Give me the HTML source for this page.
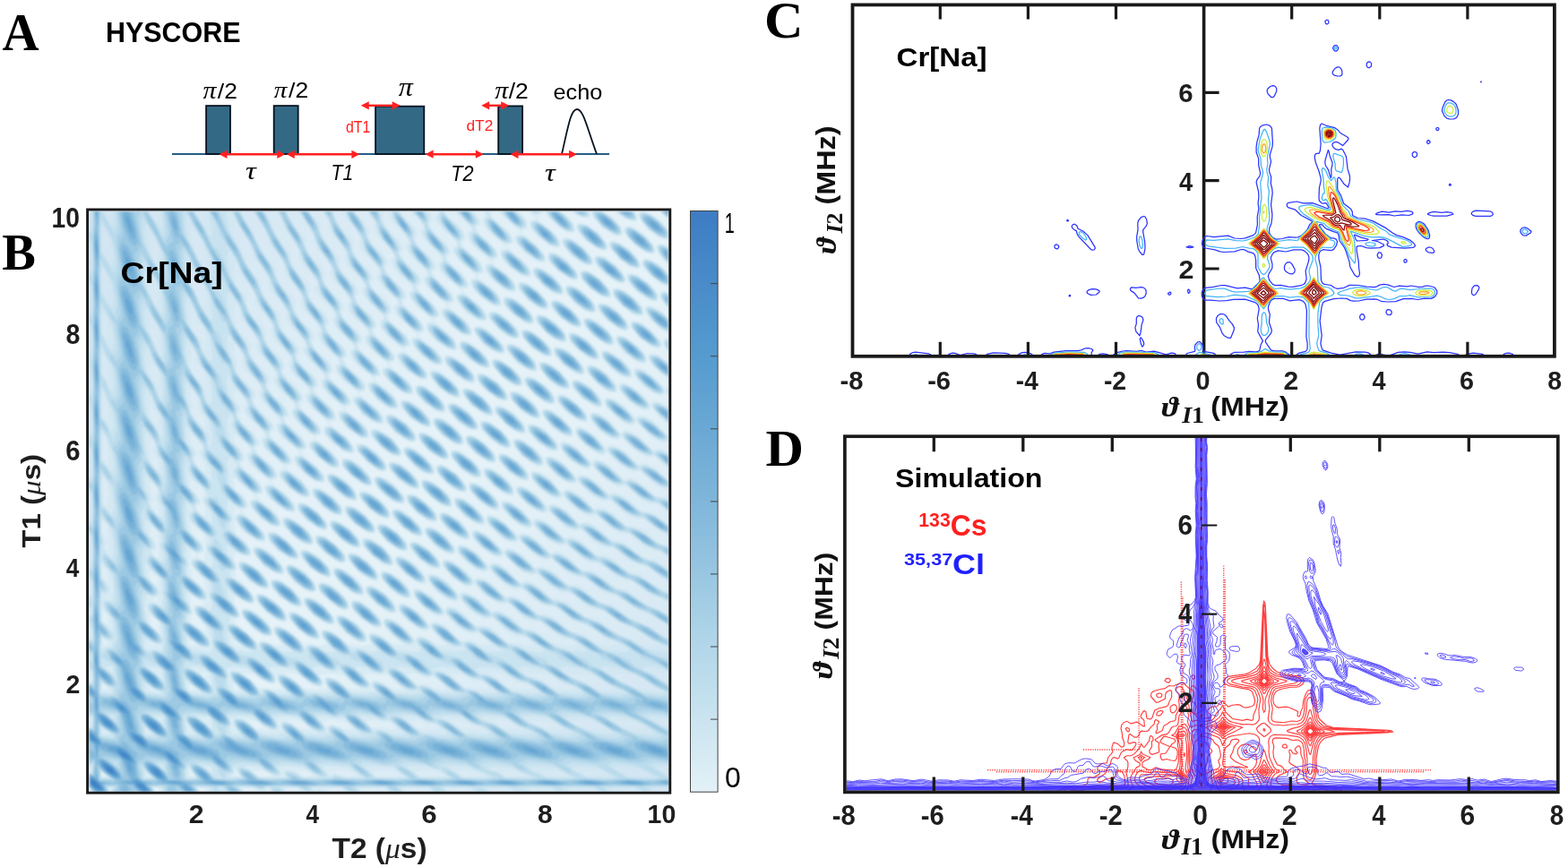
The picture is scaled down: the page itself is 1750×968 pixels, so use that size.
<!DOCTYPE html><html><head><meta charset="utf-8"><title>HYSCORE figure</title><style>html,body{margin:0;padding:0;background:#fff;width:1750px;height:968px;overflow:hidden}svg{display:block}</style></head><body><svg width="1750" height="968" viewBox="0 0 1750 968"><rect width="1750" height="968" fill="#fff"/>
<line x1="192" y1="172" x2="680" y2="172" stroke="#245f84" stroke-width="1.8"/>
<rect x="230.1" y="118.1" width="26.9" height="53.9" fill="#346985" stroke="#061220" stroke-width="1.8"/>
<rect x="305.7" y="118.1" width="27.0" height="53.9" fill="#346985" stroke="#061220" stroke-width="1.8"/>
<rect x="419.1" y="118.7" width="54.2" height="53.3" fill="#346985" stroke="#061220" stroke-width="1.8"/>
<rect x="556.2" y="118.4" width="26.9" height="53.6" fill="#346985" stroke="#061220" stroke-width="1.8"/>
<path d="M627 172C634 142 637 122 644 122C651 122 655 142 666 172" fill="none" stroke="#061220" stroke-width="1.8"/>
<line x1="252.5" y1="172.3" x2="310.3" y2="172.3" stroke="#ff2121" stroke-width="2.4"/>
<path d="M244.5 172.3l9.0 -4.6v9.2z M318.3 172.3l-9.0 -4.6v9.2z" fill="#ff2121"/>
<line x1="327.8" y1="172.3" x2="393.4" y2="172.3" stroke="#ff2121" stroke-width="2.4"/>
<path d="M319.8 172.3l9.0 -4.6v9.2z M401.4 172.3l-9.0 -4.6v9.2z" fill="#ff2121"/>
<line x1="410.8" y1="117.8" x2="438.7" y2="117.8" stroke="#ff2121" stroke-width="2.4"/>
<path d="M402.8 117.8l9.0 -4.6v9.2z M446.7 117.8l-9.0 -4.6v9.2z" fill="#ff2121"/>
<line x1="482.6" y1="172.2" x2="531.8" y2="172.2" stroke="#ff2121" stroke-width="2.4"/>
<path d="M474.6 172.2l9.0 -4.6v9.2z M539.8 172.2l-9.0 -4.6v9.2z" fill="#ff2121"/>
<line x1="545.2" y1="117.8" x2="560.2" y2="117.8" stroke="#ff2121" stroke-width="2.4"/>
<path d="M537.2 117.8l9.0 -4.6v9.2z M568.2 117.8l-9.0 -4.6v9.2z" fill="#ff2121"/>
<line x1="577.5" y1="172.3" x2="636.0" y2="172.3" stroke="#ff2121" stroke-width="2.4"/>
<path d="M569.5 172.3l9.0 -4.6v9.2z M644.0 172.3l-9.0 -4.6v9.2z" fill="#ff2121"/>
<defs><clipPath id="cb"><rect x="99" y="235.5" width="647.5" height="648.5"/></clipPath><filter id="fb" x="0" y="0" width="1" height="1"><feGaussianBlur stdDeviation="0.9"/></filter><linearGradient id="gcb" x1="0" y1="1" x2="0" y2="0"><stop offset="0" stop-color="#e3f1f7"/><stop offset="0.25" stop-color="#b2d7e9"/><stop offset="0.5" stop-color="#7fb6da"/><stop offset="0.75" stop-color="#559bcf"/><stop offset="1" stop-color="#3d7cc3"/></linearGradient></defs>
<g clip-path="url(#cb)"><rect x="99" y="235.5" width="647.5" height="648.5" fill="#e6f2f9"/><g filter="url(#fb)"><defs><linearGradient id="gh" gradientUnits="userSpaceOnUse" x1="99" y1="235" x2="747" y2="884"><stop offset="0.000" stop-color="#d2e5f2"/><stop offset="0.025" stop-color="#d3e5f2"/><stop offset="0.050" stop-color="#d4e6f2"/><stop offset="0.075" stop-color="#d4e6f3"/><stop offset="0.100" stop-color="#d5e7f3"/><stop offset="0.125" stop-color="#d6e8f3"/><stop offset="0.150" stop-color="#d7e8f4"/><stop offset="0.175" stop-color="#d8e9f4"/><stop offset="0.200" stop-color="#d9eaf4"/><stop offset="0.225" stop-color="#daebf5"/><stop offset="0.250" stop-color="#dcebf5"/><stop offset="0.275" stop-color="#ddecf5"/><stop offset="0.300" stop-color="#deedf6"/><stop offset="0.325" stop-color="#dfeef6"/><stop offset="0.350" stop-color="#e1eff7"/><stop offset="0.375" stop-color="#e2f0f7"/><stop offset="0.400" stop-color="#e3f0f7"/><stop offset="0.425" stop-color="#e4f1f8"/><stop offset="0.450" stop-color="#e4f1f8"/><stop offset="0.475" stop-color="#e5f2f8"/><stop offset="0.500" stop-color="#e5f2f8"/><stop offset="0.525" stop-color="#e5f2f8"/><stop offset="0.550" stop-color="#e5f2f8"/><stop offset="0.575" stop-color="#e4f2f8"/><stop offset="0.600" stop-color="#e4f1f8"/><stop offset="0.625" stop-color="#e3f1f7"/><stop offset="0.650" stop-color="#e2f0f7"/><stop offset="0.675" stop-color="#e1eff7"/><stop offset="0.700" stop-color="#e0eef6"/><stop offset="0.725" stop-color="#deedf6"/><stop offset="0.750" stop-color="#ddecf6"/><stop offset="0.775" stop-color="#dcecf5"/><stop offset="0.800" stop-color="#dbebf5"/><stop offset="0.825" stop-color="#d9eaf4"/><stop offset="0.850" stop-color="#d8e9f4"/><stop offset="0.875" stop-color="#d7e8f4"/><stop offset="0.900" stop-color="#d6e8f3"/><stop offset="0.925" stop-color="#d5e7f3"/><stop offset="0.950" stop-color="#d4e6f3"/><stop offset="0.975" stop-color="#d4e6f3"/><stop offset="1.000" stop-color="#d3e5f2"/></linearGradient></defs>
<rect x="99" y="235" width="648" height="649" fill="url(#gh)"/>
<path fill="#cde5f1" fill-opacity="0.5" fill-rule="evenodd" d="M732 884l-18 0-6-4-14 0-14 0 5 4-7 0-11 0-5-4-14 0-14 0 6 4-6 0-14 0-6-4-14 0-12 0 6 4-6 0-13 0-7-4-14 0-10 0 4 4-6 0-12 0-6-4-16 0-12 0 4 4-6 0-11 0-5-3-16-1-14 0 4 4-6 0-12 0-4-4-14 0-15 0 1 2 3 2-7 0-14 0-4-4-10 0-7 0 6 4-7 0-26 0-6-4-8 0-5 0 4 4-7 0-12 0-2-3-2 3-9 0-7-4-6 0-6 0 3 4-7 0-37 0-1-4-2 0-6 0 3 4-5 0-41 0 0-4-1 0-4 0 1 4-3 0-69 0 0-2-1-2-1-4 1-14 1 0-1-2-1-40 1-9 1 1 0-6-1-1-1-39 1-5 1 1 0-6 0-2-1-1-1-33 1-9 1 1 0-6 0-4-1-3-1-27 1-10 1 0 0-2 0-8-1-3 0-35 0 1 1-3 0-10-1-3-1-9 1-11 0 2 1-15 0-14-1-4-1-8 1-8 1 0 0-12 0-16-1-3-1-9 1-8 1 2 0-12-2-30 1-7 1 1 0-10-2-28 1-9 1 1 0-10 0-14-1-4-1-8 1-11 0 2 1-11 0-16-1-3-1-7 1-11 0 2 1-11 0-16-1-4-1-8 1-9 0 1 1 0 0-18 14 0 5 6 1-6 47 0 1 4 7 11 0-1 1-6 0-8 40 0 11 17 1-7 0-10 39 0 7 12 7 10 6 14 6 12 14 14 1 4-2 4 4 10 5 5 10 9 4 6 1 6-4 2 3 6 4 6 9 8 7 8 2 6-2 2-3 0 3 8 2 3 14 11 5 8 1 4-2 2-3 2 1 4 3 4 14 12 6 8 1 2 0 4-2 1-4 1 0 4 3 4 9 5 6 6 5 5 3 6 0 4-2 2-8-2-12-8-11-12-2-4 0-4 1-1 5-1 0-2-4-6-13-10-7-8-2-6 1-3 4-1-1-4-3-4-10-9-8-10-3-5 1-3 4 0-1-5-3-5-12-11-6-8-2-6 4-2-2-4-4-7-10-9-5-6-1-6 2-4-2-4-6-10-10-12-1-2 1-4-5-10-10-16-7-11-1 9 2 16 5 10 7 16 5 8 8 6 3 6 2 4-3 2 5 10 5 6 8 8 5 6 1 6-2 1-1 3 4 8 13 11 6 7 1 6-4 4 3 6 2 4 12 9 6 7 1 6 0 2-1 1-4 1 3 6 14 12 7 10 2 6-2 2-5 0 1 4 3 4 7 5 8 7 6 8 2 4-1 4-1 0-4 0-6-2-12-8-9-10-2-4 0-4 3-3 3 1-1-4-3-4-13-12-8-8-1-6 1-3 4-1-1-2-3-6-15-12-5-8-1-6 4-2-1-4-6-7-8-7-6-8-2-6 0-2 3-2-1-4-4-6-10-10-5-6-2-6 3-2-2-6-6-10-10-10-1-4 0-4-3-7-1 1-2 8 2 18 1 2 8 8 3 4 1 4-2 2 0 2 5 10 5 5 8 7 4 6 2 6-3 2 0 2 4 8 13 12 5 8 1 5-4 3 2 4 4 5 10 9 7 8 2 4 0 4-1 1-4 1 1 4 3 4 8 7 7 7 5 6 1 6-1 2-5 0 0 4 4 4 7 5 9 9 5 6 1 4 0 4-3 1-8-2-12-9-9-10-3-6 0-2 2-2 5 0-1-4-4-4-8-6-5-6-7-8-2-6 2-2 3 0 0-2-1-4-6-6-10-8-6-8-1-6 1-2 2-1 0-3-6-8-8-8-7-8-2-6 1-2 2 0 0-4-6-9-9-9-4-6-2-4 1-3 1-3-5-8 0-1-1 1-2 10 2 18 3 4 10 9 4 7 1 4-3 2 0 2 5 10 12 10 6 8 1 6-2 1-2 0 0 1 3 8 14 12 6 8 2 6-2 2-4 0 2 6 2 2 9 7 7 7 5 8 1 4-3 2-4 0 1 4 3 4 10 8 7 6 5 8 1 4-1 2-2 1-6-1-10-6-13-12-3-6 0-4 2-2 4 0 0-2-4-6-10-7-10-11-2-4 0-4 2-2 3 0-1-4-4-5-10-9-7-8-3-6 1-4 3 0-1-6-5-6-8-6-7-8-2-8 1-1 2-1 0-2-5-10-5-4-1 6 0 6 4 8 0 4-2 2 2 8 3 3 12 11 5 6 1 4 0 2-4 2 3 8 13 12 7 8 1 6-2 2-2 0-1 2 2 4 3 4 12 10 7 8 1 4 0 4-2 1-4 1 1 4 2 2 11 8 7 8 4 6 1 4 0 2-2 1-8-1-10-6-11-12-3-4-1-4 1-3 6-1-1-2-4-6-9-7-10-11-3-6 1-3 4-1-1-4-3-6-10-8-7-6-3-8 0-3 4-1-2-4-4-7-8-6-1 11 6 6 2 6-1 4-3 0 2 6 5 6 11 10 6 8 1 2 0 3-5 3 2 6 2 2 13 10 6 8 2 4 0 4-2 1-4 1 0 4 4 4 8 6 9 8 4 6 1 4 0 2-2 2-8-2-10-6-11-10-4-8 0-2 1-3 5-1 0-2-5-6-10-8-8-8-3-6 0-2 1-3 4-1-1-4-5-6-13-10 1 10 7 8 4 8 0 2-1 2-4 2 1 4 4 6 5 2 9 8 6 10 0 4-1 2-5 0 1 4 3 4 9 6 9 10 4 6 1 4-2 2-8-1-12-7-5-6-6-6-3-8 2-2 5 0-1-4-3-4-11-9-8-9-1 0 1 14 10 8 5 10 0 2-1 2-5 0 0 4 4 4 7 5 7 7 5 6 3 6 0 4-3 1-6-1-10-6-9-8-7-10 0-4 2-2 4 0 0-4-5-4-2 12 2 18 11 10 5 6 2 6-3 3-4 0-11-5-2 10 3 6 0 4-2 2 1 8 7 5 10 11 3 4 1 4 0 2-2 2-4 0-6-3-9-5-1 0-1 10 4 4 3 6 0 2-2 2-3 0 0 8 11 7 9 9 3 4 2 0 2-2 4 0 12 4 10 0-6-8-4-6-1-4 1-2 4-1 4 1 8 4 10 8 6 7 8 0 10 2 8-2 0-3-4-4-2-6 2-2 2-1 10 3 16 13 16 2 10-2-2-5-1-4 1-3 2 0 4 0 6 2 14 10 14 1 1 0-7-4-8-7-7-7-3-6 0-4 2-2 2 0 6 2 8 5 9 7 7 9 2 1 2-4 4 0 8 4 8 6 14 0-6-4-6-6-6-8-2-1-2 3-2 0-4 0-8-4-10-7-7-9-3-6 0-2 2-2 4 0 8 3 6 4 8 7 6 9 2 0 2-3 4 0 10 4 6 5 10 11 4 2 4-2 2 0 6 2 8 4 12 0-10-10-4-4-4 2-4 0-10-5-9-7-9-10-2-1-2 3-4 0-12-6-11-10-6-8 0-6 3-1 6 2 10 6 8 7 6 8 2 1 2-3 2-1 10 3 10 7 10 12 4 1 0-2 4 0 8 2 8 6 12 12 3 0 7 0 10 2 10 0-5-6-5-4-8 1-8-4-8-5-12-12-2-1-2 2-2 0-6-1-6-3-10-8-8-10-2-1-1 2-3 2-6-2-8-4-11-10-5-8-1-2 0-4 1-1 4 0 6 2 10 6 14 15 4-3 2 0 8 3 12 8 8 10 4 1 2-2 4 0 6 3 10 6 12 12 2 1 6-1 5 2 9 5 10 9 18 3 12-2-9-5-7 0-7-4-5-3-10-9-4-4-4-1-2 2-2 0-10-4-6-5-10-11-4-1 0-1-2 2-4 0-8-3-12-8-10-12-4 3-4 0-10-5-13-12-5-6-1-4 1-2 4-1 8 2 8 6 9 9 5 5 2 1 1-2 3-1 4 0 6 3 10 8 10 10 2 1 4-2 8 2 10 7 11 10 5 3 1-1 3-1 6 2 10 6 10 11 7 2 3 0 6 2 6 4 8 6 18 3 10-2-6-4-4 0-6-2-20-15-4-1-4 0-8-3-8-6-10-9-4-2-6 1-8-3-8-5-12-13-2 0-2 1-4 1-8-3-10-8-12-12-3 2-3 1-10-4-8-6-10-11-2-4 0-4 2-2 2 0 8 3 10 6 12 14 2 0 2-2 2-1 8 2 8 6 14 14 2 1 2-2 4-1 8 3 10 7 8 10 4 2 6-1 8 2 8 7 12 10 4 2 6 0 7 2 19 16 16 5 8 6 16 2 8-2-8-5-16-11-20-7-18-14-5-2-7 0-6-2-8-6-8-9-4-1-2-2-2 2-4 0-8-3-6-5-14-13-2-1-2 2-4 0-10-4-8-7-10-11-2-1-2 3-2 0-4 0-6-3-12-9-6-6-3-6-1-4 2-2 6 0 8 4 6 5 13 13 1 1 2-3 2 0 4 0 4 2 10 6 12 13 2 1 4-2 4 0 6 3 12 8 8 9 4 2 4-2 7 2 9 6 12 12 6 2 6-1 4 3 8 4 8 9 8 3 13 6 15 10 10 5 0 40-10-1-7 2 17 10 0 40-8 0-8 2 12 6 4 1 0 47-5 2 1 2 4 2 0 14-19 0 5 4zM428 473l-6 0-4-1-6-4-8-7-8-9-3-6 1-3 6-1-1-4-4-4-13-10-7-10-1-6 2-2 2 0 0-4-4-6-8-6-10-10-2-6 0-3 4-1-1-4-3-6-11-10-7-7-1-5 0-2 3-2 0-2-2-2-4-8-9-8-5-8-2-4 2-2-1-6-7-12-9-10-1-6-4-10-13-20 9-1 3 1 6 10 4 12 5 8 14 16 1 4-2 4 6 12 3 2 10 9 4 7 1 4-1 2-2 1 0 1 2 6 4 5 10 8 6 9 2 6-4 2 2 6 4 5 12 11 5 6 1 6-2 2-3 0 2 6 3 5 12 9 7 8 1 6-2 3-4 1 1 4 3 4 8 5 10 9 4 6 1 4-1 3zM442 457l-6-1-8-4-8-7-8-9-2-4 0-4 2-2 4 0 0-2-5-8-9-5-5-5-6-8-1-4 0-2 2-2 3 0-1-4-4-6-10-8-8-10-2-6 2-2 2 0 0-4-4-6-12-10-6-8-1-4 0-2 4-2-2-6-5-8-8-6-6-8-1-4 0-2 1-1 0-4-6-11-11-12-1-8-6-12 9 0 9 16 12 14 2 4-2 2 0 2 5 10 3 4 10 8 5 8 1 4-4 2 0 2 4 8 2 3 13 11 4 6 1 6 0 1-4 0 0 1 2 6 4 5 12 9 6 8 1 4-1 2-1 2-3 0 1 6 3 4 13 10 7 10 1 4-1 2-5 0 0 4 3 4 10 7 9 9 4 8 0 4-3 1zM460 440l-6 0-10-5-8-8-8-9-2-6 2-2 5 0-1-4-4-6-10-6-9-10-3-8 2-2 3-2-1-4-3-4-12-10-7-8-1-6 1-2 3-2-1-3-4-7-10-8-6-8-3-6 1-2 2 0 0-4-6-10-8-6-5-8-2-4 1-2 2-2-2-4-8-14-8-8-1-4 12 0 11 12 2 6-2 2 4 10 4 6 10 9 5 7 1 4 0 1-2 1-1 2 3 6 2 4 13 10 5 8 1 2-1 3-3 3 3 8 13 10 7 10 1 2 0 4-5 1 0 1 2 6 2 2 12 11 8 9 1 2 0 4-1 2-5 0 1 4 2 4 10 7 8 7 5 8-1 6zM476 424l-4 0-4-1-6-4-11-9-7-8-1-4 0-4 3-1 2 0 1-1 0-2-5-5-8-7-11-12-2-4 0-2 1-3 4-1-1-4-4-4-13-12-5-8-2-2 0-4 5-2-2-4-4-6-10-8-6-8-2-6 0-2 2-1 1-3-5-8-10-10-4-6-2-4 0-2 2-2-1-4-7-10 14 0 0 2-2 2 4 8 4 7 10 8 6 8 0 5-2 1-1 1 3 8 4 5 11 9 5 8 1 4-1 2-2 0-1 2 3 6 14 12 7 10 0 6-1 0-4 2 2 4 3 4 7 6 8 8 5 6 1 6-2 1-5 1 1 4 3 4 11 8 9 10 3 6 0 2-2 2zM492 408l-8-2-8-5-8-7-6-6-3-6 0-2 1-3 6-1-1-2-4-6-11-9-9-9-2-6 1-3 4-1-1-4-3-4-10-9-8-9-2-6 0-3 4-1-1-4-5-7-9-7-7-8-2-6 1-2 3-1-2-4-4-9-13-12-3-6 0-2 13 0 15 16 3 6-1 2-2 2 1 4 5 8 10 8 6 8 2 4 0 2-5 2 2 6 3 4 11 10 7 8 2 4 0 2-2 2-3 2 1 4 2 3 10 8 10 11 2 4 0 4-2 1-4 1 0 2 4 6 12 8 7 8 3 8 0 2-2 2zM510 391l-6 0-8-4-10-7-8-10-2-4 0-4 0-1 2-1 4 0 0-2-4-6-13-10-8-10-1-6 2-2 3 0-1-4-3-4-11-9-8-9-2-4 0-4 1-2 3 0 0-2-6-10-9-8-6-8-2-6 3-2 0-2-6-10-5-4 18 0 1 0 1 6-3 3 0 1 4 8 14 13 6 9 0 4-4 2 1 4 5 7 6 4 8 9 4 6 0 4 0 2-5 0 3 8 16 14 6 8 1 4-3 3-4 1 1 2 3 4 8 6 11 12 4 8-1 3zM524 375l-6-1-8-5-10-9-6-6-2-4 0-4 2-2 4 0 0-4-4-4-12-10-7-8-2-4-1-4 2-2 3 0-1-4-3-6-11-8-7-10-3-6 2-2 2 0 0-4-4-6-10-10-6-6-3-6 1-4 4-1 7 1 5 5 8 8 7 7 2 6-1 2-4 2 2 4 3 6 9 7 9 9 2 4 0 4-1 1-4 1 1 4 3 6 14 10 6 8 1 4 0 2-1 2-5 0 0 4 3 4 8 6 11 10 4 8 0 4-3 1zM542 358l-6 0-4-2-10-6-9-10-4-6-1-4 2-2 5 0-1-4-4-6-12-8-7-8-2-8 1-2 4-1-1-3-4-6-7-6-10-10-3-8 1-2 3-2-1-4-4-6-11-8 21 0 2 2 3 8-1 2-3 2 2 6 5 5 11 9 6 10 0 2 0 2-5 2 2 6 4 4 12 10 7 10 0 4-1 2-5 0 1 4 3 4 9 7 9 9 4 6 1 4-2 2zM558 342l-4 0-4-1-6-4-10-9-7-8-2-4 0-4 3-1 2 0 1-1 0-2-4-6-9-6-6-6-6-8-1-2 0-4 1-1 4-1 0-2-5-8-10-8-8-8-2-6 1-2 4-1-1-3 7 0 4 6 10 9 7 7 3 8-2 2-3 2 1 4 3 4 13 11 6 7 2 4 0 4-2 1-4 1 0 4 3 4 9 6 9 8 5 10 0 2-2 2zM574 326l-6-1-8-4-10-8-5-7-3-4-1-4 1-3 6-1-1-2-4-6-9-6-8-8-4-6-1-4 1-3 4-1-1-4-4-6-9-7-5-5 21 0 5 6 3 4 0 4 0 2-4 1 0 3 3 6 9 6 10 12 2 4 0 4-2 1-4 1 0 2 4 6 12 8 8 10 2 4 0 2 0 2-2 2zM592 309l-6 0-6-3-12-8-7-8-3-6 0-4 2-2 4 0 0-2-4-6-10-7-10-11-2-4 0-4 5-2-3-6 12 0-5 0 3 8 16 14 6 8 1 4-3 3-4-1 1 4 3 4 12 10 8 8 3 6 0 2-1 3zM606 293l-6-1-4-2-10-7-6-7-5-6-1-4 2-4 5 0-1-4-4-4-12-10-7-8 20 0 7 6 4 6 1 6-1 2-5 0 0 4 4 4 11 9 8 9 3 6 0 4-3 1zM624 276l-6 0-4-2-10-7-8-7-4-6-1-6 1-2 5 0 0-2-3-6-3-2 15 0 0 2-2 1-5 1 1 4 3 4 7 5 12 11 4 8-2 4zM640 260l-6-1-10-5-12-12-4-6 16-1 4 2 12 13 2 6 0 2-2 2zM658 243l-8 0-12-7 19 0 2 4-1 3zM694 263l-6 0-4-1-12-8-9-10-3-6 0-2 12 0 8 4 7 6 5 6 3 6 0 4-1 1zM710 247l-4 0-8-3-11-8 21 0 3 6 0 4-1 1zM746 244l-10-8 10-1 0 9zM746 267l-4 0-6-2-8-5-6-5-8-11-1-2 0-4 3-2 6 1 6 3 8 6 6 6 4 6 0 9zM228 300l2-10-2-18-13-22-2-2-1 10 1 14 9 20 6 8zM676 280l-2 0-6-2-14-9-9-11-2-6 1-2 2-1 6 1 8 4 8 6 5 6 5 8 1 4-3 2zM120 288l1-10-1-18-4-7-1 1-1 8 1 18 2 6 3 2zM730 283l-2 0-6-1-12-7-12-13-2-6 1-2 5-1 4 1 12 8 11 12 2 4 0 2-1 3zM176 298l1-10-1-16-4-10-4-3-1 9 2 18 7 12zM660 296l-4 0-6-2-8-5-6-5-7-10-2-4 1-4 2-1 8 2 12 9 7 6 4 6 1 6-2 2zM712 300l-2 0-6-2-10-7-12-13-2-4 0-4 2-1 6 1 14 8 9 10 3 4 1 6-3 2zM746 295l-7-7-4-6-2-4 1-5 6 0 6 3 0 19zM644 313l-4 0-4-2-12-7-9-10-3-4-1-4 1-3 2-1 6 1 6 3 8 6 7 8 4 6 1 4-2 3zM698 316l-6 0-4-1-12-8-10-11-3-6 1-4 2-1 6 1 6 3 6 5 10 10 3 4 2 4-1 4zM746 320l-6-2-4-3-13-11-6-8-1-4 2-2 4-1 8 3 6 4 8 8 2 3 0 13zM228 346l2-10-2-18-9-14-5-8 0-3-1 1-1 10 1 14 4 8 5 12 6 8zM628 329l-6 0-4-2-10-7-12-12-2-6 1-2 3-2 4 1 14 8 11 13 2 4 0 4-1 1zM120 336l1-10-1-11 0-7-4-8-1 0-1 8 1 18 5 10zM680 333l-8-2-12-8-11-11-2-6 0-2 3-2 6 1 10 6 6 5 7 8 3 6 0 4-2 1zM176 344l1-10-1-16-2-6-6-7-1 11 2 16 4 10 3 2zM734 336l-6 0-4-2-14-9-9-11-1-4 0-4 4-1 6 2 14 9 5 6 5 6 1 6-1 2zM610 346l-10-3-10-8-10-11-2-4 0-4 4-1 6 1 6 4 6 5 9 9 3 4 1 6-3 2zM664 349l-4 0-4-1-6-3-8-6-9-11-2-4 0-4 3-2 8 2 12 9 10 11 2 6-2 3zM716 353l-6-1-6-3-12-9-5-6-3-6-1-4 1-2 4 0 4 1 6 3 8 6 7 6 4 6 2 6-3 3zM746 344l-5-6-4-6-1-4 2-2 2-1 6 2 0 17zM594 362l-4 0-4-2-12-8-10-10-3-6 1-4 2-1 6 1 8 4 8 7 7 7 3 6 0 4-2 2zM646 366l-4-1-6-3-12-8-8-10-2-6 1-2 5-1 4 1 6 3 8 7 6 6 5 8 0 4-3 2zM228 394l2-12-2-16-2-3-7-9-1-2 0-4-5-10-1 12 1 16 1 3 8 7 4 5 1 3-1 3-1 3 3 4zM700 369l-4 0-4-1-10-7-13-13-2-4 0-4 3-2 6 1 6 3 6 5 12 13 2 4 0 4-2 1zM746 372l-6-3-6-5-9-8-5-8 0-4 2-2 4 0 6 2 8 5 6 7 0 16zM120 382l1-10-1-10 0-8-4-7-1 1-1 6 1 18 5 10zM578 378l-4 0-4-1-6-3-8-6-5-6-5-6-1-4 1-4 2 0 6 1 6 3 10 7 9 11 1 6-2 2zM176 392l1-12-1-16 0-2-8-10-1 10 1 14 8 16zM632 382l-4 0-4-1-12-7-11-12-3-4 0-6 2-1 6 1 6 3 8 6 8 7 4 6 1 6-1 2zM682 386l-4-1-4-2-12-8-9-11-2-4 0-4 5-1 4 1 8 4 6 5 7 7 4 6 1 6-4 2zM736 389l-4 0-4-2-12-8-10-11-3-6 1-2 2-2 6 1 8 4 8 7 7 8 3 4 1 4-3 3zM562 395l-4 0-6-2-8-5-6-5-8-11-2-4 2-3 2-1 6 1 8 5 6 5 6 5 5 8 1 4-2 3zM616 398l-6 0-4-1-10-7-13-14-2-4 1-4 2 0 4 0 6 2 8 6 12 12 2 4 0 4 0 2zM668 402l-8-1-12-8-12-13-2-4 0-4 2-1 6 1 12 7 11 11 3 4 1 2 0 4-1 2zM718 406l-4-1-8-4-11-9-7-10-1-4 1-3 6 0 6 3 14 10 5 6 3 6 0 4-4 2zM746 393l-3-3-3-6 0-4 2-2 4 1 0 14zM546 411l-6 0-2-1-12-7-11-11-3-6 1-4 3-2 4 1 14 9 8 8 4 6 1 4-1 3zM598 415l-8-2-12-7-11-12-2-4 0-4 1-2 6 0 8 4 6 5 10 9 3 6 1 4-2 3zM230 430l-2-14-9-12-1-4 2-4-5-10-2 0-1 12 1 16 3 5 7 5 5 7 2-1zM652 418l-6 0-2-1-6-3-8-6-10-10-2-4 0-6 4-1 6 2 6 3 8 7 7 7 3 6 1 4-1 2zM704 422l-4 0-6-2-8-5-6-5-8-10-1-4 0-4 3-1 6 1 6 3 8 6 6 7 5 8 1 4-2 2zM120 426l1-8-1-14-4-11-1 1-1 6 1 18 5 8zM746 423l-8-6-10-9-4-6-1-4 1-3 6 0 4 1 12 9 0 18zM528 428l-2 0-6-2-10-7-10-9-3-4-1-6 0-2 4-1 6 1 12 8 8 8 4 6 1 6-3 2zM177 430l0-6-1-12-6-8-2-6-1 10 1 12 9 10zM582 431l-4 0-4-1-12-8-11-12-3-6 1-2 3-2 4 1 12 7 11 10 3 4 2 6-2 3zM634 435l-2 0-6-2-8-5-6-5-9-11-2-4 1-4 4 0 4 1 6 3 10 7 7 9 3 4 0 6-2 1zM688 438l-6 0-2-1-12-7-12-14-2-4 1-4 3-1 6 2 12 8 8 7 4 6 1 6-1 2zM746 442l-4-4-2 3-4 1-4-2-8-4-13-12-4-8 0-4 3-1 2 0 10 4 8 6 12 13 4-3 0 11zM512 444l-6-1-14-8-11-13-2-4 1-4 2-1 6 1 12 8 12 12 2 6 0 2-2 2zM564 448l-8-2-12-8-9-10-3-6 0-4 2-1 8 1 10 6 6 5 6 7 3 6 0 4-3 2zM618 451l-4 0-6-2-12-9-10-12-1-2 0-4 3-2 8 2 12 8 6 6 5 8 1 4-2 3zM670 455l-8-2-10-7-12-12-2-4 0-4 2-2 6 1 14 8 8 9 4 6 1 4-3 3zM746 473l-10-7-6-9-4-2-2 3-6 0-8-4-6-5-11-11-2-4 0-6 3 0 4 0 10 5 9 9 7 8 2 1 2-3 2 0 4 0 12 6 0 1 1 5-1 13zM494 461l-4-1-4-2-12-8-9-10-2-4 1-5 4-1 4 1 10 6 6 5 6 6 4 8 0 2-2 2-2 1zM550 464l-4 0-4-1-6-3-10-7-9-11-2-6 1-2 4-1 6 2 14 9 9 12 2 4-1 4zM229 478l0-12-6-6-3-6 0-4 2-1 1-1-6-12-3-2-2 0 0 12 4 8 0 3-3 1 0 4 7 9 9 7zM600 468l-4-1-6-3-6-4-6-5-6-7-3-4-1-4 1-2 5-1 4 1 6 3 8 7 7 6 4 8 1 2-1 2-3 2zM120 472l1-8-1-14-4-12-1 0-1 10 1 18 5 6zM654 471l-6-1-14-8-8-8-3-4-2-6 1-2 2-2 6 1 6 3 6 5 10 9 3 4 1 4 0 2-2 3zM177 476l0-12-8-10 0-4 2-4-1-2-2 0-1 10 2 16 8 6zM744 494l-2 0-4 0-10-5-8-8-8-9-2-1-2 3-4 1-6-2-8-5-6-6-7-8-3-6 0-2 2-2 4 0 10 5 11 9 7 9 2 0 2-3 4 0 12 6 8 6 8 9 2 1 0 7-1-1-1 2zM480 477l-4 0-6-2-12-8-9-11-3-6 1-2 3-2 6 1 10 6 6 5 6 8 3 4 0 6-1 1zM534 480l-4 0-4 0-12-7-7-7-5-6-3-6 0-2 1-2 6 0 8 4 8 5 10 11 2 4 0 6zM586 484l-4 0-4-1-12-7-12-14-2-4 0-4 4-1 4 1 14 8 11 12 2 6 0 2-1 2zM636 488l-8-3-12-8-9-11-2-4 0-4 3-1 6 1 10 6 6 5 6 7 4 6 0 4-4 2zM746 524l-14-14-2-1-2 2-4 0-12-6-8-6-10-11-4 3-4 0-6-3-6-4-8-6-5-6-3-6 0-4 4-2 6 2 6 3 8 7 8 10 4 2 2-3 2-1 4 1 6 3 8 6 12 12 2 1 4-2 4 0 8 4 0 19zM464 493l-6 0-2-1-6-3-10-7-9-12-1-2 0-4 4-2 4 1 8 4 8 6 5 5 5 8 1 4-1 3zM516 497l-4 0-6-2-8-6-12-11-3-6 0-4 3-2 6 1 6 3 8 6 7 8 4 6 1 4-2 3zM570 500l-6 0-4-1-12-8-10-11-2-4 0-6 6 0 4 1 10 7 10 10 3 4 2 4-1 4zM622 504l-4 0-6-2-12-8-9-10-3-8 1-2 1-1 2 0 8 2 8 5 6 5 6 7 3 6 1 4-2 2zM746 547l-6-1-8-4-7-6-9-10-2-1-4 2-4 0-8-4-10-7-10-11-2-1 0 3-4 1-4-1-8-4-10-8-5-7-3-4 0-6 2-1 4 0 8 4 10 7 10 12 2 0 0-2 2-1 4 0 6 2 8 6 11 11 3 3 2 0 2-2 4 0 10 5 8 6 8 9 0 10zM446 510l-2 0-6-2-8-5-6-5-9-10-2-6 1-2 4-1 4 1 10 5 6 5 5 6 5 8 1 2-3 4zM500 513l-4 0-4-1-12-7-9-9-3-4-2-6 1-2 3-2 4 1 6 3 8 5 11 13 2 4 0 2-1 3zM229 528l0-10-4-6-3-6 1-4 3-1 0-3-6-9-8-5 0 10 7 10 1 4 0 2-4 1 0 3 5 8 8 6zM120 520l1-10-2-18-3-8-1 0-1 10 1 18 0 2 5 6zM552 517l-4 0-4-2-12-8-11-11-2-6 0-2 3-2 4 0 4 2 10 6 6 6 7 8 1 6-2 3zM177 524l0-10-5-7-2-5 1-2 3-1 0-1-2-6-2-3-1 1-2 10 2 18 5 6 3 0zM606 520l-6 0-2-1-6-3-8-6-9-10-3-6 0-2 2-2 6 0 8 4 8 6 5 6 5 6 1 6-1 2zM746 573l-8-9-4-2-6 1-4 0-8-5-18-16-2 0-2 2-2 0-10-4-10-7-10-12-2 0-2 3-4 0-10-5-6-4-9-9-4-8 0-4 3-1 2 0 10 4 8 7 12 12 0 1 4-4 2 0 10 4 6 5 14 13 2 1 2-2 2-1 8 3 10 7 11 11 3 1 6-1 6 2 0 17zM430 526l-4 0-4-1-10-7-13-14-2-4 1-4 2-1 6 1 14 9 7 7 4 6 1 6-2 2zM482 530l-8-2-10-7-12-13-2-4 0-4 2-1 4 0 6 2 8 6 13 13 2 4 0 4-3 2zM536 533l-4 0-4-1-6-3-8-6-9-11-2-4 0-4 3-2 4 1 8 4 10 7 7 8 2 4 1 4-2 3zM588 537l-2 0-6-2-8-5-6-5-9-11-1-2 0-4 2-2 6 1 6 3 8 6 7 6 5 8 1 4-3 3zM746 599l-6-3-6-4-16-13-2-1-2 2-4 0-8-4-8-5-12-12-2-1-2 2-4 0-10-4-8-7-12-12-2 3-4 0-12-5-4-4-10-9-3-6-1-4 1-2 7 0 10 5 8 7 10 11 2-3 2 0 4 0 6 3 12 8 8 10 2 1 4-2 4 0 8 4 8 5 8 9 4 3 2 1 2-2 4 1 10 5 12 10 0 13zM412 543l-8-3-12-8-7-8-3-4-1-4 0-4 5 0 4 1 8 4 6 6 7 7 4 6 1 4-4 3zM466 546l-6-1-6-3-8-6-10-10-3-6 1-4 4-1 6 2 6 3 10 8 5 6 3 6 1 4-3 2zM518 550l-4-1-6-2-12-9-8-10-2-6 1-2 5-1 4 1 8 5 8 6 7 9 2 4 0 4-3 2zM572 553l-4 0-4-1-10-7-11-11-3-4-1-6 3-2 4 1 6 2 8 6 12 13 2 4 0 4-2 1zM746 622l-10-7-6 0-8-3-6-4-12-11-3-1-9 0-6-4-8-5-12-12-2 0-2 1-4 1-8-4-12-8-10-11 0-1-2 3-4 1-10-4-6-5-9-8-5-8 0-4 2-2 2 0 8 2 10 7 12 14 2 0 4-3 8 2 12 9 10 11 2 0 3-2 3 0 6 2 10 7 12 12 4 1 4-1 6 1 10 6 9 10 3 2 4 2 8 0 0 14zM398 559l-8-1-12-8-12-12-2-6 1-2 3-2 4 1 14 8 11 13 2 4 0 4-1 1zM120 566l1-10-2-18-4-6-1 10 1 18 1 4 4 3 0-1zM450 563l-8-2-14-9-8-10-3-6 0-2 3-2 6 1 6 3 10 7 9 11 1 6-2 3zM228 576l2-10-4-6 0-2 0-2 2-2-1-8-15-13 0 1 0 2 0 8 9 10 3 6 0 3-5 1 0 2 3 7 4 3 2 0zM504 566l-6 0-4-2-8-5-6-5-9-10-1-4 0-4 4-1 4 1 6 3 8 6 8 7 4 6 1 6-1 2zM177 574l0-10-4-10 1-2 2-2 0-4-4-5-4-4-1 11 4 10-3 3 1 5 1 4 4 3 3 1zM556 570l-2 0-6-2-12-7-11-13-2-4 0-4 1-1 6 0 8 4 6 5 9 8 4 6 1 6-2 2zM746 649l-8-4-9-7-7-6-10-1-6-3-8-4-10-11-4-2-4 2-2-1-10-3-8-6-7-9-5-3-4 2-2 0-8-3-8-6-14-14-2 3-4 0-10-4-8-6-7-7-5-8 0-4 4-2 4 1 6 3 12 9 8 10 2 1 1-2 3-2 6 2 12 8 12 12 2 1 2-2 2 0 6 1 12 7 12 12 2 1 6-1 4 1 10 6 12 12 8 3 2-1 4 0 6 4 10 8 0 13zM382 575l-6 0-4-1-12-8-10-12-2-4 0-4 4-1 6 1 10 6 6 5 5 7 3 4 1 4-1 3zM434 579l-4 0-6-2-12-9-10-12-2-4 1-2 3-2 6 1 6 4 8 6 6 5 5 8 1 4-2 3zM486 583l-6-1-4-2-10-7-11-13-2-4 1-4 6 0 4 1 12 9 8 8 4 6 1 4-1 2-2 1zM540 586l-8-1-12-8-9-9-3-4-2-4 1-4 3-1 4 1 6 3 8 5 9 10 3 4 1 2 0 4-1 2zM746 672l-8-5-8-1-5-2-15-13-6-3-2-1-6 1-8-3-6-5-8-8-6-4-8 1-6-3-10-7-10-11-4-1-2 2-2 0-10-3-8-6-12-13-2-1 0 3-4 1-4-1-8-4-8-7-8-8-3-6 0-4 3-1 4 0 6 3 12 9 10 11 2 0 0-2 2-1 4 0 4 2 12 7 10 12 4 1 2-2 4 0 6 2 8 6 12 12 4 2 6-2 6 2 8 5 12 12 6 3 6-1 7 4 17 14 10 4 0 10zM364 592l-2 0-6-2-14-9-5-5-4-6-2-6 1-2 4-1 4 1 10 6 6 5 7 7 3 6 0 4-2 2zM418 595l-6 0-2-1-10-6-8-6-5-6-3-6 0-4 2-1 6 0 8 4 6 5 8 8 4 6 1 6-1 1zM214 570l0-3-1 3 1 0zM470 599l-4 0-2-1-14-8-11-12-2-4 0-4 3-2 6 1 12 8 12 13 2 4 0 4-2 1zM522 603l-4-1-6-2-12-9-5-5-4-6-1-4 0-3 2-1 2 0 6 1 10 6 6 5 6 8 3 6 0 2-3 3zM746 699l-20-13-6-2-8-2-4-3-12-9-7-4-3-2-6 0-7-2-8-6-11-11-4-1-4 1-8-3-11-8-9-9-4-1-2 2-4 0-8-4-8-6-12-13-2 0-2 2-2 1-10-3-10-8-8-9-3-4 0-6 3-1 2 0 8 3 10 8 12 12 0 1 2-3 2-1 10 3 8 6 13 12 3 2 2-2 2-1 8 3 8 5 12 13 4 1 6-1 6 2 9 6 11 10 4 3 6 0 6 1 7 6 13 10 18 8 8 6 0 11zM348 608l-4 0-6-2-12-9-10-11-1-4 0-4 3-1 8 2 12 9 6 6 5 6 1 6-2 2zM227 626l3-12-2-18-11-10-5-5 0 1 1 12 11 12 4 8 0 2-2 1-4 1-1 0 1 4 1 2 4 2zM400 612l-6-1-12-7-11-12-3-6 0-4 2-1 6 1 14 8 8 8 4 6 1 6-3 2zM121 604l-1-18-6-4 0 13 6 9 1 0zM454 615l-6 0-2-1-12-8-11-12-2-4 0-4 3-1 4 0 6 3 8 5 12 13 2 6-2 3zM176 624l1-12-1-6 1-2-1-12-8-5-1 11 5 6 3 6-1 3-4 1 0 3 4 7 2 0zM506 619l-4 0-4-2-14-9-8-10-3-6 1-2 2-2 6 1 8 4 8 6 7 9 3 4 0 4-2 3zM330 625l-4-1-6-3-12-9-6-6-3-6-1-4 1-2 5 0 4 1 8 5 6 5 7 7 4 6 1 4-1 2-3 1zM384 628l-4 0-4-1-12-8-11-13-2-4 1-4 2-1 6 1 6 3 6 5 10 10 3 4 1 2 0 4-2 2zM438 632l-4 0-6-2-12-8-9-10-3-6 0-4 2-1 2 0 6 1 6 4 10 7 6 7 3 6 0 4-1 2zM490 635l-4 0-6-2-12-9-10-12-1-4 1-2 2-2 4 1 8 4 8 6 6 5 5 8 1 4-2 3zM120 614l0-6-2 1-1 1 1 4 2 0zM316 641l-4 0-4-1-12-7-12-13-2-4 0-4 4-2 4 1 14 8 11 13 2 4 0 4-1 1zM230 662l-2-14-12-14-3-4 0-6 1-1 5-1-1-4-4-3-1-1-1 14 1 16 13 12 4 6zM368 645l-8-2-12-8-11-11-2-4 0-4 1-2 6 0 6 3 8 5 12 14 2 6-1 2-1 1zM422 648l-6 0-2-1-6-3-8-6-6-6-5-6-1-4 0-4 2-1 6 1 8 4 8 6 9 12 2 4-1 4zM474 652l-6-1-6-3-12-9-6-7-3-4 0-4 1-2 2-1 6 1 6 3 8 6 7 7 4 6 1 6-2 2zM298 658l-4-1-6-2-10-7-10-12-2-4 0-4 4-1 6 1 12 8 8 8 4 6 1 6-1 1-2 1zM352 661l-4 0-6-2-12-8-9-11-3-6 1-2 1-2 2 0 8 2 8 5 6 5 6 8 3 4 1 4-2 3zM121 650l-1-12-6-7 0 13 6 6 1 0zM404 665l-6-1-8-4-10-8-6-8-2-4-1-4 1-2 4 0 4 1 6 3 10 7 5 5 5 8 0 6-2 1zM177 658l-1-14-9-8 0 10 9 12 1 0zM458 668l-4 0-4-1-12-7-12-14-2-4 1-4 3-1 4 1 6 3 8 5 11 12 2 4 0 4-1 2zM334 678l-4-1-6-3-10-7-9-9-3-6 0-4 2-1 6 0 8 4 8 7 8 8 3 6 0 4-1 1-2 1zM388 681l-4 0-4-1-10-7-12-11-3-6 0-4 3-2 6 1 6 3 8 6 7 8 4 6 1 4-2 3zM440 685l-10-3-10-8-10-10-2-4 0-5 2-1 4 0 4 1 6 4 6 5 9 8 3 6 1 4-3 3zM318 694l-2 0-6-2-8-5-6-5-9-10-2-6 1-2 2-1 6 1 6 3 8 6 7 7 5 8 1 4-3 2zM230 708l-1-10-10-12-3-6 1-4 1 0 4 0 5 2 1-8-6-1-9-5-1 12 3 6 0 2-2 4 0 8 9 6 8 6zM116 668l0-1-1 1 1 0zM175 672l1-4-4-1 0 3 1 2 1 1 1-1zM372 697l-6 0-2-1-12-7-9-9-3-4-2-6 1-2 7-1 4 2 10 6 11 13 3 6-2 3zM424 701l-4 0-4-2-12-8-8-7-4-6-1-4 1-2 2-2 6 1 12 7 10 10 3 4 1 6 0 2-2 1zM302 710l-4 0-4-1-10-6-12-13-3-6 0-2 3-3 4 1 6 2 10 7 7 7 4 6 1 6-2 2zM121 698l0-10-7-8 1 14 6 4zM356 714l-4 0-4-1-12-8-12-13-2-4 0-4 2-1 6 1 12 7 13 13 2 6 0 2-1 2zM177 706l0-12-10-10 1 14 8 8 1 0zM408 717l-6 0-2-1-14-9-6-7-4-6-1-2 1-4 2-1 6 1 6 3 10 7 7 8 2 4 1 6-2 1zM119 720l0-4-4-4 0 8 4 0zM220 720l1 0-9-6 0 6 8 0zM266 720l3 0-1-1-7-5 1 6 4 0zM173 720l2 0-6-2 0 2 4 0zM229 756l1-4-6 0 2 4 3 0zM312 770l5-2-6-6-2-4-1-4-2 0 2 4 0 4-2 1-4 0-8-3-10-7-14-1 8 6 10 10 12 1 4 1 8 0zM405 770l-9-6-12-10-16-2-12 2 4 6 1 4-1 2-4 1-4-1-8-4-10-9-10-1-8 0 2 1 8 5 12 11 16 1 12-2-4-6 0-4 2-2 2 0 10 3 12 10 17 1zM451 770l-9-7-8-9-6-1-2 1-6-2-4 0-10 1 6 9 2 1 2-3 6 0 8 4 8 5 13 1zM498 770l0-2-10-10-4-3-4 2-4 0-10-5-12 1 0 1 12 11 2 0 2-1 2-1 6 2 8 4 12 1zM544 770l3-2-5-6-6-3-4 1-4 0-14-7-12-1 6 6 6 6 4 4 4 0 4-1 6 2 12 1zM591 770l6-2-7-5-4-1-4 1-5-1-13-9-10-1-6 0 8 5 12 11 23 2zM637 770l7-2-4-2-12-3-12-9-16-2-12 2 3 2 5-1 6 3 7 4 7 6 21 2zM683 770l7-2-2 0-8-4-16-10-18-2-10 2-1 0 5 4 14 5 9 5 13 2 7 0zM730 770l5-2-17-10-10-4-16-2-9 2 5 4 22 11 20 1zM177 754l-1-1 1 1zM266 770l1-2-6-6 0 8 5 0zM119 770l0-4-4-2-1 5 5 1zM220 770l-8-6 0 6 8 0zM173 770l-4-2-1 2 5 0zM415 768l-1-1 0 1 1 0zM229 806l0-2-3 0 3 2zM300 814l-4-2-10-7-14-1 4 2 10 8 10 0 4 0zM343 814l3 0 1 0-11-9-10-1-8 0 8 4 8 6 9 0zM395 814l-9-8-16-2-11 2 5 6 2 0 2-3 4 0 12 5 6 0 5 0zM443 814l-3-6-4-2-10 0-4-2-4 0-10 1 6 7 8 0 12 2 9 0zM482 814l11-2-7-4-6 1-4-1-6-4-13 0 7 9 18 1zM535 814l5-2-10 0-12-7-15-1 11 9 14 1 7 0zM582 814l-14-9-12-1-6 0 0 2 12 7 12 1 8 0zM621 814l7 0 2-2-4-1-8-5-16-2-11 2 2 2 13 5 15 1zM675 814l2-2-13-6-16-2-11 2 13 7 16 1 9 0zM714 814l10-2-14-6-16-2-10 1 12 8 18 1zM313 812l0-6 1-1-4 1 2 6 1 0zM116 814l-2-2 0 2 2 0zM213 812l-1 0 0 1 1-1zM304 866l-10-5-12 0 0 1 6 5 12 0 4-1zM351 866l-7-5-15-1 9 7 13-1zM400 866l-7-4-15-2-12 2 2 2 2 0 2-2 2 0 12 5 14-1zM449 866l-5-4-18-2-10 2-1 0 5 5 18 0 11-1zM499 866l-9-4-18-2-9 2 3 4 2 1 18 0 13-1zM545 866l-11-4-16-2-9 2 7 5 16 0 13-1zM590 866l-10-4-14-2-10 2 8 5 14 0 12-1zM636 866l-10-4-14-2-10 2-1 0 9 5 14 0 12-1zM683 866l-7-4-5 0-15-2-8 2-1 0 9 5 14 0 13-1zM730 866l-8-4-4 0-16-2-8 2 8 5 14 0 14-1zM120 866l-6-4 0 5 6-1zM218 866l-4-4-2 0 0 5 6-1zM268 866l-4-4-2 0 0 4 6 0zM316 866l1 0-1-1 0 1z"/>
<path fill="#bedded" fill-opacity="0.5" fill-rule="evenodd" d="M730 884l-14 0-8-5-18 0-14 1 7 4-14 0-7-5-18 0-15 1 8 4-1 0-14 0-8-5-16 0-14 1 9 4-3 0-12 0-10-5-16 0-12 1 6 4-4 0-10 0-4-3-6-2-16 0-12 0 5 5-5 0-10 0-6-5-18 0-14 0 0 1 5 4-5 0-10 0-6-5-18 0-14 1 4 4-4 0-10 0-6-5-16 0-18 0 2 5-10-1-8-4-12 0-6 0 5 5-5 0-11 0-3-5-2 0-2 3-4 1-10-4-8 0-6 0-1 1 5 4-6 0-32 0-1-4-5-1-8 0-1 1 4 4-5 0-37 0-1-4-2-1-8 0 3 5-1 0-47 0 1-4-2-1-4 1 2 4-19 0-1-2-2-2-1-2 1-16 2 1 0-1 0-6-2-1-1-35 1-8 2 0 1-10-1-1-2 0-1-31 1-9 3 3 0-10 0-4-3-2-1-28 1-8 2 3 1-7-1-7-2-4 0-9 2-2 0-4 0-2-2-1-1-7 1-8 2 4 1-6-1-12-2-5-1-5 1-10 2 3 0-1 1-16-1-16-2-4-1-6 1-9 2 3 1-14-1-18-2-4-1-8 1-7 2 3 0-2 1-10-1-20-2-4-1-8 1-7 2 3 1-10-1-20-2-5-1-7 1-8 2 4 0-2 1-8-1-18-2-6-1-8 1-7 2 4 0-1 1-10-1-18-2-6-1-6 1-8 2 4 1-12-1-20-2-4-1-6 1-8 2 3 0-1 1-8-1-22-2-5-1-7 1-7 2 3 0-2 1-20 12 0 9 16 3-8-1-8 40 0 14 24 2-10-1-14 36 0 12 20 5 9 3-5 0-4-3-16-1-4 21 0-1 2 0 4 4 20 9 14 10 22 10 14 9 20 13 20 3 10 2 4 7 10 6 6 5 6 1 4-2 2 0 4 3 6 5 6 10 8 4 6 2 6-2 1-2 1-1 2 1 4 3 4 15 13 4 5 2 4 0 3-1 1-5 1-2-1-14-9-7-9-2-4-1-4 5-4-1-2-3-6-13-10-4-7-2-5 2-2 0-4-2-4-16-20-4-16-14-20-7-18-12-18-8-18-7-10-2 6-1 4 4 20 1 4 12 18 9 20 11 16 7 18 7 9 6 6 5 5 1 4-2 6 3 6 14 14 5 8 1 4-4 4 1 4 2 4 16 14 4 5 2 5-2 3-6 0-13-9-8-10-3-6 1-2 4-2-1-4-4-6-11-10-6-6-2-6 3-2 0-4-2-4-16-20-2-2-1-10-2-4-12-18-4-8-3-8-4-8-6-9-2-1-3 4 0 6 3 16 4 10 14 20 2 4 2 8 3 6 17 20 1 4-1 3-1 3 3 6 4 6 10 9 6 7 1 4 0 2-3 1-2 1 2 6 18 16 4 6 2 4-1 2-1 2-4 0-4-1-12-9-8-8-2-6-1-2 1-2 4-2-1-4-3-4-11-10-6-8-2-4 2-6-2-6-15-18-2-4-1-8-2-6-15-21-3 5 1 10 2 8 3 6 4 12 6 10 9 8 4 5 1 3-2 6 4 8 13 14 6 6 0 6-4 2 1 6 2 2 11 9 6 7 4 6 1 4-1 1-2 1-4 0-2-1-12-9-8-7-2-5-1-4 1-2 4-2-1-2-4-6-11-10-6-8-2-4 1-2 1-1 0-5-4-8-13-14-3-10-2 4-1 4 3 16 7 8 3 4 0 4-2 1 0 3 2 4 3 6 13 12 5 8 1 2 0 2-4 2-1 2 2 4 3 4 8 6 8 7 4 6 1 5-1 2-1 0-5 1-2-1-12-8-8-8-3-6-1-4 2-1 3-3 0-2-4-6-12-10-5-8-2-4 2-3 0-3-2-6-1 0-3 6-1 4 3 20 10 9 5 7 1 5-5 3 1 4 3 4 11 8 6 6 4 6 1 4-3 3-6 0-10-7-8-7-4-5-2-6 1-2 3-2 1-2-1-2-4-5-4-3-2 5-1 3 2 8 0 4 2 12 13 12 5 6 1 4-2 3-6 0-12-8-1 1-2 4 1 6 4 6 2 4-1 2-3 2 1 8 9 7 8 7 4 6 2 6 0 2-2 0-6 0-8-4-10-8-1 4 1 8 7 6 3 8-2 2-5 2 0 6 9 5 10 8 6 7 2 6-1 2-3 2-6-2-12-8-9-8 2 12 9 10 3 8 0 2-1 2-4 0-5-2-1 8 10 3 10 8 9 9 2 4 1 5 2-1-1-4 1-2 2-2 2 0 10 4 8 7 10 1 7 0-7-5-11-9-5-8 0-4 1-2 5 0 10 5 10 9 8 10 2 0 2-4 4 0 8 3 6 4 6 1 7 0-9-9-6-7-1-6 0-2 2 0 5 0 8 4 9 8 9 8 10 0 8 3 4 1 6 0 3-2-6-6-4-6-1-4 2-3 6 1 6 4 8 6 8 7 16 3 8 0 5-2-7-10 2-4 2-1 6 1 6 3 12 10 18 3 10-3-4-4-6 2-4-1-6-3-7-5-5-6-7-8 1-4 4-1 6 2 7 5 15 14 2 1 6-1 4 0 6 4 8 6 10 2 8 0 6-2-7-2-6-4-17-15-10 1-6-2-6-4-8-7-6-9-1-2 2-2 3-2 7 2 7 6 16 14 8-1 8 3 20 17 12 3 8 4 8 2 8 0 6-2-10-6-14-10-10-2-8-3-18-16-10 1-10-6-8-6-8-10 0-4 2-2 2 0 6 2 8 4 16 15 2 1 6-1 7 3 7 4 14 12 10 3 6 3 20 14 11 4 17 2 4 0 4-2-16-12-16-6-20-14-12-3-6-2-8-6-10-10-2-1-6 1-2 0-10-5-9-6-8-10-1-4 2-2 2 0 7 2 7 4 16 15 8-1 6 3 8 5 14 12 10 2 6 2 20 15 16 6 20 14 22 3 4 0 5-2 0-2-9-5-20-9-18-12-16-6-20-15-12-2-6-3-6-4-14-12-8 1-9-5-9-7-9-11 0-2 2-2 3-1 4 1 11 8 13 13 2 1 6-2 7 2 8 6 13 11 16 5 20 14 16 7 20 13 16 7 16 9 20 4 4 0 2-1 0 22-4-2-16-3-5 0-5 4 12 5 19 13-1 35-16-2-8 2 0 1 24 13 1 1-1 39-8 0-7 1 0 2 15 9 0 12-10 0-13 1 7 4zM386 453l-6-2-10-7-9-12-2-6 1-1 4-3-1-2-4-6-12-10-5-8-2-4 2-6-1-4-3-4-13-16-3-12-2-4-14-22-7-16-12-18-8-18-11-18-9-18 9 0 4 8 9 14 10 20 13 20 6 16 14 20 3 10 3 6 6 10 8 6 3 6 1 4-1 2 0 2 2 6 5 7 10 9 5 6 1 6-4 4 1 4 4 4 12 10 7 9 1 3-1 3-4 2zM406 436l-6 0-2-1-13-9-8-10-2-6 1-2 2 0 2-2-1-4-4-4-11-10-5-8-2-4 0-2 1-1 1-3-2-4-3-6-13-14-4-16-13-20-9-20-10-14-11-24-11-16 11 0 2 2 5 10 6 14 13 20 6 14 14 22 6 16 6 8 8 8 4 5 1 3-1 3-1 3 2 6 5 7 11 9 5 6 0 5-4 3 1 4 3 4 11 10 7 7 4 7-1 2-1 2zM422 420l-4 0-6-3-11-9-7-8-2-6 0-2 4-2 0-4-4-4-12-12-5-6-2-4 2-6-1-4-3-6-14-16-2-12-2-4-13-18-7-18-13-20-10-20 9 0 6 12 11 16 7 18 12 16 8 20 17 20 1 4-1 2 0 4 2 6 4 6 11 10 5 6 1 4-5 4 2 6 2 2 14 12 6 8 2 6-2 2zM438 403l-6 0-4-2-10-9-8-8-2-6 1-2 4-2-1-4-5-6-11-10-5-6-1-6 2-4-2-6-16-20-3-12-2-4-13-20-7-16-15-24 10 0 6 8 4 6 6 16 13 18 4 12 3 6 17 20 1 4-2 2 0 4 2 4 4 7 12 10 4 7 1 4-4 4 1 4 3 4 11 8 6 8 4 8 0 2-2 1zM454 387l-4 0-4-2-12-9-8-9-1-7 4-4 0-2-4-6-12-10-6-8-1-4 2-6-1-2-4-8-13-14-1-4 0-2-3-10-14-20-5-14-6-10 10 0 5 12 14 22 3 10 3 6 8 9 6 7 3 4 1 4-2 2 0 4 3 6 3 4 12 10 5 6 1 6-5 4 1 4 3 4 12 10 7 6 3 8-1 2-2 1zM468 371l-6-2-8-7-10-11-3-7 1-2 4-2-1-2-3-6-12-10-6-8-2-4 1-2 2-2 0-2-2-4-16-20-4-16-13-18-5-10 10 0 10 14 3 6 2 8 4 8 15 16 2 4-2 6 2 6 7 8 8 8 6 8 0 4-4 2 1 6 2 2 15 13 6 9 1 4-1 1-4 2zM488 354l-6 0-4-2-11-8-7-10-2-4-1-2 5-4-1-4-3-4-12-10-5-8-2-4 2-6-1-4-4-6-12-14-5-16-8-12 11-1 1 1 3 10 4 8 6 8 7 6 3 6 1 2-1 3-1 3 3 6 6 7 9 9 5 6 1 4-1 2-2 1-2 1 1 4 3 4 12 10 6 8 4 6-1 2-1 2zM502 338l-4-1-4-2-11-9-7-8-2-6 0-2 5-2-1-4-4-4-12-12-5-6-2-4 2-6-1-4-3-6-13-16-3-10 8 0 7 9 10 11 1 4-1 2 0 4 2 6 6 7 10 8 4 8 1 3-4 4 1 4 3 4 13 12 6 8 2 6-2 1-2 1zM520 321l-4 0-4-1-11-8-7-9-3-5-1-2 1-2 4-2-1-4-4-6-11-10-5-6-2-6 2-4-1-4-4-6-9-10 15 0 3 2 2 4-2 8 2 4 6 8 10 10 5 6 0 4-4 4 1 4 3 4 11 8 6 8 4 8 0 2-2 1zM536 305l-4 0-4-2-11-9-7-8-3-4 0-4 5-4-1-2-4-6-12-10-5-8-2-4 2-6-1-2 6 0 4 6 12 10 5 6 2 4 0 4-5 4 1 2 3 6 12 8 7 8 3 8-1 2-2 1zM554 288l-4 0-4-1-11-7-6-6-4-6-2-4 1-4 4-2-1-4-3-4-16-14 18 0 3 2 3 5 2 5 0 2-4 2 1 6 3 4 10 8 6 6 5 8-1 4zM570 272l-6 0-4-2-10-8-6-7-4-8 0-3 4-2-3-6 6 0-1 0 1 4 2 4 13 10 6 6 4 8-1 2-1 2zM582 256l-4-2-10-8-10-10 18 0 8 7 4 7 0 2 0 2-6 2zM602 239l-6 0-5-3 14 0-1 2-2 1zM640 259l-2 0-4 0-10-6-10-9-5-8 15 0 8 6 7 8 2 6-1 3zM656 243l-8-1-9-6 18 0 1 4-2 3zM692 263l-4 0-4-2-12-9-9-8-2-4 0-4 11 0 8 5 8 7 5 6 1 6-2 3zM708 247l-4-1-6-2-11-8 20 0 4 6-1 3-2 2zM746 244l-9-8 9-1 0 9zM744 267l-4-1-6-3-11-9-9-10-1-4 1-2 4-1 5 1 9 5 6 5 6 8 2 4 0 6-2 1zM235 310l2-2 0-4-3-18-8-18-11-18-5-11-1 1-2 10 2 16 14 28 11 17 1-1zM622 276l-8-2-12-10-8-9-2-5 0-2 6-2 2 1 15 11 6 6 3 6 1 4-3 2zM181 306l1-10-2-16-8-18-9-14-2 10 3 18 6 14 11 16zM125 298l2-10-2-18-11-21-1 13 0 18 10 16 1 2 1 0zM676 279l-2 0-6-1-13-10-9-10-2-4 1-4 3 0 6 1 13 9 10 12 1 4-2 3zM730 283l-4 0-4-1-12-8-11-12-2-4 1-4 4-1 4 1 6 3 8 6 6 7 4 6 1 4-1 3zM608 292l-4 0-5-2-13-8-9-12-2-4 1-2 4-1 4 0 14 11 9 10 2 4-1 4zM660 296l-4 0-6-2-12-10-9-10-1-4 0-3 4-1 4 1 10 5 6 5 8 12 2 5-2 2zM714 299l-4 0-6-1-12-8-10-12-2-4 1-4 3-1 6 2 12 8 10 12 2 5 0 3zM746 294l-7-6-5-8-1-4 1-3 6 0 6 3 0 18zM590 309l-8-2-14-11-8-9-1-5 1-2 6-1 2 1 14 10 7 8 2 4 1 4-2 3zM644 312l-4 0-4-1-12-8-11-11-1-5 0-3 2-2 6 1 8 5 6 5 10 11 1 6-1 2zM235 358l2-4 0-4-3-20-6-12-10-16-9-18-2 12 2 16 9 16 8 18 9 12zM696 316l-4 0-4-2-12-8-10-10-2-4 0-5 4-1 6 1 12 8 7 7 3 6 2 4-2 4zM746 319l-4-1-6-3-10-8-8-9-1-4 1-4 4 0 5 2 9 5 6 5 4 5 0 12zM125 344l2-10-3-20-10-19-1 13 0 16 6 12 6 8zM181 352l1-10-2-16-3-8-13-23-3 9 2 18 10 20 8 10zM574 325l-4 0-6-2-12-9-6-6-2-5-2-3 1-4 5-1 2 1 16 12 7 6 2 6 1 3-2 2zM626 329l-8-2-12-8-9-11-2-4 1-4 2-1 6 1 14 9 6 7 4 6 1 4-3 3zM680 332l-2 0-6-2-14-8-9-12-1-4 0-2 2-2 6 1 6 3 6 5 6 6 6 7 2 4-2 4zM732 336l-3 0-5-2-8-5-6-5-6-6-3-6-1-4 1-2 5 0 6 2 12 9 7 7 3 6 0 4-2 2zM558 341l-2 0-4 0-14-8-10-11-2-6 0-3 2-1 6 0 14 10 10 11 1 5-1 3zM610 345l-4 0-4-2-12-8-10-11-2-4 1-4 3-1 4 1 14 8 7 8 3 5 2 5-2 3zM662 349l-4-1-6-2-12-9-8-11-1-4 1-2 4-1 4 1 8 4 7 6 7 8 3 4 0 4-3 3zM716 352l-2 0-6-1-10-7-12-12-2-4 0-5 4-1 6 2 14 9 9 11 1 6-2 2zM746 344l-8-10-1-4 1-4 4 0 4 2 0 16zM540 358l-4-1-4-1-12-8-8-11-2-5 0-2 6-2 2 1 14 10 6 5 4 6 1 6-3 2zM235 404l2-4 0-4-3-22-13-20-9-20-2-3-1 1-2 10 2 20 11 16 8 18 4 7 2 1 1 0zM592 362l-8-3-12-9-9-10-1-4 1-4 3 0 6 1 6 4 9 7 5 6 4 6 0 4-4 2zM648 365l-6 0-4-2-13-9-9-10-1-6 1-2 4-1 6 2 12 9 10 12 1 4-1 3zM698 369l-8-3-12-8-9-10-2-6 1-2 4-1 6 1 8 5 6 5 5 6 3 6 2 4-4 3zM181 398l1-10-2-18-12-20-4-10-3 10 2 18 6 10 8 18 3 3 1-1zM125 392l2-12-2-18-11-20-1 12 0 16 9 18 3 4zM746 371l-10-5-10-10-5-8-1-4 2-1 4-1 6 3 8 5 6 6 0 15zM526 374l-4 0-6-1-11-9-9-10-3-4 1-4 2-1 4 0 14 9 10 12 2 4 0 4zM578 378l-4 0-6-2-12-10-9-10-2-4 1-3 4-1 4 1 8 4 7 7 7 6 3 6 0 4-1 2zM630 382l-6-1-6-3-10-8-8-10-2-4 1-4 3 0 6 1 8 5 6 5 8 9 2 4 0 4-2 2zM684 385l-4 0-4-1-12-8-11-12-2-4 1-4 2-1 6 1 6 3 6 5 8 8 4 5 1 5 0 2-1 1zM736 388l-2 0-6-2-13-8-10-12-1-4 0-2 4-1 4 1 6 2 6 5 6 6 6 7 2 4 0 2-2 2zM508 391l-8-2-13-9-9-10-1-4 0-4 1-1 4 0 4 1 14 10 6 6 3 6 1 4-2 3zM562 394l-4 0-4-1-8-4-6-5-9-12-2-4 1-2 4-1 6 1 12 10 10 10 1 6-1 2zM614 398l-4 0-3-2-13-7-10-11-2-6 0-3 4-1 4 1 6 3 8 6 7 6 4 6 1 6-2 2zM668 401l-4 0-6-1-12-9-6-5-4-6-1-4 0-4 3 0 4 0 6 3 8 5 11 12 2 6-1 3zM720 405l-4 0-6-2-12-9-9-10-1-6 0-2 4-1 6 2 13 9 7 8 3 4 0 4-1 3zM234 452l3-6 0-4-3-22-9-12-8-18-7-12-1 0-2 12 2 18 5 8 10 14 3 6 2 8 3 7 2 1zM492 407l-6 0-4-2-12-9-8-11-2-3 1-4 5 0 2 0 16 12 6 6 3 4 1 5-2 2zM746 393l-5-9 0-4 1-1 4 0 0 14zM544 411l-2 0-6-3-13-8-9-11-1-5 1-2 2-1 6 1 8 5 6 5 10 12 1 4-3 3zM598 414l-2 0-6-1-12-8-10-12-3-5 1-2 2-2 6 1 6 3 6 5 8 7 4 6 1 4-1 4zM180 446l2-10-2-18-9-16-7-16-3 12 2 18 8 12 6 14 3 5 0-1zM125 438l2-12-2-18-7-10-4-11-1 13 0 16 11 21 0 1 1 0zM650 418l-4 0-4-2-14-9-8-11-2-4 0-3 2-1 4 0 8 3 6 5 8 7 5 7 1 4 0 2-2 2zM704 421l-4 0-5-1-7-4-6-6-9-10-2-4 1-4 4 0 5 2 13 8 8 8 3 6 0 2-1 3zM476 423l-2 0-4 0-14-8-6-6-4-7-2-4 0-3 6-1 4 1 12 9 10 12 1 4-1 3zM746 422l-9-6-8-8-5-8 0-2 2-2 3 0 5 1 12 9 0 16zM528 427l-2 0-6-1-12-8-10-12-2-4 1-4 3-1 4 1 14 9 7 7 4 6 1 4-2 3zM580 431l-2 0-8-3-10-8-10-12-1-4 1-2 2-1 6 1 12 8 8 8 4 5 1 5-3 3zM634 434l-2 0-6-1-6-3-7-6-10-12-1-4 0-3 4-1 6 2 13 10 9 11 2 5-2 2zM686 438l-3 0-5-2-12-8-9-12-2-4 1-3 2-1 6 1 6 3 8 7 10 12 0 5-2 2zM458 440l-4 0-4-2-13-10-5-6-4-4-1-4 1-2 2-1 6 0 14 11 10 11 1 5-3 2zM738 441l-3-1-5-2-12-8-9-12-1-4 0-1 4-1 6 1 12 9 6 6 6 8-2 4-2 1zM510 444l-8-3-12-8-8-11-2-4 0-3 4-1 6 1 6 4 8 6 6 7 3 6 1 4-4 2zM566 447l-4 0-4-1-6-3-8-6-10-11-1-4 0-4 3-1 4 1 12 7 8 7 5 6 2 6-1 3zM618 451l-4 0-6-2-8-6-5-5-6-6-3-4-1-4 1-2 4-1 4 1 6 3 10 7 6 8 3 4 0 4-1 3zM670 454l-2 0-6-2-12-7-10-11-2-6 1-2 3-2 4 1 6 3 8 6 7 6 4 8 1 4-2 2zM234 500l3-8 0-2-3-20-8-10-4-16-14-19-1 7 1 8 0 8 2 4 2 8 5 8 16 18 1 4-2 2 0 4 2 4zM444 456l-4 0-6-1-12-8-9-11-2-6 1-2 2-1 4 0 14 9 7 6 3 6 2 4 0 4zM724 457l-4 0-5-1-12-8-5-6-5-6-2-4 1-2 2-2 6 2 12 7 8 7 5 8 0 2-1 3zM496 460l-4 0-6-2-12-8-8-11-3-5 1-2 4-2 4 1 12 8 8 7 4 6 1 4 0 2-1 2zM180 492l2-10-1-16-6-10-6-14-6-10-2 12 3 20 10 14 4 8 2 7 0-1zM746 441l-2-3 0-2 2-4 0 9zM125 482l2-8-2-16-11-25-1 13 0 18 8 12 3 7 1-1zM548 464l-6-1-4-3-12-8-8-11-2-5 1-2 3 0 6 1 6 3 8 8 7 6 3 6 0 4-2 2zM602 467l-4 0-4-1-12-8-11-12-2-4 1-4 2-1 6 1 6 3 8 6 5 5 5 8 1 4-1 3zM652 471l-8-3-12-9-9-11-1-4 0-2 4-1 6 1 12 9 7 7 4 8 1 3-4 2zM426 473l-8-2-14-9-4-6-4-6-2-2 1-4 5-1 4 1 12 9 7 7 4 6 1 4-2 3zM706 474l-4-1-6-2-11-9-7-6-3-6 1-4 2-1 7 1 7 4 7 6 10 12-1 3-2 3zM480 476l-4 0-5-2-13-8-10-12-1-4 1-2 2-1 6 1 8 4 6 6 7 6 3 5 1 5-1 2zM746 473l-8-7-9-10-2-4 3-3 2 0 4 1 10 6 0 17zM532 480l-4 0-6-2-12-10-9-10-1-4 0-3 6-1 4 2 14 9 8 12 2 3-2 4zM584 484l-10-3-10-8-10-11-2-4 1-4 3 0 6 1 8 4 6 6 6 5 4 6 0 6-2 2zM638 487l-4 0-6-2-12-8-8-11-3-4 1-4 2-1 6 1 6 3 6 5 8 8 4 5 1 5 0 2-1 1zM410 489l-6 0-2-1-13-10-9-10-2-4 0-3 2-1 6 0 14 9 7 7 4 6 0 4-1 3zM690 490l-2 0-6-2-6-3-7-5-7-8-2-4-2-4 2-2 2-1 6 1 6 4 7 6 11 12 1 2-3 4zM462 493l-4 0-4-2-13-9-9-10-2-6 2-2 2-1 6 1 6 4 8 6 7 8 3 4 0 4-2 3zM742 493l-4-1-5-2-11-8-11-12 0-2 1-2 4-1 5 1 7 4 6 6 10 10 2 1 0 5-4 1zM516 496l-2 0-4 0-6-3-8-5-11-12-2-4 1-4 4-1 6 1 12 8 9 10 2 6-1 4zM568 500l-4 0-4-2-12-8-10-10-2-4 0-5 4-1 4 1 6 3 8 5 7 7 3 6 2 4 0 2-2 2zM237 538l-2-16-6-8-4-6 0-2 2-2 0-4-1-2-4-6-10-12-4-6 0 2-1 4 1 14 6 6 3 4 0 4-1 1-1 1 2 6 5 7 9 9 5 6 1 0zM622 503l-4 0-5-1-13-10-10-10-1-4 1-4 2 0 6 1 8 4 6 5 7 8 3 4 1 4-1 3zM392 506l-8-2-13-10-9-11 0-3 0-3 6-1 2 1 16 11 6 7 2 5 1 4-3 2zM672 507l-5-1-6-4-10-8-5-4-3-6 0-6 3-1 6 2 8 5 6 6 10 12 0 2-1 2-3 1zM446 509l-2 0-6-1-10-7-6-6-6-7-2-4 1-4 3-1 4 1 8 4 8 6 9 12 1 4-2 3zM125 528l2-8-2-16-5-14-6-10-1 14 0 18 11 15 0 1 1 0zM182 532l0-6-1-12-5-6-2-10-2-6-9-12-2 12 3 20 10 13 8 7zM746 522l-16-14-8 1-6-3-7-4-7-6-7-8-1-4 2-2 2-1 2 1 9 4 8 6 11 11 2 1 8-2 8 5 0 15zM498 513l-2 0-6-3-12-7-9-11-2-6 1-2 2-1 6 1 14 9 6 7 4 6 1 4-3 3zM552 516l-2 0-6-1-14-9-9-12-1-4 0-2 2-2 6 1 6 3 6 5 12 13 2 4-2 4zM604 520l-3 0-5-2-13-10-9-10-1-4 1-3 4-1 6 2 12 10 7 6 3 6 0 4-2 2zM376 522l-4 0-4-2-13-10-9-10-1-4 1-2 4-2 4 1 14 11 7 6 3 5 1 5-3 2zM656 523l-4-1-4-2-12-7-6-7-4-6 0-4 0-1 4-1 5 2 9 4 5 6 11 12-1 2-3 3zM430 526l-4 0-5-2-11-8-10-12-2-4 0-3 4-1 6 1 8 5 6 5 4 6 4 6 2 5-2 2zM746 545l-8-2-6-3-18-15-8 0-10-4-12-10-5-7-1-2 0-2 4-2 6 2 11 6 13 13 2 1 4-1 4 0 9 5 15 13 0 8zM484 529l-4 0-6-1-12-8-10-12-2-4 1-4 3-1 4 1 6 3 8 5 7 8 4 4 1 6 0 3zM536 533l-4 0-6-2-8-5-6-5-8-11-1-4 1-2 6-1 4 2 13 9 7 8 3 4 0 4-1 3zM588 536l-2 0-6-1-10-7-6-6-6-6-2-4 1-4 3-1 6 1 13 10 8 8 3 4 0 4-2 2zM362 538l-4 0-4 0-12-8-6-6-5-6-2-6 1-2 6-1 15 11 10 10 1 4 0 4zM642 539l-4 0-6-1-12-8-8-11-3-3 1-4 2-2 6 1 6 3 6 6 6 6 7 8 0 2-1 3zM414 542l-4 0-4-1-12-8-11-11-1-5 0-3 2-2 6 1 6 3 8 6 6 6 4 6 1 6-1 2zM237 584l-1-12-6-8-3-4 1-4 2-1 2-1-1-4-4-6-11-8-5-8-2-4 2-6-1-4-3 12 2 16 9 10 5 8-1 2-4 2 0 4 4 6 14 11 1-1zM746 571l-12-9-10-2-8-3-18-16-8 1-10-5-9-7-8-8-1-4 0-2 2-2 2 0 7 2 10 8 13 12 2 1 6-2 4 2 8 5 14 12 4 1 8 2 4 2 0 12zM466 546l-4-1-6-2-12-8-9-11-1-4 0-3 4-1 6 1 6 4 8 7 6 6 4 6 0 4-2 2zM520 549l-4 0-4-1-8-4-6-6-10-10-1-6 1-2 4-1 6 2 12 9 10 12 1 4-1 3zM570 553l-8-3-12-8-8-11-2-5 0-2 4-1 5 1 9 5 6 5 7 8 2 6 0 4-3 1zM344 555l-8-1-12-9-10-11-2-4 1-4 5-1 4 1 14 10 9 12 1 4-2 3zM624 556l-4 0-5-2-13-9-8-11-1-4 0-2 3-1 6 1 8 4 6 5 5 7 6 8-1 3-2 1zM125 574l2-8-3-22-2-4-8-12-1 12 1 20 4 8 6 7 1-1zM182 580l0-14-5-6-1-4 2-6-4-8-12-13-1 5 1 8 0 4 5 8-1 8 1 2 7 10 8 6zM396 559l-10-3-12-9-8-11-1-4 1-2 2-1 6 1 8 4 6 6 7 6 3 8 0 3-2 2zM746 596l-8-3-20-14-12-3-6-2-20-17-6 1-10-4-12-9-6-7-1-4 3-3 8 1 10 8 14 12 6 0 6 1 9 5 13 13 4 1 8 2 6 3 14 10 0 9zM450 562l-2 0-6-1-6-3-7-6-10-12-1-4 0-2 4-2 4 1 12 7 6 7 6 7 2 4-2 4zM502 566l-6-1-6-3-10-8-6-6-3-6-1-4 1-2 3 0 6 2 8 4 6 5 8 9 2 4 0 4-2 2zM556 569l-4 0-4-1-12-8-11-12-2-4 1-4 2-1 6 1 6 3 8 6 6 7 4 6 1 4-1 3zM328 571l-2 0-6-1-12-8-7-6-3-6-2-4 0-3 2-1 6 0 14 9 6 7 4 5 1 5-1 3zM608 572l-2 0-6-2-12-8-10-10-2-4 1-4 1-1 5 1 6 2 7 5 8 7 6 8 0 4-2 2zM380 575l-4 0-4-2-12-8-10-11-2-4 1-4 3-1 6 1 12 8 8 8 3 4 1 6 0 2-2 1zM746 621l-10-6-6-2-8-4-20-14-12-2-6-3-6-5-12-11-2 0-8 1-8-4-6-5-7-6-6-8 1-3 1-1 3-1 7 3 10 6 11 13 2 0 6-1 6 2 8 4 14 13 16 5 20 14 12 5 0 10zM432 579l-4-1-6-3-11-9-9-10-1-2 1-4 4-1 5 1 9 5 6 5 6 8 3 4 0 4-3 3zM486 582l-4 0-4-1-12-8-10-11-2-4 0-5 4-1 4 1 6 3 8 6 7 6 4 6 1 6-2 2zM540 585l-4 0-6-1-12-8-9-10-2-6 1-3 2-1 6 1 12 8 11 11 1 5 1 3-1 1zM310 588l-8-2-12-9-9-11-2-4 1-2 2-2 4 0 2 1 14 9 6 6 4 6 1 6-3 2zM590 589l-4-1-5-2-11-8-7-8-3-4 0-6 4 0 6 2 13 8 11 14 0 2-2 2-2 1zM235 728l2-4 0-4-3-18-14-14-3-6 0-2 1-3 4-1 6 2 6 4 2-3 1-7-4-8 2-4-1-10-16-14-4-6 0-4 2-2 6 0 14 10 1-4 0-6-5-8-2-4 1-4 3-2-1-6-12-10-8-8-2-8 1-2 4-2-1-2-2-4-4-4-2 14 2 18 13 12 4 5 1 5-1 2-6 1-2-1-8-6-2 0-1 10 3 10 0 2-2 2 1 8 16 14 5 6 1 4-2 4-5 0-4-2-12-8-1 10 5 8 2 6 0 2-5 0 0 8 9 5 9 7 6 8 2 6-3 3-6-1-8-4-10-10 0 12 6 5 16 3 5 0zM364 591l-2 0-6-1-13-10-10-10-1-4 1-4 3 0 6 1 13 9 9 12 2 4-2 3zM746 648l-6-4-16-11-14-5-8-4-16-12-2-1-10-2-6-3-7-4-11-11-2-1-8 1-9-3-11-10-7-8-1-4 2-2 2 0 8 2 10 6 12 13 8-1 7 2 7 6 14 11 14 5 22 15 12 4 8 4 8 6 0 11zM418 595l-4 0-4-1-12-8-6-6-6-6-1-6 1-2 2-1 6 1 6 3 8 7 10 12 1 4-1 3zM470 598l-2 0-6-1-12-8-10-12-3-5 1-2 4-1 6 1 12 8 10 12 2 4-2 4zM522 602l-4 0-4-2-14-9-8-10-2-5 1-2 3-2 5 2 13 7 6 6 4 7 2 4 0 2-2 2zM294 604l-4 0-4-1-14-10-8-11-1-4 1-2 4-2 4 1 14 11 6 6 4 6 0 4-2 2zM125 624l2-12-3-22-10-14-1 8 0 12 3 10 0 6 3 6 6 6zM576 605l-4 0-5-1-7-4-6-6-7-6-3-5-1-5 1-2 4 0 5 2 5 3 8 5 11 14 1 2-2 3zM348 608l-4 0-6-2-8-5-5-5-9-11-1-3 1-3 4-1 4 1 8 4 7 7 7 6 3 6 0 4-1 2zM181 628l1-6 0-6-3-6-1-2 1-2 2-2-1-8-18-17-1 3 2 12 7 8 3 6 0 4-3 1-2 1 1 4 4 4 8 6zM746 672l-6-4-14-6-20-13-16-6-22-15-10-2-6-2-7-6-13-11-8 1-8-4-7-4-7-7-6-7 0-4 2-2 2 0 8 2 10 8 12 11 2 1 6-1 6 2 7 5 15 12 10 3 5 1 21 15 14 6 20 13 10 4 0 10zM402 611l-4 0-6-1-10-7-12-13-2-4 1-4 3-1 4 1 6 3 8 6 10 11 2 6 0 3zM454 615l-4 0-6-2-12-8-9-11-2-4 1-4 2-1 6 1 12 8 8 8 4 5 1 5-1 3zM506 618l-2 0-6-2-6-2-7-6-10-12-1-4 1-2 3-1 6 1 6 3 7 7 9 11 2 5-2 2zM560 621l-4 0-4-1-12-7-11-11-2-4 1-5 2-1 5 2 13 8 12 12 1 4-1 3zM332 624l-4 0-4-1-12-7-11-12-2-4 1-5 2-1 6 1 6 4 8 6 10 11 1 6-1 2zM746 698l-20-13-18-7-18-13-12-4-6-3-18-13-12-3-6-2-8-5-12-12-8 1-9-4-11-9-8-9-1-2 3-4 4 1 5 1 10 8 13 12 2 0 6-1 6 3 7 4 13 12 4 2 8 1 6 3 20 14 14 5 20 14 20 8 6 5 0 10zM384 628l-4 0-4-2-12-8-10-10-2-6 0-3 4-1 6 1 12 9 7 6 4 6 1 6-2 2zM438 631l-4 0-5-1-13-9-10-11-1-4 0-4 3-1 4 1 6 3 8 5 6 6 5 6 2 6-1 3zM490 635l-4-1-6-1-12-9-9-10-2-6 1-2 6-1 4 2 13 9 7 8 3 4 0 4-1 3zM542 638l-4-1-5-1-11-8-7-6-4-6 0-4 0-2 3-1 6 1 14 9 10 13 1 2-3 4zM314 641l-2 0-6-2-12-8-10-12-1-5 0-2 3-1 6 1 14 9 6 7 4 6 1 4-3 3zM746 722l-20-9-16-11-18-8-18-12-12-4-8-4-18-13-12-2-4-3-8-4-12-12-8 1-9-3-7-6-6-6-6-6-1-2 1-3 2-2 2 0 8 3 9 6 11 12 2 1 6-1 7 2 7 4 14 13 4 1 6 1 6 3 20 14 16 6 22 14 12 5 8 4 14 10 6 3 0 8zM165 620l1 0-2-6-1 6 2 0zM368 644l-2 0-6-2-12-7-10-11-3-6 1-2 2-2 6 1 6 3 6 5 8 7 4 6 2 4-2 4zM420 648l-3 0-5-2-8-5-6-5-8-11-2-3 1-4 3 0 6 1 6 4 8 7 7 6 3 6 0 4-2 2zM474 651l-4 0-4-1-12-8-11-12-2-4 1-4 4-1 6 2 12 9 6 7 5 7 0 2-1 3zM127 706l-2-16-8-8-3-8 0-2 4-3 6 3 3-14-2-18-9-10-2-4 0-4-1 10 0 12 7 9 3 5-5 5-2 0-2-2-1 13 0 4 0 14 1 2 13 12zM526 654l-2 0-6-1-12-8-10-11-2-4 0-4 4-1 4 1 6 3 7 5 7 6 6 8 0 4-2 2zM182 714l-2-18-10-10-4-6-2-4 2-2 6-1 8 5 2-12-1-6 0-2-1-12-12-10-6-10 0 7 1 11 11 10 4 8-2 3-2 1-4 0-4-3-2 1-3 12 3 18 10 10 7 8 1 3 0-1zM298 657l-4 0-3-1-13-8-10-12-2-4 0-4 4-1 4 1 14 8 7 8 3 5 2 5-2 3zM350 661l-4-1-6-2-12-9-8-11-1-4 1-2 2-1 6 1 8 4 7 6 6 6 3 6 1 4-3 3zM404 664l-4 0-6-2-12-10-9-10-1-4 0-3 4-1 6 2 14 9 9 11 1 6-2 2zM456 668l-10-3-10-8-10-11-1-4 1-3 2-1 6 2 8 4 6 5 6 7 4 6 0 4-2 2zM508 671l-4-1-6-2-10-8-9-12-1-4 0-2 4 0 4 0 6 3 8 6 11 13 1 4-4 3zM336 677l-6 0-4-2-14-9-8-10-2-6 2-2 4-1 6 2 12 9 9 10 2 6-1 3zM386 681l-4-1-6-3-11-9-8-8-2-6 1-2 4-1 6 1 8 5 6 5 7 8 2 4 0 4-3 3zM440 684l-4 0-5-2-11-8-10-10-2-6 1-2 3-2 4 1 6 3 8 5 7 7 3 6 2 4 0 2-2 2zM494 687l-4 0-5-1-12-8-9-11-2-4 0-3 2-2 4 0 6 4 8 4 6 7 7 9 0 2-1 3zM318 694l-6-1-6-3-10-8-8-11-2-3 1-4 3-1 6 2 8 5 6 5 7 7 3 6 0 4-2 2zM372 697l-4 0-4-1-12-8-11-12-2-4 1-4 4-1 4 1 6 3 8 6 6 7 4 6 1 4-1 3zM424 700l-2 0-6-1-14-9-9-12-1-4 0-2 4-1 4 0 6 3 6 5 12 13 2 4 0 2-2 2zM476 704l-4-1-6-3-11-8-7-6-3-6 0-2 1-3 4-1 5 2 13 10 11 12 0 2-1 3-2 1zM302 710l-4 0-4-1-12-8-8-9-3-4-1-4 0-3 4-1 4 1 6 3 8 6 6 6 5 6 1 4-2 4zM356 713l-4 0-6-1-12-8-10-12-2-4 1-4 3-1 4 1 6 3 8 5 7 8 4 4 2 6-1 3zM408 717l-4 0-6-2-12-9-9-10-2-4 1-4 2-1 4 0 6 3 8 5 6 7 6 6 1 6 0 2-1 1zM460 720l-2 0-6-1-6-4-7-5-7-8-3-4-1-4 1-2 3-1 6 1 6 3 7 7 11 12 1 2-3 4zM282 728l2-2-6-1-12-7-8-8-5-8 3 18 8 6 12 2 6 0zM115 724l3-1 6-1 1-6-7-2-4-4-1 14 2 0zM180 728l2-11-1 1-1 1-6 0-11-7-2 8 0 4 1 1 12 1 6 2zM127 754l-1-7 0-3-6 0-2 1-1 1 10 8zM182 760l-1-12-3-2-6-1-8 0 0 1 8 5 10 9zM237 766l-2-14-7-6-12-2-6 1 6 3 8 5 10 11 2 3 1-1zM462 774l7-2-3-1-4 1-4 0-8-4-10-9-7-7-1-4-2 0-2 4-4 1-8-3-6-4-8-2-4 0-3 2 9 7 9 11 0 2-3 3-6-1-8-4-9-8-7-8-4 0-2 2-2 0-10-5-6-1-4 0-4 2 9 10 3 4 0 5-4 1-6-1-6-4-14-13-12-2-6-1-8-1-4 2 6 8 1 4 0 4-3 1-4-1-8-4-14-11-18-3-6 2-1 2 2 8-1 2 3 12 5 4 8 0 4 0-9-8-7-8-1-6 1-2 2-1 6 1 10 6 8 8 6 8 2 0 2-3 4 0 4 1 8 4 12 0-8-8-4-6 0-6 0-1 4 0 6 1 8 5 14 13 18 2 10-1 0-1-5-6-2-4 0-4 3-2 10 4 16 13 16 1 12-2-5-8 1-3 4-1 8 4 12 9 14 1 8 0zM508 774l-10-7-14-13-6 2-4-1-6-2-10-7-12-2-4 2 10 6 14 14 6-1 4 1 14 7 10 1 8 0zM554 774l2-2-18-12-14-4-7-4-7-5-18-3-10 4 2 2 6-2 6 3 8 5 12 11 4 2 6 1 11 4 11 0 6 0zM601 774l3-2-10-7-4-2-14-5-16-10-22-4-2 1-6 3 6 4 8 2 6 2 22 16 20 2 9 0zM647 774l5-2-10-5-18-8-16-11-22-4-4 0-4 3 8 7 18 7 18 12 16 1 9 0zM694 774l5-2-21-9-20-13-10-3-14-3-4 0-5 2 0 2 2 2 11 7 16 6 14 10 18 1 8 0zM740 774l4-2-14-6-16-11-18-8-18-3-3 0-4 2 0 2 19 12 26 12 16 2 8 0zM227 774l-7-5-13-11 1 12 2 3 10 1 7 0zM124 774l0-6-11-6 0 10 11 2zM180 774l0-2-8-3-10-7 0 10 12 2 6 0zM126 802l0-3-2 1 0 2 2 0zM182 808l0-8-10 0 10 8zM237 814l-1-10-2-4-16 0 6 4 12 11 1-1zM404 820l-10-8-10-11-8 1-8-2-6-1-8 1 10 14 0 2-2 2-6 0-6-3-6-4-10-10-18-2-10 2 5 9-1 4-2 1-4 0-8-4-14-10-14-2-13 3 3 6 0 2-2 2 2 8 6 0 4-2-5-6-3-6 0-2 2-2 2 0 2 0 8 3 6 5 10 8 9 2 9 0 10-2-5-8 1-3 2-1 4 0 6 3 14 10 14 1 13-2-1-4 0-2 2-2 2 0 8 2 10 7 10 1 6 0zM451 820l1-2-18-14-8 1-10-5-4 0-8-1-2 1 14 15 2 1 6-2 12 5 8 1 7 0zM497 820l4-2-15-10-10-2-10-6-12-1-6 1 22 18 20 2 7 0zM544 820l5-2-9-6-12-4-10-7-18-2-13 3 7 1 8 4 16 11 18 2 8 0zM590 820l6-2-18-8-12-9-20-2-12 2 6 4 12 4 14 9 16 2 8 0zM636 820l4-2-10-5-18-12-18-2-12 2 8 6 14 5 10 6 16 2 6 0zM683 820l3-2-20-13-8-4-18-2-10 2 0 1 12 8 20 8 14 2 7 0zM729 820l3-2 1 0-15-10-16-7-16-2-10 2 0 1 16 9 12 7 16 2 9 0zM219 820l-9-12-3-4 2 16 5 0 5 0zM124 820l0-2-11-6 0 6 0 2 9 0 2 0zM172 820l-10-9 0 9 6 0 4 0zM182 858l0-3-4 0 2 3 2 0zM237 864l0-8-11-1 1 1 10 8zM359 868l-9-4-10-7-18-2-12 2 3 5 1 2-2 2-2 1-8-3-12-8-12-1-7 1 7 3 12 9 28 0 1 0-2-6 3-2 2 0 7 2 9 6 21 0zM405 868l-15-11-20-2-6 0-4 2 8 11 2 0 0-2 4-1 10 3 21 0zM451 868l2 0-13-11-24-2-10 1 14 12 31 0zM498 868l3 0-9-7-14-5-16-1-9 1 17 12 28 0zM544 868l5 0-25-11-16-2-9 1 19 12 26 0zM590 868l4 0-9-4-13-7-18-2-11 3 12 4 9 6 26 0zM637 868l2 0-19-11-20-2-10 2 0 1 22 10 25 0zM683 868l3 0-18-11-20-2-10 2 6 5 12 6 27 0zM729 868l4 0-21-11-18-2-10 1 0 2 18 10 27 0zM220 868l-8-11-2 0-2 3 1 8 11 0zM266 868l2 0 1 0-3-6-2-4-4-1 1 5-1 2-3 0 0 4 9 0zM171 868l-10-8 1 8 9 0zM123 868l-9-7-1 1 0 6 10 0zM364 884l-11 0 1-2 2 0 4 0 4 2z"/>
<path fill="#add4e8" fill-opacity="0.5" fill-rule="evenodd" d="M726 884l-6 0-10-6-22 0-16 0 6 6-5 0-11-6-20 0-18 0 4 4 0 1-12-5-20 0-20 0 0 2-8-2-16 0-20 0-32 0-10 0 7 6-5 0-6 0-6-6-26 0-11 0 6 6-5 0-6 0-8-6-16 0-18 0 3 6-5 0-4 0-8-6-12 0-24 0 1 4-3 2-4-2-8-4-14 0-22 0-1 2-3 1-10-3-12 0-6 0 6 6-8 0-9 0-3-6-6 0-2 2 3 4-7 0 1-4-5-2-10 0-7 0 5 6-10 0-29 0-1-6-4 0-10 0 4 6-10 0-37 0 1-3 2-1 0-2-2 0-7 0 3 6-19 0-3-5-1-1 1-15 2 1 1 0 1-10 0-1-2 0-2 1-1-34 1-8 2 2 1 0 1-10 0-5-4 0-1-29 1-8 4 2 0-8 0-6-4-7 0-6 3 3 0-10-3-2-1-8 1-6 4 3 0-7-1-10-2-6-1-4 1-2 2-2 1-33-1-5-3-5-1-3 1-5 2 1 1 0 1-18-1-18-3-6-1-4 1-6 2 3 1-1 1-14-1-20-3-6-1-6 1-5 2 4 1-1 1-12-1-24-3-5-1-5 1-5 2 5 1-2 1-10-1-30 1-20-2-22 1-8 1-18-1-16-4-10 1-2 2 3 2-15-1-22-4-10 1-4 2 4 2-12-1-26-1-3-3-5 1-5 2 4 1-3 0-24 10 0 15 24 3-10-2-14 36 0 11 16 6 15 3-7 0-4-3-20 23 0-1 8 2 18 8 13 7 15 12 20 5 13 4 1 4 4 14 34 15 22 4 14 16 22 2 6-1 4 1 4 3 4 14 14 4 6 0 2-2 5-2 0-8-5-9-12-3-6 0-4 1-2-2-4-15-20-3-6-3-10-14-20-6-17-4 1-2-4-6-14-9-20-13-20-7-16-5-8-2 12 3 22 9 12 8 18 13 20 3 7 2 1 4 5 4 13 9 14 2 8 2 6 15 20 2 4 0 6 1 4 3 4 14 16 4 6-2 6-4-1-6-5-10-12-2-6-1-4 1-2-1-4-15-18-4-8-1-8-3-6-2-3-2 1-2 0-2-4-12-28-12-20-10-20-4-7-2-1-2 10 3 22 14 22 4 12 4 6 17 23 6 17 8 12 3 6 1 4-1 2 2 6 17 18 3 6-1 6-4 0-6-5-10-11-3-8 1-6-2-4-10-11-2-1-2-4-4-8-4-14-14-20-4-12-4-6-10-15 0 1-2 6 0 6 2 12 3 10 4 8 12 16 3 12 3 6 15 17 3 9 3 12 14 14 3 6-1 6-2 0-2 0-6-5-11-11-5-10-3-12-11-16-6-16-11-16-5-8-2 8 2 16 4 8 3 12 16 22 2 4 0 8 2 4 7 7 2 0 2 1 8 12 1 4-2 4 2 10 15 13 4 5 2 4 0 4-4 1-4-1-12-10-6-6-2-4 0-4-6-18-11-12-1-6 0-8-16-20-3-6-3-10-2 12 2 18 8 14 0 6 2 6 17 18 3 4 0 2-2 5-4 0-4-4-8-9-5-8-1-10-3-6-3-2-2 12 2 20 11 12 3 6-2 4-2 2-2-1-8-5-2 10 3 22 13 14 4 4 1 4-1 3-4 1-2 0-13-10-1 6 0 8 5 8-1 3-2 1 1 10 11 8 6 5 4 7 2 4-2 3-8-1-7-6-9-6 0 4 1 8 7 9 1 5 0 2-1 1-5 1 0 8 9 4 9 8 7 7 2 7-1 2-3 0-8-2-8-6-10-10 0 4 1 10 11 12 6 1 4-1 4 1 8 5 8 7 5 5 3 6 0 3-3 3 1 8 12 8 10 2 6-1-10-7-10-10-3-8 1-2 2 0 8 2 10 6 9 10 3 7 4 0 0-4 4-1 5 2 9 5 6 0 6 0 3-1-9-7-6-7-2-6 1-2 1 0 6 1 9 5 8 6 7 9 6 0 4-1 6 3 6 0 8 0 2-1-6-7-4-7 0-4 2-1 6 1 7 4 7 6 6 7 18 2 6 0 8-1-8-10 1-2 3-2 4 1 6 3 12 9 14 2 6 0 10-2-4-7 0-1 2-1 8 2 12 7 18 3 13-4-7 0-6-2-10-7-13-11 0-4 5 0 6 2 4 3 20 15 8 1 10 5 8 1 8 1 8-2-10-6-14-12-10-1-4-2-10-6-8-6-12-4-10-5-9-6-8-10-1-4 4-1 6 1 5 4 13 12 12 3 9 3 19 17 10 1 4 2 22 15 4 2 8 3 16 2 4-1 7-1-19-13-10-3-8-4-16-13-12-3-12-4-13-14-1-4 4-1 6 2 6 4 10 7 18 6 24 19 18 6 20 14 22 3 10-2-12-9-18-7-20-14-10-3-16-7-4-4-1-2-5-5-12-2-6-4-17-13-1-2 0-2 4-1 6 1 4 3 20 15 10 2 16 9 14 5 4 4 0 2 8 3 18 12 17 7 17 11 20 3 10-3 1-1-5-2-18-8-20-14-34-14-4-4 0-2-14-5-22-16-10-2-8-4-14-11-4-6 0-1 2-1 6 1 4 2 6 4 16 12 12 3 8 5 16 11 12 4 10 6 12 4 4 4 0 2 14 6 20 13 14 7 12 7 20 3 8-2 0 23-20-3-11 2 15 8 16 10 0 37-14-2-10 3 12 6 12 9 0 9-12 0-16 0 8 6zM332 449l-4-1-2-2-13-14-2-6-1-4 1-4-1-2-16-20-3-6-2-10-15-22-7-18-13-18-4-8-2-1-2-3-6-16-6-10-8-16-10-18-8-14 8 0 12 20 10 20 2 1 2 1 3 2 11 28 14 22 7 18 14 20 5 14 15 22 2 4 0 6 1 4 20 22 1 4-3 5zM350 432l-4 0-4-2-12-14-3-8 0-4 0-2-1-4-15-18-4-8-2-10-15-21-6-15-14-22-9-20-11-16-4-5-6-17-7-10 12 0 8 20 13 20 8 18 12 18 7 18 14 20 5 16 15 20 2 4 1 4-1 4 1 4 20 22 1 4-1 4zM366 416l-4-1-4-3-12-14-3-6 1-6-1-2-16-22-3-6-3-10-14-20-7-18-12-19-8-17-12-20-8-16 7 0 13 22 10 20 13 20 7 16 13 20 6 16 15 20 2 6-1 4 2 6 19 22 1 2-1 6zM382 399l-4 0-4-3-12-14-2-6-1-4 1-2-1-4-16-20-6-18-14-20-6-16-13-18-8-18-12-20 9 0 4 4 9 20 14 22 6 16 14 20 5 16 15 20 2 4 0 4 0 2 1 4 19 22 2 4-2 5zM398 383l-2 0-6-4-12-13-2-8 0-4 1 0-1-4-17-22-5-16-15-20-5-14-14-22-9-20 8 0 5 10 12 18 6 16 14 20 6 18 14 18 3 8-1 4 2 4 19 22 1 4-2 5zM414 367l-2-1-4-2-8-8-5-8-2-4-1-4 1-4-1-2-15-20-4-8-1-6-2-4-13-18-8-20-14-22 9 0 7 10 8 18 14 22 5 14 13 18 3 4 1 4 0 6 1 4 3 4 13 14 4 4 1 4-3 5zM432 350l-4 0-4-2-12-14-3-8 0-4 1-2-1-2-16-20-3-6-3-12-14-20-6-16-6-8 9 0 5 12 15 22 4 14 16 22 2 6-1 2 1 4 3 4 17 20 1 2-1 6zM448 334l-4-1-4-2-11-13-3-6-1-4 1-4-1-4-16-20-3-6-1-6-2-4-12-18-5-10 8 0 9 12 4 6 4 14 15 20 2 6-1 4 2 6 16 16 4 6 0 2-1 6zM464 317l-2 0-4-2-13-15-3-6 0-8-16-22-3-4-3-12-9-12 11 0 5 14 12 16 4 8 2 4-1 4 1 4 20 22 1 4-2 5zM480 301l-2 0-4-2-7-7-6-8-3-8 0-4 1 0-1-4-16-20-3-6-1-6 6 0 13 16 4 8-1 6 2 4 19 22 1 4-2 5zM496 285l-2-1-6-4-10-12-3-6-1-6 1-2-1-2-13-16 12 0 4 8 0 4 0 2 1 4 16 18 4 4 1 4-1 2-2 3zM514 268l-4 0-4-3-11-13-3-6-1-6 1-2-1-2 3 0 3 4 16 18 2 4-1 6zM530 252l-4-1-4-2-11-13 13 0 5 4 2 4 1 3-2 5zM582 255l-2-1-6-3-9-9-5-6 12-1 4 1 6 6 4 6 0 4-4 3zM600 238l-4 0-4-2 11 0-3 2zM638 258l-6 0-10-8-8-8-4-6 13 0 5 3 6 5 5 6 1 6-2 2zM654 242l-6-1-8-5 16 0 1 4-3 2zM692 262l-2 0-6-2-11-6-9-12-2-4 0-2 9 0 11 8 10 10 1 4-1 4zM708 246l-9-2-11-8 19 0 3 6 0 3-2 1zM746 244l-9-8 9-1 0 9zM744 266l-3 0-5-2-12-8-8-11-2-3 1-4 3-1 4 2 8 3 6 6 6 6 4 5 0 5-2 2zM183 312l2-10-2-18-9-18-14-24-2 4-1 6 3 20 9 16 13 24 1 0zM566 271l-3-1-4-2-13-12-4-6 0-2 2-4 2-1 4 2 16 15 3 4 1 4-1 2-3 1zM128 306l2-8 1-4-4-22-5-12-10-16-1 16 1 22 16 24zM622 275l-8-2-12-9-8-10-1-4 1-2 4-1 2 1 15 10 5 6 3 6 1 3-2 2zM674 279l-8-3-12-8-8-10-1-4 1-2 2-1 6 1 6 4 8 6 5 6 3 5 1 3-3 3zM728 282l-2 0-6-2-12-8-8-10-2-4 0-3 4-1 5 2 5 3 8 5 8 11 2 5-2 2zM550 288l-4-1-4-3-13-12-3-6 2-6 2 0 4 1 16 15 3 4 1 4-2 2-2 2zM606 291l-4 0-4-2-12-9-8-8-1-4 1-3 3-1 3 0 14 10 8 11 1 3-1 3zM658 295l-4-1-4-2-12-8-8-9-1-5 1-2 4-1 4 1 13 10 5 5 4 5 1 4-3 3zM712 299l-4-1-5-2-11-8-8-9-3-5 1-2 2-2 6 2 6 3 7 5 5 6 4 6 2 4-2 3zM746 294l-6-6-4-6-2-6 2-2 4 0 6 3 0 17zM534 304l-4 0-4-3-13-11-4-8 3-6 2 0 4 2 15 14 3 6 1 2-1 2-2 2zM590 307l-4 0-4-1-12-8-8-10-2-4 1-2 3-2 4 1 13 9 9 10 1 4-1 3zM644 311l-4 0-4-1-12-8-10-10-1-4 0-4 3-1 5 1 12 8 9 11 2 5 0 3zM184 356l1-8-2-18-5-12-12-19-6-12-3 11 3 20 13 24 9 15 2 0 0-1zM696 315l-5-1-5-2-11-8-9-9-1-5 1-2 2-1 7 1 12 10 5 5 4 5 1 4-1 3zM128 352l2-8 1-4-4-22-15-28-1 16 1 22 6 10 10 14zM746 318l-8-3-12-9-7-10-1-2 0-3 4-1 6 2 7 4 7 6 4 6 0 10zM518 320l-4 0-4-2-13-12-4-8 0-2 2-4 3 1 4 3 14 13 5 7-1 2-2 2zM572 324l-4 0-3-2-12-8-8-10-1-4 0-2 4-2 2 1 15 9 5 6 4 6 1 4-3 2zM626 328l-4-1-5-1-11-8-8-10-2-4 0-3 2-1 6 1 7 3 7 6 6 7 3 5 1 4-2 2zM680 331l-4 0-5-1-11-8-10-10-1-4 0-4 3-1 5 1 12 8 6 6 5 6 1 4-1 3zM732 335l-4 0-6-3-11-8-9-10-1-4 1-2 4-1 5 1 13 10 5 6 4 4 0 4-1 3zM500 337l-2-1-5-2-13-12-4-8 2-5 4 0 3 3 15 14 4 4 0 4 0 1-4 2zM556 340l-4 0-2-1-13-9-8-8-1-4 0-4 4-1 3 1 13 8 6 6 3 6 1 4-2 2zM610 344l-2 0-6-2-11-6-9-11-2-5 0-2 2-2 6 2 12 8 10 10 1 4-1 4zM662 348l-4 0-5-2-11-8-8-10-2-4 1-4 3 0 4 1 7 3 7 6 6 5 3 7 1 4-2 2zM716 351l-4 0-5-1-11-8-10-11-1-5 1-2 2-1 6 1 7 4 6 6 9 10 1 4-1 3zM484 353l-4 0-3-3-13-12-4-6 0-2 2-4 2-1 4 3 16 14 2 4 2 4-1 2-3 1zM746 343l-4-5-4-5 0-3 2-3 2 0 4 1 0 15zM540 357l-8-2-12-9-8-10-1-4 1-2 4-1 4 1 13 10 5 6 3 6 1 3-2 2zM184 404l1-10-2-20-14-22-9-19-3 11 3 20 8 12 8 18 6 10 2 0zM592 361l-8-3-12-8-8-10-1-4 1-2 2-1 6 1 7 4 7 6 6 6 2 5 0 4-2 2zM128 398l3-10-4-24-9-17-6-12-1 17 1 20 7 14 9 12zM646 364l-2 0-6-2-12-8-8-10-2-4 0-3 4-1 5 2 7 4 6 4 8 11 2 5-2 2zM698 368l-3 0-5-2-12-9-8-11-2-4 1-2 3 0 7 2 12 8 5 6 4 6 1 4-3 2zM468 370l-4-1-4-3-13-12-4-6 3-6 2 0 4 2 16 14 2 5 1 3-1 2-2 2zM746 370l-9-4-9-9-6-9-1-2 1-2 4-1 6 3 8 4 6 7 0 13zM524 373l-4 0-5-1-11-8-8-10-1-4 1-3 4-1 2 0 14 10 6 6 2 5 1 3-1 3zM576 377l-4-1-5-2-11-8-8-10-1-4 1-2 4-1 4 1 13 10 5 5 4 5 1 4-3 3zM630 381l-4-1-5-2-12-8-9-10-1-4 1-2 2-2 6 2 7 4 6 4 7 7 2 5 1 4-1 3zM682 384l-2 0-6-2-12-8-8-10-2-4 0-3 4-1 5 2 7 4 6 4 6 6 3 6 1 4-2 2zM452 386l-4 0-4-2-14-14-3-6 3-6 2 0 4 2 16 15 3 7-1 2-2 2zM736 387l-4 0-5-1-11-8-9-10-2-4 1-4 4 0 5 2 11 8 9 10 2 4-1 3zM506 390l-6-2-13-8-8-10-1-4 1-2 3-2 4 1 14 11 6 5 2 5 0 4-2 2zM558 394l-8-4-12-8-7-10-1-4 1-2 3 0 4 1 9 5 7 6 4 5 4 5 0 4-4 2zM614 397l-4 0-4-2-13-9-9-9-1-5 1-2 2-1 6 1 13 10 9 9 1 5-1 3zM664 401l-8-4-11-7-7-9-2-5 0-2 2-2 6 2 7 4 8 6 5 6 3 6 0 4-3 1zM434 403l-4-1-3-2-13-12-3-8 1-5 2-1 4 2 16 15 4 5 1 4-1 1-4 2zM718 404l-4-1-6-3-11-8-7-10-1-4 1-1 4-1 5 2 13 10 4 5 4 5 0 4-2 2zM490 406l-4 0-4-2-11-8-8-10-1-4 0-2 4-2 4 2 13 10 9 10 0 4-2 2zM183 452l2-12-2-20-10-14-7-18-6-8-2 6-1 4 3 22 12 18 6 16 5 6zM746 392l-4-8 0-2 2-2 2 0 0 12zM128 446l3-12-3-22-8-12-8-19-1 17 1 20 6 8 5 14 5 6zM544 410l-4-1-5-1-11-8-9-10-1-4 0-3 4-1 5 2 13 8 6 6 3 6 1 4-2 2zM596 414l-10-4-10-8-8-10-2-2 1-4 3-1 5 1 7 4 7 6 7 7 2 5 0 4-2 2zM650 417l-4 0-6-3-11-8-9-10-1-4 1-2 4-1 5 1 7 4 6 6 4 5 4 5 1 4-1 3zM418 419l-2 0-4-3-14-12-4-8 2-5 4 0 3 3 15 14 3 4 1 4 0 1-4 2zM702 420l-2 0-6-2-11-8-9-10-2-4 1-2 3-2 4 2 13 8 5 5 5 7 1 2-2 4zM474 422l-4 0-2-1-13-9-8-10-2-4 1-2 4-1 2 0 14 10 9 11 1 4-2 2zM746 421l-8-5-8-8-4-6-1-2 1-3 4 0 5 1 11 8 0 15zM528 426l-2 0-4-1-13-7-9-11-3-5 1-2 2-2 6 2 12 8 10 10 1 4-1 4zM580 430l-4 0-5-2-11-8-8-10-2-4 1-4 3 0 6 2 12 8 5 6 4 6 1 4-2 2zM634 433l-4 0-5-1-12-8-9-11-1-5 1-2 2-1 6 2 6 3 7 6 9 10 1 4-1 3zM402 435l-2 0-5-3-13-12-4-4 0-4 2-4 2-1 4 3 15 14 5 8-1 2-3 1zM684 437l-4-1-5-2-10-8-8-10-1-4 0-2 4-1 5 1 7 4 7 6 4 6 4 6 0 4-3 1zM458 439l-4 0-4-1-12-10-8-8-1-4 1-3 2-2 4 1 14 10 5 4 4 6 1 4-2 3zM738 439l-4 0-4-1-11-8-9-10-1-4 1-2 2-1 4 1 13 8 11 12 0 4-2 1zM510 443l-3-1-5-2-11-8-8-10-2-4 1-2 2-1 5 1 7 4 7 6 7 6 2 6 0 3-2 2zM564 446l-2 0-6-2-12-8-6-5-3-5-2-4 1-3 4-1 4 2 7 4 7 4 8 11 2 5-2 2zM616 450l-4-1-4-1-12-8-8-11-2-3 1-4 3 0 6 2 13 8 5 6 4 6 0 4-2 2zM386 452l-4-1-4-3-13-12-4-6 3-6 2 0 4 3 16 13 2 5 1 3-1 2-2 2zM670 453l-4 0-4-2-12-7-8-10-3-4 1-4 2-1 6 1 12 8 6 7 4 7 1 2-1 3zM183 500l2-12-2-20-9-14-6-16-8-10-2 6-1 4 4 22 14 20 3 8 1 6 3 5 1 1zM442 455l-4 0-5-1-11-8-8-10-1-4 0-2 3-2 4 0 13 10 5 5 4 5 1 4-1 3zM127 492l4-12-3-20-6-10-4-12-6-9-1 17 1 19 8 12 5 13 1 3 1-1zM720 456l-8-3-11-7-8-10-1-4 2-2 3 0 5 1 12 9 10 12 0 2-4 2zM494 459l-2 0-6-2-11-7-9-10-1-4 0-4 3-1 6 1 12 10 6 5 3 5 1 4-2 3zM548 463l-4-1-6-2-11-8-8-10-2-4 1-2 2-2 6 2 6 4 7 4 5 6 4 6 1 4-1 3zM746 440l-1-4 1-1 0 5zM600 466l-2 0-6-2-12-8-8-10-2-4 0-3 4-1 5 2 5 3 8 5 8 11 2 5-2 2zM370 468l-4 0-4-2-13-12-4-8 2-6 3 0 4 2 15 14 3 4 1 4-1 2-2 2zM102 450l-2-2 0-7 2 7 0 2zM654 469l-4 0-4-1-12-8-10-10-1-4 1-3 2-1 6 2 12 8 6 6 4 6 1 2-1 3zM424 472l-6-2-13-8-7-10-2-4 1-2 3-2 4 1 14 11 5 6 3 4 0 4-2 2zM704 472l-2 0-6-2-10-8-9-10-1-4 1-2 3 0 5 2 12 8 10 12 0 2-3 2zM478 476l-8-3-13-9-7-9-2-3 1-4 3 0 4 1 9 5 6 4 5 7 4 5 0 4-2 2zM746 471l-6-5-9-8-2-4 0-2 3-2 4 1 10 6 0 14zM532 479l-4 0-5-1-12-8-9-11-1-5 1-2 2-1 6 1 7 4 6 6 9 10 1 4-1 3zM584 483l-4-1-5-2-11-8-8-9-3-5 1-2 2-2 6 2 6 3 7 5 5 6 4 6 2 4-2 3zM352 485l-4-1-3-2-13-12-4-8 0-2 2-3 2 0 4 1 17 16 2 4 2 4-1 1-4 2zM636 486l-4-1-7-3-10-8-7-9-2-5 2-1 4-1 5 2 12 10 9 10 0 4-2 2zM408 488l-4 0-4-2-12-8-7-10-1-4 0-2 4-2 4 1 13 11 5 5 4 5 0 4-2 2zM690 488l-4 0-4 0-12-8-9-12-1-2 0-3 4-1 4 2 11 6 12 14 0 2-1 2zM462 492l-5 0-5-2-11-8-8-10-1-4 0-3 4-1 5 2 13 8 5 6 3 5 2 5-2 2zM514 496l-3 0-5-2-12-8-8-10-2-4 1-4 3-1 5 1 7 4 6 6 6 5 4 6 0 5-2 2zM744 491l-4 0-4-1-8-4-14-12-2-4 0-2 2-1 4 0 9 5 16 14 2 2-1 3zM568 499l-4 0-6-3-11-8-9-9-1-5 1-2 2-1 6 1 13 10 5 5 4 5 1 4-1 3zM336 501l-2 0-4-2-15-13-3-8 2-5 4 0 2 2 16 15 4 8-1 2-3 1zM183 548l2-14-2-18-6-10-2-8-2-6-13-17-2 5 0 4 4 26 4 6 9 12 5 8 2 6-1 4 2 2zM620 502l-2 0-6-2-11-6-9-12-2-4 1-2 3-1 4 1 6 2 7 6 10 12 1 2-2 4zM128 536l2-6 1-4-3-18-4-8-2-10-10-13-1 15 1 22 10 12 6 10zM392 505l-4-1-5-2-10-8-9-9-1-3 1-4 4-1 2 1 15 10 5 6 3 6 1 3-2 2zM672 505l-4-1-5-2-11-7-8-11-1-2 1-2 4-1 4 1 12 8 10 12 0 3-2 2zM446 508l-4 0-5-2-12-8-8-10-2-4 1-2 2-2 6 2 13 8 5 6 4 6 1 4-1 2zM726 508l-8-2-9-6-12-10-1-4 0-2 4-1 2 1 10 4 16 16 1 2-3 2zM498 512l-2 0-6-2-12-8-8-10-2-4 0-4 4 0 5 2 13 8 6 6 3 6 1 4-2 2zM550 516l-10-4-11-8-7-10-2-4 2-2 4-1 5 3 7 4 7 6 5 5 2 5 0 4-2 2zM322 517l-4 0-4-1-13-12-4-4-2-4 0-2 3-4 2-1 4 2 14 13 5 8 0 4-1 1zM602 519l-4-1-5-2-11-8-7-10-1-4 0-2 4-1 7 3 12 8 5 6 3 6 0 4-3 1zM376 521l-4 0-4-1-12-10-8-10-1-4 1-1 4-2 3 1 14 10 7 11 1 3-1 3zM656 521l-2 0-4-1-12-6-6-6-4-6-1-4 1-2 2-1 6 1 10 8 12 12 0 4-2 1zM428 525l-4-1-4-2-11-8-9-10-1-4 1-2 4-1 4 1 13 10 5 5 4 5 1 4-3 3zM480 529l-9-3-10-8-8-10-2-4 1-2 2-2 6 2 7 4 7 5 6 7 3 6 1 3-4 2zM712 524l-8-1-10-5-13-12-2-2 1-3 2-1 4 0 9 4 15 14 2 4 0 2zM534 532l-4 0-5-2-11-8-8-10-2-4 1-4 3 0 6 2 12 8 5 6 4 6 1 4-2 2zM746 520l-13-10-2-4 1-2 6 0 4 2 4 3 0 11zM304 534l-4 0-4-3-13-13-4-6 0-2 3-4 2 0 2 1 17 15 3 5 1 3 0 2-3 2zM588 535l-4 0-4-2-12-7-8-10-3-4 1-4 2-1 5 1 13 8 6 6 4 6 1 4-1 3zM360 537l-4 0-4-1-12-8-8-10-2-4 1-2 3-2 4 0 13 10 5 6 4 4 1 4-1 3zM638 538l-2 0-6-2-10-8-9-10-1-4 1-2 3-1 4 2 13 7 11 14 0 2-4 2zM414 541l-4 0-4-1-12-8-10-10-2-4 1-4 3-1 5 1 12 8 9 11 2 5 0 3zM696 540l-8 0-10-5-12-11-3-4 0-2 3-2 4 0 8 4 15 14 2 4 1 2zM466 545l-5-1-5-2-11-8-8-10-2-4 0-2 3-1 5 1 6 2 7 6 6 6 4 6 1 4-1 3zM518 548l-2 0-6-2-12-8-8-10-2-4 0-3 4-1 5 2 7 4 6 4 8 11 2 5-2 2zM746 544l-8-2-6-4-15-12-2-2 0-2 3-2 4 1 10 5 14 12 0 6zM185 586l0-6-1-9 0-5-3-4-2-6 0-8-3-4-10-12-6-11-2 7 0 6 2 12 5 10 0 4-1 2 1 2 3 4 17 18zM288 550l-2 0-4-1-15-13-4-8-1-2 3-4 1 0 4 1 16 15 5 8 0 2-3 2zM572 551l-4 0-4-1-6-3-6-5-10-10-1-4 0-4 3 0 6 2 12 8 6 5 4 6 0 3 0 3zM129 580l1-4 1-4-4-28-15-19-1 13 1 27 6 3 10 12 1 0zM342 554l-7-2-12-8-8-10-1-4 0-2 4-2 4 1 14 11 4 5 4 5 0 4-2 2zM622 554l-2 0-6-2-11-8-9-10 0-2 1-4 3 0 5 2 12 8 10 12 0 2-3 2zM396 558l-4-1-5-1-12-10-8-8-1-4 1-4 3 0 4 1 8 5 6 4 6 7 3 5 1 4-2 2zM678 557l-8-1-8-5-13-11-2-4-1-2 2-1 4 0 10 5 15 14 2 2-1 3zM450 561l-4 0-5-1-13-10-6-5-2-5-2-4 1-2 3-1 6 1 6 4 7 6 9 10 1 4-1 3zM502 565l-4-1-5-2-12-8-9-10-1-4 1-2 2-2 6 2 7 4 6 4 7 7 2 5 1 4-1 3zM746 570l-12-9-10-2-10-5-13-12-2-2-1-2 6-1 6 2 8 5 14 12 8 1 6 2 1 1-1 10zM554 568l-2 0-6-2-11-8-9-9-2-5 1-2 3-2 5 2 12 8 7 6 4 6 0 2-2 4zM328 570l-2 0-6 0-11-8-9-10-3-4 1-4 4-1 2 0 4 2 9 7 9 10 2 4 0 4zM606 571l-8-3-12-8-8-10-1-2 1-3 4-1 4 2 13 8 10 12-1 3-2 2zM380 574l-2 0-6-2-11-6-9-11-2-5 0-2 2-2 4 1 6 3 8 6 10 10 1 4-1 4zM432 578l-4-1-4-1-12-8-8-10-2-4 0-4 4-1 4 2 8 3 6 6 6 6 4 5 0 5-2 2zM662 573l-6 0-10-5-13-12-2-2-1-4 2-1 4 0 9 5 16 14 2 2-1 3zM486 581l-4 0-5-1-13-9-8-10-1-5 1-2 2-1 6 1 6 4 7 6 9 10 1 4-1 3zM746 596l-10-5-18-14-10-1-10-6-14-12-2-2 0-2 4-1 6 2 8 5 16 12 10 2 8 4 12 10 0 8zM276 620l-4-1-7-3-8-6-7-8-2-6 2-4-4-5-5-11-7-8-4-6 0-3 2-3 2-1 4 2 2-2 2 1 6 10 7 8 3 4 0 2-2 2-4 2 0 4-1 4 3 0 4 1 14 12 7 9 0 4-3 2zM538 584l-2 0-4-1-13-7-9-11-2-5 0-2 4-1 6 1 11 8 6 6 4 6 1 4-2 2zM310 587l-8-2-12-9-7-8-2-4 0-4 5-1 2 1 14 10 6 6 3 6 1 3-2 2zM590 587l-4 0-6-2-10-8-8-11-1-2 1-2 4-1 4 1 12 8 10 12 0 4-2 1zM183 730l2-12-2-20-13-11-3-5-1-4 0-3 6-1 4 2 6 5 2-1 1-8 0-4-3-6 2-4-1-10-14-14-4-4-1-4 2-5 4 0 14 11 1-6 0-8-5-8 3-6-1-8-6-3-9-11-4-8-1-4 1-4-1-4-5 12 3 20 8 8 2 6-1 4-1 1-8-3-2 10 0 8 2 14 12 12 4 5 0 3-2 2-4 1-4-1-6-5-2 7 0 6 1 6 0 2 2 12 14 14 5 6 1 4-1 2-2 0-5 0-13-9-2 0 0 3 0 6 1 4 5 7 4 0 2-2 2-1 4 1 7 3zM362 591l-8-3-12-8-8-10-1-4 1-2 2-2 6 2 6 4 8 6 5 6 3 5 1 3-3 3zM644 590l-8-2-8-5-13-11-1-4 0-2 4-1 2 1 10 4 15 16 2 2-3 2zM416 594l-2 0-6-2-12-7-8-11-2-4 0-4 4 0 5 2 13 8 8 11 2 5-2 2zM468 598l-2-1-6-1-11-8-9-10-2-4 1-4 3-1 5 1 5 4 8 6 6 5 4 6 1 5-3 2zM746 621l-8-6-10-3-6-3-20-15-12-2-6-4-15-12-3-2 0-4 2 0 4 0 6 2 22 17 8 1 4 2 8 4 14 11 12 4 0 10zM238 600l-4-1-4-3-8-6-6-6-3-8 3-4 2-1 4 2 16 15 3 4 1 4-2 3-2 1zM114 730l2-1 2-3 2-2 7 0 4-12-3-20-9-10-2-6 0-4 1-1 4 1 6 4 2-6 0-6-3-22-7-8-4-6-2-5 0-3 2-2 2 1 10 9 2-4 1-6-4-26-9-10-6-10-1 12 1 14 3 8-3 2-1 22 1 16 6 8 1 4 0 2-1 1-6-1-1 16 1 18 10 10 4 6-1 2-3 2-5-2-5-3 0 17 0 4 2 0zM520 601l-4-1-5-2-11-8-8-10-1-4 1-2 4-1 6 3 12 8 9 12 0 4-3 1zM294 603l-2 0-4-1-14-8-5-6-3-5-2-5 1-2 3-1 4 1 13 10 5 5 4 5 1 4-1 3zM574 603l-2 0-6-1-11-8-9-10-2-4 2-2 2-1 5 1 11 8 12 12 0 4-2 1zM348 607l-4 0-5-1-12-8-9-11-1-5 0-2 3-1 4 1 14 8 6 6 3 6 2 4-1 3zM400 611l-4-1-5-2-11-8-10-10-1-4 1-3 2-1 6 2 6 3 7 5 5 6 4 6 1 4-1 3zM630 606l-6 0-4-1-8-4-13-13-2-2 0-2 3-2 2 0 10 4 16 14 2 4 0 2zM452 614l-4 0-5-2-11-8-8-10-2-4 0-3 4-1 6 2 12 8 5 6 4 6 1 4-2 2zM746 647l-8-4-16-12-12-3-6-3-20-15-8-1-8-4-16-13-3-4 0-2 5 0 8 3 8 6 12 10 14 3 6 4 16 12 12 3 8 5 8 6 0 9zM506 617l-4 0-5-1-11-8-9-10-2-4 1-4 2-1 5 1 12 8 6 6 5 6 1 4-1 3zM556 620l-3 0-5-2-10-8-9-10-1-2 1-4 3-1 4 2 7 3 6 6 10 12 1 2-4 2zM332 623l-4 0-4-1-12-8-10-10-2-4 0-4 2-1 6 1 12 8 6 6 4 6 2 4 0 3zM610 623l-6-2-10-6-12-11-1-2 0-2 3-2 4 0 10 6 15 14 1 4-4 1zM384 627l-6 0-4-3-11-8-9-9-1-5 0-2 3-1 7 1 12 10 5 5 4 5 1 4-1 3zM250 638l-2-1-2-2-3-7-7-8-4-6 0-4 6-2 0-5 2-2 4 3 5 12 9 8 4 8 0 2 0 2-6 0-4-2-2 4zM434 631l-8-4-12-9-8-9-1-3 1-3 4-1 6 2 7 4 7 6 4 6 3 6 1 3-4 2zM746 671l-22-10-18-13-10-3-8-4-20-14-10-2-8-4-14-11-2-4-1-2 3-2 8 3 10 6 12 11 10 1 4 2 22 15 14 5 22 14 8 4 0 8zM488 634l-4-1-6-3-11-8-7-10-2-4 1-2 3 0 6 2 7 4 7 6 4 5 4 5 0 4-2 2zM540 636l-2 0-6-2-11-8-8-10-1-2 0-3 4-1 5 2 12 8 10 12 0 2-3 2zM314 640l-4-1-5-1-12-10-8-10-1-4 0-2 2 0 6 0 7 4 7 6 6 7 3 5 1 4-2 2zM596 639l-8-1-9-4-13-12-2-4 0-2 2-1 4 0 10 5 15 14 2 2-1 3zM366 644l-10-4-11-8-7-10-2-4 1-2 5-1 5 3 14 10 5 5 2 5 0 4-2 2zM420 647l-5-1-5-2-11-8-8-10-2-4 1-2 2-2 6 2 6 4 7 4 5 6 4 6 1 4-1 3zM746 698l-20-13-18-8-20-13-10-4-8-3-18-14-8-1-10-5-15-11-3-4 0-2 6-1 6 2 8 6 14 11 8 1 6 2 22 16 13 5 23 14 18 8 6 4 0 10zM472 650l-2 0-6-2-11-8-9-10-2-4 0-3 4-1 4 2 13 8 6 6 4 6 1 2-2 4zM266 689l-6 0-12-5-10-12-3-4-1-4 2-3 3-1-1-8-11-8-7-7-5-7 0-2 1-2 4-1 5 1 9 7 8 7 4 8 0 4 5 14 8 8 5 6 3 6-1 3zM524 653l-4 0-4-2-11-7-9-12-1-2 1-2 2-2 6 2 12 8 11 12-1 3-2 2zM298 656l-2 0-4-1-13-7-9-11-3-5 1-3 2-1 4 1 8 3 6 6 10 10 1 4-1 4zM350 660l-4 0-5-2-11-8-8-10-2-4 0-4 4-1 4 1 12 8 7 8 4 6 1 4-2 2zM580 655l-6 0-10-5-13-12-3-4 0-2 6-1 9 5 15 14 3 2-1 3zM404 663l-4 0-5-1-13-10-5-6-3-4-1-4 1-2 2-1 6 1 7 4 6 6 9 10 1 4-1 3zM746 722l-18-8-20-13-14-6-20-14-18-6-20-15-2-1-8-1-6-3-16-13-4-4 0-2 1 0 3-1 6 2 10 6 14 11 6 1 8 3 22 15 14 5 20 14 20 8 16 11 6 3 0 8zM454 667l-9-3-10-8-8-10-1-4 0-2 4-1 5 1 13 10 6 5 3 7 0 4-3 1zM508 669l-4 0-4-2-12-7-9-12 0-2 1-2 2-1 6 1 12 8 10 12 0 4-2 1zM280 673l-8-3-12-8-8-10-1-4 0-2 3-2 5 2 13 8 6 7 4 5 1 4-3 3zM564 672l-8-1-10-5-13-12-2-4 1-2 6 0 9 4 15 14 2 4 0 2zM334 676l-2 0-6-2-13-8-9-11-1-3 1-4 4 0 5 2 13 8 8 11 2 5-2 2zM386 680l-3 0-5-2-10-8-10-9-2-5 1-4 3-1 4 2 8 3 6 6 6 5 4 6 1 5-3 2zM746 749l-10-7-18-6-3-2-1-2-18-13-20-8-20-14-16-6-20-15-12-2-6-3-15-13-3-2-1-4 3 0 4 0 4 2 8 5 16 12 8 1 4 2 22 15 16 6 20 13 16 7 22 14 20 7 0 13zM440 683l-4 0-4-2-12-7-8-10-3-4 1-4 2-1 6 1 12 8 6 7 4 6 1 3-1 3zM490 686l-4-1-5-3-11-7-7-11-1-2 2-2 2-1 6 2 12 9 10 12 0 2-4 2zM318 693l-4-1-5-2-12-8-9-10-1-4 1-3 2-1 6 2 7 4 6 4 7 7 2 5 1 4-1 3zM548 688l-6 0-4-1-8-4-12-11-2-4-1-2 3-2 2 0 10 4 16 14 2 4 0 2zM102 677l-2 0 0-10 2 7 0 3zM370 696l-2 0-6-2-12-8-6-6-3-6-1-4 0-2 4 0 5 2 13 8 6 7 4 5 0 4-2 2zM746 773l-12-5-20-13-14-7-12-6-15-6-3-2-3-4-9-4-18-12-18-7-20-15-8-1-8-4-16-13-3-2 0-4 5 0 8 3 20 16 14 3 22 15 16 6 22 15 27 10 4 4 2 4 18 8 21 13 0 8zM424 699l-4 0-4-1-12-8-10-10-1-4 0-4 3-1 5 1 5 4 7 4 6 6 4 6 2 4-1 3zM474 702l-4 0-4-2-10-8-9-10-1-4 1-2 3-1 4 2 7 3 6 6 10 12 0 2-3 2zM304 762l-4-1-8-3-8-6-8-9-14-2-10-6-6-5-6-6-3-6 1-4 2-2-2-8-10-8-6-8-4-6 0-2 0-2 4-1 5 1 7 5 8 6 6 7 2 4 0 4-2 2 4 12 8 5 6 8 16 3 6 3 6 5 8 8 4 5 1 5-3 2zM530 705l-6-1-12-6-12-12-2-2 1-2 3-2 4 0 9 6 16 14 1 4-2 1zM302 709l-4 0-5-1-11-8-10-11-2-5 1-2 3-1 6 1 13 10 7 6 2 6 1 4-1 1zM354 713l-4-1-5-2-11-8-8-9-2-4 0-4 2-1 6 2 7 4 6 4 9 12 2 4-2 3zM406 716l-4 0-5-2-11-8-8-11-2-5 1-2 3 0 6 2 6 4 7 4 5 6 4 6 0 2-2 4zM456 719l-8-3-10-9-8-9-1-2 1-4 4 0 5 2 6 4 7 6 7 8 2 4-1 1-4 2zM514 721l-4 0-4-1-8-4-14-12-2-6 2-1 4 0 8 4 17 15 2 2-1 3zM284 726l-2 0-6-2-12-8-9-12-1-4 0-2 4-1 5 1 13 10 6 5 4 6 1 5-3 2zM338 729l-4 0-6-2-11-9-9-9-1-5 0-2 3-2 5 2 5 2 8 6 6 6 4 6 1 4-1 3zM426 751l-2 0-6-1-14-10-11-4-3-4-8-1-6-4-12-12-4-5 0-4 2-2 4 1 11 5 9 9 6 10 4-1 1-2 1-1 4 0 6 3 16 10 3 2-1 2 3 6-3 3zM482 754l-6 0-6-2-6-4-8-6-10-4-14-6-8-6-6-6-5-6 0-4 3-2 2 1 9 3 8 6 9 11 12 1 14 7 12 13 0 2 0 2zM358 765l-6-1-10-5-9-7-5-9-4 0-2 2-4 0-8-3-6-4-10-10-4-6 0-4 4-1 6 1 6 4 12 10 18 6 6 4 9 8 5 6 3 6-1 3zM408 768l-8-2-9-6-7-9-4-5 0-3-4 0-2 5-4 0-7-2-17-11-2-3 2-2-3-6 1-2 4-1 5 1 15 11 10 5 2 3 8 1 8 4 8 8 7 8 1 4-4 2zM131 760l-3-18-4-2-7-4-5-3 1 11 9 6 8 10 1 0zM185 766l-2-18-9-7-14-6 1 9 13 9 8 9 2 5 1-1zM231 778l11-3-1-5 1-4-3-12-15-12-17-4-2 8 5 0 4 1 10 7 10 10 3 4 1 4-2 3-4 0-10-5-8-6-6-6-3-6-1-2 0 4 2 14 8 8 17 2zM466 770l-8 0-10-5-12-11-3-4 0-2 3-2 2 0 10 4 15 14 3 4 0 2zM183 778l1-8-2 2-8-2-8-5-8-7 0 12 6 5 19 3zM127 776l1-8-7-2-9-6-1 10 1 4 0 1 15 1zM130 806l0-9-10 0-1 1 1 0 10 9 0-1zM185 812l-1-12-1-2-1-1-7-1-9 0 0 2 11 8 7 7 1-1zM225 824l0-2-9-6-5-8-3-4 0-4 2-1 4 0 6 2 10 8 10 11 4 1 2-2-6-13-8-8-16-2-12 3 0 1 2 20 6 3 8 1 5 0zM503 824l4-2-19-15-12-2-12-7-12-2-6 0-14 3 1 3-5 1-4-1-10-4-12-2-6 1 8 7 11 10 1 4-2 1-8-1-8-4-8-8-6-7-4 0-6 2-12-4-8-1-4 1 12 15 0 4-4 1-5-1-7-4-6-6-8-7-22-3-8 2 7 12 0 2-3 2-4-1-8-3-12-12-20-2-10 2 4 6 1 4-1 3-4 1 0 8 6 3 6 1 6 0 3-2-8-8-3-6 0-4 2-1 7 1 7 4 6 6 6 7 20 3 6 0 6-2-7-10 0-4 3-1 4 1 6 2 12 11 16 3 6 0 8-3-3-7 1-2 4-1 8 3 8 8 14 2 6 0 12-3-1-3 1-2 2 0 6 1 10 5 8 1 8 1 6-2-10-6-12-10-3-4 1-2 2-1 6 1 6 3 20 17 4 0 20 4 9 0zM549 824l5-2-12-10-16-5-12-9-20-2-12 3 0 1 4 3 8 0 6 3 20 15 22 3 7 0zM595 824l6-2 0-2-9-5-13-5-17-11-22-3-10 2 8 6 16 6 16 11 18 3 7 0zM642 824l6-4-17-8-21-13-22-3-10 2 12 9 15 7 11 7 18 3 8 0zM688 824l5-2 1-2-12-5-18-11-8-4-4-2-16-2-6 0-6 2 18 12 24 11 16 3 6 0zM734 824l6-2-22-14-20-9-18-3-11 2 27 16 16 7 16 3 6 0zM178 824l-10-8-10-10 2 15 2 2 6 0 10 1zM127 824l0-4-1 0-6-4-8-6 0 12 10 2 5 0zM130 856l0-5-4 1 4 4zM185 862l-1-10-6-1-5 1 12 10zM249 870l-3-5-4-9-4-3-14-2-6 1 12 7 10 10 9 1zM406 870l2-2-9-6-9-8-28-3-4 1-4 2 10 10 1 2-3 1-4 0-4-2-16-11-20-3-6 1-6 2 6 8-1 2-3 1-10-4-10-8-18-2-12 3 2 4 0 4-2 1-6-1 0 6-1 2 19-1 1-1-5-8 0-2 2-1 9 3 13 9 16 1 14-1 2-1-3-4 1-2 2 0 6 1 10 6 14 1 18-1 2-1 0-1 2-1 10 3 22 1zM453 870l3-2-12-8-4-6-8 1-22-4-6 0-3 3 11 8 6 7 22 1 13 0zM499 870l5-2-10-8-2-2-8 0-10-5-16-2-6 0-7 3 9 4 14 11 20 1 11 0zM545 870l7-2-8-5-12-4-10-5-22-3-12 3 2 3 6 0 6 3 14 9 18 1 11 0zM592 870l8-2-4-2-13-4-13-8-22-3-5 1-7 2 8 6 9 2 11 7 28 1zM638 870l8-2-12-4-16-10-24-3-4 0-6 3 10 8 16 7 16 1 12 0zM684 870l6-2-26-14-24-3-9 3 15 11 7 3 19 2 12 0zM731 870l6-2-17-9-12-5-20-3-4 0-7 3 22 14 19 2 13 0zM172 870l-9-10-3-5-2-1 2 16 12 0zM221 870l-7-10-2-6-4 0 0 4-2 2 1 10 14 0zM125 870l-13-10 0 10 13 0zM316 884l-12 0-1-4 1-1 4 0 4 1 4 4zM544 884l-9 0-4-4 5 0 8 4zM360 884l-2 0 2 0z"/>
<path fill="#9ccae2" fill-opacity="0.5" fill-rule="evenodd" d="M444 884l-4-2-8-4-22-1-16 1-2 0 2 4-2 1-10-5-16-1-20 1-3 0 1 3-2 0-9-3-11-1-26 1-6 2-6-3-16 0-7 1 8 6-7 0-7 0-5-6-12 0-12-1-10 0 5 7-5 0-13 0-1-2-1 2-16 0 0-6-5-1-12 0 4 7-6 0-40 0 2-2 2-2 0-2-2-1-10 1 3 6-15 0-2 0-4-5 0-16 2 2 2-1 1-12-1-1-2 0-2 2-1-33 1-7 4 2 0-1 1-10 0-4-1-3-4 0 0-17 1 0-1-2-1-8 1-7 4 3 1-8-1-8-1-4 1-4 0-12-4-3-1-5 1-7 4 5 0-2 1-6-1-14-2-6 2-4 1-28-1-12-3-8 1-1 2-1 1-22-1-18-5-8 1-2 4 2 1-16-1-27-4-3-1-4 1-1 4 4 1-15-1-26 1-22-1-24 1-22-1-26 1-20-1-26 1-20-1-26 1-22-1-22 1-24-1-12 8 0-1 22 1 28-1 18 1 28-1 20 1 24-1 22 1 26-1 22 1 22 6 7 2 5 0 2-2-2-6-6 0 2-1 14 1 24 0 4 4 2 4 6 5 8-1 2-4-2-4-7-4-6 0 1-1 14 1 26-1 22 1 20-1 28 1 14 4 6 1 4-1 2-4-1 0 1-1 22 1 14 8 10 3 6-1 2-2 0-8-4-1 18 1 18 13 10 3 6 2 4-2 2-4 0-6-3-6-5-1 14 1 5 8 1 4-1 6 1 4-12-4-22-7-8-3-6 0-4 2-1 8 3 4-6 0-6-4-22-9-12-3-6 1-2 3-1 9 7 3-6 0-6-4-26-10-10-2-4-2-4 2-3 2 1 10 10 2 0 2-4 0-6-4-28 0-4 4-8 0-4-5-26 1-10 4-6 0-4-4-22-2-6-2-4 2-2 2 1 0-1 4-8 0-4-4-24-4-9-2-5 0-2 2 1 4 4 0-1 4-6 0-4-4-28-6-10-2-6 2 0 6 8 4-6 0-4-4-32-6-8-3-6 1-1 2 3 6 9 4-8 0-3-4-30 0-7 4-6 0-3-4-30 0-8 4-6 0-2-3-20 27 0-4 6 0 2 4 24 8 18 12 19 6 13 4-6 1-4-4-22-10-20-11-18-5-12 5 0 10 16 10 20 4-8 1-4-4-20-2-4 9-1 9 1 3 24 8 14 8 16 12 20 7 16 13 20 7 16 14 22 3 5 0 7 15 18 3 7 2 5 0 2-2 0-4-1-11-13-3-8-1-8-1-2-14-19-4-6-3-11-14-20-7-18-12-19-10-21-6-8-3 6 0 4 4 24 11 18 7 16 13 20 6 16 14 21 3 7 0 4 1 4 15 18 4 6 0 4 0 2-1 1-4-2-11-13-4-8 0-6-1-4-15-18-3-8-4-12-14-19-9-21-9-12-3 4 0 4 4 26 15 23 6 17 15 20 2 6 0 4 1 4 15 18 3 6 1 4-1 3-2 0-6-5-7-8-5-10 0-6-1-4-15-19-2-6-5-13-15-22-3 6 0 4 3 18 4 12 16 24 2 6 0 4 2 6 15 18 3 6 1 4-1 2-4-1-4-5-8-9-4-7-1-10-15-21-4-7-2-7-3 11 3 20 5 12 2 8 16 20 3 10 0 2-2 0-2-1-11-11-5-10-1-10-5-6-3 12 3 22 8 12 2 6-2 3-2-1-6-4-3 6 0 6 3 22 11 12 3 8-2 2-2 0-4-2-6-7-3 7 0 4 4 26 14 14 3 4 1 4-2 2-4 0-5-3-10-9-1 4 0 4 1 10 4 4 1 4-3 4 0 10 6 3 11 9 6 6 1 6 0 1-4 1-4-2-11-8-7-8-1 6 2 12 6 8 3 6-2 2-5 0-1 8-3 6 1 10 1 10 9 9 4 7 0 2-2 2-10-3-3 9 0 6 3 18 10 9 18 4 6-1 7-2-3-8 0-2 2-1 4 0 4 2 12 9 13 2 7 1 6-3 6-1-1-5 1-1 2 0 6 2 10 6 12 2 6-1-10-8-8-8-2-6 0-2 2-2 8 3 8 5 7 8 5 7 6 0 2-1 2-1 10 4 10 2 4-1 4-2-8-5-6-7-1-4 1-2 2-1 4 1 7 4 6 4 7 9 26 4 6-1 4-2-10-10 0-4 2-1 8 3 14 11 22 4 6-1 6-2-6-8 0-2 2-1 8 2 12 9 18 3 6-1 8-3 1-1-4-4 1 0 2-1 6 1 10 6 16 3 6 0 7-3-1-2-10-4-12-8-7-6-1-2 2-1 6 1 6 2 20 16 8 1 8 3 16 3 4-1 6-2-10-6-14-11-11-3-11-5-13-11-1-3 4-1 4 1 6 3 20 15 10 3 6 2 22 15 26 4 3-1 5-2-16-12-18-8-20-13-10-3-8-4-16-12-1-4 3 0 8 3 22 16 8 1 8 4 20 13 16 7 18 11 24 4 4-1 6-2-12-8-18-8-18-13-17-7-21-14-8-2-8-4-17-12-2-4 3-1 5 1 4 2 21 16 10 2 5 2 21 15 17 7 19 12 15 6 15 9 18 3 6 1 0 17-4-2-20-3-4 0-9 3 22 12 15 9 0 6-13-7-17-10-20-10-22-3-12 3 14 6 22 14 16 8 22 4 4-1 6-3 0 27-20-4-2 1-6 3-6 1-32-5-2 1-8 3-6 1-30-5-12 5 11 6 3 2 1 2-1 0-8-4-10-6-30-5-4 1-6 4 8 6 1 2-1 0-8-2-8-6-28-5-4 1-7 4 5 4 0 2-2 0-5-2-9-5-24-4-4 1-5 2-4 2 1 2-2 1-4-1-8-3-20-4-4 1-6 3-10 2-8-2-18-4-4 1-6 2 1 2 7 4 8 6 3 4-1 1 0 1-6-2-8-6-6-6-1-2 1-1-12 0-22-4-4 1-5 2 11 12 1 2-1 1-5-1-5-2-12-10-26-4-4 0-6 2 7 10 1 2-2 1-8-2-12-10-22-3-6 0-6 3 4 7 0 3-4 1-8-4-10-8-20-3-10 4 1 7-3 2 1 10 7 1 10-1 1 0-5-6-4-6-1-4 1-1 2 0 6 2 6 3 12 12 18 1 15-1-6-8 1-2 2-2 8 3 10 9 12 1 24-1-2-4 0-2 2 0 5 2 7 4 14 1 28-2 20 2 22-1 26 1 15-1-6-4-7-4-3-4 0-2 1 0 9 4 7 6 2 2 0 2 2 0 26 1 17-1-9-6-1-2 1-1 6 3 8 6 20 1 24-1-1-2 1 0 3 2 23 1 20-1 26 1 20-1 28 1 18-1 28 1 22-1 1 2-1 5-14 0-18 1-26-1-20 1-26-1-22 1-24-1-24 1-22-1-22 1-26-1-18 1-30-1-14 1 4 4 0 2zM312 412l-2 0-6-4-10-13-2-7 0-6-1-2-15-21-4-6-3-11-13-20-7-16-13-20-8-16-12-19-7-15 6 0 11 17 10 21 13 20 6 14 14 22 6 16 15 20 2 6 1 8 11 15 6 9 2 4 0 4zM328 395l-4 0-2-3-10-13-4-6 0-5 0-2-1-4-15-20-7-16-13-19-7-17-13-20-7-16-11-18 8 0 1 0 10 22 13 20 6 14 14 21 5 15 15 21 2 7 0 4 2 6 10 12 7 8 2 6-1 3zM344 379l-2 0-4-3-10-14-4-7 0-7-16-21-2-6-4-11-14-20-7-18-13-19-8-17 6 0 14 23 9 19 13 20 6 16 14 20 2 5 1 7 1 2 10 13 7 9 2 4-1 5zM360 363l-2-1-4-3-10-13-3-8 0-4-1-4-16-20-6-18-12-18-9-18-13-20 9 0 3 5 9 19 13 21 6 15 15 22 2 6 0 4 1 4 12 13 6 9 1 6-1 3zM378 346l-4 0-2-3-12-13-3-8 0-8-11-13-5-9-6-14-13-21-7-15-4-6 7 0 4 8 12 20 7 16 15 21 2 6 0 7 13 16 5 7 2 5 0 4zM394 330l-2 0-4-3-10-13-4-8 0-6-1-2-15-19-4-8-3-11-11-17-5-7 8 0 7 9 3 5 4 14 11 14 4 8 2 6 0 2 1 4 12 14 6 10 1 4 0 4zM410 313l-2 0-4-3-10-12-4-8 0-8-16-20-2-6-4-12-6-8 8 0 3 10 15 23 3 5 0 8 12 14 6 8 2 6-1 3zM426 297l-2 0-4-3-10-12-3-10 0-4-1-4-14-16-5-12 6 0 9 10 4 10 1 8 1 2 16 20 3 6-1 5zM442 280l-2 0-4-3-8-10-4-9-1-8-11-14 9 0 2 6 0 4 1 4 10 11 6 9 3 6 1 3-2 1zM460 264l-2 0-4-3-9-11-5-8 0-6 2 0 12 14 5 8 1 6zM476 248l-6-3-8-9 10 0 4 8 0 4zM528 250l-2 0-4-3-10-11 11 0 6 8 1 4-2 2zM582 253l-4 0-4-3-9-10-3-4 11 0 10 10 1 4-2 3zM598 237l-5-1 7 0-2 1zM636 257l-4-1-9-6-8-8-2-4-1-2 10 0 7 4 8 10 1 4-2 3zM652 241l-5-1-6-4 13 0 0 3-2 2zM690 261l-2 0-4-2-12-7-7-10-2-4 1-2 2 0 4 0 13 8 8 10 1 4-2 3zM708 244l-4 0-4-1-11-7 17 0 2 4 0 4zM746 243l-8-7 8-1 0 8zM742 265l-4-1-4-2-10-8-7-8-1-4 0-2 4-1 5 1 12 10 5 4 3 6 0 4-3 1zM512 267l-6-3-9-10-5-8 0-6 2 0 4 3 11 11 4 8 0 4-1 1zM566 270l-4-1-4-2-9-9-4-8-1-4 2-1 2 0 4 3 12 12 3 6 0 2-1 2zM620 273l-2 0-5-1-11-10-4-4-2-4 0-2 2-3 2 0 4 1 12 10 6 8 0 4-2 1zM674 277l-2 0-6-1-10-8-7-8-2-4 1-3 2-1 4 0 12 8 8 10 2 4-2 3zM728 281l-4 0-4-1-11-8-8-8-2-4 1-4 2-1 4 1 12 8 6 5 4 5 1 4-1 3zM496 283l-4 0-2-3-9-8-5-8 0-4 0-3 4 0 2 3 11 12 4 8-1 2 0 1zM550 286l-2 0-5-2-10-10-4-6-1-2 0-5 2 0 4 2 13 13 4 6-1 4zM602 290l-6-3-12-9-5-8 0-2 1-3 4 0 4 2 12 11 4 4 2 4-1 2-3 2zM658 294l-4 0-4-2-11-8-7-8-1-4 0-2 3-2 4 1 12 9 8 10 1 4-1 2zM712 297l-4 0-4-1-11-8-8-8-2-4 0-4 3 0 4 1 12 7 9 10 1 4 0 3zM478 300l-6-4-7-8-5-8-1-4 1-3 2 0 4 3 11 12 3 8 0 2-2 2zM746 293l-9-11-1-4 0-3 4 0 6 3 0 15zM532 303l-6-2-9-9-5-8-1-4 1-2 4 0 4 2 11 12 3 6 0 4-2 1zM186 362l3-8-4-20-6-16-11-18-10-19-3 7-1 2 4 24 13 26 13 22 2 1 0-1zM588 306l-4 0-4-1-11-9-4-6-2-4 0-2 1-2 4-1 4 3 11 10 6 8 0 2-1 2zM642 310l-4 0-4-2-10-6-8-10-2-4 0-2 4-1 3 1 12 8 9 10 1 4-1 2zM694 314l-2 0-5-2-11-8-9-10-1-4 1-2 3 0 5 2 12 8 8 10 1 4-2 2zM462 316l-2-1-4-2-9-11-4-6 0-4 1-3 2 1 4 2 11 14 3 6 0 2-2 2zM746 317l-2 0-6-2-10-7-8-10-1-4 1-2 2-1 5 1 12 8 7 9 0 8zM516 319l-2 0-4-2-9-9-5-8 0-6 2 0 4 2 12 12 4 6-2 5zM570 323l-4-1-4-2-11-10-4-6-1-4 2-2 2 0 4 2 13 10 4 6 2 4-1 2-2 1zM624 327l-8-3-10-8-7-8-1-4 0-2 4-1 4 1 12 10 6 5 2 5 0 4-2 1zM678 330l-2 0-6-1-10-7-9-10-1-4 0-3 4-1 4 1 11 7 9 10 1 6-1 2zM446 332l-2 0-4-2-10-12-4-8 0-2 2-2 6 3 10 13 3 6-1 4zM730 334l-8-3-11-7-7-10-1-4 0-2 3 0 6 2 6 4 6 4 5 6 2 4 1 4-2 2zM500 336l-4-1-4-2-10-11-3-6 0-4 1-2 2 0 4 2 13 14 3 6-1 2-1 2zM554 339l-2 0-4-2-13-9-5-8 0-2 2-4 2 0 4 2 13 10 5 8 0 4-2 1zM608 343l-2 0-5-1-11-8-7-10-2-4 1-2 2 0 5 0 12 10 8 10 1 2-2 3zM660 347l-8-3-10-8-7-8-2-4 1-2 4-1 4 1 13 10 4 4 3 6 1 4-3 1zM430 349l-3-1-3-2-10-10-4-8 0-4 0-2 2 0 4 3 12 13 3 6 0 4-1 1zM714 350l-2 0-5-2-11-6-8-10-2-4 0-3 4-1 4 1 11 7 5 6 4 6 2 4-2 2zM484 352l-4 0-4-3-10-11-4-8 0-2 2-1 2 0 4 2 12 13 3 6 0 2-1 2zM186 410l2-6 1-4-4-24-15-24-7-16-5-8-3 6-1 4 4 24 8 14 7 16 13 18zM746 342l-6-8-1-4 2-2 5 1 0 13zM536 356l-7-4-11-8-4-8-1-2 1-3 4 0 4 1 13 12 3 4 2 4-1 2-3 2zM592 359l-2 0-4-1-12-8-8-8-1-4 1-3 2-1 4 1 12 8 8 9 2 4-2 3zM646 363l-4 0-4-1-11-8-8-10-2-4 1-2 2-1 4 1 12 8 6 5 3 5 2 4-1 3zM414 365l-4 0-2-2-10-11-4-8 0-4 0-1 4 1 2 2 10 10 4 8 1 4-1 1zM698 366l-2 0-4-1-12-7-8-10-2-4 0-2 4-1 4 1 11 8 9 9 1 3-1 4zM468 368l-4 0-4-2-10-10-4-8 0-5 2 0 4 2 13 13 4 6-1 4zM746 369l-8-4-8-7-6-8-1-2 1-3 2 0 6 2 12 9 2 2 0 11zM522 372l-4 0-4-2-11-10-6-8 0-2 1-3 2 0 5 1 13 11 5 9 0 2-1 2zM576 376l-4 0-4-2-11-8-7-8-2-4 1-2 3-2 4 1 12 9 8 10 1 4-1 2zM628 380l-4-1-6-2-9-7-7-10-1-4 0-2 3 0 6 1 12 9 5 6 3 4 0 4-2 2zM396 382l-6-3-8-9-5-10 1-5 2 0 4 3 10 12 4 6 0 4-2 2zM682 383l-4 0-4-1-10-8-8-8-2-4 0-4 2-1 4 1 12 8 6 5 4 5 1 4-1 3zM450 385l-2-1-4-2-10-10-4-6-1-4 1-2 2 0 4 2 13 12 3 6 0 4-2 1zM732 386l-4-1-4-2-10-7-7-10-1-2 1-2 3-1 6 2 11 9 8 10 0 2-3 2zM506 388l-4 0-4-2-11-8-4-6-2-4-1-2 2-2 4 0 3 2 12 10 6 8 0 2-1 2zM560 392l-4 0-4-1-11-7-7-10-2-4 0-2 4-1 3 1 12 8 8 10 2 4-1 2zM612 396l-2 0-5-2-10-6-9-10-2-4 0-3 4-1 4 1 11 7 5 6 4 5 2 5-2 2zM380 398l-2-1-4-2-8-9-5-8-1-4 1-2 3 0 4 3 10 11 4 8 0 3-2 1zM666 399l-4 0-4-1-11-8-9-9-1-3 0-4 3 0 4 1 12 7 8 10 2 4 0 3zM186 456l2-6 1-4-4-24-11-17-8-19-8-11-4 5 0 4 4 26 12 19 4 11 3 6 9 10zM434 401l-2 0-4-1-10-10-4-6-1-4 1-4 2 0 4 2 12 12 4 6-2 5zM718 402l-4 0-4-1-10-7-8-10-2-4 0-2 4-1 4 1 10 8 10 10 1 4-1 2zM488 405l-8-3-11-10-5-6 0-4 2-2 2 0 4 2 14 11 3 5 2 4-1 2-2 1zM746 390l-3-6 1-2 2 0 0 8zM542 409l-3-1-5-1-9-7-8-10-2-4 1-2 2-1 4 1 13 8 8 10 1 4-2 3zM596 412l-2 0-4-1-12-7-8-10-2-4 0-2 2-2 5 2 11 7 9 9 2 4-1 4zM364 415l-4-1-4-4-8-10-3-6-1-6 4 0 2 3 12 13 3 8 0 2-1 1zM648 416l-8-3-11-7-7-10-2-4 1-2 3 0 6 2 12 8 4 6 3 4 1 4-2 2zM418 418l-6-2-10-10-5-8-1-4 1-2 3 0 4 3 13 13 3 6-1 2-1 2zM700 419l-4-1-6-3-9-7-7-8 0-4 0-2 4 0 4 2 12 8 4 5 4 5 0 4-2 1zM472 421l-2 0-4-1-12-10-6-8 0-2 1-4 3 0 4 2 12 10 6 8 0 4-2 1zM746 420l-8-5-6-7-5-6 0-2 1-1 2-1 6 2 10 8 0 12zM526 425l-2 0-5-1-10-8-8-8-2-4 1-3 2-1 4 1 12 7 9 10 1 4-2 3zM580 429l-4 0-4-2-11-7-9-10-1-4 1-2 4-1 4 1 12 8 8 10 1 4-1 3zM348 431l-4-1-2-2-10-10-4-8 0-4 0-2 2 0 4 3 12 13 3 6 0 4-1 1zM632 432l-2 0-5-2-11-6-8-10-2-4 0-3 4-1 4 1 11 7 9 10 1 4-1 4zM402 434l-4 0-2-2-10-8-5-8-1-4 0-3 2 0 4 2 14 12 3 7-1 4zM684 435l-2 0-6-2-9-7-8-8-2-4 1-3 2-1 4 1 6 3 6 4 9 12 1 2-2 3zM454 438l-4-1-4-2-10-9-4-8-1-2 1-3 4 0 4 2 12 11 4 4 2 4-1 2-3 2zM738 438l-4 0-4-2-10-7-8-9-2-2 1-2 3-1 2 0 11 7 11 10 1 4-1 2zM508 442l-8-3-10-9-6-8-1-2 1-3 2-1 5 2 13 9 4 5 3 4 0 4-3 2zM564 445l-4 0-4-1-11-8-9-10-1-4 1-2 2-1 5 1 12 8 8 10 1 4 0 3zM186 780l2-6 1-4-4-20-11-10-3-6-1-4 0-2 4-1 12 6 1-3 1-7-2-9 1-2-2-14-13-10-3-6-1-4 2-3 4 0 12 10 2-5 0-4-1-6-3-8 2-2-1-12-5-4-7-6-5-8-2-4 2-4 3 0 5 4 10 11 2-1 1-4-1-8-1-6-4-6 0-4 2-4 0-8 3-8 0-4-2-16-5-8-1-6 0-2 5 0 1-4 2-6 0-4-3-20-7-10-2-8 2-4 7 8 3-8 1-4-4-22-9-15-6-15-12-19-4 6 0 3 4 28 15 22 3 6 1 4-1 5-12-16-6-12-4 7 0 4 3 18 3 10-2 2 0 6-4 6 0 4 3 20 5 8 2 6-2 1-4-1-4 8 0 4 4 22 8 10 2 8 0 1-2 0-8-5-4 6 0 6 4 24 12 12 3 4 1 2-2 4-4 0-12-9-2 3 0 6 3 12 2 16 15 13 4 7 1 4-3 1-6-1-8-6-6-7-2 3 0 4 2 10 5 6 2 4-1 2-4 2 0 10 9 4 9 8 6 8 2 5-2 1-2 1-8-3-10-8-8-9 0 5 2 12 8 9 20 3 2 0zM332 447l-2 0-4-1-8-8-6-10-1-4 1-3 2 0 2 1 11 12 5 8 1 4-1 1zM614 449l-8-3-10-8-7-8-1-4 0-2 4-1 5 1 6 4 6 6 5 4 2 6 1 4-3 1zM384 451l-2-1-4-2-11-12-3-6-1-2 1-3 4 0 2 2 14 13 3 6-1 4-2 1zM668 451l-2 0-4-1-11-6-8-10-2-4 0-2 3-1 4 1 11 6 9 12 2 2-2 3zM440 454l-4 0-4-2-12-10-5-8 0-2 1-3 2 0 4 2 14 11 5 8 0 2-1 2zM722 454l-4 0-4-1-9-5-9-10-2-4 0-2 4-1 4 1 8 6 11 10 1 4 0 2zM494 458l-4 0-4-2-11-8-8-8-1-4 1-2 3-2 4 1 12 9 8 10 1 4-1 2zM546 462l-8-3-11-7-7-10-2-4 1-2 3 0 6 1 12 9 5 6 2 4 1 4-2 2zM314 464l-6-3-9-11-4-6 0-4 1-3 2 0 4 3 11 14 3 6 0 2-2 2zM600 465l-4 0-4-1-11-8-8-8-2-4 1-4 2-1 4 1 12 8 6 5 3 5 2 4-1 3zM368 467l-2 0-4-3-11-10-4-8 0-4 1 0 2 0 4 2 13 12 3 6 0 4-2 1zM650 468l-4-1-4-2-10-7-7-10-1-2 1-2 3-1 6 2 11 9 8 10 0 2-3 2zM422 471l-8-3-11-10-5-8 0-2 2-2 2-1 4 2 14 11 4 6 1 4-1 2-2 1zM704 471l-8-2-9-7-8-8-2-4 1-2 2-1 4 1 10 7 11 11 1 4-2 1zM478 474l-4 0-4-1-11-7-8-10-1-4 0-2 4-1 3 1 12 8 8 10 2 4-1 2zM530 478l-2 0-5-2-11-6-8-10-2-4 0-3 4-1 4 2 12 7 5 5 3 6 2 4-2 2zM746 470l-12-10-3-4 0-4 1 0 4 0 10 6 0 12zM298 480l-2 0-4-2-9-10-4-10-1-2 1-2 1-1 4 3 11 12 5 8 0 3-2 1zM584 481l-4 0-4-1-11-8-9-9-1-3 0-4 3 0 4 0 12 8 8 10 2 4 0 3zM352 483l-2 0-4-2-11-11-4-6 0-4 1-2 2 0 4 2 12 12 4 6-2 5zM636 484l-4 0-4-1-10-7-9-10-1-4 0-2 4-1 4 2 10 7 10 10 1 4-1 2zM406 487l-2 0-4-2-12-9-6-8 0-4 2-2 2 0 4 2 13 10 5 8 0 4-2 1zM688 487l-4 0-2-1-10-6-9-10-2-2 1-3 2-1 4 1 10 6 10 11 2 2-2 3zM460 491l-6-2-12-7-7-10-2-2 1-4 2-1 4 1 13 8 5 6 4 5 0 3-2 3zM742 490l-6 0-8-5-11-9-2-4-1-2 2-2 2 0 8 4 15 12 2 4-1 2zM512 495l-8-3-10-8-7-8-1-4 0-2 2-1 6 1 6 4 6 4 6 6 3 6 0 4-3 1zM282 497l-6-3-9-10-5-8 0-6 4 0 2 3 11 11 4 8 0 4-1 1zM566 498l-9-2-10-8-8-10-1-4 1-2 3 0 6 2 12 8 7 10 1 4-2 2zM336 500l-4-1-4-2-9-9-4-8-1-2 1-4 3 0 4 3 12 13 4 6-1 2-1 2zM618 501l-4-1-4-2-11-8-7-8-1-4 1-2 4 0 4 2 12 8 8 10 0 4-2 1zM390 503l-2 0-5-1-11-10-6-8 0-3 1-3 3 0 4 2 12 10 6 8 0 4-2 1zM672 503l-2 0-4 0-10-7-10-10-1-2 0-2 3-2 2 1 10 5 11 12 2 2-1 3zM444 507l-2 0-5-1-11-8-7-8-2-4 1-3 2-1 4 1 12 7 8 10 2 4-2 3zM498 511l-4 0-4-1-10-8-9-10-2-4 1-2 2-1 4 1 12 8 6 5 4 5 1 4-1 3zM724 507l-6-2-8-4-11-11-2-2 1-2 2-1 4 0 10 6 12 11 1 4-3 1zM266 513l-4 0-2-3-9-8-5-8-1-4 1-4 2 0 4 3 11 13 4 6 0 4-1 1zM550 514l-2 0-4-1-12-7-9-10-1-4 0-3 4-1 4 1 11 7 8 10 2 4-1 4zM320 516l-2 0-5-2-10-10-5-8 0-5 2 0 4 2 14 13 3 6-1 4zM602 517l-2 0-6-2-10-6-7-9-2-4 1-3 2-1 4 1 12 7 9 12 1 2-2 3zM372 520l-6-3-12-9-5-8 0-2 1-3 4 0 4 2 12 11 4 4 2 4-1 2-3 2zM656 520l-4 0-4-1-10-7-9-10-1-2 1-2 3-1 2 0 11 7 10 10 2 4-1 2zM428 524l-4 0-4-2-10-8-8-8-2-4 1-2 3-2 4 1 12 9 8 10 1 4-1 2zM482 527l-4 0-4-1-11-8-8-8-2-4 0-4 3-1 4 1 11 8 9 10 2 4 0 3zM710 523l-4 0-4-1-8-5-12-11-1-2 1-2 4-1 10 5 12 12 2 2 0 3zM248 530l-2-1-4-4-9-9-4-8 1-5 2 0 4 2 11 13 3 8 0 2-2 2zM532 531l-8-3-10-8-7-8-2-4 1-2 4-1 4 2 13 9 4 4 3 6 1 4-3 1zM746 520l-11-10-2-2 1-2 5 0 7 3 0 11zM302 533l-6-2-9-9-5-8-1-4 1-2 2-1 4 2 14 13 3 6-1 4-2 1zM586 533l-2 0-4-1-11-6-9-10-1-4 0-2 3-1 4 1 11 6 9 12 1 2-1 3zM358 536l-4 0-4-1-11-9-6-10-1-2 2-2 2-1 4 2 14 10 5 9 0 2-1 2zM640 536l-6 0-10-6-11-10-1-4 0-2 2-1 2 0 11 5 12 12 1 4 0 2zM412 540l-4 0-4-2-11-8-8-8-1-4 1-2 3-2 4 1 12 9 8 10 1 4-1 2zM180 543l-2 0-4-3-10-12-3-8-1-4 2-1 6 4 10 13 2 7 0 3 0 1zM694 539l-4 0-4 0-6-4-13-11-2-4 0-2 1-1 4 1 8 4 13 12 2 2 1 3zM464 544l-2 0-4-2-12-8-9-10-1-4 1-2 3 0 5 2 12 8 8 10 1 4-2 2zM234 546l-2 0-4-2-9-8-6-10-1-4 2-3 2 0 3 3 10 10 5 10 0 4zM518 547l-4 0-4-1-11-8-9-10-1-4 1-2 2-1 4 1 12 8 9 10 1 4 0 3zM746 543l-7-1-9-5-11-9-2-4 0-2 1-1 4 1 10 4 14 12 0 5zM286 549l-2 0-4-2-9-9-5-8-1-2 1-4 2-1 4 2 13 13 3 6 0 4-2 1zM570 550l-4 0-4-2-10-6-8-10-2-4 0-2 4-1 4 1 11 8 9 10 1 4-1 2zM340 553l-4-1-4-2-11-10-5-8 0-2 2-2 2-1 4 2 14 11 3 6 2 4-1 2-2 1zM622 553l-8-2-9-7-8-8-2-4 1-2 2 0 4 0 6 4 6 4 9 10 1 4-2 1zM394 557l-8-3-11-8-7-10-1-2 1-2 4-1 4 2 14 9 4 6 2 4 0 4-2 1zM448 560l-2 0-6-1-10-7-9-10-1-4 0-3 4-1 4 2 12 8 8 10 1 4-1 2zM676 556l-7-2-9-5-10-9-2-4 0-1 2-1 4 0 8 5 14 13 1 2-1 2zM500 564l-4-1-6-2-9-7-7-10-2-4 1-2 3 0 6 1 11 9 6 6 3 4 0 4-2 2zM732 559l-4 0-4-1-8-3-12-11-4-4 1-2 5 0 6 3 15 11 4 4 1 3zM270 566l-4-1-4-2-10-11-3-6-1-4 2-2 2 0 4 3 13 13 3 6-1 2-1 2zM554 566l-4 0-4-1-10-7-8-8-2-4 0-4 2-1 6 2 10 7 9 10 2 4-1 2zM324 569l-2 0-4-2-13-9-4-6-1-4 0-2 2-2 2 0 4 2 13 10 5 8 0 4-2 1zM606 569l-4 0-2-1-10-6-9-10-2-4 1-1 2-1 4 1 9 5 11 12 1 2-1 3zM378 573l-2 0-5-1-11-8-8-10-1-4 1-2 2-1 4 1 13 8 8 10 1 4-2 3zM660 572l-6 0-8-4-11-10-3-4 0-2 1-2 3 0 8 4 15 12 2 4-1 2zM430 577l-8-3-10-8-7-8-2-4 1-2 2-1 6 1 6 4 6 4 6 6 3 6 0 4-3 1zM484 580l-2 0-6-2-10-6-8-10-2-4 0-3 4-1 4 1 11 7 5 6 4 5 2 5-2 2zM714 576l-8-2-8-4-11-10-3-4 2-2 4 1 8 4 15 13 2 2-1 2zM254 582l-4 0-4-3-10-11-4-6 1-6 3 0 4 3 12 13 4 6-1 2-1 2zM536 583l-4-1-4-2-11-8-7-8-1-4 1-2 4 0 4 2 11 8 9 10 0 4-2 1zM746 570l-8-8-2-4 4 0 6 2 0 10zM306 586l-4-1-4-3-10-9-5-7 0-2 1-3 2-1 5 2 14 12 4 4 1 4 0 3-4 1zM588 586l-6-2-10-6-8-10-2-2 1-2 3-2 4 1 10 7 11 12 0 2-3 2zM362 589l-2 0-6-1-10-8-8-10-1-4 0-2 3 0 4 1 12 8 8 10 2 3-2 3zM416 593l-4 0-4-1-11-8-8-10-2-4 1-2 2-1 6 1 11 8 9 10 1 4-1 3zM642 589l-8-2-8-6-9-9-2-2 0-2 3-1 4 0 10 6 11 11 1 4-2 1zM128 590l-4-3-6-7-3-6-1-4 2-1 2 2 8 9 4 8-2 2zM184 595l-2 0-4-2-10-11-4-8 0-4 0-1 4 1 2 2 11 12 4 8 0 2-1 1zM468 596l-2 0-4-1-12-7-8-10-2-4 0-2 2-2 5 2 11 6 9 10 2 4-1 4zM698 592l-6 0-8-4-13-10-3-4 0-2 2-1 4 0 8 4 13 11 3 4 0 2zM236 599l-2-1-4-3-10-9-4-8-1-4 1-1 4 0 4 3 12 12 3 6-1 4-2 1zM520 599l-2 0-4-1-12-8-8-10-1-2 1-3 2-1 4 1 11 7 10 12 1 2-2 3zM746 595l-6-3-11-6-8-8-2-2 0-2 5 0 6 2 12 8 4 4 0 7zM292 602l-4 0-4-2-12-10-4-4-1-4-1-3 2-2 4 0 4 2 12 11 5 8 1 2-2 2zM574 602l-4 0-4-1-8-6-10-9-2-4 0-2 2-1 4 0 10 6 11 11 2 4-1 2zM346 606l-8-2-11-8-7-8-2-4 0-3 4-1 4 1 12 9 6 5 2 5 1 4-1 2zM398 610l-9-4-10-6-7-10-2-3 1-3 3-1 4 2 7 3 7 6 5 6 3 4 0 4-2 2zM628 605l-6 0-10-5-10-10-2-2-1-4 1-1 4 0 8 4 14 13 2 2 0 3zM452 613l-4 0-4-2-11-7-9-10-1-4 1-2 4-1 4 1 12 8 8 10 1 4-1 3zM680 609l-8-3-8-4-11-10-2-2 1-2 6 0 10 5 13 11 1 4-2 1zM502 616l-4-1-4-2-10-7-6-8-2-4 1-2 3-1 6 2 11 7 8 12 0 2-3 2zM746 620l-8-7-11-3-9-4-12-10-4-5 4 0 6 2 8 4 16 12 10 3 0 8zM274 619l-8-3-11-10-5-8 0-2 2-2 2-1 4 2 14 11 4 6 1 4-1 2-2 1zM558 618l-2 0-4 0-12-7-9-9-1-4 0-2 2-1 4 1 8 5 13 11 1 4 0 2zM330 622l-4 0-4-1-11-7-8-10-1-4 0-2 4-2 4 1 11 9 9 10 1 4-1 2zM608 622l-6-2-8-5-10-9-2-4 0-2 4-1 4 1 8 5 13 13 1 2-4 2zM382 626l-2 0-6-2-11-8-7-9-2-3 1-4 3 0 4 1 12 7 5 6 4 6 1 4-2 2zM436 629l-4 0-4-1-11-8-9-10-1-4 1-2 2-1 5 1 12 8 8 10 1 4 0 3zM666 625l-6-1-10-4-13-10-2-4 0-2 1 0 4 0 8 3 15 13 2 2 1 3zM488 632l-4 0-4-2-11-6-7-10-2-4 0-2 4-1 4 2 11 7 9 10 1 4-1 2zM746 647l-9-5-17-13-8-1-8-4-15-12-3-2 0-2 6-1 5 3 9 6 14 10 10 2 10 6 6 4 0 9zM260 635l-4 0-4-1-12-10-6-10 0-2 2-2 2-1 4 2 13 11 5 8 1 2-1 3zM540 635l-2 0-4-1-10-7-10-9-1-4 1-2 2 0 4 0 10 6 11 12 1 2-2 3zM312 639l-3-1-5-1-10-7-7-10-2-4 1-2 2-1 4 1 13 8 9 11 0 3-2 3zM366 642l-2 0-4-1-12-7-8-10-2-4 0-2 2-2 4 1 13 7 9 10 1 6-1 2zM594 638l-2 0-6-1-8-5-11-10-1-4 0-2 6 0 8 5 13 11 2 4-1 2zM418 646l-8-3-11-7-7-10-2-4 1-2 3 0 6 1 11 9 6 6 2 4 1 4-2 2zM648 641l-6-1-10-4-12-10-2-4 0-2 6 0 10 5 14 13 1 2-1 1zM746 670l-4-3-11-3-8-4-19-14-8-2-8-4-14-10-4-6 3 0 7 2 9 6 13 10 11 2 6 4 19 13 8 3 0 6zM470 649l-4-1-6-3-8-6-7-9-2-4 1-2 2 0 6 1 6 3 6 6 5 6 3 4 0 4-2 1zM244 651l-4 0-4-1-10-8-8-8-1-4 1-2 2-2 4 0 12 10 8 9 1 3-1 3zM524 651l-6 0-10-6-10-11-1-4 1-2 4 0 10 6 12 12 1 2-1 3zM296 655l-2 0-5-1-11-8-7-8-2-4 0-4 3-1 4 1 13 8 5 6 3 6 1 4-2 1zM350 659l-4 0-5-3-10-6-9-10-1-4 1-3 2-1 5 2 12 8 5 5 4 5 1 4-1 3zM578 654l-2 0-4 0-8-4-12-10-2-4 0-3 2-1 2 0 10 5 12 11 3 4-1 2zM402 662l-2 0-6-2-10-7-9-9-1-4 0-3 4-1 4 2 12 8 8 10 2 4-2 2zM632 658l-6-1-8-3-12-10-4-4 0-2 1-2 3 0 8 3 16 13 3 4-1 2zM454 665l-2 0-6-2-9-7-8-8-2-4 1-3 2-1 4 1 12 7 9 12 1 2-2 3zM746 697l-22-14-10-3-8-4-18-14-9-2-8-4-15-10-2-4-1-2 5 0 6 2 8 6 14 11 14 3 22 15 12 5 7 4 5 3 0 8zM508 668l-6-1-11-7-9-10-2-2 0-3 2-1 4 1 10 6 12 11 1 4-1 2zM280 672l-4-1-5-1-10-8-8-10-1-4 1-2 3 0 4 0 13 10 5 5 3 5 1 4-2 2zM334 675l-4 0-5-1-11-8-8-10-2-4 1-2 3-1 6 1 11 8 8 10 2 4-1 3zM560 671l-6-1-10-6-9-10-2-2 0-2 3-1 4 0 10 7 11 10 1 4-2 1zM384 679l-4-1-4-2-10-8-7-8-2-4 1-2 2-2 6 2 6 4 6 4 6 6 3 6 0 4-3 1zM616 674l-2 0-4 0-8-4-13-10-4-4 0-2 3-1 4 0 8 4 13 11 3 4 0 2zM438 681l-2 0-4-1-11-6-8-10-2-4 0-2 3-2 4 2 11 6 10 12 1 2-2 3zM746 721l-17-7-21-14-16-6-20-15-10-3-6-2-14-10-5-6 1-2 2 0 8 3 7 5 15 11 13 3 23 16 17 6 19 13 4 2 0 6zM492 684l-4 0-4-1-10-6-9-9-1-4 0-2 4-1 4 1 8 6 11 10 2 4-1 2zM264 688l-2 0-6-2-11-8-8-10-1-4 0-1 4-1 4 1 12 9 8 10 1 4-1 2zM316 692l-4-1-4-1-10-8-8-9-2-5 0-2 4-1 4 1 12 9 6 5 3 6 1 4-2 2zM546 687l-6 0-10-5-10-10-3-2 0-4 1-1 4 0 8 4 14 13 2 2 0 3zM100 674l0-5 0 3 0 2zM370 695l-4 0-4-2-12-7-8-10-1-4 1-2 2-1 6 1 12 8 8 10 1 4-1 3zM598 691l-6-2-10-5-11-10-2-2 0-2 3-1 5 1 9 6 13 12 1 2-2 1zM422 698l-4 0-4-2-10-7-9-9-1-4 1-2 3-1 4 1 11 8 10 10 0 4-1 2zM746 748l-16-11-19-9-17-11-19-7-19-15-10-2-8-3-14-12-3-2-1-2 4-1 8 3 22 15 14 5 22 14 14 6 22 14 18 8 2 1 0 9zM474 701l-8-2-9-7-8-8-2-4 1-2 2-1 4 1 11 6 11 12 0 4-2 1zM246 705l-6-2-12-9-8-8-1-4 1-3 4-1 4 1 12 9 6 6 3 6 0 4-3 1zM528 704l-6-1-8-5-11-10-2-2-1-4 2-1 4 1 10 6 13 12 1 2-2 2zM300 708l-2 0-6-2-11-8-8-10-2-4 1-2 2 0 6 1 6 3 7 6 8 10 1 4-2 2zM352 712l-10-4-10-8-7-8-1-4 2-2 4-1 5 3 12 8 5 6 2 6 0 2-2 2zM584 707l-7-1-8-4-13-10-3-4-1-2 2 0 4 0 8 3 15 13 2 2 1 3zM406 714l-4 0-4-1-11-7-8-10-1-4 0-2 4-1 4 2 12 7 8 12 1 2-1 2zM746 772l-14-6-20-13-17-7-19-13-16-7-20-14-11-2-6-4-16-12-3-2 0-2 5 0 6 2 8 4 15 12 7 2 7 2 20 14 16 6 22 14 18 8 18 12 0 6zM458 717l-2 0-4-1-10-6-10-10-1-4 0-2 3 0 2 0 6 3 6 3 10 12 2 2-2 3zM232 721l-4 0-5-1-11-8-8-10-1-4 0-2 3-1 4 1 13 8 9 10 1 4-1 3zM284 725l-4-1-5-2-11-8-7-8-2-4 1-3 2-1 6 1 12 9 5 6 4 4 1 4-2 3zM512 720l-6 0-10-6-11-10-1-4 0-2 6 0 10 6 12 12 1 2-1 2zM336 728l-2 0-6-2-11-8-7-9-2-3 0-4 4 0 4 1 12 7 6 6 3 6 1 4-2 2zM566 724l-9-2-8-6-11-8-2-4 0-2 2 0 4 1 10 5 15 12 0 2-1 2zM388 731l-6-2-12-7-7-10-2-2 1-4 2-1 5 1 12 8 9 12 1 2-3 3zM442 733l-6 0-10-6-9-9-3-4 0-3 2-1 4 0 10 6 12 12 1 2-1 3zM268 741l-2 0-4-1-12-7-10-11-1-4 0-2 3-2 4 1 12 7 9 10 2 4-1 5zM494 737l-6-2-8-5-11-10-2-2 0-2 3-2 4 1 8 5 14 12 1 4-3 1zM318 745l-8-3-10-9-8-9-1-4 1-2 4 0 4 2 7 4 7 6 6 6 2 4-1 4-3 1zM550 740l-8-1-8-4-12-11-2-2 0-3 2-1 2 1 8 3 16 12 3 4-1 2zM372 747l-2 0-6-1-10-8-8-10-1-4 0-2 3 0 6 1 10 7 6 6 3 6 1 2-2 3zM426 750l-4 0-4-1-9-7-10-10-1-2 0-2 2-2 4 1 10 6 12 11 1 4-1 2zM250 758l-6-2-13-8-8-10-1-4 1-2 3-1 6 1 12 10 6 5 2 5 1 4-3 2zM480 753l-4 0-4-1-8-5-12-11-1-2 0-2 3-1 2 0 10 5 12 12 2 2 0 3zM304 761l-4 0-6-3-10-8-8-8-1-4 1-3 2-1 6 2 6 4 6 4 8 11 1 3-1 3zM534 756l-2 0-5 0-9-5-13-11-2-2 0-2 3-1 4 0 6 3 15 12 3 4 0 2zM356 764l-4-1-4-1-11-8-7-8-2-4 0-3 4-1 4 2 12 8 9 10 1 4-2 2zM410 766l-4 0-4-1-10-6-10-11-1-2 1-2 4-1 4 1 8 6 12 12 1 2-1 2zM236 774l-4 0-5-2-12-8-5-5-4-5-1-4 1-2 4-1 4 2 12 7 6 6 3 6 2 4-1 2zM464 769l-4 0-4 0-6-4-14-11-2-4 0-2 6-1 8 5 14 12 2 2 0 3zM288 777l-4 0-4-1-12-8-8-10-2-4 1-2 3-1 4 1 7 4 7 4 4 6 4 6 1 4-1 1zM518 773l-6-1-8-3-14-11-3-4-1-2 2-1 4 1 10 4 14 12 2 4 0 1zM134 812l-2-16-12-3-6 1-1 0 11 9 10 10 0-1zM181 828l5-2 1-2-3 0-4-1-13-9-10-10-1-4 0-2 2-2 4 0 6 3 6 5 7 6 5 6 1 2 1 4 0-6-2-16-6-5-10-2-8 0-6 3-2 2 0 4 3 16 7 7 17 3zM552 828l4-2 3-2-19-15-6 0-7-3-15-10-22-3-4 0-8 3 7 8-1 1-2 0-8-2-12-7-18-3-4 0-10 3 0 2 1 2-3 2-6-2-8-4-12-3-8 0-6 3 10 4 12 10 4 6 0 2-2 0-8-1-10-7-8-8-1-4 1-2-8 1-1 1-3 1-4-1-6-3-9-1-7-1-4 1 8 8 8 8 1 2 0 2-3 1-6-1-8-5-6-6-6-6-12 0-14-4-4 0-5 1 7 8 4 6 0 4-2 1-4-1-8-4-7-6-5-5-20-4-6 0-6 2 6 11 0 2-2 2-4 0-6-3-14-11-20-3-3 1-6 2 3 8-1 4 2 12 9 5 12 2 4 0 2-1-10-6-8-8-5-8 0-2 1-2 6 1 10 5 9 8 5 9 6 0 1-3 3 0 12 6 10 1 4 0 3-1-8-6-6-6-3-6 0-2 2-2 5 0 8 4 8 8 5 7 28 4 6 0 3-3-11-10 0-4 0-1 2-1 4 1 6 3 14 12 22 3 6 0 4-3 1 0-6-8 0-2 3-1 6 2 12 9 20 3 6 0 8-3-3-6 3-1 6 1 10 6 18 3 4 0 6-3 4-1 2-2 2 0 4 1 6 2 18 3 4 0 5-3-9-6-12-8-3-4 0-2 3 0 6 2 5 2 19 15 30 5zM599 828l3-1 5-3-13-10-12-4-6-2-16-11-24-4-4 0-6 3 12 11 2 1 8 0 4 2 20 13 27 5zM645 828l10-4-9-6-17-8-19-12-28-5-4 0-4 3-1 0 17 13 15 5 15 10 25 4zM691 828l11-4-19-10-21-13-14-5-18-3-6 0-5 3 7 4 18 12 12 6 12 6 23 4zM466 822l-8-2-8-5-10-9-2-2-1-2 3-2 4 1 9 5 14 12 1 2-2 2zM130 826l0-6-8-4-11-8 0 4 0 10 1 1 2 1 16 2zM134 860l0-4-1-8-9-1-4 1 14 12zM188 866l-2-16-14-3-6 1 10 6 12 12zM174 870l-10-10-5-8-3 0-1 4 3 14 2 1 14-1zM127 870l-7-4-8-8-1 0 1 12 15 0zM678 859l0-1 1 0-1 1zM680 860l-1 0 1-1 1 1-1 0zM314 884l-8 0 0-2 4-1 5 3-1 0z"/>
<path fill="#89bddd" fill-opacity="0.5" fill-rule="evenodd" d="M268 884l-12 0-3-4 0-2-1-1-28-1-11 0 7 8-4 0-12 0-6-7-2 1 1 6-10 0 1-8-10 0-12 1 0 1 5 6-3 0-16-1-25 1 5-2 0-6-2 0-12 1-1 1 3 6-15 0-5-6 0-14 4 2 2-14 0-3-4 0-2 3-1-32 1-7 5 3 1-10-2-12-4 1 0-10 4 1 0-6-4-3-1-7 1-6 4 4 1 0 1-8-1-14-1-20-2 1-2-1-1-4 1-6 4 8 2-10-2-22 2-26-2-22 2-24-2-26 2-20-2-28 2-18-2-26 2-20-2-26 2-20-2-26 2-22-2-24 2-22-2-24 2-22-2-24 2-22-1-14 6 0-1 20 1 24-1 24 1 26-1 20 1 24-1 22 1 22-1 24 1 28-1 18 1 24-1 22 1 28-1 20 1 26-1 20 1 18 3 8 0 1-2-1-1 2-1 20 1 18 7 9 3 5-1 2-2 1-6-5-2 16 1 22 13 11 2 4 2 3-2 3-4 0-4-3-6-5-2 0 0 13 0 4 2 4 10 1 4-1 6 2 5-6 1-2-5-28-9-8-3-8 1-2 2 0 8 5 2 0 4-4-1-5-5-28-8-9-4-7 1-2 3 0 10 8 3-2 1-2-5-26-1-12 0-2 5-6 1-2-5-24-1-10 1-6 4-4 1-4-6-28 1-10 4-4 1-2-6-30-2-6 2 0 2-5 3-3 1-2-6-34-2-4 2 0 2-3 3-3 1-2-6-34 1-6 4-4 1-4-6-32 1-6 4-6 1-2-6-32 1-6 4-6 1-2-6-30 1-8 1-3 3-3 1-2-5-26 18 0-1 2 1 6 5 24 3 8-1 1-2-3-2 5-3 3-1 4 6 28 6 10 2 6 0 2-2-1-6-8-5 5-1 4 6 30 8 12 4 10-4-2-8-13-2 3-3 4-1 2 5 22 1 12 4 4 6 7 4 7 2 6-1 0-1 0-4-4-10-16-2 2-3 4-1 2 5 24 1 12-2 4-3 4-1 2 5 24 3 8 0 2-2 0-1 6-4 4-1 2 5 26 6 8 2 6-1 1-2 0-4-3-2 3-3 3-1 4 6 26 8 11 3 7-1 2-2-1-8-7-5 4-1 4 6 32 6 4 6 6 3 6 1 4-2 1-4-2-6-4-6-7-3 2-1 4 5 20 1 16 6 4 9 8 5 4 1 6-1 2-2 0-5-2-10-8-5-9-3 1-1 6 4 14 5 8 2 4-1 2-4 0-1 8-4 6-1 2 4 20 10 11 16 2 8 2 5-3-6-30-12-10-2-4-2-4 1-2 2-2 6 2 8 6 4-1 1-1-2-12-3-6 0-4-1-14-12-8-4-6-1-4 0-3 4-1 6 4 10 9 3-1-4-18-3-6 1-4 0-12-7-4-6-6-5-6-2-6 1-2 2 0 6 4 8 8 4 6 0 2 5-2-5-22-3-6-1-4 0-3 3-1 1-8 2-1 3-1 0-2-5-24-6-8-1-6 0-2 1 0 5 2 1-5 5-1 0-2-6-28-7-10-2-8 0-2 2 0 6 7 2 0 2-3 3-2-6-32-10-12-2-6 0-4 1-1 2 2 10 11 2-2 3-2-5-22-2-13-10-14-4-7-1-6 1-1 4 4 12 17 2-3 3-1 0-2-5-20-1-14 1-8 2-1 2-1 1-2-6-26-5-16-14-20-2-7-2-5 4 4 8 12 7 16 3 5 2-5 5-2 0-2-6-28-5-9-5-13-11-19-4-9 0-1 2 1 6 9 10 21 6 9 2-4 5-3-6-30-3-4 8-1 5 1 5 24 8 12 8 18 14 20 4 14 15 22 3 8 0 2-2-1-10-13-4-8-4-12-12-17-9-19-11-16-2 2-4 2 7 34 11 15 3 7 3 10 14 19 2 6 2 5 0 2-2 0-2-1-8-11-4-9-4-11-10-13-6-11-2 3-4 1 0 2 5 20 2 14 15 20 3 6 1 6-2 1 0-1-10-11-4-8-4-10-2 6-4 1 0 2 9 36-2 2-3 5-4 2 0 1 6 26 6 10 1 6-1 0-2 1-4-4-2 5-4 1 0 1 6 30 8 9 2 7 0 3-2-1-8-6-2 3-4 1 5 22 1 10 12 14 2 4 0 4-2 1-2-1-10-11-6 3 0 2 5 22 2 14 5 4 8 8 4 6 1 4-1 1-2 1-4-3-8-7-6-8-4 2 4 20 4 6 1 4-1 2-2 0 0 7 0 4-2 3-4 0 0 2 5 22 7 6 2 6-2 3-5-1-2 6-5 3 0 1 6 26 9 8 4 8-1 2-2 1-10-4-2 3-4 2 6 30 8 6 6 5 28 7 4-6-5-8 1-3 2-1 4 1 5 3 11 8 24 6 0-1 3-5 5-1-1-5 3-2 6 2 8 6 22 6 1 0 3-6 4-1 6 0 0-2 2 0 4 0 8 4 19 5 2-6-9-5-9-9-1-4 4-2 4 1 6 4 9 9 3 5 14 1 22 6 2 0 2-6-11-10-2-4 1-1 4 0 6 2 14 12 12 2 18 5 2 0 1-4 3-2-8-8 0-2 2-1 8 3 10 7 28 7 2-1 2-3 4-4-4-4 0-1 2 0 7 1 9 6 26 6 1 0 2-6 5-1 0-3 2 0 4 1 6 3 27 6 2-4 3-4-8-2-10-6-9-8-1-2 2 0 6 1 7 3 11 8 6 7 14 1 22 5 2 0 1-3 3-2-18-12-4-4 0-1 5 1 7 2 18 13 12 2 20 5 2 0 2-5 2-1-18-13-11-3-9-6-13-10-1-2 2 0 11 4 21 15 13 5 15 9 24 5 0 13-4-3-30-6-2 0-1 4-4 2 11 8 9 4 7 4 11 6 3 4-10-4-22-13-10-3-10-5-28-7-2 0-1 4-5 4 3 2-1 1-6-1-8-4-26-6-2 0-1 4-2 2-9 1-34-7-1 4-3 2 7 4 10 8 4 4-1 1-6-1-6-4-16-11-12-2-22-5-1 0-3 6 11 10 2 2-1 1-4 0-5-3-13-9-32-7-1 0-1 4-3 2 7 8 0 2-2 0-8-2-10-8-28-6-2 0-1 4-4 2 2 6-3 1-6-2-8-5-24-6-2 0-1 4-1 1-8 2 0 3-2 0-4-1-8-4-20-5-2 0-2 4 12 8 8 10 1 2-1 2-2 0-6-2-8-5-6-7-4-5-8-1-4 1-8-3-16-4-3 0-1 4 8 6 6 8 1 4-1 2-4-1-8-4-6-5-8-7-12-2-20-5-3 4 7 8 3 6-1 2-2 1-6-1-5-4-11-10-26-6-3 0-3 6 5 8 0 2-2 2 2 12 11 9 18 4 4-1 4-4 6-1 2-3 2-1 6 2 8 5 14 3 5-1 2-2-11-7-9-9-1-6 2-1 6 2 9 5 7 8 2 6 14 0 22 5 3-1 2-2-12-12-2-4 0-2 1 0 6 0 4 3 6 5 8 8 30 5 3-1 4-4-8-8 0-4 3 0 7 4 11 8 26 5 4 0 2-3 4-2-4-6 2-1 6 1 8 6 24 5 4-1 4-3 4-2 1-1 1-1 10 3 22 5 4-1 4-4 6-1 10 1 22 5 5-1 5-4-8-4-9-6-4-6 1 0 6 1 6 3 8 6 4 5 10 1 24 5 3-1 5-4-10-8-4-2-1-2 3 0 7 2 13 10 30 5 3-1 3-2 4-2-8-6-2-2 0-1 8 3 10 6 26 5 6 0 4-4 4-1-4-4 2 0 8 4 28 5 4-1 0 19-26-5-2 0-5 4-9 1-30-5-3 0-4 4-7 1-32-5-3 0-4 4-7 1-32-5-4 0-4 4-6 1-34-5-2 0-2 4-5 2 3 2 0 1-8-4-30-5-4 0-4 4-4 2 1 2-1 0-8-3-28-5-2 0-5 4-9 2-30-6-2 0-5 4-5 1-12-1-20-4-4 0-5 4 5 3 7 5 3 6-2 1-4-1-6-4-4-4-2-5-12 0-24-5-4 0-2 4 9 10 0 2-1 2-9-4-9-8-30-6-4 0-3 4 5 8 0 3-2 1-4 0-4-3-10-8-26-5-2 0-5 4 0 2 3 6-1 2-3 0 0 12 12 2 11-2-5-5-5-5 0-4 3-2 4 1 6 5 10 10 22 2 16-2-6-6 0-3 2-1 6 2 10 8 18 2 20-2 0-3 0-1 4 2 4 2 20 2 22-2 24 2 20-2 26 2 24-2 24 2 18-2 28 2 20-2 26 2 20-2 26 2 20-2 26 2 24-2 24 2 20-2 1 4-1 3-14-1-20 1-26-1-20 1-26-1-18 1-30-1-22 1-24-1-18 1-28-1-20 1-26-1-24 1-22-1-20 1-28-1-22 2-22-2-28 2-18-2-11 0 0 2 9 6zM270 339l-4-3-8-11-4-9-3-8-13-20-8-18-12-19-7-15 3 0 12 17 8 19 14 22 5 14 15 20 2 8 0 3zM286 323l-4-4-8-12-4-6-3-11-13-18-8-18-11-18 7 0 8 20 14 21 6 15 14 21 3 7-1 3zM304 306l-2 0-4-3-8-13-4-6-2-10-14-19-8-19 3 0 13 21 4 7 4 12 14 18 3 6 1 6zM320 290l-4-3-8-11-5-8-3-10-15-22 7 0 2 3 4 8 4 11 16 23 2 5 0 4zM336 273l-4-3-8-11-4-8-3-9-4-6 4 0 1 6 14 19 4 9 0 2 0 1zM352 257l-2-1-6-6-8-14 6 0 8 12 3 6-1 3zM368 241l-5-5 6 0 0 4-1 1zM406 259l-2 0-2 0-6-8-6-8-2-7 4 0 6 6 6 9 2 8zM422 243l-4-1-5-6 7 0 2 4 0 3zM474 246l-6-4-5-6 9 0 3 6 0 2-1 2zM526 249l-6-4-7-9 10 0 5 8 0 4-2 1zM582 252l-4-1-6-3-6-6-3-6 10 0 8 10 1 4 0 2zM634 256l-6-2-7-6-5-6-2-6 7 0 8 6 5 6 2 4 0 2-2 2zM652 239l-4 0-6-3 11 0 0 2-1 1zM706 243l-4 0-3-1-9-6 15 0 2 4-1 3zM746 242l-7-6 7-1 0 7zM688 260l-8-4-9-6-5-8-1-2 1-2 2-1 6 2 11 9 4 4 1 4 0 2-2 2zM458 262l-6-3-7-9-4-8 0-2 1-2 4 3 10 11 2 6 0 3 0 1zM742 263l-2 0-4-1-10-6-7-8-2-4 1-3 2-1 4 1 10 7 8 9 2 3-2 3zM512 265l-2 0-4-2-6-6-6-9-1-4 1-2 2 0 2 2 8 8 6 8 0 5zM564 268l-2 0-4-2-7-6-5-8-1-4 1-2 2 0 4 2 8 8 5 8 1 3-2 1zM388 276l-4-2-8-10-4-8 0-7 4 4 9 11 4 8-1 4zM618 272l-6-2-8-6-6-8-1-4 1-2 2 0 4 2 11 8 4 8 1 2-2 2zM672 276l-2 0-4-2-10-6-6-8-1-4 1-2 2-1 4 1 11 8 7 10 0 2-2 2zM440 279l-4-4-8-8-3-7-1-6 2 0 4 3 8 11 4 8 0 2-2 1zM726 280l-8-2-9-6-7-8-1-4 0-2 3-2 4 1 10 8 5 5 3 4 1 4-1 2zM494 282l-6-4-8-8-3-6 0-4 1-1 2 0 2 2 10 10 4 7-1 2-1 2zM548 285l-2 0-2-1-9-8-6-8 1-5 2 0 2 1 10 8 5 8 0 2-1 3zM372 292l-4-2-8-11-4-8-1-3 1-2 4 3 8 11 4 8 0 4zM600 289l-6-4-8-7-4-6-1-2 1-3 2-1 4 2 12 10 3 8-1 2-2 1zM424 295l-4-3-8-10-4-6 0-4 0-2 6 4 8 11 4 7 0 2-2 1zM656 292l-2 0-4-1-9-7-7-8-1-2 0-4 3 0 3 0 11 8 6 8 1 4-1 2zM710 296l-4 0-4-1-10-7-6-9-2-3 1-2 3-1 4 1 11 8 7 8 1 4-1 2zM478 298l-2 0-2-2-8-7-5-7-1-4 1-2 1-1 4 2 8 8 4 7 1 4-1 2zM746 292l-8-10-1-4 1-1 4 0 4 2 0 13zM532 301l-2 0-2-1-8-7-7-9 0-2 1-3 2 0 2 2 10 9 4 6 0 5zM356 309l-6-4-6-9-5-8-1-6 2 0 2 2 10 13 4 7 0 4 0 1zM586 305l-6-2-9-7-5-6-2-4 1-2 1-1 4 1 10 8 6 8 1 2-1 3zM640 309l-4 0-4-3-9-6-6-8-1-4 1-2 3 0 4 2 10 8 7 8 0 4-1 1zM408 311l-2 0-2-2-8-8-4-7 0-6 0-1 4 2 8 10 5 7 0 4-1 1zM692 313l-8-3-9-8-6-8-1-4 4-1 4 2 11 7 4 6 3 4 0 4-2 1zM462 314l-6-2-8-8-4-8 0-4 2 0 4 2 8 9 4 7 0 3 0 1zM746 316l-4 0-4-2-9-6-7-10-1-2 0-2 3-1 4 1 11 8 7 8 0 5 0 1zM514 318l-6-3-8-9-4-6 0-4 1 0 3 0 2 1 10 9 4 8 0 2-2 2zM340 325l-2 0-4-3-8-10-3-8-1-6 6 4 8 11 3 7 1 5zM570 321l-2 0-4-1-9-6-6-8-1-4 0-2 2-1 4 2 10 7 6 8 0 4 0 1zM624 325l-4 0-4-1-9-8-7-8 0-2 0-3 2-1 4 2 11 8 7 8 1 2-1 3zM392 328l-6-4-8-9-3-7 1-5 2 1 2 2 10 11 3 7-1 3 0 1zM676 329l-2 0-4-2-10-7-8-8-1-4 1-2 2 0 6 1 10 7 7 10 1 2-2 3zM446 331l-2 0-4-2-8-8-4-9-1-2 1-2 6 2 8 10 4 6 0 5zM730 332l-2 0-4-1-11-7-7-8-2-4 0-2 2-1 4 1 11 6 8 10 1 4 0 2zM500 334l-2 0-4-1-8-7-6-8 0-4 0-2 2 0 4 1 8 8 6 9 0 4zM322 342l-4-4-8-9-3-7-1-7 4 2 10 13 3 8 0 2-1 2zM552 338l-2-1-4-2-9-7-5-8 0-2 0-2 2-1 4 2 11 9 3 4 2 4 0 2-2 2zM606 342l-6-2-10-8-6-8-1-2 1-2 2-1 4 1 11 8 7 8 0 4-2 2zM376 344l-6-3-8-9-3-8-1-3 2-1 6 4 8 10 2 6 0 3 0 1zM660 345l-2 0-4-1-10-6-8-9-1-3 1-3 2-1 4 1 10 7 8 8 1 4-1 3zM430 347l-2 0-2-1-8-7-6-9 0-6 2 0 2 1 8 8 4 8 2 3 0 3zM712 349l-8-3-9-6-6-8-1-4 0-2 2 0 6 1 10 7 5 6 3 4 0 4-2 1zM482 351l-6-3-8-8-4-8 0-4 2 0 4 2 10 10 4 8-1 2-1 1zM746 341l-5-7 0-2 1-2 4 0 0 11zM306 358l-2 0-2-3-8-11-4-8 0-5 4 3 8 11 4 8 0 5zM536 354l-2 0-4-2-9-8-5-6-1-4 1-2 2 0 4 1 10 9 5 8 1 2-2 2zM590 358l-2 0-4-2-10-6-6-8-1-4 1-2 2-1 4 1 11 8 6 8 1 4-2 2zM358 361l-6-5-6-8-4-7 0-5 2 1 4 2 8 11 4 8 0 2-2 1zM644 362l-4 0-4-2-9-6-7-8-1-4 0-2 3-1 4 1 10 7 8 9 1 4-1 2zM184 371l-12-17-3-8-1-6 4 4 8 12 5 10-1 5zM412 364l-6-4-8-8-3-8 1-3 2 0 4 3 8 10 3 6 0 2-1 2zM696 365l-2 0-4-1-11-8-7-8-1-4 1-2 4 0 4 2 9 6 8 10 1 2-2 3zM466 367l-2 0-4-2-8-7-4-8-1-4 1-1 2 0 2 1 9 8 5 6 1 4-1 3zM746 368l-6-3-10-7-5-8-1-2 1-2 3 0 4 2 12 8 2 3 0 9zM290 375l-6-5-8-10-3-8 0-4 1 0 4 4 10 12 3 8-1 2 0 1zM520 371l-4-1-4-2-8-8-5-6 0-4 1-1 2 0 4 2 11 9 4 8 0 2-1 1zM342 377l-4-3-8-10-4-8 0-4 6 4 8 10 3 8 1 2-2 1zM574 374l-2 0-4-1-10-7-6-8-2-2 1-4 3 0 2 1 12 7 6 8 1 4-1 2zM628 378l-4 0-4-1-10-7-6-8-2-4 1-2 3-1 4 1 10 8 8 8 1 4-1 2zM396 380l-2 0-2-2-8-6-5-8 0-6 1-1 2 1 10 9 4 8 0 5zM678 382l-8-3-8-7-6-8-1-2 1-3 2 0 4 1 12 8 4 4 3 6 0 2-3 2zM450 383l-4 0-2-2-8-7-4-7-2-3 1-2 1-1 4 1 9 8 6 10-1 2 0 1zM730 385l-6-3-9-6-6-8-1-2 0-3 4-1 4 2 10 8 7 8 0 4-3 1zM274 391l-6-3-8-11-3-9-1-4 2 0 4 4 8 11 4 7 0 4 0 1zM504 387l-6-2-9-7-6-8 0-4 1-1 4 1 12 10 5 6 0 4-1 1zM558 391l-4 0-4-2-9-7-6-8-1-2 0-3 4-1 3 2 11 8 7 8 0 4-1 1zM326 394l-6-4-6-8-4-8 0-5 2 0 2 3 10 11 3 7 0 2-1 2zM610 395l-8-3-10-7-6-9 0-2 0-2 4-1 4 2 12 8 6 9 0 4-2 1zM378 397l-6-4-6-8-4-7 0-5 2 1 4 2 8 10 5 8-1 2-2 1zM664 398l-4 0-4-2-9-6-7-9-2-3 1-2 3-1 4 1 11 8 7 8 1 4-1 2zM434 400l-2 0-4-1-8-7-6-10 0-4 2-1 4 2 9 9 5 6 0 4 0 2zM716 401l-6-1-11-8-6-8-1-2 0-2 2-1 4 1 10 7 9 9 0 4-1 1zM258 407l-2 0-4-2-8-11-4-8 0-4 0-2 6 5 8 11 4 7 0 4zM488 403l-2 0-4-1-9-6-6-8-1-4 0-2 2-1 4 2 10 7 5 8 1 2 0 3zM746 389l-1-3 1-3 0 6zM310 410l-6-3-8-10-3-7 0-4 1-1 4 4 10 11 3 6-1 3 0 1zM542 407l-2 0-4-1-10-6-7-8-2-4 1-2 2-1 4 0 10 8 8 9 1 2-1 3zM594 411l-2 0-4-2-11-7-6-8-2-4 1-2 2 0 6 1 10 7 7 10 1 2-2 3zM364 413l-2 0-4-3-8-8-4-8 0-3 0-1 6 2 8 10 4 6 0 5zM648 414l-2 0-4-1-11-7-7-8-2-4 0-2 2-1 4 1 11 6 8 10 1 4 0 2zM418 416l-2 0-4-1-8-7-6-8 0-4 0-2 2 0 4 2 9 8 4 6 1 6zM700 417l-4 0-4-1-8-6-7-8-2-4 1-2 2-1 2 1 10 6 9 10 2 4-1 1zM240 424l-4-4-8-9-4-7 0-7 2 0 2 3 10 12 3 8 0 2-1 2zM470 420l-6-2-8-6-6-10-1-2 1-2 4 0 4 2 10 10 4 6 0 2-2 2zM746 419l-6-4-8-6-3-5 0-4 3-1 4 2 10 8 0 10zM524 424l-2-1-5-1-9-8-6-8-1-2 1-2 2-1 4 1 11 8 6 8 1 4-2 2zM294 426l-6-2-6-8-5-8-1-6 2 0 4 2 8 11 4 7 0 2 0 2zM578 427l-2 0-4-1-10-6-8-10-1-2 1-3 2-1 4 2 10 6 8 10 1 2-1 3zM348 429l-2 0-2 0-8-8-6-9-1-4 1-2 4 2 8 8 4 7 2 6zM630 431l-6-1-10-8-7-8-1-4 0-2 2 0 4 1 12 7 7 10 1 2-2 3zM400 433l-6-3-9-8-4-8 1-4 2 1 4 1 10 10 3 8 0 2-1 1zM682 434l-6-2-10-7-6-7-1-4 0-2 3 0 4 1 10 7 8 10 0 2-2 2zM224 440l-2 0-2-3-8-10-5-9 0-4 1-1 4 4 10 12 3 7-1 4zM454 436l-2 0-4-1-8-7-6-8-1-2 1-4 2 0 4 1 10 9 5 8 1 2-2 2zM736 437l-6-2-8-5-9-8-1-4 0-1 2-1 4 0 8 6 10 10 1 2-1 3zM508 440l-2 0-4-1-10-7-7-8-1-4 2-2 2-1 4 2 10 8 7 7 1 4-2 2zM278 443l-2 0-4-2-8-10-4-7 0-4 0-2 6 3 8 10 4 7 0 5zM562 444l-4 0-4-2-9-6-7-8-2-4 1-2 3-1 4 1 10 7 8 9 1 4-1 2zM330 446l-2 0-2-2-8-8-5-10-1-2 1-2 5 3 10 10 3 7 0 2-1 2zM614 447l-2 0-4-1-10-6-8-9-1-3 1-3 2-1 4 1 10 7 8 10 1 2-1 3zM384 449l-2 0-2-1-8-7-7-9 0-4 1-1 2 0 4 2 9 9 4 6-1 5zM666 450l-2 0-4-2-10-7-7-7-1-4 1-2 3 0 4 2 10 6 7 10 1 2-2 2zM438 453l-4-1-4-2-9-8-4-6-1-4 2-1 2-1 4 2 10 10 4 4 1 4 0 2-1 1zM720 453l-6-1-8-5-9-9-1-4 2-2 2 1 8 4 11 11 2 2-1 3zM260 459l-4-2-8-10-4-9 0-4 2 1 2 2 10 11 3 8 1 2-2 1zM490 457l-7-3-9-8-5-6-1-4 1-2 3 0 4 1 12 9 5 8 0 4-3 1zM546 460l-4 0-4-1-9-7-8-8-1-4 0-2 4-1 4 1 10 7 7 9 1 4 0 2zM314 462l-2 0-2-1-8-8-5-9-1-2 0-3 2 0 2 1 10 10 4 8 0 4zM596 464l-6-3-10-7-6-8-1-2 0-2 3-1 4 1 6 3 5 5 5 4 3 6 0 2-3 2zM366 466l-6-3-7-7-5-8 1-4 1-1 4 2 11 11 4 6-1 2-2 2zM650 467l-8-2-8-7-7-8-1-4 0-1 2-1 5 2 11 7 7 9 0 4-1 1zM422 469l-4 0-4-2-8-7-5-8-1-5 2 0 4 1 11 10 5 6 1 4-1 1zM702 470l-6-2-8-6-7-8-2-2 0-2 3-1 4 1 10 7 6 5 2 4 0 2-2 2zM476 473l-4 0-4-2-10-7-6-8 0-4 0-1 4-1 3 2 11 8 6 8 1 4-1 1zM244 476l-2 0-2-3-8-9-4-8-1-4 1-1 2 0 2 3 10 11 3 7-1 4zM528 477l-2 0-4-2-10-7-7-8-1-4 0-2 2-1 4 1 11 8 5 4 3 6 1 2-2 3zM746 469l-11-9-3-4 1-2 5 0 8 5 0 10zM298 479l-2 0-4-2-8-9-4-8-1-2 1-2 2-1 2 2 10 9 4 8 0 3 0 2zM582 480l-4 0-4-1-10-7-6-8-2-4 1-2 3-1 4 2 10 7 8 8 1 4-1 2zM352 482l-4 0-2-2-9-8-5-8 0-2 0-2 2-1 4 2 8 7 6 10 0 4zM634 483l-6-1-11-8-7-8-1-2 1-2 2-1 4 1 10 7 9 9 0 4-1 1zM404 486l-6-3-9-7-5-8 0-2 0-2 4-1 4 2 10 10 4 7 0 2-2 2zM174 489l-4-4-8-9-3-6 0-4 1-1 4 4 8 9 3 6 0 4-1 1zM686 486l-6-2-10-6-6-8-1-2 1-2 2-1 4 1 8 6 9 10 1 2-2 2zM228 492l-4-1-8-9-4-8-2-4 1-2 1-1 2 2 10 10 4 7 0 6zM460 489l-2 0-4-1-11-6-6-8-2-4 1-2 2-1 4 0 10 8 7 9 1 2 0 3zM740 489l-6-1-8-5-8-7-2-4 0-2 2-1 2 1 9 4 11 10 1 4-1 1zM512 493l-2 0-4-1-11-8-6-8-2-4 1-2 2 0 5 2 10 6 8 10 1 2-2 3zM282 495l-2 0-4-1-8-9-4-8 0-5 2 0 2 2 10 10 4 6 0 2 0 3zM566 496l-2 0-5 0-10-8-8-8-1-4 0-2 4-1 4 2 10 6 7 9 1 4 0 2zM336 498l-2 0-4-1-8-7-6-8-1-2 1-4 2 0 2 1 10 9 5 6 1 6zM618 499l-6-1-10-6-8-8-1-4 1-2 2-1 4 1 10 7 8 9 1 4-1 1zM388 502l-6-2-8-6-6-8 0-6 2-1 4 2 11 9 5 8 0 2-2 2zM670 502l-2 0-4-1-10-6-6-7-2-4 0-2 2-1 4 1 10 6 8 10 1 2-1 2zM442 506l-2 0-6-2-9-8-6-8 0-2 1-2 2-1 4 2 11 7 7 10 0 2-2 2zM494 510l-8-3-9-7-6-8 0-4 1-1 2-1 6 2 10 8 7 10 0 2-3 2zM724 505l-6-1-8-4-9-8-2-4 1-2 2 0 3 0 8 6 10 8 1 4 0 1zM264 512l-2-1-4-2-8-9-3-8 0-2 1-2 4 2 10 10 3 8 1 2-2 2zM548 513l-2 0-4-2-10-7-7-8-2-4 1-2 2 0 6 1 10 7 7 10 1 2-2 3zM318 515l-4-1-9-8-6-8 0-4 1-1 2-1 4 2 9 10 4 6 1 2-2 3zM600 516l-6-1-9-7-7-8-1-4 0-2 3 0 4 1 10 7 8 10 0 2-2 2zM372 519l-6-2-9-7-5-8-1-4 1-2 2 0 4 2 11 10 4 6 0 4-1 1zM654 519l-6-1-10-7-8-9 0-2 0-2 6 1 10 6 8 9 1 4-1 1zM426 522l-2 0-4-1-10-7-7-10-1-2 2-2 2 0 4 1 10 8 7 7 1 4-2 2zM706 522l-6-2-8-5-8-9-1-2 1-1 2-1 4 1 8 5 9 10 1 2-2 2zM480 526l-4 0-4-2-9-6-7-8-2-4 1-2 3-1 4 1 10 7 8 9 1 4-1 2zM248 528l-2 0-2-2-8-8-5-8-1-5 2-1 2 2 10 9 5 7 0 4-1 2zM532 529l-2 0-4-1-10-6-8-10-1-2 1-3 2-1 4 1 10 7 8 8 1 4-1 3zM746 519l-9-9-2-2 1-2 4 1 6 3 0 9zM302 531l-2 0-4-1-8-8-5-8-1-4 2-1 4 1 10 10 4 6 1 2-1 3zM584 532l-2 0-4-1-9-7-7-8-2-2 0-3 2-1 4 1 11 7 8 8 1 4-2 2zM356 535l-4 0-4-2-9-9-4-6-1-4 1-2 3 1 4 2 11 9 4 8 0 2-1 1zM638 535l-6 0-8-5-8-8-3-4 1-2 2-2 2 1 10 5 10 10 1 4-1 1zM410 539l-4 0-4-3-9-6-6-8-1-4 0-2 4 0 4 1 10 9 6 8 1 2-1 3zM178 541l-2 0-2-2-8-9-4-8 0-4 2 0 4 3 8 9 3 8-1 3zM464 542l-2 0-4-1-11-7-8-8-1-4 0-2 4-1 4 1 10 8 7 8 1 4 0 2zM690 538l-6-1-8-5-8-8-2-2 1-2 1-1 4 0 8 5 10 10 2 2-2 2zM232 545l-6-4-8-9-4-6 0-4 0-1 2 0 4 3 10 10 3 8 0 2-1 1zM516 546l-7-2-10-6-7-8-1-4 0-2 3-1 4 1 10 6 5 6 3 4 1 4-1 2zM744 541l-6 0-7-5-9-8-3-2 0-2 1-1 4 0 7 3 12 10 2 4-1 1zM286 548l-6-2-8-7-5-9-1-2 0-3 2 0 4 2 10 9 4 6 1 4-1 2zM568 549l-8-2-8-7-7-8-1-2 0-2 2-2 4 1 11 7 7 10 1 2-1 3zM340 551l-4 0-4-2-9-7-5-8 0-5 2 0 4 1 11 10 5 6 1 4-1 1zM620 552l-6-2-8-5-8-9-1-2 0-2 3-1 3 1 9 5 9 9 1 4-2 2zM394 555l-4 0-4-1-10-8-6-8-1-4 1-2 4 0 3 2 11 8 6 8 1 4-1 1zM446 559l-2 0-4-2-10-7-7-8-1-3 0-3 2-1 4 2 11 7 5 4 3 6 1 2-2 3zM674 555l-8-3-8-6-7-6-1-2 0-2 4-1 4 1 8 6 9 10 0 2-1 1zM500 562l-4 0-4-1-9-7-8-8-1-4 0-2 2-1 4 1 11 6 9 10 1 4-1 2zM728 558l-7-2-8-4-9-8-1-2 0-2 5 0 8 4 12 10 1 2-1 2zM270 564l-2 0-4-1-10-9-4-8 0-3 0-1 2-1 4 3 10 10 4 6 0 2 0 2zM552 565l-4 0-4-2-10-7-6-8-1-2 1-2 2-1 5 1 11 8 6 8 1 4-1 1zM322 568l-2-1-4-2-10-9-4-6-1-2 1-2 4-1 4 3 10 10 4 6 0 2-2 2zM604 568l-4-1-10-5-8-8-1-6 1-1 4 1 8 4 10 10 2 4-2 2zM376 572l-6-2-10-8-6-8-1-2 0-2 3-2 4 2 12 8 4 6 2 4 0 2-2 2zM658 571l-6-1-8-4-8-8-2-4 0-2 2-1 2 1 8 4 11 10 2 4-1 1zM430 575l-2 0-4-1-10-7-8-9-1-4 1-1 2-1 4 1 11 7 8 10 1 2-2 3zM482 579l-8-3-10-8-6-8 0-2 0-2 4-1 4 2 11 9 7 8 0 4-2 1zM712 574l-6 0-8-4-9-8-3-4 0-2 2 0 2 0 9 4 11 10 2 2 0 2zM252 581l-2-1-4-1-8-9-5-8 1-4 2 0 2 1 10 9 6 8 0 4-2 1zM534 582l-6-2-10-8-6-8-1-2 1-2 2-1 4 1 10 8 8 10 0 2-2 2zM746 569l-7-7-1-2 1 0 3 0 4 1 0 8zM308 584l-2 0-4-1-10-7-6-8-1-4 1-2 2-1 4 2 10 9 5 6 1 4 0 2zM588 584l-2 0-4 0-8-6-8-8-2-4 0-2 2 0 2 0 8 4 11 10 2 4-1 2zM360 588l-2 0-4-2-11-8-6-8-1-2 1-2 3-1 4 1 11 8 7 10 0 2-2 2zM414 592l-8-2-9-6-7-8-2-4 1-2 3-2 4 1 10 7 5 6 3 4 1 4-1 2zM642 587l-6-1-8-4-9-8-2-4 0-2 3 0 3 0 8 6 10 8 1 4 0 1zM182 594l-4-2-8-9-4-7-1-4 1-1 2 0 2 2 10 10 3 7 1 2-2 2zM466 595l-2 0-4-1-10-7-7-9-2-4 1-2 2 0 4 1 10 7 9 10 1 2-2 3zM694 591l-6-1-8-6-9-8-1-2 0-2 2 0 4 1 8 5 10 8 2 4-2 1zM236 597l-2 0-4-2-8-7-5-8-1-4 2-2 2 0 2 2 10 8 5 8 1 4-2 1zM126 585l-2 0-2-3-3-4-1-3 2 1 4 3 2 6zM518 598l-6-1-10-7-7-8-1-4 1-2 3 0 3 0 11 8 8 10 0 2-2 2zM746 594l-6-2-7-4-9-8-2-4 2 0 4 0 9 6 9 7 0 5zM290 601l-2 0-4-2-9-7-6-8-1-4 1-2 3 0 4 2 10 8 6 8 0 2-2 3zM572 601l-7-1-9-7-7-7-1-4 0-2 6 1 10 6 8 9 1 4-1 1zM344 605l-8-2-9-7-6-8-1-4 0-2 2-1 4 1 12 8 7 10 1 3-2 2zM624 604l-6-2-8-4-7-8-2-4 1-2 4 1 8 5 11 10 1 2-2 2zM398 608l-4 0-4-1-10-7-7-8-1-4 0-2 2-1 4 0 12 8 4 5 4 4 1 4-1 2zM448 612l-8-3-9-7-6-8 0-4 1-1 2-1 6 2 11 8 6 10 0 2-3 2zM678 607l-4-1-10-4-9-8-2-4 1-1 2-1 2 1 9 5 10 8 2 4-1 1zM502 614l-2 0-4-1-10-7-7-8-1-2 0-3 4-1 4 1 8 7 9 10 1 2-2 2zM732 611l-6-1-8-4-11-10-2-2 1-2 6 1 8 5 12 10 1 2-1 1zM274 617l-2 0-4-1-9-8-6-8-1-2 0-3 2-1 4 2 10 8 7 8 0 2-1 3zM556 617l-6-1-10-6-7-8-2-2 1-3 2-1 4 1 8 6 9 9 1 4 0 1zM328 621l-4 0-4-2-10-7-6-8-1-4 1-2 2 0 4 1 12 9 7 8 0 4-1 1zM380 625l-7-3-10-6-7-10-1-2 1-2 4-1 4 1 11 8 7 10 0 2-2 3zM608 620l-5 0-8-6-9-8-2-2 0-2 2-1 4 1 8 4 10 10 1 2-1 2zM434 628l-4 0-4-2-9-6-7-8-2-4 1-2 3-1 4 1 10 6 5 6 3 4 1 4-1 2zM660 624l-6-2-8-6-8-6-1-4 3-1 3 1 9 6 10 8 1 2-3 2zM486 631l-6-1-10-7-7-9-2-2 1-2 2-2 4 2 11 6 8 10 0 4-1 1zM716 627l-4-1-9-4-10-8-4-4 1-1 4 0 7 3 13 10 3 4-1 1zM258 634l-4 0-4-2-8-8-4-4-2-4-1-4 1-1 4 0 4 2 10 9 5 8 0 2-1 2zM746 619l-5-5 0-2 5 1 0 6zM538 634l-6-2-9-6-7-8-1-2 0-2 3-1 2 0 10 6 9 11 1 2-2 2zM310 638l-6-3-11-7-6-8 0-4 1-2 2 0 5 2 11 9 7 9 0 2-3 2zM364 641l-2 0-5-1-10-8-6-8-2-4 1-2 2-1 4 2 12 7 7 10 1 4-2 1zM592 637l-6-2-10-5-7-8-1-2 0-2 6 0 8 5 10 9 1 4-1 1zM418 644l-2 0-4-1-12-7-7-8-1-4 0-2 4-1 4 1 10 8 7 8 2 4-1 2zM646 640l-7-2-7-4-10-8-2-2 0-2 2-1 4 1 8 4 11 10 2 2-1 2zM132 640l-4-1-6-6-2-5 0-3 4 1 5 6 3 6 0 2zM470 647l-2 0-4 0-10-7-7-8-2-4 1-2 2-1 4 1 9 6 9 10 1 2-1 3zM698 644l-6-2-8-4-9-8-2-4 5 0 9 4 12 10 1 2-2 2zM242 650l-4 0-3-2-9-6-6-8-1-4 1-3 2 0 4 1 12 10 4 8 1 2-1 2zM746 646l-13-8-7-6-2-3 4 0 5 1 13 8 0 1 0 7zM522 650l-5 0-9-6-8-8-2-4 0-2 2-1 4 1 8 5 11 11 1 2-2 2zM296 654l-4 0-4-1-9-7-7-8-2-4 1-2 1-2 4 1 12 7 7 10 2 4-1 2zM576 653l-6-1-9-6-8-8-2-2 1-2 2-1 2 1 8 5 11 9 2 4-1 1zM348 658l-8-2-10-8-6-8-2-4 1-2 3 0 4 1 12 9 5 4 2 6 0 2-1 2zM400 661l-6-1-10-8-7-8-1-2 0-4 2-1 4 1 11 8 8 10 1 2-2 3zM630 656l-6 0-8-4-9-8-3-4 0-2 2 0 2 0 8 4 12 10 2 2 0 2zM452 664l-6-2-10-7-6-7-1-6 3-1 4 1 10 8 8 10 0 2-2 2zM684 660l-6-1-8-3-10-8-4-6 1 0 3 0 9 4 12 10 3 2 0 2zM224 667l-2-1-4-1-11-9-4-8-1-2 1-2 3-1 4 3 12 10 4 6 0 4-2 1zM738 664l-6-1-8-4-12-9-4-4 4-1 8 3 13 10 4 4 1 2zM506 667l-6-2-8-5-9-8-1-4 0-2 2 0 4 1 10 7 9 8 0 4-1 1zM278 671l-8-3-9-8-6-8-1-2 1-2 3-1 4 1 12 10 4 4 2 4 0 4-2 1zM332 674l-2 0-4-1-10-7-8-8-2-4 0-3 4-1 4 1 10 7 8 10 1 4-1 2zM558 670l-7-2-8-6-7-8-1-2 0-2 3 0 3 0 10 8 9 8 0 2-2 2zM384 677l-2 0-4-1-10-7-8-9-1-4 0-2 3 0 4 1 11 7 8 10 1 4-2 1zM612 673l-6-1-8-6-9-8-1-2 0-2 5 0 9 6 11 10 1 2-2 1zM438 680l-2 0-4-1-10-6-8-9-2-4 0-2 2 0 4 0 10 6 9 10 1 4 0 2zM668 676l-2 0-4 0-9-4-10-8-3-4 0-2 2 0 2 0 7 4 12 8 5 6zM722 680l-8-2-8-4-12-8-2-4 4 0 8 4 15 10 3 4zM490 683l-4 0-3-1-9-6-7-8-2-4 1-2 2 0 4 1 10 7 8 8 1 4-1 1zM262 687l-2 0-4-2-10-7-7-8-2-2 1-4 2-1 4 1 11 8 5 4 3 6 1 2-2 3zM746 669l-3-3 0-2 3 1 0 4zM314 691l-7-3-9-6-7-8-2-4 1-2 2-2 5 2 12 8 4 4 3 6 1 4-3 1zM542 686l-4-1-8-4-9-9-2-2-1-3 2-1 4 1 9 5 9 10 2 2-2 2zM368 694l-8-2-10-8-6-8-2-4 1-2 3 0 4 2 12 8 7 8 0 4-1 2zM596 689l-5-1-8-4-9-8-3-4 1-2 4 1 7 3 12 10 2 4-1 1zM420 697l-8-2-9-7-7-8 0-4 0-2 4 0 4 1 10 8 7 9 1 4-2 1zM650 693l-6-1-8-4-11-10-2-2 0-2 7 1 7 5 13 10 1 2-1 1zM472 700l-6-2-8-6-8-8-1-4 1-1 2-1 4 1 10 7 8 10 0 2-2 2zM706 697l-7-1-9-4-11-8-4-6 1 0 4 0 7 4 15 10 4 4 0 1zM244 704l-7-4-9-6-6-8-1-4 0-2 3-1 4 2 12 9 5 6 2 4 0 2-3 2zM746 697l-11-7-9-8 2-1 6 1 12 8 0 7zM300 707l-4 0-4-1-10-8-8-8-1-4 1-2 2-1 4 1 12 8 7 8 2 4-1 3zM526 703l-8-2-7-5-7-8-2-2 0-2 2-1 4 1 9 6 10 8 0 4-1 1zM352 710l-4 0-4-1-10-7-7-10-1-2 0-3 4-1 4 2 11 8 4 4 4 6 0 2-1 2zM580 706l-6-1-8-5-9-8-2-2 0-2 1-1 4 1 8 4 11 10 2 2-1 2zM404 713l-2 0-4-1-10-6-8-10-1-2 1-3 2-1 4 1 10 7 8 10 1 2-1 3zM634 709l-5-1-8-4-11-8-3-4 3-1 9 3 13 10 3 4-1 1zM690 713l-6-1-9-4-13-8-3-4-1-2 6 1 8 3 12 10 6 5zM456 716l-6-2-10-6-6-8-2-2 1-2 3-1 2 0 10 7 9 10 1 2-2 2zM230 720l-2 0-4-1-10-7-8-8-2-4 0-3 2-1 4 0 12 8 8 10 1 4-1 2zM746 720l-2-2-11-4-7-4-13-8-4-4 7 0 9 4 17 13 4 2 0 3zM282 724l-2-1-6-2-10-7-7-10-1-2 1-2 3-1 4 2 12 8 8 9 0 4-2 2zM510 719l-4-1-9-4-9-8-2-4 0-2 2-1 3 1 8 4 10 10 2 2-1 3zM334 727l-7-3-10-6-6-8-2-4 1-2 2-1 6 1 11 8 5 6 2 4 0 4-2 1zM564 722l-6-1-9-5-10-8-1-2 0-2 6 0 8 4 11 10 2 2-1 2zM388 730l-4-1-4-1-9-6-7-10-1-2 0-2 3-1 4 1 10 6 8 10 1 4-1 2zM618 726l-7-2-8-4-10-8-2-2-1-2 6 0 7 4 14 10 1 2 0 2zM672 730l-6-2-8-4-11-8-5-4 0-1 4 0 9 3 15 12 3 2-1 2zM442 732l-2 0-4 0-8-5-10-9-2-4 0-2 6 0 8 5 10 9 2 4 0 2zM746 747l-18-12-10-3-10-6-13-10-2-2 1 0 10 2 8 6 14 10 11 4 9 4 0 7zM266 740l-2 0-5-2-11-7-7-9-1-4 0-2 4-1 4 2 11 7 8 10 1 4-2 2zM494 735l-2 0-2 0-8-3-10-10-2-2-1-4 1-1 4 1 6 3 12 11 2 2 0 3zM320 743l-4 0-4-1-10-7-8-9-1-4 1-2 2-1 4 1 11 8 8 8 1 4 0 3zM546 739l-6-2-8-5-9-8-1-4 2-1 4 1 8 6 11 10 1 2-2 1zM372 746l-4 0-4-1-9-7-8-8-1-4 0-2 4-1 4 1 9 6 9 10 1 4-1 2zM602 742l-6 0-8-4-11-8-3-6 0-1 4 1 8 4 13 10 3 2 0 2zM424 749l-4-1-10-5-8-9-3-4 1-2 2-1 2 1 10 5 10 11 1 2-1 3zM656 746l-7-2-8-4-11-8-5-4 5-1 8 3 14 10 4 4 0 2zM746 771l-14-7-20-13-11-3-6-4-13-8-6-6 5 0 7 3 22 15 10 4 8 4 18 12 0 3zM250 757l-8-3-10-7-7-9-2-4 1-2 2 0 6 1 11 9 5 4 3 6 1 3-2 2zM478 752l-4 0-3-2-8-4-9-8-2-4 1-2 1 0 4 0 8 5 11 11 1 2 0 2zM302 760l-2 0-4-2-10-7-8-9-2-4 0-2 4-1 4 1 10 8 9 10 1 4-2 2zM532 755l-6-1-9-4-10-8-2-4 0-2 5 0 6 4 13 10 2 2 1 3zM354 763l-6-2-10-7-7-8-1-4 0-2 2-1 4 1 11 8 9 10 0 2-2 3zM584 759l-6-2-9-5-9-8-3-4 3 0 2 0 9 4 13 12 2 2-2 1zM640 763l-9-3-8-4-11-8-3-4 7 0 8 4 14 12 2 2 0 1zM408 765l-2 0-4 0-8-5-9-10-2-4 0-2 3 0 2 0 8 5 11 11 2 2-1 3zM180 770l-2-1-5-1-10-8-7-8-1-4 1-2 2-1 4 1 12 8 5 6 3 4 0 4-2 2zM234 773l-2 0-6-1-10-8-8-10-1-4 1-1 2-1 4 1 12 7 8 10 1 4-1 3zM462 768l-2 0-5 0-9-6-9-8-1-4 0-1 6 0 8 4 10 9 2 4 0 2zM286 776l-2 0-4-1-11-7-8-10-1-4 0-2 2 0 6 1 11 7 8 10 1 4-2 2zM514 771l-6 0-7-5-10-8-3-5 2-1 3 0 8 4 12 10 2 4-1 1zM338 779l-4 0-4-2-9-7-7-8-1-4 1-2 2 0 4 1 11 7 8 10 1 4-2 1zM568 775l-6-1-8-4-11-10-2-2 0-2 5 1 8 3 12 10 3 4-1 1zM198 786l0-3-2 0 0 3 2 0zM188 830l2-2 3-2-6-26-9-7-20-5-4 0-1 4-3 2 6 24 8 8 20 5 4-1zM132 828l1-4 4-4 1-2-4-22-4-3-18-4-1 5 9 6 6 5 6 7 2 4-1 2-1 1-6-1-8-4-8-7 0 5 0 10 4 4 18 3 0-1zM642 814l-7-2-7-2-11-8-5-6 4 0 9 4 14 10 3 4zM184 823l-3-1-5-1-10-7-7-10-2-4 1-2 2-1 6 1 11 8 8 10 1 4-2 3zM412 817l-6-1-8-4-9-8-2-4 0-2 3 0 8 3 12 11 2 2 0 3zM694 817l-7-1-8-4-16-12 6 0 9 4 14 10 2 2 0 1zM236 826l-9-4-9-6-7-8-1-4 0-3 4 0 4 1 12 8 5 6 3 4 0 4-2 2zM464 820l-6-1-8-5-9-8-1-4 2 0 4 0 7 4 11 10 1 2-1 2zM518 823l-6-1-7-4-10-8-3-4 4 0 8 4 10 8 3 2 1 3zM138 866l-1-6-3-12-14-4-4 0-2 1 0 1 12 8 7 6 3 6 2 0zM173 872l2-2-7-6-6-6-2-4 1-4 1 0 4 0 7 4 10 8 6 8 3 0 1 0-5-18-4-4-20-4-2 0-4 4-4 1-1 7 3 14 4 1 13 1zM408 864l-4-1-4-3-4-4-1-2 3 0 5 4 4 4 1 2zM127 872l1-2-9-6-9-8 0 15 10 1 7 0z"/>
<path fill="#76b0d7" fill-opacity="0.5" fill-rule="evenodd" d="M170 884l-15 0-7-8-4 0-2 0 4 8-12 0 1-8-9-2 9-2-7-2-7-4-7-6-4-7-2 1 0 2 2 16 15 2-10 2 5 8-15 0-5-6 0-14 4 3 1-1 2-10-1-8 0-2-6 2 0 2 0-14 6 4-1-8-5-4-1-6 1-8 6 3 1-9-2-18 0-10-5-4-1-4 1-7 6 6 1-9-2-26 0-10 2-10-2-28 1-10 1-8-2-28 1-10 1-8-2-28 1-10 1-8-2-28 1-10 1-10-2-26 1-11 1-9-2-26 1-11 1-9-2-26 1-11 1-9-2-26 1-12 1-8-2-26 1-12 1-8-2-26 0-12 2-8-1-19 4 1 0 11-2 7 2 14 0 14 0 11-2 7 2 14 0 14 0 12-2 6 2 16 0 12 0 12-2 6 2 28 0 12-2 6 2 16 0 12 0 13-2 5 2 16 0 14 0 11-2 5 2 16 0 14 0 11-2 7 2 14 0 14 0 12-2 6 2 16 0 16 0 8-2 6 2 27 6 5 3 4-1 2-2 0-6-5 0 7-2 6 2 14 0 15 10 8 5 5 1 4-2 2-4-1-4-4-6-5-2 8 2 16 0 17 8 4 8 7 5 6 1 4-2 2-6-2-9-6-5-6-2 6 1 12 5 6 20 4 2-4 2 0 4 2 4 6 6 4 1 4 0 2-2 0 2 6-1 4 2 12 6 4 11 2-7 2 6 8zM152 274l-2 0-3-2-4-6-6-16-2-14 11 0 5 14 2 12 1 8-2 4zM198 266l-2-2-4-10-3-10 0-8 5 0 4 8 2 14 0 6-2 2zM242 244l-6-8 4 0 3 6 0 2-1 0zM296 249l-4-5-5-8 4 0 5 8 0 5zM350 252l-4-2-4-5-4-9 3 0 5 5 4 8 0 3zM420 239l-2 0-4-3 5 0 1 3zM472 243l-2-1-6-6 7 0 2 4-1 3zM526 246l-2 0-2-1-9-9 9 0 4 6 0 4zM580 250l-4 0-4-4-5-6-3-4 7 0 1 0 8 10 0 2 0 2zM634 254l-6-1-7-7-5-6-1-4 1 0 5 0 7 7 6 7 0 2 0 2zM650 237l-2 0-4-1 7 0-1 1zM704 241l-6-1-7-4 12 0 2 4-1 1zM746 241l-6-5 6-1 0 6zM402 256l-4-3-4-6-3-7-1-3 4 3 6 8 3 6-1 2zM686 258l-6-2-6-6-6-6-1-2 1-3 2 0 3 1 9 6 6 8 0 2-2 2zM456 259l-4-1-6-7-3-7 0-2 1-1 4 2 5 7 3 6 0 3zM740 261l-6-1-8-6-6-6-1-4 1-2 2 0 3 0 9 6 7 8 1 4-2 1zM226 261l-6-9-2-5 0-2 6 9 3 4-1 3zM510 263l-4-2-6-6-5-7 1-3 4 1 6 8 4 6 0 3zM280 265l-8-10-3-5 1-3 8 10 2 7 0 1zM562 267l-4-3-6-5-4-7 0-3 2-1 2 1 8 8 4 7 0 2-2 1zM334 269l-4-2-4-6-4-6 0-5 2 2 6 7 3 5 1 5zM618 270l-2 0-4-1-6-5-6-8-1-2 1-2 4 0 8 6 5 8 1 2 0 2zM386 272l-4-2-4-6-4-6 0-4 4 3 6 6 2 6 0 3zM670 274l-6-1-6-6-7-7 0-4 3-1 4 1 7 6 7 8 0 2-2 2zM440 276l-4-2-6-6-3-6-1-4 4 0 6 8 4 6 0 4zM724 278l-6-2-8-6-6-6-1-4 1-1 2-1 4 1 9 7 5 8 1 2-1 2zM494 279l-4 0-6-5-4-8-1-4 1-1 2 1 6 6 5 6 1 5zM210 277l-6-8-3-5 1-2 6 9 2 5 0 1zM264 282l-8-9-2-5-2-5 4 3 4 6 4 6 0 4zM546 283l-4-2-7-5-4-8 0-2 1-1 4 2 8 6 3 7 1 2-2 1zM316 285l-4-3-4-7-3-5 0-4 5 4 4 7 3 7-1 1zM600 287l-4-2-8-5-4-7-2-3 1-2 3 0 2 2 8 5 5 7 1 4-2 1zM370 289l-4-3-6-7-2-5 0-4 4 3 6 7 2 6 0 2 0 1zM654 291l-6-2-7-5-6-8-1-4 2-1 4 1 9 6 6 8 0 4-1 1zM150 321l-2-2-4-3-6-16-4-20 1-4 1-4 4 1 4 4 6 17 3 10 1 10-1 4-3 3zM424 292l-2 0-2-2-6-6-4-6 0-4 4 2 6 7 3 5 1 4zM708 294l-6-1-8-5-6-8-2-2 1-2 1-1 4 1 9 6 7 8 1 2-1 2zM476 296l-4-2-6-6-3-6-1-4 2 0 2 1 8 7 3 6 0 2-1 2zM746 291l-6-7-1-4 1-2 2 0 4 2 0 11zM198 312l-2-1-2-4-4-10-1-9-3-8 2 3 2-3 2-1 2 2 2 5 3 8 1 10 0 6-2 2zM248 298l-4-2-4-7-4-7 0-2 8 10 3 6 1 2zM530 299l-4-1-6-6-5-6 0-4 1-1 2 1 8 6 4 7 1 3-1 1zM300 302l-2-2-6-7-3-5-1-5 4 2 6 8 2 5 0 4zM584 303l-2 0-2-1-8-5-5-7-1-2 0-3 2-1 4 2 6 5 6 7 1 4-1 1zM354 305l-4-2-6-7-3-6 1-4 4 3 6 8 2 5 0 3zM638 307l-6-2-8-5-5-6-1-4 0-2 2 0 4 1 9 7 6 8 0 2-1 1zM406 309l-4-3-4-5-4-7 0-4 2 1 8 8 3 7 0 2-1 1zM690 311l-6-3-8-5-5-7-1-2 0-2 2-1 4 1 10 7 6 7 0 4-2 1zM460 312l-4-1-6-7-4-6 0-2 0-2 4 2 6 6 5 6-1 4zM744 314l-6-1-8-5-6-8-1-2 0-2 1-1 4 0 10 7 6 8 1 2-1 2zM230 315l-8-11-2-8 2 2 6 9 3 5-1 3zM514 316l-6-2-6-6-4-6 0-2 0-2 2 0 4 1 6 7 5 6 0 2-1 2zM284 318l-2 0-6-8-4-7 0-4 4 3 4 6 4 6 0 4zM566 320l-5-2-7-6-4-6 0-4 2-1 4 1 8 7 5 7-1 3-2 1zM336 322l-2-2-6-7-3-5-1-5 2 0 2 1 6 9 4 7 0 1-2 1zM622 323l-6-1-9-6-5-8-1-2 1-2 2 0 4 2 9 6 5 8 1 2-1 1zM390 325l-4-2-6-7-3-6 1-3 4 2 6 7 3 6-1 3zM674 327l-6-1-7-6-6-6-1-6 2-1 4 1 9 6 6 8 1 4-2 1zM444 329l-4-2-6-6-4-7 0-4 4 2 6 7 4 7 1 2-1 1zM726 331l-6-3-8-6-5-6-1-2 1-2 3-1 4 2 8 6 6 7 0 4-2 1zM214 331l-2-2-6-8-2-8 2 2 6 7 2 6 0 3zM498 332l-6-1-5-5-5-6 0-6 2 0 2 1 6 6 6 7 0 2 0 2zM268 335l-4-2-4-7-4-6 0-4 2 1 6 8 4 7 0 3zM552 336l-6-1-6-5-6-7-1-3 1-2 2-1 2 1 8 6 6 8 0 2 0 2zM152 367l-4-1-3-2-6-16-5-20 1-6 1-3 4 0 3 3 6 14 5 22-1 6-1 3zM320 338l-4-3-4-6-4-7 0-3 4 3 6 8 3 6-1 2zM604 340l-6-2-7-6-5-6-1-4 1-1 2 0 3 1 9 6 6 8 0 2-2 2zM374 342l-4-3-6-6-2-5-1-4 1-1 2 1 7 8 3 6 0 3 0 1zM658 344l-7-2-8-6-5-8 0-4 2 0 4 1 9 7 6 8 0 2-1 2zM198 359l-2-1-2-5-6-21 2-6 2 0 2 3 5 11 1 12 0 4-2 3zM428 345l-4-1-7-8-4-6 1-3 4 1 6 7 4 6 0 3 0 1zM710 347l-6-2-8-5-5-8-1-2 0-2 2-1 4 2 10 6 5 7 1 4-2 1zM480 349l-4-2-6-6-5-7 1-4 2 0 2 2 8 7 4 7 0 2-2 1zM746 340l-3-6 0-2 1-1 2 0 0 9zM252 351l-4-1-6-8-3-6 1-4 4 3 4 7 3 6 1 3zM536 352l-2 0-4-1-6-5-7-8 0-2 1-2 4 1 7 5 6 8 1 4zM304 355l-4-3-5-8-3-6 0-2 4 3 6 7 3 6-1 3zM588 356l-6-1-7-5-5-8-1-2 0-2 3-1 2 1 9 6 6 8 1 2-2 2zM358 358l-4-2-6-7-4-6 0-4 4 3 6 6 4 6 0 4zM642 360l-6-2-9-6-5-6-1-4 1-1 2-1 4 2 9 6 5 8 1 2-1 2zM412 361l-2 0-2-1-6-5-5-7 0-4 1-1 2 1 6 6 5 6 1 5zM694 363l-6-1-7-6-6-6-2-4 1-2 2 0 4 1 8 5 7 8 1 4-2 1zM464 365l-4-1-6-5-4-7-1-4 1-1 2 0 8 7 5 8 1 2-2 1zM234 368l-2-3-6-6-3-7 0-4 3 3 6 8 3 7-1 2zM746 366l-6-1-7-5-6-8 0-4 1 0 4 1 9 5 5 7 0 5zM180 362l-4-6-4-7 2 1 4 6 2 4 0 2zM518 369l-4-1-8-6-5-8-1-2 1-2 5 1 8 7 5 6 0 4-1 1zM288 371l-4-3-6-6-3-6 1-4 4 3 6 7 2 6 0 2 0 1zM572 373l-6-2-8-6-5-7-1-4 2-1 4 2 9 7 6 6 0 4-1 1zM342 374l-2 0-2-1-6-7-4-8 0-2 4 2 6 7 4 6 0 3zM626 376l-6-1-9-5-6-8-1-2 1-2 1-1 4 1 9 6 7 8 1 2-1 2zM394 378l-4-2-6-6-4-6 0-4 4 1 8 7 3 6-1 4zM678 380l-6-2-8-6-6-6-1-4 1-1 2-1 4 1 8 7 7 8 0 2-1 2zM448 382l-6-3-6-5-3-6-1-5 2 0 4 2 7 7 4 6 0 2-1 2zM730 383l-6-2-8-5-5-6-1-4 0-1 2-1 4 1 8 5 7 8 1 4-2 1zM152 413l-4 0-3-3-6-14-4-22 0-6 1-3 4 0 3 3 6 14 5 22-1 6-1 3zM218 384l-4-3-4-7-4-6 0-3 4 2 6 8 2 6 0 3zM502 385l-2 0-2-1-8-5-5-7-1-4 0-1 2 0 4 1 6 5 6 7 1 4-1 1zM272 388l-4-3-6-6-3-7 0-4 3 2 6 8 4 6 0 4zM556 389l-6-2-8-5-6-8 0-4 2 0 4 1 9 7 6 8 0 2-1 1zM198 405l-2-1-2-3-4-11-1-12 1-6 2 1 4 4 6 21 0 2-2 0-2 5zM324 391l-4-2-6-7-3-6 1-4 4 2 6 8 3 6-1 3zM608 393l-6-2-8-7-6-6 0-2 0-2 4-1 3 1 9 8 6 6 0 4-2 1zM378 394l-2 0-6-5-5-7-1-6 2 0 8 7 4 7 0 4zM662 396l-6-1-8-5-6-8-1-2 0-2 1-1 4 1 9 6 7 8 1 2-1 2zM432 398l-6-2-6-6-4-8 0-2 6 2 6 6 4 6 1 2-1 2zM714 399l-4-1-8-4-7-8-1-2 0-2 2-1 4 0 7 5 7 8 1 4-1 1zM486 402l-6-2-6-5-6-7-1-2 1-2 2-1 2 1 8 6 6 8 1 2-1 2zM256 404l-4-1-6-7-3-8-1-3 4 1 6 7 3 7 1 4zM538 406l-6-2-6-6-6-6 0-5 2-1 4 1 9 7 5 8 0 2-2 2zM308 407l-4-1-6-7-3-7 0-2 0-2 5 3 6 7 3 6-1 3zM592 409l-6-1-7-6-6-6-1-6 2 0 4 1 8 5 7 8 1 4-2 1zM362 411l-4-2-6-6-5-7 1-4 4 2 6 7 4 7 0 2 0 1zM644 413l-6-2-8-6-5-7-1-2 0-2 2-1 4 1 10 6 6 8 0 4-2 1zM416 414l-4-1-8-6-4-7 0-4 2 0 2 1 6 6 6 7 0 2 0 2zM698 416l-6-2-8-6-6-6-1-2 1-2 2-1 4 1 8 6 6 8 1 2-1 2zM470 418l-6-1-6-5-6-8-1-2 1-2 2-1 2 2 8 5 5 8 1 2 0 2zM186 416l-2-1-6-6-2-5-2-4 2 0 6 6 2 6 2 4zM238 421l-4-3-6-8-2-6 0-2 0-1 4 3 6 8 3 6-1 3zM746 418l-6-3-5-5-4-6 0-2 3-1 4 2 8 7 0 8zM522 422l-6-2-7-6-5-6-1-4 1-1 2 0 4 1 8 6 6 8 0 2-2 2zM292 424l-4-3-6-7-3-6-1-3 4 2 8 8 3 7-1 1 0 1zM576 426l-7-2-8-6-6-8 0-4 3 0 4 1 9 7 6 8 0 2-1 2zM346 427l-4-1-8-7-3-7 0-2 1-1 4 2 6 7 4 6 0 3zM628 429l-6-2-7-5-6-6-1-6 2-1 4 1 8 6 7 8 1 4-2 1zM152 459l-4 0-3-3-6-14-5-22 1-6 1-3 4 1 3 2 6 16 5 20 0 6-2 3zM398 431l-4-2-6-6-5-7 0-2 0-2 5 2 8 7 4 7 0 2-2 1zM682 432l-6-1-8-5-6-8-1-2 1-2 2-1 4 2 8 5 5 8 1 2 0 2zM452 435l-6-3-7-6-4-6 0-4 1 0 4 1 8 7 6 8 0 2-2 1zM222 437l-2-1-6-8-4-6 0-4 4 2 6 8 3 6-1 3zM206 453l-2 0-4-4-2 2-4-5-5-16 0-8 1-4 2 1 4 4 4 17 5 6 1 7zM734 435l-6-1-7-6-6-6-1-2 0-2 2 0 4 0 8 6 6 8 1 2-1 1zM168 431l-6-7-2-4 0-1 6 7 2 4 0 1zM506 438l-6-1-7-5-6-8-1-2 1-2 3-1 2 1 9 6 6 8 1 2-2 2zM276 440l-4-2-6-7-4-7 0-2 0-1 4 3 6 7 4 5 0 4zM560 442l-6-1-8-5-6-8-1-4 1-2 4 1 10 6 6 9 1 2-1 2zM328 444l-4-3-6-7-4-6 0-3 4 1 8 8 3 6 1 2-2 2zM612 445l-2 0-4-1-8-6-6-6-1-4 1-2 2 0 4 1 8 5 7 8 0 4-1 1zM382 447l-4-1-6-6-5-6-1-5 2 0 2 1 8 6 5 6 0 4-1 1zM664 449l-6-3-8-6-5-6 0-4 1 0 4 1 10 6 6 9 0 2-2 1zM436 451l-4-1-8-6-5-6-1-4 0-1 2-1 4 1 7 7 6 6 0 4-1 1zM718 451l-6-1-7-4-6-8-1-2 0-2 4 1 9 5 7 8 0 2 0 1zM490 455l-6-2-8-5-5-8-1-2 0-2 2-1 4 2 9 7 6 6 0 4-1 1zM260 457l-2 0-2-2-6-7-4-6 0-4 0-1 4 2 6 7 3 6 1 5zM542 459l-6-3-8-6-5-6-1-4 2-1 4 1 10 6 6 8 0 4-2 1zM312 460l-4-1-6-7-4-6 0-4 4 1 7 7 4 6 0 2-1 2zM596 462l-8-2-8-6-5-8 0-2 1-1 2-1 4 2 8 6 6 8 1 2-1 2zM366 464l-6-2-6-7-4-7 0-3 2 0 4 2 7 7 4 6 0 2-1 2zM648 465l-6-1-7-6-6-6-1-4 0-1 2-1 4 1 8 5 7 8 0 4-1 1zM420 467l-2 0-2-1-8-6-6-6 0-4 0-1 6 1 6 6 6 6 1 4-1 1zM700 468l-4-1-8-5-5-6-1-5 2-1 2 1 8 6 8 7 0 2-2 2zM210 506l-2-1-8-8-2 0-3-3-4-12-2-12-5-4-4-6-3-6 1-3 2 1 4 4 6 10 2-1 2 3 4 10 2 10 8 11 2 4 0 3zM474 471l-2 0-2 0-8-6-7-7-2-4 1-2 2 0 2 1 8 5 7 8 2 2-1 3zM242 473l-4-3-6-7-3-7 1-2 4 2 6 9 3 5 0 2-1 1zM526 475l-6-2-8-6-6-7 0-2 0-2 2-1 4 2 10 7 5 6 1 4-2 1zM746 469l-8-7-3-4-1-3 2 0 4 0 6 5 0 9zM152 506l-4-1-3-3-6-14-5-22 1-6 1-2 4 0 3 4 6 14 6 22-3 8zM296 477l-4-2-7-7-3-6 0-4 2 0 2 1 7 9 4 6 0 2-1 1zM580 478l-6-1-8-5-6-8-2-2 1-2 1-1 4 1 9 6 7 8 1 2-1 2zM350 480l-6-2-6-5-4-7 0-4 0-1 4 1 8 7 4 7 1 2-1 2zM632 481l-2 0-2 0-8-5-7-8-1-2 0-2 2-1 2 0 9 5 7 8 1 4-1 1zM404 484l-6-1-6-6-6-7-1-2 1-2 2-1 2 1 9 6 5 8 1 2-1 2zM684 484l-4-1-8-5-5-6-2-2 0-2 1-1 4 0 8 5 7 8 1 2-2 2zM456 488l-6-2-6-6-6-6-1-4 1-1 2-1 4 2 9 6 5 8 0 2-2 2zM172 485l-2-2-5-5-3-5 0-3 4 2 4 4 2 6 0 3zM226 490l-4-2-6-7-3-7 0-4 1 1 2 1 8 8 3 6-1 4zM738 487l-6-1-7-4-6-6-1-2 0-2 4 0 8 4 7 8 1 2 0 1zM510 491l-6-1-8-6-6-6-1-4 1-2 2 0 4 1 8 5 7 8 1 4-2 1zM280 493l-6-2-6-7-3-6 0-2 1-2 4 3 7 7 3 6 0 3zM562 495l-6-3-8-6-6-6 0-2 0-2 2-1 4 1 10 7 6 7 0 4-2 1zM332 497l-4-3-7-6-4-6 1-4 2 0 2 2 8 7 4 7 0 2-2 1zM616 498l-6-2-8-6-6-6 0-4 2-1 2 1 9 6 7 8 1 2-1 2zM388 500l-2 0-4-1-7-5-5-8-1-2 1-2 4 1 8 6 6 7 0 2 0 2zM668 501l-6-2-8-5-5-6-1-2 1-2 5 0 9 6 6 8 0 2-1 1zM442 504l-2 0-4-1-8-5-6-6-1-4 0-2 1-1 4 0 8 5 7 8 1 4 0 2zM720 504l-4-2-7-4-6-6-1-4 1 0 3 0 7 4 8 8 1 2-2 2zM494 508l-6-2-8-6-6-6-1-4 0-2 3 0 4 1 8 7 7 8 0 2-1 2zM262 510l-4-2-6-7-3-7-1-3 2 0 2 1 8 8 4 6 0 2-2 2zM546 511l-6-1-7-6-6-6-1-6 2 0 4 0 8 6 7 8 1 4-2 1zM318 513l-4-1-8-5-5-7-1-4 1-2 3 1 8 6 5 7 1 2 0 3zM600 514l-6-1-7-5-7-6-1-6 1-1 4 1 8 6 7 8 1 2 0 2zM370 517l-4-2-8-5-5-6-1-6 2 0 4 1 8 6 5 7 1 4-2 1zM652 517l-6-1-7-6-6-6-1-4 2 0 3 0 8 6 7 8 1 2-1 1zM424 521l-6-2-8-7-5-6-1-2 0-2 2-1 4 1 10 8 5 8 0 2-1 1zM160 554l-6-5-2 3-4 0-2-3-3-5-5-14-3-12-1-10 2-4 4 1 5 5 5 16 3 16 6 8 1 2 0 2zM214 559l-2 0-4-3-6-6-2-6-4-2-4-10-3-12-7-10-2-4 0-2 4 1 6 7 2-1 2 3 5 12 1 14 6 3 6 7 3 6-1 3zM478 524l-6-1-8-6-6-7-2-2 0-3 2-1 4 1 9 7 7 8 1 2-1 2zM704 520l-4-1-7-5-7-6-1-4 5 0 8 6 7 6 0 2-1 2zM248 526l-2 0-2-1-8-7-4-6 0-4 0-1 4 1 8 8 4 6 0 4zM530 528l-7-2-8-6-5-8-1-4 3 0 4 1 9 7 6 8 0 2-1 2zM746 518l-6-6-2-2 0-2 4 0 4 3 0 7zM300 530l-6-3-6-6-4-6 0-3 0-1 2 0 4 1 8 8 3 6 0 2-1 2zM582 531l-5-1-8-6-5-6-2-4 1-2 1 0 4 1 8 5 7 8 1 4-2 1zM354 533l-4-1-8-5-5-7-1-4 0-2 2 0 4 1 7 7 6 6 0 4-1 1zM634 534l-6-2-6-6-6-6 0-2 0-2 2 0 4 1 8 7 6 6 0 2-2 2zM408 537l-2 0-4-1-8-6-6-8 0-2 0-2 2-1 4 2 9 7 6 6 0 4-1 1zM688 537l-6-2-8-5-5-6 0-2 0-2 6 2 8 6 5 6 1 2-1 1zM176 538l-4-2-4-6-4-6 0-3 4 2 6 7 3 6 0 2-1 0zM460 541l-6-3-8-5-5-7-1-2 0-2 2-1 4 1 10 6 6 8 0 4-2 1zM230 543l-4-3-6-6-4-6 0-5 2 0 2 1 7 8 4 6 0 4-1 1zM514 544l-6-2-8-4-6-8-1-4 1-2 4 1 10 6 6 9 1 2-1 2zM740 540l-4-2-6-4-6-4-2-4 1-2 3 1 8 5 7 6 1 2-2 2zM284 546l-4-1-6-6-6-7 0-4 2-1 2 1 6 5 6 9 1 2-1 2zM566 547l-2 0-4-1-8-6-6-8 0-2 0-1 4-1 2 2 8 5 7 7 0 4-1 1zM338 550l-6-2-6-5-6-7 0-5 2-1 2 1 8 7 6 8 1 2-1 2zM620 550l-6-1-7-5-7-6-1-4 1-1 2-1 2 1 8 5 7 8 1 2 0 2zM390 554l-6-3-7-5-5-6-1-4 1-2 2 0 4 1 9 7 6 8-1 3-2 1zM446 557l-2 0-4 0-8-6-7-7-2-4 1-2 2-1 2 1 10 6 7 8 1 2 0 3zM672 553l-6-1-7-6-6-6-1-3 2 0 4 1 7 4 7 8 1 2-1 1zM496 561l-6-3-8-6-5-6-1-5 2 0 4 1 10 6 6 8 0 4-2 1zM724 556l-4-1-7-5-7-6-1-2 5-1 7 5 7 6 1 2-1 2zM268 563l-6-2-6-7-5-6 1-5 2 0 2 2 8 7 5 8 0 2-1 1zM550 564l-6-2-8-6-5-6-2-2 1-3 2 0 2 0 10 6 6 9 1 2-1 2zM322 566l-6-2-8-6-5-6 0-4 1-1 2 0 2 1 8 7 6 7 1 2-1 2zM602 566l-4-1-8-5-6-6-1-4 1-1 4 0 8 6 7 7 1 2-2 2zM164 607l-2 0-2-2-8-8-2 1-2-1-4-5-5-12-4-16-1-10 2-4 4 1 4 5 7 18 3 16 10 11 1 5-1 1zM376 570l-6-1-9-7-6-8 0-2 0-2 3 0 4 2 8 6 6 8 0 2 0 2zM656 569l-6-1-7-4-6-6-1-2 0-2 4 0 8 4 7 8 1 2 0 1zM428 574l-7-2-8-6-5-8-1-2 1-2 2 0 4 1 10 7 3 4 2 4 0 2-1 2zM198 590l-2-1-2-5-4-14-7-10 0-2 1-2 4 3 4-2 4 5 2 9 2 9 0 6-2 4zM482 577l-2 0-4-1-10-6-5-8-1-2 0-2 2-1 4 1 8 6 7 8 1 2 0 3zM708 572l-4-1-8-5-6-6-1-2 5 0 6 4 7 6 2 2-1 2zM252 579l-6-1-6-7-5-7-1-4 2 0 4 2 8 7 4 7 0 2 0 1zM534 580l-6-1-8-6-6-7-1-2 0-2 3-1 2 1 9 6 7 8 1 2-1 2zM746 568l-4-4 0-2 4 0 0 6zM304 583l-6-3-6-6-5-6-1-2 1-2 3-1 2 2 10 7 4 8 0 2-2 1zM586 583l-4-1-8-4-6-8-2-2 0-2 4 0 8 5 8 7 1 2-1 3zM360 586l-2 0-4 0-8-6-6-6-2-4 0-3 2 0 4 0 9 7 6 6 1 4 0 2zM638 586l-5-2-7-4-6-6 0-4 2-1 2 1 8 6 7 6 1 2-2 2zM412 590l-2 0-4-1-8-5-7-8-1-4 1-2 3 0 2 1 10 6 6 7 1 4-1 2zM180 592l-4-2-6-7-3-5 0-4 1-1 4 2 6 8 4 5 0 2-2 2zM466 593l-2 0-4 0-8-5-7-8-2-4 1-2 2-1 2 1 9 6 7 8 2 2 0 3zM692 589l-6-1-6-4-6-6-2-4 2 0 3 0 7 4 7 8 2 2-1 1zM234 596l-4-2-8-7-4-7 0-2 0-2 2 0 4 2 8 8 4 6 0 2-2 2zM518 596l-6 0-7-6-7-6-2-4 0-2 2-1 4 1 8 6 7 8 1 2 0 2zM744 592l-4-1-6-3-6-6-3-4 1 0 4 0 5 4 9 6 1 2-1 2zM290 599l-2 0-4-1-8-6-5-8-1-2 0-2 2-1 4 2 6 5 7 8 1 2 0 3zM570 599l-2 0-2 0-7-5-7-6-2-4 0-2 2 0 2 0 8 4 7 8 1 2 0 3zM342 603l-6-2-8-5-6-8 0-4 2-1 4 1 9 6 6 8 1 4-2 1zM394 607l-6-3-8-6-6-8 0-2 0-1 2-1 5 2 9 7 6 7 1 4-3 1zM622 602l-4-1-8-5-6-6-1-4 5 0 7 6 7 6 1 2-1 2zM448 610l-6-1-8-7-6-6-1-4 0-2 3 0 2 1 10 6 6 7 1 4-1 2zM676 605l-5-1-7-4-6-6-2-2 0-2 4 0 7 4 8 8 1 2 0 1zM218 612l-4-2-8-6-4-8-1-2 1-2 2 0 4 2 8 8 3 6 1 2-2 2zM500 613l-6-2-8-5-5-8-1-4 2 0 4 1 8 5 7 8 1 4-2 1zM728 608l-4 0-7-4-7-6-1-4 3 1 8 3 7 6 2 2-1 2zM170 661l-4 0-4-3-6-8-4-6-2 1-2-1-4-4-5-14-4-14-1-10 1-4 1-1 4 0 2 2 5 9 6 22 1 8-1 4 5 2 6 6 6 6 0 4 0 1zM272 616l-4-1-8-6-6-7 0-6 2 0 2 1 8 6 7 7 1 4-2 2zM554 616l-6-2-8-4-6-8-1-2 1-2 4 1 9 5 6 8 1 2 0 2zM326 619l-2 0-4-1-7-6-7-8 0-4 2-1 4 1 8 6 7 8 0 4-1 1zM606 619l-5-1-7-5-6-5-2-5 2-1 2 1 9 5 7 8 1 2-1 1zM380 623l-6-1-8-6-7-8-2-2 1-2 2-1 4 1 9 6 6 8 1 2 0 3zM200 636l-2 0-3-2-5-14-5-8 0-2 4-2 1-4 2 0 2 3 4 11 5 8-1 2-2 0 0 8zM432 626l-2 0-3 0-9-6-6-8-2-2 0-3 2-1 4 1 9 5 7 8 1 4-1 2zM658 622l-4-2-7-4-6-6-1-3 4 0 7 5 8 6 1 2-2 2zM484 629l-2 0-4-1-8-6-6-8-1-2 1-2 2 0 4 2 8 5 6 7 1 4-1 1zM712 625l-6-2-6-3-6-6-2-3 2 0 3 1 7 4 8 6 0 2 0 1zM256 632l-4-1-8-6-6-7-1-4 0-2 3 0 2 1 8 7 7 8 0 2-1 2zM538 632l-2 0-3 0-7-4-7-8-2-4 1-2 2 1 8 3 8 8 2 4 0 2zM746 617l-1-1 1-1 0 2zM310 636l-6-2-8-6-6-6-1-6 1 0 4 0 10 8 6 8 1 2-1 2zM362 640l-8-3-8-7-5-6 0-4 3-1 4 1 10 8 6 8 0 2-2 2zM590 635l-6-1-6-4-7-6-1-4 2-1 2 0 8 5 8 8 1 2-1 1zM416 643l-6-2-9-5-6-8-1-2 0-2 2-1 4 0 9 7 7 8 1 2-1 3zM642 638l-4-1-6-3-7-6-2-4 5 0 6 4 8 6 1 2-1 2zM186 645l-6-2-6-7-4-6 0-4 2 0 2 1 8 8 5 7 0 2-1 1zM468 646l-6-2-8-6-6-6-1-4 1-1 2 0 4 1 8 6 6 8 1 2-1 2zM696 641l-4-1-8-4-7-6-1-2 4 0 7 4 8 6 1 2 0 1zM240 649l-6-2-6-5-7-8-1-5 2-1 4 1 9 7 5 8 1 4-1 1zM128 635l-4-2 0-3 3 2 1 2 0 1zM520 649l-5-1-7-6-7-6-1-5 2 0 4 0 7 5 8 8 0 4-1 1zM746 644l-10-6-5-4-2-2 3 0 9 4 5 5 0 3zM294 652l-2 0-2 0-9-6-7-8-2-2 1-4 1 0 4 1 8 5 7 8 1 6zM346 656l-6-1-8-7-6-6-2-4 0-2 2-1 4 1 10 6 7 8 1 4-2 2zM572 652l-6-2-7-6-5-6 0-2 2-1 4 1 7 6 7 6 0 2-2 2zM400 659l-6-1-9-6-7-8-1-2 1-2 2-1 4 1 8 6 8 8 0 4 0 1zM626 655l-6-2-7-5-6-6-1-2 1 0 5 1 8 5 7 6 0 2-1 1zM152 691l-4 0-3-3-6-14-4-22 0-6 1-3 4 1 4 4 9 26 1 12-2 5zM452 662l-6-1-9-7-6-6 0-4 3-1 2 1 8 5 8 9 1 2-1 2zM678 658l-4-2-7-4-6-4-1-4 0-1 4 1 8 4 7 8 1 1-2 1zM224 665l-6-1-9-8-5-6 0-4 0-1 2 0 4 2 9 7 5 6 1 4-1 1zM504 665l-4-1-9-6-6-6-1-2 0-2 6 0 7 6 7 6 1 4-1 1zM732 661l-5-1-6-4-7-6-2-2 6 0 6 4 8 6 0 2 0 1zM278 669l-2 0-4-1-9-6-6-8-1-4 0-2 2 0 4 2 10 6 6 8 0 4 0 1zM198 683l-3-3-8-16 1-2 1-2 0-6 1-4 2 0 2 3 5 13 9 12 0 2 0 2-4 0-4-2-2 3zM556 668l-5-2-7-4-6-6-1-2 1-2 2-1 2 1 8 6 7 6 1 2-2 2zM330 673l-8-3-7-6-6-6-1-4 0-2 2 0 4 1 10 7 5 4 2 4 0 4-1 1zM382 676l-2 0-4-2-9-6-5-8-1-2 1-2 6 0 9 8 6 8 1 2-2 2zM610 671l-6-1-6-4-6-6-2-4 2 0 2 0 8 4 7 8 1 2 0 1zM434 679l-6-3-8-6-6-6 0-4 2-1 4 1 10 8 6 8 0 2-2 1zM662 674l-4-1-6-3-7-6-2-4 1 0 4 0 7 4 7 8 1 2-1 0zM488 682l-6-2-7-4-7-8 0-4 2-1 2 1 9 6 7 8 1 2-1 2zM260 686l-8-3-7-7-5-6 0-5 2 0 4 1 11 8 5 8 0 3-2 1zM716 677l-4-1-6-2-7-6-3-4 4 0 6 4 9 6 1 2 0 1zM314 689l-2 0-4-1-9-6-7-8-1-4 1-2 2 0 4 1 9 7 7 8 1 2-1 3zM540 684l-4-1-8-5-6-6-1-4 1 0 4 1 7 5 7 6 1 2-1 2zM366 692l-2 0-4-2-8-5-7-7-1-4 0-2 2 0 4 1 10 6 7 9 1 2-2 2zM594 687l-6-1-6-4-7-6-1-2 0-2 4 0 7 4 8 8 1 2 0 1zM420 695l-2 0-4 0-8-5-6-8-3-4 1-2 2 0 2 0 8 5 8 9 2 2 0 3zM646 691l-6-2-7-5-5-4-1-4 5 2 7 4 8 6 0 2-1 1zM152 737l-4-1-5-6-7-22-2-10 1-6-5-2-5-4-2-6 1-2 6 3 6 8 2 0 3 1 4 6 7 22 7 10-1 2-4 1 0 1-1 4-1 1zM212 735l-2 0-4-1-10-7-6-9-1-2 1-2-1-10 0-6-6-2-7-6-4-8 0-4 2 0 6 3 10 11 6 12 4 12 11 12 2 4-1 3zM472 698l-6-1-8-5-6-8-1-4 5 0 8 6 7 8 1 2 0 2zM700 694l-6-1-5-3-8-6-2-4 4 0 7 4 8 6 2 4zM244 702l-6-1-8-7-6-6-2-4 1-2 3-1 4 1 9 8 6 8 1 2-2 2zM296 706l-6-3-9-7-6-6 0-4 1-1 2-1 4 2 11 8 6 8 0 2-3 2zM524 701l-4-1-8-4-7-8-1-2 0-1 6 0 6 5 8 6 1 4-1 1zM746 695l-9-5-5-6 6 2 8 4 0 5zM350 709l-8-2-8-7-5-6-1-4 0-2 2 0 5 2 9 6 7 8 0 4-1 1zM578 704l-6-1-7-5-7-6-1-2 1-1 4 0 7 5 8 6 1 4zM402 712l-6-2-8-6-6-6-1-4 0-2 3 0 4 1 8 7 7 8 1 2-2 2zM630 707l-4-1-6-2-7-6-3-4 2-1 2 0 6 3 8 6 2 5zM174 715l-6-3-8-6-4-6-1-4 1-1 2-1 4 2 9 8 4 8 0 2-1 1zM454 715l-6-2-7-5-5-6-2-5 2-1 4 1 8 5 7 8 1 4-2 1zM228 719l-8-3-8-6-5-8-1-2 0-2 4-1 3 1 10 8 6 8 0 4-1 1zM682 710l-5-2-7-4-6-4-1-2 1-1 4 1 7 4 7 6 1 2-1 0zM282 722l-4 0-4-2-8-6-7-8-1-2 0-3 2 0 4 0 11 7 7 8 1 4-1 2zM508 717l-2 0-2 0-8-4-7-7-1-4 2-1 2 0 6 3 9 8 1 5zM736 713l-4-1-8-4-6-4-2-2 0-1 4 1 8 4 6 4 2 3zM334 725l-2 0-4-1-8-6-8-8-1-2 1-3 2-1 4 1 8 6 8 9 1 2-1 3zM560 720l-4 0-7-4-7-6-1-4 1-1 3 1 7 4 8 6 1 4-1 0zM386 728l-4-1-10-5-6-8-2-2 0-3 2-1 4 1 8 5 8 10 1 2-1 2zM614 723l-5-1-7-4-7-6-2-2 5-1 7 5 8 6 1 2 0 1zM438 731l-6-1-7-6-5-6-2-2 0-2 2-1 4 0 7 5 8 8 1 4-2 1zM666 727l-4-1-6-4-7-4-3-4 4 0 6 2 9 8 2 2-1 1zM264 739l-6-2-9-7-7-8-1-2 1-2 2-1 6 1 9 8 7 8 0 4-2 1zM492 734l-6-1-7-5-7-6-1-4 5 0 8 4 8 8 0 2 0 2zM718 730l-9-4-7-6-3-2 4 0 8 4 7 6 1 2-1 0zM102 724l-2 0 0-6 2 4 0 2zM318 742l-6-1-9-7-7-8-2-2 1-2 1-1 4 0 10 7 8 8 1 4-1 2zM544 737l-5-1-7-4-6-6-2-2 0-2 6 0 7 4 7 8 1 2-1 1zM370 745l-6-2-9-5-6-8-1-2 0-2 2-1 4 0 8 6 8 9 1 4-1 1zM598 740l-4-1-8-3-7-6-2-2 0-2 5 0 7 4 7 6 2 2 0 2zM252 859l-8-4-8-8-22-5-12-6-4-4 1-4-4-6-6-20-11-10-11-4-13-6-4 2-4-2-3-6-3-8-5-22-11-11-1-5 1-1 2-1 2 1 8 7 4 0 3 2 5 11 5 19 7 6 4 7 18 2 8 5 7 6 3 6 1 2-2 4 1 12 8 4 8 7 16 5 11 4 2 4 1 4 8 8 0 4-2 1zM422 748l-7-2-8-6-5-6-1-2 1-2 2-1 4 1 9 6 6 8 0 2-1 2zM650 743l-4-1-7-4-8-6-1-2 5 0 6 4 7 6 2 3zM252 808l-6-1-6-4-5-5-5-6-10-1-10-4-12-9-6-8 0-4-3-16-13-10-3-6 1-4 2 0 6 2 12 10 3 6 3 20 9 6 7 7 18 5 8 5 6 5 5 6 0 4-1 2zM250 755l-2 0-4-1-11-6-7-8-1-4 1-2 2-1 4 1 9 6 7 8 2 4 0 3zM476 750l-6 0-6-4-8-8-2-4 2-1 2 1 8 4 8 8 2 2 0 2zM702 746l-3 0-7-4-7-6-2-2 5 0 6 4 7 6 2 2-1 0zM302 758l-2 0-4-1-10-7-7-8-1-2 0-2 2-1 4 1 10 6 8 10 0 2 0 2zM746 746l-8-6-1-2 9 4 0 4zM528 753l-4 0-6-3-7-6-3-6 4 0 6 4 8 6 3 4-1 1zM354 761l-4 0-3-1-9-6-6-8-1-2 1-2 2-1 4 1 8 6 8 8 1 4-1 1zM582 756l-2 0-2 0-7-4-8-6-3-4 4 0 6 3 8 7 4 4zM406 764l-4-1-9-5-8-8 0-2 1-2 5 0 7 5 8 9 1 2-1 2zM180 768l-4 0-4-1-9-7-5-8-1-4 1-1 2-1 4 2 10 8 6 8 1 2-1 2zM634 759l-5-1-6-2-7-6-2-4 4 0 6 4 9 6 1 2 0 1zM232 772l-6-2-9-6-7-8-2-2 0-4 2-1 5 1 11 7 7 9 1 4-2 2zM458 767l-4-1-7-4-8-8-1-4 2 0 4 0 7 6 8 8 1 2-2 1zM686 763l-11-5-8-8 1 0 2 0 6 4 10 6 0 2 0 1zM284 775l-6-1-9-8-6-6-2-4 1-2 2-1 4 1 10 6 7 10 1 4-2 1zM512 770l-6-1-7-5-6-6-2-4 5 0 7 4 8 8 1 2 0 2zM738 765l-9-3-9-8 3 0 6 4 8 6 1 0 0 1zM336 778l-6-2-10-7-5-7 0-2 1-2 2-1 4 2 10 7 6 8 0 2-2 2zM564 773l-4-1-6-4-8-6-2-4 4 1 7 3 9 8 1 2-1 1zM390 780l-6-1-8-5-7-8-1-4 2 0 4 0 8 6 7 8 2 2-1 2zM618 776l-4-1-8-3-7-6-2-4 3 1 7 3 8 6 3 4zM478 802l-2 0-4-2-12-8-10-2-9-4-3-2 0-2-7-4-7-6-2-4 0-2 4 0 6 3 7 7 5 5 14 2 10 5 3 2 0 2 7 8 0 2zM670 779l-5-1-6-4-7-4-2-4 4 1 7 3 7 6 2 3zM304 810l-4 0-8-4-7-8-3-5-16-2-11-5-9-10-1-4 0-2 3-1 4 2 8 4 6 7 13 4 13 7 11 11 2 4-1 2zM530 805l-3-1-6-2-6-6-3-3-14-2-11-5-2-2-1-2-7-6-2-4 1-2 4 1 6 3 8 7 11 3 10 4 2 2 0 2 1 0 12 10 1 2-1 1zM746 795l-2-2-14-2-11-5-3-2 2-2 0-2-11-6-3-2 0-2 8 4 10 7 14 2 10 4 0 5-1 0 1 2 0 1zM320 794l-4-1-16-7-1-2 2-2-3-6 0-2 2-1 4 1 12 8 9 4 6 4-1 2-8 0-2 2zM560 793l-14-2-12-4-3-3 2-2-5-6 1-2 3 1 10 7 9 2 8 2 3 2 1 2-1 2-2 1zM372 797l-4-1-8-5-10-3-4-4-1-2 7-1 0-3 2 0 4 1 6 4 10 3 3 2 1 2-4 2 0 4-2 1zM198 868l-2-1-2-3-4-12-6-6-16-4-10-4-5-4-2-4-5-2-2-4-3-6-6-22-7-5-12-5-2-2 0-2 2-1 8 0 0-2 2 0 8 4 4-1 2 1 6 7 7 28 7 4 6 7 26 6 6 5 2 2-1 4 5 8-1 2-3 2 0 6-2 4zM606 793l-10-1-12-3-6-3-1-2 0-2 3-1 1-1 1-1 8 3 11 2 5 3 4 3-1 2-3 1zM426 799l-6-1-10-6-14-4-4-4 0-2 4-1 7 1 9 2 8 2 4 4-1 2 3 6 0 1zM652 795l-24-7-4-4 0-2 2-1 8 0 16 5 5 2 1 2-3 2-1 2 0 1zM704 797l-3-1-7-4-10-1-8-3-5-2-1-2 0-2 4-1 6 0 16 5 6 4 0 2-3 0 5 5zM356 813l-4-1-8-4-7-8-2-2 1-3 1-1 3 1 8 5 8 8 1 2-1 3zM582 808l-4-2-7-4-5-4-1-2 5 0 7 4 5 6 0 2zM182 822l-8-3-9-7-6-8-1-4 2-1 2-1 6 2 11 8 6 10 0 2-3 2zM408 815l-4-1-8-4-6-6-1-2 0-2 5 0 7 4 7 8 1 2-1 1zM634 810l-8-4-7-6 3 0 6 4 5 4 1 2zM236 824l-4 0-4-1-9-7-7-8-1-4 1-2 2 0 6 1 9 7 7 10 1 2-1 2zM460 818l-4-1-6-3-6-6-2-4 2 0 4 0 6 4 6 6 1 2-1 2zM684 811l-2 0-3-1-5-4 4 0 6 5zM286 827l-6-2-8-6-5-7-2-2 1-3 2-1 4 1 10 7 6 8 0 4-2 1zM512 820l-3 0-6-4-6-4-1-4 4 1 6 3 6 6 1 2-1 0zM382 847l-6 0-10-2-12-3-12-4-4-4-2-6-6-2-8-8-2-4 0-2 4-1 7 5 7 6 2 6 8 0 10 2 14 4 8 4 3 2 2 2 0 4-3 1zM564 823l-7-3-7-6 0-1 2 0 5 3 6 4 1 3zM428 847l-6 0-10-2-23-7-5-4-1-2 1-4-9-6-2-4 0-2 3 0 5 2 11 10 16 3 18 7 4 2 2 4-1 2-3 1zM612 823l-3-1-4-4 6 2 2 2-1 1zM476 847l-6 0-10-2-14-3-10-4-6-4 0-4 2-2-3-4-2-2 1-1 4 1 8 6 18 4 14 5 4 3 2 2 0 3-2 2zM304 859l-4-1-5-2-4-4-3-5-16-2-22-7-4-4-2-2 0-2 2-2 4 0-1-4 3-1 6 2 6 4 22 8 6 5 1 2-1 2 6 4 5 4 1 4 0 1zM522 847l-6 0-8-1-20-6-10-4-2-4 0-2 2-2 4 0-1-2 1 0 6 2 24 6 7 4 4 2 1 4-2 3zM336 847l-4 0-8-1-20-5-10-5-3-2 0-4 1-2 2 0 12 0 20 6 8 3 3 3 2 4-3 3zM568 847l-14-1-20-6-9-4-2-4-1-2 4-2 8 0 12 3 14 4 6 3 4 4 1 2-3 3zM614 847l-12-1-20-5-10-5-3-2 0-4 3-2 6 0 12 2 14 4 8 3 4 3 1 4-3 3zM660 847l-4 0-8-1-22-6-8-4-3-4 0-2 1-1 2-1 8 0 10 2 14 4 8 3 4 3 1 4-3 3zM708 847l-6 0-6-1-22-5-10-5-2-2-1-4 3-2 8 0 10 2 14 4 8 3 4 3 2 4-2 3zM746 847l-14-3-16-5-6-3-2-4 0-2 2-1 2-1 8 0 12 3 14 4 0 12zM144 870l-8-22-4-3-22-8 0 10 4 0 4 2 10 7 7 8 1 7 8-1zM218 884l-12 0-6-7-14-1-13-2 5-2-7-6-6-6-3-6 0-2 2-1 4 0 8 5 7 6 5 9 10 0 20 3-6 2 6 8zM352 859l-4-2-4-5 2 0 4 2 3 4-1 1zM248 877l-14-1-15-2 8-2-9-10-1-2-1-3 4-1 6 3 6 4 6 8 26 3-5 2-11 1zM296 877l-16-1-15-2 13-4-5-4-1-2 2-2 4 2 8 7 24 3-5 2-9 1zM342 877l-16-1-14-2 8-2 10-1 27 3-5 2-10 1zM388 877l-16-1-14-2 8-2 10-1 27 3-5 2-10 1zM434 877l-14-1-16-2 9-2 9-1 27 3-4 2-11 1zM480 877l-14-1-15-2 8-2 9-1 28 3-5 2-11 1zM526 877l-14-1-15-2 8-2 11-1 26 3-5 2-11 1zM574 877l-16-1-15-2 9-2 10-1 26 3-4 2-10 1zM620 877l-16-1-14-2 8-2 10-1 27 3-5 2-10 1zM666 877l-16-1-14-2 9-2 9-1 27 3-5 2-10 1zM712 877l-14-1-16-2 9-2 9-1 27 3-4 2-11 1zM746 876l-17-2 8-2 9-1 0 5zM266 884l-8 0-2-4 4 0 6 4zM194 884l-5 0 3-2 2 2zM132 884l-3 0 4 0-1 0z"/>
<path fill="#65a5d3" fill-opacity="0.5" fill-rule="evenodd" d="M108 245l0-1-2-8 4 0-2 9zM150 268l-4-3-4-8-4-13-1-8 6 0 3 7 5 17 0 6-1 2zM470 239l-5-3 4 0 1 2 0 1zM524 244l-4-3-5-5 5 0 4 4 0 2 0 2zM578 248l-4-1-4-3-3-6-1-2 4 0 4 3 4 5 0 2 0 2zM702 239l-4-1-5-2 9 0 0 2 0 1zM746 240l-4-4 4-1 0 5zM632 252l-4-1-6-5-4-6-1-2 1 0 4 1 6 5 4 4 0 4zM196 258l-2-2-2-6 0-6 0-3 2 2 3 5 1 8-2 2zM684 256l-4-2-6-4-3-4-1-5 4 0 7 5 5 6 0 2-2 2zM400 251l-4-4-2-3 0-1 4 4 2 4zM738 259l-4-1-6-4-5-6-1-4 2 0 2 1 8 4 4 7 1 2-1 1zM454 256l-6-4-2-7 2 1 4 4 2 4 0 2zM508 260l-4-1-4-4-2-5 0-2 2 1 4 4 4 5 0 2zM562 264l-4 0-4-5-4-5 0-3 2 0 6 5 3 4 1 4zM616 268l-4-1-6-3-4-6 0-4 2 0 6 5 5 5 1 4zM668 272l-4-1-6-5-4-5-1-3 5 0 6 4 5 6 1 2-2 2zM382 267l-4-4 0-4 2 1 2 4 1 2-1 1zM722 276l-6-2-6-4-4-6 0-3 2-1 2 1 8 5 4 6 1 2-1 2zM438 272l-2 0-4-4-3-4 0-2 3 0 2 3 4 7zM108 291l0-1-2-4 0-10 0-10 0-3 2-1 2 16 0 8-2 5zM490 277l-2-2-5-5-2-4 1-2 2 1 5 5 2 4-1 3zM544 281l-2-1-6-5-3-5 0-2 3 0 6 5 3 5 0 2-1 1zM598 285l-4-2-6-5-3-4 0-4 5 2 6 6 3 4-1 2 0 1zM652 288l-4 0-5-4-5-5-2-5 2-1 2 1 6 4 6 6 1 2-1 2zM366 284l-4-4-1-4 5 4 1 2-1 2zM706 292l-4-1-7-3-5-6-1-4 1-1 4 0 6 5 6 6 0 2 0 2zM150 314l-2 0-2-3-6-10-3-15 0-6 1-2 2 1 2 2 6 11 3 14-1 8zM420 289l-4-5-4-6 2 0 4 4 3 4-1 3zM474 293l-2-1-4-4-3-4-1-3 2-1 2 1 4 4 3 5-1 3zM746 290l-4-6-1-2 1-2 4 1 0 9zM528 297l-2-1-6-4-3-4-1-4 4 0 4 4 4 6 0 3zM196 304l-2-2-2-6 0-6 0-3 2 2 3 5 1 8-2 2zM582 301l-3-1-5-4-5-6-1-3 4 1 6 4 4 6 0 3zM636 305l-5-1-6-4-4-6-1-4 4 1 8 5 4 6 1 2-1 1zM350 300l-4-3-2-5 2 0 2 3 2 5zM688 309l-4-2-7-5-4-6 0-2 3-1 2 1 7 6 5 6 0 2-2 1zM404 305l-2-1-4-4-2-4 0-2 2 1 4 4 2 4 0 2zM458 309l-2-1-4-3-4-5 0-3 4 1 4 4 2 4 0 3zM742 312l-6-1-5-5-5-6 0-3 2 0 2 1 7 4 5 6 1 2-1 2zM512 313l-2 0-4-3-5-6-1-4 2 0 6 4 4 5 0 4zM566 317l-4-1-6-4-4-5 0-3 4 0 6 4 4 6 0 2 0 1zM620 321l-5-1-7-4-4-6 0-2 0-2 4 1 8 5 4 6 0 2 0 1zM108 337l-2-5 0-10 0-10 0-3 2-1 2 16 0 8-2 5zM334 317l-4-5-2-2 0-2 6 6 0 2 0 1zM388 322l-6-6-2-4 0-2 2 2 4 4 2 4 0 2zM672 325l-4-1-7-4-5-6 0-2 0-2 6 1 6 5 5 6 0 2-1 1zM442 326l-4-2-4-4-2-4 0-2 2 0 6 5 2 5 0 2zM726 328l-5 0-7-5-4-5-1-2 0-2 5 0 6 4 5 6 1 2 0 2zM496 330l-4-2-5-4-3-4 0-4 4 2 4 4 4 4 0 4zM550 334l-4-1-6-4-4-5 0-4 0-1 4 1 5 4 5 6 0 4zM602 338l-4-2-6-4-4-6 0-3 4 0 7 5 4 6 1 2-2 2zM150 361l-2-1-4-4-4-12-3-14 0-4 1-1 2 0 4 4 4 12 3 13 0 4-1 3zM318 333l-4-3-2-5 4 3 2 4 0 1zM656 341l-2 0-2-1-6-4-6-6 0-4 4 0 7 6 5 6 0 3zM372 338l-4-2-2-3-2-4 0-2 2 1 4 4 2 4 0 2zM426 342l-4-1-4-4-3-5 1-2 2 1 4 4 3 5 1 2zM708 345l-4-1-6-4-5-6-1-4 2 0 4 1 6 4 5 7 1 2-2 1zM480 346l-4 0-4-4-4-6 0-3 2 1 6 4 3 4 1 4zM746 338l-1-4 1-1 0 5zM196 351l-2-3-2-5 0-7 0-2 2 1 3 7 1 6-2 3zM534 350l-2 0-2 0-6-4-4-6-1-4 3 1 6 3 4 6 2 4zM586 354l-4-1-6-5-4-4-1-4 5 0 6 4 5 6 0 2-1 2zM302 350l-5-4-2-4 1-1 4 4 2 5zM640 358l-6-1-6-5-4-6-1-2 1-1 4 0 8 5 4 6 1 2-1 2zM354 355l-5-7-2-4 3 0 4 5 2 5-2 1zM408 359l-2-2-4-4-3-3 0-4 3 1 4 5 3 4-1 3zM692 361l-4-1-6-4-5-6-1-4 2 0 2 1 8 4 5 7 0 2-1 1zM462 363l-2-1-6-4-3-6 0-2 3 0 6 5 3 5 0 2-1 1zM746 364l-4 0-6-4-6-6-1-4 3 0 6 4 6 6 2 4zM516 367l-4-1-6-5-3-5 0-4 5 2 5 4 4 6-1 3zM108 384l0-1-2-4 0-11 0-10 0-3 2 0 2 15 0 8-2 6zM570 371l-4-2-6-4-4-5-2-4 2 0 3 0 7 6 5 6 0 2-1 1zM284 366l-4-4-2-5 2 1 4 4 1 4-1 0zM230 360l-1-2 1 0 0 2zM624 374l-4 0-7-4-5-6-1-4 3-1 8 5 6 6 0 2 0 2zM338 371l-2-2-4-3-2-4 0-2 2 0 4 5 3 3-1 3zM392 375l-2-1-4-4-3-4-1-4 4 2 4 4 3 4-1 3zM676 378l-5-2-6-4-4-4-1-5 0-1 4 1 7 5 5 6 1 2-1 2zM446 379l-2 0-6-5-4-5 0-3 4 0 4 5 4 5 0 3zM728 381l-4-1-6-4-4-6-1-2 0-2 5 1 6 5 5 6 0 2-1 1zM500 383l-4-1-5-4-4-6-1-3 4 1 6 4 4 4 0 5zM150 407l-2-1-4-4-4-12-3-14 0-4 1-1 2 1 4 3 4 12 3 15 0 4-1 1zM554 387l-6-1-5-4-4-6-1-4 2 0 2 1 7 5 5 6 1 2-1 1zM268 383l-4-5-2-4 5 4 1 3 0 2zM606 391l-4-2-7-5-5-5 0-3 2-1 4 1 7 6 4 6 1 2-2 1zM322 387l-2 0-4-5-2-4 0-2 7 6 2 4-1 1zM376 392l-4-3-4-5-2-4 0-1 4 1 4 6 2 4 0 1 0 1zM660 394l-4-1-8-4-4-5-1-4 1-1 4 0 6 5 6 6 0 2 0 2zM196 397l-2-2-2-6 0-7 0-2 2 2 3 6 1 6-2 3zM430 396l-4-1-4-5-4-4 0-4 2 0 7 6 3 6 0 2zM712 397l-4 0-6-5-5-6-1-3 4 0 6 4 5 5 1 5zM482 400l-4-2-5-4-3-6 0-2 2-1 2 1 6 6 4 6 0 1-2 1zM538 403l-4 0-6-4-5-5-1-5 0-1 4 1 6 5 5 6 1 2 0 1zM252 400l-4-4-2-6 2 1 2 3 2 6zM306 404l-6-6-3-4 1-2 2 2 4 4 2 4 0 2zM590 407l-4-1-6-4-5-6-1-4 2 0 2 0 7 4 6 8 0 2-1 1zM360 408l-4-1-4-4-2-5 0-3 2 1 6 5 2 5 0 2zM642 411l-4-2-7-5-4-4-1-2 1-2 3-1 2 2 7 5 5 6 0 2-2 1zM414 412l-4-1-4-4-4-5 0-3 4 1 4 4 4 5 0 3zM696 414l-5-2-6-4-4-4-1-4 4 0 7 4 5 6 0 2 0 2zM108 430l0-1-2-4 0-11 0-10 0-2 2-1 2 15 0 10-2 4zM468 416l-4-1-6-5-4-4 0-4 4 1 5 3 4 6 1 4zM746 417l-4-3-5-4-3-4-1-2 5 1 7 5 1 1 0 6zM520 420l-4-2-6-4-4-6 0-3 4 0 7 5 4 6 1 2-2 2zM236 416l-6-5-1-3 1-2 5 6 1 2 0 2zM290 421l-4-2-2-4-3-5 0-2 3 3 4 5 2 2 0 3zM574 424l-6-2-6-4-4-6 0-4 2 0 2 1 8 5 5 6 0 2-1 2zM342 425l-2-2-5-5-2-4 0-2 3 1 6 5 2 4 0 2-2 1zM626 427l-4-1-6-5-5-5-1-4 2 0 4 1 6 5 5 6 1 2-2 1zM396 429l-4-2-4-5-3-4 1-3 4 1 5 6 3 4-2 3zM680 430l-4-1-7-3-5-6 0-4 4 0 6 4 5 6 1 4zM150 453l-2-1-4-3-4-12-3-13 0-4 1-3 2 1 4 4 4 12 3 14 0 4-1 1zM452 432l-2 0-2 0-6-4-4-6-1-4 3 0 6 4 4 6 2 4zM732 433l-4-1-6-4-4-4-1-4 3 0 6 4 5 6 1 2 0 1zM504 436l-4 0-6-5-5-5 0-2 0-2 5 0 6 4 5 6 0 2-1 2zM220 433l-6-5-2-5 2 0 4 4 2 3 0 3zM558 440l-6-1-6-5-5-6 0-2 1-1 4 1 7 4 5 6 1 2-1 2zM274 437l-2-1-4-4-3-4-1-3 2 1 4 4 3 4 1 3zM202 449l-8-8-2-9 0-6 4 4 2 10 4 6 1 2-1 1zM326 441l-2-1-5-4-3-6 0-2 4 1 4 5 3 6-1 1zM610 443l-4-1-6-4-5-6-1-4 2 0 2 1 7 5 5 6 1 2-1 1zM380 445l-4-2-4-3-3-6-1-3 4 1 6 5 3 5-1 3zM662 447l-4-1-6-5-4-5-1-4 1 0 4 1 6 5 5 6 1 2-2 1zM434 449l-4-1-5-4-5-6 0-3 4 0 6 5 5 6 0 2-1 1zM716 449l-4 0-6-4-4-5-2-4 4 0 6 4 5 6 1 3zM488 453l-6-2-5-5-4-4-1-4 5 0 7 6 4 6 1 2-1 1zM256 454l-6-6-2-4 0-2 2-1 4 6 3 5-1 2zM542 456l-5 0-6-4-6-6-1-5 4 0 8 5 5 6 1 2 0 2zM310 458l-2-2-5-4-3-4 0-4 2 1 6 5 3 4-1 4zM594 460l-6-2-6-4-4-6 0-3 2-1 2 1 8 5 4 6 1 2-1 2zM108 476l-2-5 0-11 0-10 2-3 2 15 0 10-2 4zM364 461l-4-1-4-4-4-6 0-2 4 0 5 6 4 4-1 3zM646 463l-4-1-6-4-5-6-1-3 2-1 2 1 7 5 6 6-1 3zM418 465l-4 0-4-4-5-5-1-4 2-1 6 4 5 5 1 5zM698 466l-4-2-6-4-4-4 0-2 0-1 5 1 6 4 4 6-1 2zM472 469l-6-1-5-4-4-6-1-4 4 0 7 6 5 6 1 2-1 1zM186 464l-4-4 0-3 4 5 0 2zM240 470l-2-1-4-5-3-4 1-3 2 2 4 4 3 5-1 2zM524 473l-4-1-7-6-5-6 0-2 6 0 7 6 4 6 1 2-2 1zM746 467l-7-5-2-4 1-1 3 1 5 3 0 6zM294 474l-2-1-5-3-3-6 0-3 2 1 6 4 3 6-1 2zM578 476l-5 0-7-5-4-5-1-4 1-1 4 1 6 4 6 6 0 2 0 2zM150 500l-2-1-4-4-4-12-3-13 0-4 1-2 2 0 4 4 4 12 3 14 0 4-1 2zM348 478l-4-2-5-4-3-4 0-4 2 0 6 6 4 6 0 2zM630 479l-2 0-7-3-6-6-1-4 2-1 2 0 6 4 5 5 1 5zM402 482l-4-1-6-5-4-6 0-3 4 1 6 5 4 5 0 2 0 2zM682 482l-4-1-5-3-5-6 0-3 4 1 5 4 6 6-1 2zM454 486l-4-2-6-4-4-6 0-3 2-1 2 1 7 5 5 6 0 2-2 2zM196 490l-2-3-2-5 0-6 0-3 2 1 3 6 1 8-2 2zM734 485l-2-1-7-4-3-4-1-2 3 0 6 4 5 4 0 2-1 1zM224 487l-2-2-4-4-3-5 1-2 2 2 4 4 3 4-1 3zM508 489l-4 0-6-5-5-6-1-4 4 0 7 4 6 8 0 2-1 1zM278 491l-4-3-4-4-3-4 1-3 2 1 6 6 2 4 0 3zM560 493l-4-2-7-5-4-4-1-4 2-1 4 1 6 5 6 7 0 2-2 1zM332 494l-4-1-5-5-4-4 0-4 3 1 6 5 4 6 0 2zM614 496l-6-1-5-5-4-4-1-2 0-2 4 0 7 4 5 6 0 2 0 2zM386 498l-4-1-6-4-5-5 0-4 5 1 6 5 3 4 1 4zM666 499l-4-1-6-4-5-6 0-2 5 0 6 4 4 6 0 2 0 1zM440 502l-4 0-6-4-6-6-1-4 1-1 2 0 7 5 6 6 1 4zM208 503l-4-2-3-5-2-4 0-2 3 2 4 4 2 6 0 1zM492 506l-6-2-6-4-4-6-1-4 3 0 2 1 8 5 5 6 0 2-1 2zM718 502l-5-2-4-4-4-4-1-2 4 0 6 4 5 6-1 1 0 1zM262 507l-4-1-4-5-3-5-1-3 4 1 4 5 4 5 0 3zM108 523l0-1-2-4 0-12 0-8 0-4 2 0 2 14 0 10-2 5zM544 509l-4-1-6-4-5-6-1-4 2 0 2 0 7 4 6 8 1 2-2 1zM316 511l-4-1-5-4-3-5-2-4 4 0 5 5 4 6 1 3zM598 512l-4 0-7-4-5-6-1-2 1-2 4 0 6 4 5 6 1 2 0 2zM368 515l-4-1-6-5-3-5-1-4 4 1 7 5 4 6 1 2-2 1zM650 515l-4-1-6-4-5-4-1-4 4 0 6 4 5 6 1 2 0 1zM422 519l-6-2-5-5-4-6-1-3 2 0 4 1 7 6 4 6 0 2-1 1zM476 522l-4-1-8-4-4-5-2-5 2-1 2 1 8 5 6 6 1 2-1 2zM702 518l-4-1-5-3-4-4-1-4 4 1 5 3 5 6 0 2zM192 519l-2 0-4-4-3-5 0-2 3 1 2 3 4 6 0 1zM244 524l-4-3-4-4-2-5 0-2 4 2 6 5 2 5 0 1-2 1zM150 546l-2-1-4-4-4-12-3-13 0-4 1-2 2 1 4 3 4 12 3 14 0 4-1 2zM528 526l-6-2-6-4-4-6 0-4 2 0 2 1 8 5 5 6 0 2-1 2zM746 517l-4-5-1 0 1-2 4 2 0 5zM298 527l-4-1-4-5-4-5 0-3 4 1 6 6 3 6-1 1zM580 529l-4-1-6-4-4-6-1-4 4 0 7 6 5 6 0 2-1 1zM352 531l-4-1-6-4-3-6-1-4 2 0 2 1 6 5 5 6 0 2-1 1zM632 532l-4-2-5-4-4-4-1-4 4 1 7 5 5 6 0 1-2 1zM196 536l-2-2-2-6 0-6 0-3 2 2 3 5 1 8-2 2zM406 535l-4-1-7-4-5-6 0-4 6 1 6 5 4 6 0 3zM686 534l-4 0-5-4-4-4-1-3 0-1 2 1 6 3 5 6 1 2zM458 539l-4-2-7-5-5-6 0-3 6 1 7 6 5 6 0 2-2 1zM174 535l-5-5-1-5 4 5 3 4-1 1zM228 540l-4-2-4-4-2-5 0-3 4 2 4 5 3 5-1 2zM512 542l-6-1-6-5-4-6-1-2 1-1 4 0 7 5 5 6 1 2-1 2zM738 537l-4-1-4-2-3-4-2-2 3 0 5 2 4 4 1 2 0 1zM282 544l-4-1-4-5-4-6 0-3 2 1 6 5 5 5-1 4zM564 545l-4-1-6-4-5-6-1-3 4 0 7 5 5 6 0 3zM336 548l-4-2-6-4-4-6 0-3 2 0 2 0 6 6 5 5 0 2-1 2zM616 548l-2-1-7-3-4-6-1-3 0-1 2 1 7 3 6 6 0 2-1 2zM388 552l-4-2-6-5-4-5 0-4 2 0 2 1 8 5 4 6 0 3-2 1zM444 555l-4 0-8-5-6-6 0-2 0-2 4 0 7 4 6 6 1 5zM668 551l-4-1-4-4-4-4-1-2 3-1 7 5 4 4 1 2-2 1zM108 569l0-1-2-4 0-12 0-8 0-3 2-1 2 16 0 8-2 5zM212 557l-2-1-6-5-3-5 0-4 3 1 6 5 3 6-1 3zM494 559l-4-2-6-5-5-4-1-5 2 0 4 1 7 4 5 8 0 2-2 1zM722 553l-4 0-4-3-4-4-1-2 3 0 4 2 5 4 1 3zM266 561l-4-2-6-5-3-6 0-2 5 1 6 6 3 5 0 2-1 1zM548 562l-4-1-7-5-4-4-1-4 2-1 2 0 6 5 6 6 1 2-1 2zM320 564l-4 0-5-4-5-6-1-4 1-1 2 0 6 5 5 6 1 4zM600 564l-4 0-4-4-5-4-2-4 3-1 7 5 5 6 0 2zM374 568l-6-1-6-5-4-6-1-4 5 1 6 5 6 6 0 2 0 2zM426 572l-4-1-8-5-4-6 0-4 2 0 2 1 8 5 5 6 0 2-1 2zM652 567l-3-1-6-4-4-4 0-2 3 0 6 4 5 4 0 2-1 1zM150 592l-2-1-4-3-4-12-3-14 0-4 1-2 2 1 4 4 4 12 3 13 0 4-1 2zM196 582l-2-4-2-6-6-9-1-3 1-1 4 2 5 7 3 10 0 3-2 1zM480 575l-4-1-8-4-5-6-1-2 0-2 4 0 8 4 5 6 1 5zM704 570l-4-1-4-3-4-4 0-2 4 0 5 4 4 4 0 2-1 0zM250 577l-4-1-6-5-3-5-1-4 4 1 6 5 4 6 0 3zM532 578l-6-1-5-5-5-4-1-4 5 0 7 4 5 6 0 2 0 2zM304 581l-4-1-6-5-5-5-1-5 4 1 8 5 4 7 0 2 0 1zM584 581l-5-1-6-4-4-6 0-2 5 0 6 5 4 5 0 2 0 1zM356 585l-4-2-6-5-5-6-1-3 2-1 4 2 6 5 6 7 0 2-2 1zM410 588l-4-1-7-5-6-6 0-4 1 0 4 1 6 4 6 7 1 2-1 2zM636 584l-4-2-6-4-3-4-1-2 4 1 6 3 4 6 0 1 0 1zM462 591l-4-1-6-4-5-6-1-4 2-1 2 1 8 5 5 7 1 2-2 1zM180 589l-4-1-4-4-3-4 0-4 3 1 4 5 4 4 0 3zM688 586l-3 0-5-4-4-4 0-2 2 0 6 4 4 4 0 2zM234 594l-4-2-6-4-4-6 0-4 2 0 2 1 6 5 4 6 0 2 0 2zM514 595l-5-3-6-4-4-6 0-2 1 0 4 1 8 5 4 6 0 2-2 1zM288 597l-4 0-7-5-5-6 0-4 4 0 7 6 4 6 1 3zM740 589l-2 0-3-3-5-4 0-1 5 1 5 4 0 3zM568 597l-4-1-6-4-5-4-1-4 4 0 7 4 5 6 0 3zM340 601l-4-1-6-5-5-5-1-4 2-1 2 1 8 4 5 8 1 2-2 1zM108 615l-2-5 0-10 0-10 2-4 2 16 0 8-2 5zM394 605l-6-2-6-5-5-6-1-2 0-1 6 0 7 5 5 8 1 2-1 1zM620 600l-4-1-6-3-3-4-1-4 4 1 5 3 5 6 0 2zM446 608l-4-1-7-5-5-6-1-4 1 0 4 0 7 6 5 6 1 2-1 2zM672 603l-4-1-5-4-3-4 0-1 3 1 5 2 4 4 0 2 0 1zM162 604l-6-4-2-4 0-2 2 1 4 4 2 5zM218 610l-4 0-6-5-4-7 0-3 4 1 5 4 4 6 1 4zM498 611l-4-1-6-4-5-6-1-4 5 0 7 6 5 6 1 2-2 1zM724 605l-6-3-5-4 3-1 4 3 4 4 0 1zM270 614l-4-2-6-4-4-6 0-4 4 1 7 5 4 6 1 2-2 2zM550 614l-4-1-5-5-5-4 0-4 4 1 7 5 5 6 0 1-2 1zM324 618l-6-2-6-6-5-6 0-2 3-1 2 1 8 6 5 6 0 2-1 2zM150 638l-2 0-2-2-6-11-3-15 0-6 1-1 2 0 2 2 6 11 3 14-1 8zM378 621l-6-1-6-4-5-6-1-5 4 0 8 5 5 6 1 4 0 1zM602 617l-4-3-4-2-4-4 0-3 4 0 5 5 5 4 0 2-2 1zM430 624l-2 0-2 0-8-5-5-7-1-2 1-2 5 1 6 5 6 6 0 4zM656 619l-4 0-4-3-5-4 0-2 3-1 5 3 4 4 1 2 0 1zM196 629l-8-13-1-4 1-1 6 1 7 10 1 4-2 1-2-1-2 3zM482 627l-4-1-7-4-4-6-1-2 0-2 4 1 7 5 5 6 1 2-1 1zM708 622l-7-4-4-2 0-2 7 2 3 4 1 2zM254 630l-4 0-6-6-5-6 0-4 3 1 8 5 5 6 0 2-1 2zM534 630l-4-1-6-5-4-4 0-3 4 0 6 5 5 6 0 2-1 0zM308 634l-2 0-2-1-8-5-5-6 0-4 5 1 7 5 5 6 1 2-1 2zM360 638l-4-2-7-4-5-6-1-4 3-1 2 1 9 6 5 6 0 2-2 2zM588 633l-4 0-5-3-5-6-1-2 3-1 5 3 5 6 2 3zM414 641l-6-1-7-6-5-6 0-2 0-1 6 1 7 4 5 6 1 4-1 1zM640 636l-4-1-5-3-4-4-1-2 3 0 5 2 4 4 2 4zM184 643l-4-1-4-5-5-5 0-2 1-2 2 1 6 5 5 6-1 3zM466 644l-6-2-6-4-4-6 0-3 2 0 2 1 7 4 5 6 1 2-1 2zM238 647l-4-1-6-5-5-7-1-4 4 1 8 5 4 7 1 3-1 1zM690 638l-6-4-4-4 2 0 5 2 4 4 0 2-1 0zM108 661l-2-4 0-11 0-10 0-3 2 0 2 15 0 8-2 5zM518 647l-4-1-5-4-5-4-1-4 1-1 2 0 7 5 5 6 0 3zM292 651l-6-2-6-5-6-6 0-4 2 0 4 1 7 5 5 8 1 2-1 1zM742 640l-4-2-3-2 4 0 2 2 1 2zM344 654l-5-2-7-4-5-6-1-2 1-2 3-1 2 1 8 6 5 6 1 2-2 2zM570 649l-4-1-5-4-4-4-1-2 4 0 6 4 5 4 0 2-1 1zM398 657l-6-1-6-4-6-6 0-4 2-1 2 1 8 4 6 8 0 2 0 1zM622 652l-2-1-5-3-5-6 2 0 6 4 4 4 1 2-1 0zM168 659l-4-1-4-4-4-6 0-3 4 1 4 5 4 5 0 2 0 1zM450 660l-6-1-6-5-4-4-1-4 1-1 4 1 6 4 6 6 0 2 0 2zM222 664l-5-2-6-4-5-6 0-5 4 0 8 6 5 7 0 2-1 2zM674 655l-6-3-4-4 0-2 2 0 5 4 3 2 0 3zM150 685l-2-1-4-4-4-12-3-14 0-4 1-1 4 2 2 4 7 17 0 10-1 3zM502 663l-4 0-6-5-5-4-1-4 4 0 6 4 6 6 0 3zM276 667l-6-1-6-5-6-7 0-4 2 0 2 1 8 5 6 8 1 2-1 1zM724 656l-4-2-2-2 6 2 1 2-1 0zM328 671l-5-1-7-6-6-6 0-2 0-2 6 0 8 6 5 6 0 4-1 1zM554 666l-2 0-6-4-4-4-2-4 2 0 6 3 6 5 1 2-1 2zM380 674l-4-1-8-5-4-6-1-2 0-2 5 0 8 6 5 6 1 2-2 2zM206 680l-4 0-6-4-6-8-1-4 1-1 2-1 0-4 2 2 3 6 9 10 1 2-1 2zM606 669l-4-1-3-2-4-4-2-4 3 1 5 3 6 4-1 3zM434 677l-6-1-6-4-5-6-1-4 4 0 8 4 5 6 1 4 0 1zM658 671l-2-1-5-2-3-4 0-1 6 3 3 2 1 3zM486 680l-4-1-6-3-5-6-1-4 1 0 3 0 6 4 6 6 0 2 0 2zM260 684l-6-1-7-5-6-8 0-2 0-2 3 0 2 1 8 5 6 8 0 2 0 2zM708 673l-4-3-2-2 6 2 1 2-1 1zM312 687l-4-1-8-4-6-8 0-4 2 0 2 1 8 5 6 6 1 4-1 1zM538 682l-2 0-6-3-5-5-2-4 3 0 4 3 6 5 2 4zM364 691l-6-3-7-4-4-6-1-4 2-1 4 1 8 6 5 8 1 2-2 1zM590 685l-2 0-6-3-4-4-1-2 0-2 3 1 4 3 6 4 0 3zM418 693l-4 0-8-4-5-7-1-4 2 0 8 4 6 6 2 5zM108 708l0-1-2-4 0-11 0-10 0-2 2-1 1 7 1 14-2 8zM188 697l-5-3-7-5-3-7 1-2 2 0 3 2 7 6 4 6 0 2-2 1zM642 688l-7-4-4-4 2 0 5 2 4 4 0 2zM132 688l-4-3-1-1 0-2 5 4 0 2zM244 700l-2 0-4 0-7-6-6-6-1-4 0-1 2-1 4 1 7 5 6 8 1 2 0 2zM470 696l-4-1-7-3-4-6-2-4 1 0 4 0 6 4 5 6 1 2 0 2zM692 690l-4-2-3-4 2 0 4 2 2 2-1 2zM296 704l-6-2-8-5-5-7 0-4 3 0 2 1 8 6 6 7 1 2-1 2zM522 699l-4-1-6-4-5-4 0-4 5 1 5 5 5 4 0 3zM348 707l-4-1-8-5-5-7-1-4 2 0 2 0 8 6 6 6 1 4-1 1zM574 702l-4-2-5-2-4-4-1-3 4 1 6 4 4 4 0 2zM400 710l-4-1-7-5-5-6-1-4 1 0 4 0 7 6 6 6 1 2-2 2zM150 731l-2-1-4-3-4-12-3-13 0-4 1-3 2 1 4 4 3 8 3 10 5 4 2 4-1 3-4-1-2 3zM626 704l-8-4-3-2-1-2 2 0 5 2 5 4 0 2zM172 713l-4-2-6-5-5-6 0-2 0-2 5 2 8 6 3 6 1 2-2 1zM452 713l-4-2-7-5-4-4 0-4 5 1 6 5 5 6 1 2-2 1zM226 717l-5-1-7-6-6-6 0-4 2-1 2 0 9 7 7 8 0 2-2 1zM676 706l-5-2-2-4 5 2 2 4zM278 721l-6-3-7-6-5-6 0-2 0-1 2-1 4 1 10 7 5 8-1 2-2 1zM506 715l-4 0-6-3-5-6-1-2 0-1 4 0 6 4 5 5 1 3zM210 734l-4-1-4-3-6-4-4-6-1-4 2-2-1-6 0-4 4 4 2 8 8 6 5 6 1 4-2 2zM332 724l-6-2-7-6-5-6-1-4 3 0 2 1 9 5 5 8 1 2-1 2zM558 718l-4-1-5-3-4-4-1-2 2-1 6 3 5 6 1 2zM384 727l-6-3-7-4-4-6-1-2 1-2 3 0 2 1 8 5 5 8 0 2-1 1zM610 721l-8-3-4-6 2 0 4 2 5 4 1 3zM436 729l-4-1-7-4-5-6 0-3 6 1 6 4 5 6 0 2-1 1zM660 723l-4-3-4-3 5 1 3 5zM264 737l-6-1-8-6-6-6 0-5 2-1 3 2 9 5 6 7 1 4-1 1zM488 732l-4-1-5-3-4-6-1-2 4 0 6 4 5 6 0 2-1 0zM316 740l-2 0-2-1-8-5-7-6-1-5 2-1 2 1 9 5 6 6 2 4-1 2zM540 735l-4-2-5-3-3-4-1-2 5 0 6 4 3 4 1 2-2 1zM122 762l-6-4-6-7-2 3-3-18 1-8 2-3 1 7 1 14 6 3 6 6 2 5 0 1-2 1zM368 743l-4-1-8-5-5-7-1-2 0-1 6 0 6 5 6 6 1 2-1 3zM592 737l-7-3-4-6 3 0 5 4 4 4-1 1zM162 783l-2 0-4-1-8-5-2-2-4-7-3-8-2-14-9-9-3-3 1-3 2 0 5 3 9 10 5 10 4 12 10 10 2 4-1 3zM250 806l-4-1-7-3-6-6-3-6-6-1-8-2-6-1-5-2-6-6-6-8 1-2 1-2-3-8 0-6 0-2-6-2-7-6-4-8 0-2 3 0 6 2 6 6 4 4 1 4-1 2-1 0 1 2 2 5 2 11 10 6 8 10 6 1 8 2 4 1 8 3 8 9 2 4-2 2zM420 746l-4-1-6-5-5-4-1-5 4 0 6 5 7 6-1 4zM644 739l-5-3-3-2 2-1 3 3 3 2 0 1zM248 754l-6-2-8-4-6-8-1-2 0-2 1-1 4 1 8 5 7 7 1 4 0 2zM472 748l-4-1-6-3-4-6-1-2 5 0 6 4 5 6 0 2-1 0zM300 757l-6-1-7-6-6-6-1-4 2-2 2 1 9 5 7 8 1 4-1 1zM524 751l-2-1-5-2-5-4-1-4 1 0 2 0 5 4 6 4 0 2-1 1zM352 760l-6-2-6-4-6-6 0-5 2 0 2 0 8 5 6 8 1 2-1 2zM576 754l-3-2-5-2-3-4 0-2 1 1 6 3 4 4 0 2zM404 762l-4 0-6-4-6-6-1-4 4 0 6 4 6 6 2 2-1 2zM178 767l-2 0-4-1-7-6-6-6-1-4 0-2 2 0 4 1 8 5 6 8 1 2-1 3zM628 756l-7-4-2-2 7 2 2 2 0 2zM232 770l-2 0-4 0-8-6-7-8-1-2 0-2 2-1 4 1 9 6 6 8 1 2 0 2zM456 765l-3-1-6-4-5-4-2-4 4 0 6 4 6 6 0 3zM284 773l-6-1-8-6-6-6-1-4 1-1 2 0 3 1 9 5 5 7 1 4 0 1zM508 768l-5-2-5-4-3-4-1-2 4 1 6 3 5 6-1 1 0 1zM336 776l-6-1-7-5-5-6-1-4 1-1 4 1 7 4 6 8 1 2 0 2zM560 770l-2 0-4-2-6-6 2-1 4 2 5 3 1 4zM388 779l-5-1-6-4-6-6-1-4 4 0 8 4 6 8 0 2 0 1zM130 817l-4-1-8-4-5-4-5-8-2-10 0-11-6-4 0-9 6 6 2 0 2 10 0 14 8 3 8 7 4 6 1 4-1 1zM610 772l-4-2-3-4 1 0 5 2 2 4-1 0zM440 781l-4-1-6-4-5-4-1-4 4 0 6 4 6 6 0 2 0 1zM276 790l-8-1-2 1-7-2-10-10-2-4 0-2 3-1 6 2 6 5 4 6 10 4 1 0-1 2zM492 784l-4-1-6-5-4-4 0-2 4 2 6 4 4 4 0 2zM318 793l-6-2-6-5-5-6-1-2 0-2 2-1 4 2 10 8 7 3 1 0-1 2-3 0-2 3zM554 790l-6-1-8-3-7-6-1-2 4 0 8 6 9 2 3 2-2 2zM196 860l-2-2-2-6-10-8-17-6-9-4-7-6-6-8-6-22-9-9-5-3-2-2 3 0 2-3 2-1 4 2 5 4 5 4 4 6 6 22 7 4 7 8 18 6 6 3 6 4 5 7 1 4 0 1-4 1 0 3-2 1zM372 795l-2 0-4-1-12-8-1-2 1 0 0-4 2 0 2 0 11 8 3 4 0 3zM196 814l-2-2-3-10-7-6-6-7-7-1-3-2 0-2 2 0 6 1 2-2 4 1 6 3 6 5 4 6 2 4 0 1-3 1 1 8-2 2zM600 790l-9-2-5-2-1-2 3-1 9 3 5 2-2 2zM424 797l-2 0-4-1-8-7-7-1-3-2-1-2 5 0 8 1 8 6 4 5 0 1zM474 800l-7-4-7-6-8-2-5-2-1-2 6 0 8 2 12 8 3 4-1 2zM508 790l-4 0-6-2-5-2-1-2 4 0 8 2 4 2 1 0-1 2zM648 790l-6 0-5-2-4-2-2-2 5 0 7 2 4 2 1 0 0 2zM694 790l-10-2-5-2-1-2 4 0 8 2 4 2 1 0-1 2zM740 790l-10-2-5-2-1-2 4 0 8 2 5 2-1 2zM302 809l-4-1-7-4-6-6-1-6 1 0 3 0 8 5 7 7 0 4-1 1zM526 802l-7-4-3-4 2 0 4 2 4 4 0 2zM354 811l-4-1-7-4-4-6-1-2 0-2 4 1 7 5 5 6 0 3zM182 820l-2 0-4-1-9-7-6-8-1-2 0-2 2-1 4 2 10 5 6 8 2 4-2 2zM406 813l-4-1-6-4-4-4 0-2 4 0 5 4 5 4 0 2 0 1zM234 823l-6-2-8-5-6-8-1-2 1-2 2-1 4 1 8 6 7 8 0 4-1 1zM458 815l-4 0-3-3-4-2-1-4 2 0 4 2 5 4 1 3zM286 825l-6-1-7-6-5-6-1-4 5 0 8 6 6 6 0 4 0 1zM506 816l-2-2-2-2 3 2 1 2zM336 827l-4-1-5-4-5-6 0-2 4 0 6 4 5 6 1 2-2 1zM168 884l-12 0-8-8-13-2 3-2 8 0 0-2 1-2-5-6-4-12-6-7-13-5-9-5-1 11-1 3 0-1-2-14-6-5 0-12 6 4 2-1 1 4 5 8 16 2 6 2 4 0 6 6 5 10 0 2-1 2 1 8 0 6 7 4 5 2 1 0-2 2 6 6 1 2-1 0zM388 828l-4-1-4-3-3-4-1-2 4 1 5 3 3 4 0 2zM250 857l-8-4-6-8-16-3-12-6-10-10-1-4 0-2 1 0 4 1 7 3 7 7 12 3 8 4 14 12 2 4 0 2-2 1zM284 845l-6-1-8-1-16-6-4-5 2-2-1-4 1-1 4 0 8 6 17 7 4 2 1 2 0 2-2 1zM436 829l-4-4 4 1 1 2-1 1zM330 845l-10-1-14-4-7-4-2-2 0-2 3-2 8 0 14 5 7 3 3 4 0 2-2 1zM376 845l-10-1-12-4-9-4-1-2-1-2 3-2 6 0 16 5 10 5 1 4-3 1zM422 845l-10-1-12-4-8-4-2-2 0-2 2-2 6 1 18 4 8 5 1 4-3 1zM468 845l-10-1-12-4-8-4-2-2 0-2 2-2 6 0 18 5 6 3 3 4 0 2-3 1zM516 845l-10-1-14-4-7-4-2-2-1-2 4-2 5 0 17 5 9 5 1 4-2 1zM562 845l-10-1-14-4-7-4-2-2 0-2 3-2 6 1 16 4 9 5 1 4-2 1zM608 845l-10-1-13-4-8-4-2-2 0-2 3-2 6 0 17 6 6 2 3 4 1 2-3 1zM654 845l-10-1-12-4-8-4-2-2-1-2 3-2 6 0 16 5 10 5 1 4-3 1zM700 845l-10-1-12-4-8-4-2-2 0-2 2-2 6 0 18 5 8 5 1 4-3 1zM746 845l-10-1-12-4-8-4-2-2 0-2 2-2 7 0 17 5 6 4 0 6zM100 844l0-4 1 2-1 2zM134 870l-2 0-4-1-10-7-7-8-1-4 0-1 2-1 4 1 10 7 7 8 2 4-1 2zM300 856l-6-4-2-2 0-2 2 1 4 3 2 2 0 2zM218 884l-11 0-7-8-10-1-9-1 1-2-8-4-7-6-3-6-1-4 3 0 2 1 10 5 6 8 2 4 0 2 14 0 9 2 1 0-1 2 9 8zM252 876l-14 0-11-2 3-2-9-8-2-4-1-2 4 0 6 3 5 5 3 6 15 0 5 2-4 2zM118 884l-12 0 0-2-6-5 0-12 6 3 2-4 2 8 6 2 1 0-3 2 4 8zM298 876l-14 0-10-2 4-2 8 0 11 0 5 2 1 0-5 2zM346 876l-16 0-10-2 4-2 10 0 10 0 4 2 1 0-3 2zM392 876l-14 0-12-2 4-2 10 0 10 0 5 2-3 2zM438 876l-14 0-11-2 3-2 10 0 10 0 5 2 1 0-4 2zM484 876l-14 0-11-2 3-2 10 0 11 0 4 2 1 0-4 2zM530 876l-14 0-11-2 5-2 8 0 11 0 5 2-4 2zM576 876l-14 0-10-2 4-2 8 0 11 0 5 2 1 0-5 2zM624 876l-16 0-10-2 4-2 10 0 10 0 4 2 1 0-3 2zM670 876l-14 0-12-2 4-2 10 0 10 0 5 2 1 0-4 2zM716 876l-14 0-11-2 3-2 10 0 10 0 5 2 1 0-4 2zM746 875l-9-1 1-2 8 0 0 3zM142 884l-5 0 1-3 2 0 2 3z"/>
<path fill="#559bcf" fill-opacity="0.5" fill-rule="evenodd" d="M108 239l0-1-1-2 2 0-1 3zM746 238l-2-2 2-1 0 3zM574 243l-4-3 0-1 2 1 2 3zM146 260l-2-4-2-6-2-6 1-4 3 3 2 6 2 9 0 1-2 1zM628 248l-6-4-1-2 1-1 5 3 1 4zM682 252l-6-2-3-6 1 0 5 2 3 4 0 2zM736 256l-2 0-5-2-3-4-1-2 3-1 3 3 3 3 2 3zM558 260l-4-2 0-2 4 4zM612 265l-6-3-1-4 5 2 2 2 0 3zM666 269l-3-1-3-2-3-4-1-2 3 0 4 4 2 2 1 3zM718 273l-3-1-4-4-2-2 0-2 3 0 5 4 2 2-1 3zM108 285l-2-7 0-8 2-2 1 8-1 9zM540 276l-3-2 1-2 2 2 0 2zM596 281l-2 0-3-3-3-2 0-2 5 2 3 5zM650 285l-2 0-5-3-3-4 0-1 6 3 4 5zM702 289l-2 0-4-3-3-4-1-2 4 0 3 2 3 4 0 3zM746 287l-1-3 1-1 0 4zM148 306l-2-1-4-5-2-8 0-5 2 0 4 6 2 7 0 6zM524 293l-2-2-2-3 4 2 0 3zM578 297l-4-3-2-4 2 0 3 4 2 2-1 1zM632 302l-2-1-4-2-2-6 2 1 4 2 3 4-1 2zM686 306l-4-1-4-3-2-4 0-2 2 1 6 3 2 4 0 2zM738 309l-2-1-4-2-2-3-1-3 1 0 5 2 4 4-1 3zM508 309l-3-3-1-2 4 3 0 1 0 1zM562 314l-2-1-2-1-2-4 0-1 2 0 2 2 3 3-1 2zM616 318l-2 0-4-3-3-3 0-2 3 0 3 2 3 4 0 2zM670 322l-4-1-3-3-3-2 0-3 2 0 4 3 3 4 1 2zM108 331l-2-7 0-8 2-2 1 8-1 9zM722 325l-2 0-4-3-3-4-1-2 2 0 4 3 4 3 0 3zM492 326l-4-5 2 1 2 4zM546 330l-5-2-2-4 1-1 4 3 2 2 0 2zM600 335l-6-3-3-6 1 0 5 2 3 4 0 3zM654 338l-2 0-4-2-4-4-1-2 3-1 3 3 3 2 2 4zM148 352l-2-1-4-5-2-8 0-5 2 1 4 5 2 7 0 6zM706 342l-4-2-4-2-2-4 0-1 4 1 3 2 3 4 0 2zM476 342l-3-2-2-2 3 0 2 4zM530 347l-6-3-2-4 2 0 4 2 2 4 0 1zM584 351l-3-1-3-2-4-4 0-2 2 1 5 3 2 2 1 3zM636 355l-2-1-4-2-3-4-1-2 2 0 5 2 4 4-1 3zM690 358l-4 0-3-2-3-4 0-3 2 1 4 2 3 4 1 2zM742 361l-6-3-3-2 0-2 2 0 3 2 4 4 0 1zM458 358l-3-2 0-2 1 0 3 2-1 2zM514 363l-2 0-2-1-4-6 2 0 2 2 3 2 1 3zM566 367l-5-3-3-4 2-1 4 3 3 4-1 1zM108 378l0-1-2-7 0-8 2-2 1 8-1 10zM620 371l-2 0-4-3-4-3 0-3 2 0 4 2 4 4 0 3zM672 375l-2-1-5-4-2-2 0-2 3 0 5 4 2 2-1 3zM724 378l-5-4-2-2-1-2 4 0 4 3 2 3-2 2zM442 375l-3-3-1-2 4 2 0 3zM496 380l-4-3-2-5 2 1 3 3 2 2-1 2zM550 384l-2 0-4-4-2-2 0-3 2 1 4 2 3 4-1 2zM604 388l-4-1-4-3-2-4 0-2 2 1 5 3 3 4 0 2zM146 399l-2-4-2-6-2-5 1-4 1-1 2 3 2 6 2 8 0 2-2 1zM656 391l-2-1-4-2-2-3-2-3 2 0 5 2 3 4 0 3zM426 391l-4-2 0-3 3 2 1 2 0 1zM708 394l-5-2-3-6 2 0 4 2 2 4 0 2zM480 396l-2 0-2-3-3-3 1-1 4 3 3 2-1 2zM534 400l-2 0-4-2-3-4 0-2 3 0 3 2 3 4 0 2zM588 404l-4 0-4-4-2-3 0-2 2 0 4 3 3 4 1 2zM640 408l-4-1-3-3-3-4 0-2 4 1 4 3 3 4-1 2zM410 408l-4-4-1-2 4 4 1 2zM692 411l-6-4-3-5 3 1 4 3 3 4-1 1zM464 413l-5-3-3-5 2 0 4 3 2 4 0 1zM108 424l-2-8 0-7 2-3 1 8-1 10zM744 413l-4-1-2-4 0-1 3 1 3 5zM518 417l-7-3-2-4-1-2 4 1 3 3 3 2 0 3zM570 421l-2-1-4-3-3-3 0-2 3-1 4 3 3 4-1 3zM624 424l-3 0-3-3-4-3 0-3 2 0 4 3 4 4 0 2zM394 424l-4-1-2-4 4 1 2 3 0 1zM676 427l-7-3-2-4 1-1 2 1 4 2 2 4 0 1zM448 429l-6-3-2-2 0-2 2 0 4 2 2 4 0 1zM728 430l-4-3-3-3 1-1 4 3 2 2 0 2zM502 433l-4 0-2-3-4-4 0-2 2 1 4 2 3 3 1 3zM148 445l-2-1-4-5-2-7 0-6 2 0 4 6 2 8 0 5zM554 437l-2-1-4-2-4-4 0-2 4 0 4 4 3 2-1 3zM608 440l-2 0-5-2-4-4 0-2 3-1 4 3 3 4 1 2zM378 441l-4-1-2-4 3 0 3 5zM660 443l-4 0-2-3-3-2-1-3 2 0 4 3 4 4 0 1zM430 446l-4-4-2-4 2 0 4 3 2 3-2 2zM712 446l-2 0-3-2-3-4 5 2 3 4zM484 450l-6-4-2-4 0-1 2 0 4 3 3 4-1 2zM538 454l-7-4-3-6 2 0 5 4 3 4 0 1 0 1zM590 457l-3-1-4-4-2-2 0-2 3 0 5 4 2 4-1 1zM360 458l-3-4-1-3 4 3 1 2-1 2zM642 460l-6-4-2-2 0-2 4 0 3 4 2 2-1 2zM108 470l-2-6 0-9 2-2 1 7-1 10zM414 462l-4-3-3-5 2 0 3 3 3 3-1 2zM694 462l-4-2-2-4 2 0 3 2 2 4-1 0zM468 466l-2 0-4-3-3-3 0-2 3-1 4 3 2 4 0 2zM522 470l-4-1-3-3-3-4-1-2 3 0 5 4 3 4 0 2zM574 473l-2 0-4-3-3-4-1-2 4 0 4 3 2 3 0 3zM290 469l-2-3 2 2 0 1zM344 474l-4-3-1-3 1 0 4 3 0 3zM626 476l-5-2-3-6 2 0 4 2 3 4-1 2zM398 479l-5-3-2-4 0-2 1 1 4 3 3 2-1 3zM148 491l-2-1-4-5-2-7 0-6 2 1 4 5 2 8 0 5zM678 479l-4-3-3-2 1-2 4 3 3 3-1 1zM452 483l-4-2-3-3-2-2 0-2 3 0 4 4 3 4-1 1zM506 486l-4 0-4-4-3-4 1-1 2 0 5 3 3 4 0 2zM728 480l-1-2 1 0 0 2zM558 490l-4-1-4-3-2-4 0-2 2 1 6 3 3 4-1 2zM274 486l-3-2 1-2 2 2 0 2zM328 491l-4-3-2-2 0-2 5 2 1 5zM610 493l-2-1-4-2-3-4 0-2 3 1 4 2 2 3 0 3zM382 495l-2 0-4-3-2-4 0-1 6 3 2 2 0 3zM662 495l-6-3-1-2 1-1 4 3 2 2 0 1zM436 499l-4-1-4-3-2-3 0-2 4 1 4 3 2 4 0 1zM488 503l-3-1-4-4-2-2-1-3 4 0 4 4 4 5-2 1zM712 496l-1 0 1-1 0 1zM542 506l-4-1-4-3-3-4 1-1 2 0 5 3 3 4 0 2zM258 502l-3-2-1-2 3 2 1 2zM108 517l0-1-2-6 0-9 2-2 1 9-1 9zM312 507l-4-3-2-4 2 1 2 2 2 3 0 1zM594 509l-6-3-3-4 1-1 5 3 3 4 0 1zM366 512l-6-4-2-5 2 1 4 2 2 4 0 2zM646 512l-5-2-3-5 2 1 3 2 3 2 0 2zM420 516l-4-1-3-3-3-4 0-2 2 1 5 3 3 4 0 2zM472 519l-2 0-5-3-3-4 0-2 4 0 4 4 3 4-1 1zM694 512l1 0-1 0zM696 513l-1-1 1 0 0 1zM524 523l-2-1-4-3-3-3 0-2 3-1 4 3 3 4 1 2-2 1zM242 519l-4-2 0-3 2 2 2 3zM296 524l-5-4-2-4 3 1 2 3 2 2 0 2zM578 526l-2-1-4-2-3-3-1-2 2-1 4 3 4 4 0 2zM146 538l-2-5-2-5-2-6 1-4 1 0 2 2 2 7 2 7 0 3-2 1zM350 528l-3 0-3-3-3-3 0-2 3 0 3 2 3 4 0 2zM404 532l-4 0-4-3-2-4-1-3 3 1 4 3 3 4 1 2zM630 528l-2 0-4-2-2-2 0-2 6 2 2 4zM456 536l-2-1-5-3-3-4 0-2 2 0 5 4 3 4 0 2zM680 530l-3-2 3 0 0 2zM508 539l-2-1-4-3-4-3 0-2 4 0 4 4 3 4-1 1zM226 536l-4-2-1-4 3 2 2 4zM280 541l-6-4-1-3-1-1 2 0 4 3 2 2 0 3zM562 542l-2 0-5-2-3-4 0-2 2 0 4 2 4 6zM334 545l-2-1-5-2-3-4 0-2 4 0 2 3 3 3 1 3zM612 545l-4-3-2-4 2 0 3 2 2 4-1 1zM386 549l-2-1-5-4-2-2-1-3 4 0 4 3 3 4-1 3zM440 552l-4-1-4-3-2-2-1-4 3 0 4 4 4 4 0 2zM664 546l-3-2 1 0 2 2zM108 563l-2-7 0-9 2-2 1 9-1 9zM492 556l-2-1-4-3-3-2-1-4 2 0 5 2 3 4 1 2-1 2zM208 552l-3-2-1-3 4 3 1 2-1 0zM264 557l-2 0-3-3-3-4 2-1 2 2 4 4 0 2zM544 559l-2-1-4-3-3-3 1-2 2 0 5 4 2 2-1 3zM318 561l-2 0-4-2-3-3-1-4 2 0 3 2 3 4 2 3zM596 561l-5-3-2-4 5 2 3 4-1 1zM370 565l-2 0-4-3-3-4-1-2 2-1 5 3 4 4-1 3zM424 569l-4-1-4-3-4-5 0-2 4 1 5 3 3 4 0 3zM648 563l-3-1-1-2 4 3zM476 572l-2 0-4-2-4-4-1-4 3 0 4 2 4 4 0 4zM192 569l-2-2-2-3 2 1 2 4zM148 584l-2-1-4-5-2-8 0-5 2 0 4 6 2 7 0 6zM248 574l-2 0-4-4-3-2 1-3 2 0 3 3 3 6zM528 575l-2-1-4-2-2-3-1-3 2 0 4 2 3 4 0 3zM300 578l-2-1-5-3-2-4 1-2 2 1 5 3 2 4-1 2zM354 582l-2-1-5-3-3-4-1-2 3 0 4 3 4 3 0 4zM580 578l-5-4-3-3 2 0 4 3 3 2-1 2zM408 585l-4 0-3-3-4-4-1-2 2-1 5 3 4 4 1 3zM630 579l-2-3 2 2 1 0-1 1zM460 589l-4-1-4-4-3-4 0-2 3 1 5 3 3 4 0 3zM230 591l-5-5-2-2-1-3 2 0 5 5 2 4-1 1zM512 592l-4-1-3-3-3-4 0-1 4 0 4 3 3 4-1 2zM284 595l-2-1-4-3-3-5-1-2 4 1 4 3 3 4-1 3zM338 598l-2 0-4-2-4-4-2-4 2 0 6 2 3 4 1 4zM564 594l-5-2-3-4 2-1 3 3 3 2 0 2zM390 602l-4-1-4-3-3-4 0-2 3-1 6 4 3 5 0 2-1 0zM108 609l-2-7 0-8 2-2 1 8-1 9zM614 596l-3-4 3 2 0 2zM444 605l-4 0-4-3-3-4-1-3 4 0 4 3 4 4 0 3zM214 607l-2-1-4-3-2-3 0-2 2 0 4 4 3 4-1 1zM496 608l-6-3-4-5 2-1 4 3 4 4 0 2zM268 611l-2 0-5-3-3-4 0-4 4 1 3 3 3 4 0 3zM548 611l-6-3-2-4 2 0 3 2 2 2 1 3zM322 615l-4-1-5-4-3-4 0-2 4 0 5 4 3 4 0 3zM374 618l-3 0-5-4-3-4 0-2 3 0 5 4 4 4 0 2-1 0zM598 612l-3-2-1-1 4 1 0 2zM148 630l-2-1-4-5-2-8 0-5 2 1 4 5 2 7 0 6zM426 622l-3-2-4-2-3-4 0-2 3 0 5 3 4 5 0 1-2 1zM198 624l-2-1-3-3-3-2 0-4 2 0 4 3 3 5-1 2zM478 625l-6-5-3-2 0-2 3 0 5 4 3 4-2 1zM252 628l-2-1-6-3-3-4 1-3 2 0 5 3 3 6 0 2zM306 632l-4-2-5-2-3-6 0-2 3 0 5 4 4 4 0 2 0 2zM532 627l-2 0-4-3-3-2 1-2 5 2 3 5zM358 635l-3-1-5-4-4-4 0-2 4 0 5 4 4 4-1 3zM582 629l-2-1-2-2 2 0 2 3zM410 638l-2-1-6-3-3-4 0-2 3 0 6 4 3 4-1 2zM182 640l-6-3-2-5 2-1 4 3 2 4 0 2zM464 641l-4 0-4-3-3-4 0-2 3 0 3 2 3 4 2 3zM236 645l-4-1-4-4-3-4-1-3 4 0 5 5 3 4 0 2 0 1zM290 648l-4 0-5-4-4-4 0-4 3 0 6 4 4 6 0 2zM514 644l-5-4-2-2-1-2 2 0 4 3 3 3-1 2zM108 656l0-1-2-7 0-8 2-2 1 8-1 10zM342 652l-4-2-5-4-3-4 0-2 4 1 5 3 4 6-1 1 0 1zM566 646l-4-2-1-2 1-1 3 3 1 0 0 2zM394 655l-4-1-4-4-3-4-1-2 4 0 5 4 3 4 1 2-1 1zM446 658l-3-2-4-2-3-4 0-2 4 0 4 4 3 4-1 2zM164 655l-2-1-3-4 1-1 2 2 2 4zM220 661l-4-1-4-3-4-5 0-2 2-1 6 5 4 4 0 2 0 1zM274 665l-4-1-6-3-4-5 0-4 4 1 5 3 4 6 1 3zM498 660l-5-2-3-4 0-2 2 1 4 3 3 2-1 2zM326 668l-2 0-6-4-5-4 0-4 3 0 5 4 5 4 0 4zM148 676l-2 0-4-6-2-8 0-5 2 1 4 6 2 6 0 6zM550 662l-4-2-2-2 5 2 1 2zM378 671l-3-1-5-2-3-4-1-4 2 0 6 4 4 4 0 3zM430 674l-2 0-5-4-3-4 0-2 2 0 5 4 3 4 0 2zM204 678l-4-1-4-4-4-5 0-2 4 0 4 4 4 6 0 2zM256 682l-4-2-5-4-3-4 0-3 4 0 6 5 4 6 0 1-2 1zM482 677l-2-1-4-2-2-4 0-1 2 0 4 3 2 2 0 3zM310 685l-4-1-6-4-4-4 0-4 4 1 6 3 4 6 1 2-1 1zM534 679l-5-3-1-2 5 2 1 3zM362 688l-2 0-6-4-4-4-1-4 3 0 6 4 4 4 0 4zM414 691l-2-1-5-2-4-4 0-4 3 1 4 3 4 4 0 3zM188 694l-4 0-4-4-4-4 0-4 2 1 6 3 4 6 0 2zM108 702l-2-8 0-8 2-2 1 8-1 10zM242 698l-4 0-6-3-4-5-2-5 4 0 5 3 5 6 2 4zM466 693l-2 0-3-1-3-4-2-3 2 0 4 2 4 3 0 3zM294 702l-4-1-6-5-4-4-1-4 5 1 6 5 4 4 0 2 0 2zM518 695l-5-1-1-2 0-2 3 2 3 3zM346 705l-4-1-6-4-3-4 0-4 3 1 6 4 4 5 0 2 0 1zM398 707l-2 0-6-3-3-4-1-4 4 1 4 3 3 4 1 3zM170 711l-3-1-5-4-3-4 1-3 2 0 6 5 3 4-1 3zM224 715l-4-1-5-4-4-4-1-4 2-1 2 0 6 5 5 6 1 2-2 1zM450 710l-7-4-3-2 0-2 2-1 5 3 3 4 0 2zM154 727l-4-1-6-5-3-11-1-6 2 0 2 4 4 10 6 6 0 2 0 1zM278 718l-4 0-6-4-5-6-1-3 2-1 2 1 7 5 4 4 1 2 0 2zM502 712l-4-2-3-2-1-2 4 2 4 4zM330 721l-4-1-6-4-4-4 0-2 0-2 4 1 6 5 4 4 0 2 0 1zM382 724l-4-1-5-3-3-4 0-3 2 0 6 3 4 6 0 2zM208 732l-4-2-6-4-4-4-1-4 1-1 4 1 6 4 5 6 0 2-1 2zM434 727l-7-3-3-4-1-2 3 0 4 2 4 4 0 3zM262 735l-4-1-6-4-5-4-1-5 0-1 2 1 8 4 5 5 1 4 0 1zM484 729l-4-3-2-4 2 0 3 2 2 4-1 1zM314 738l-6-1-5-5-4-4 1-3 4 0 6 5 4 4 0 2 0 2zM366 741l-4-1-5-4-3-4-1-2 3-1 5 3 5 6 0 2 0 1zM108 748l-2-8 0-7 2-2 1 7-1 10zM192 748l-4 0-6-5-5-5-1-4 1 0 5 0 6 5 5 5 0 2-1 2zM418 743l-4-1-4-2-3-4 0-2 3 0 4 3 3 3 1 3zM136 742l-6-4-2-2 0-2 4 0 3 4 2 2-1 2zM246 752l-4-1-6-4-6-5-1-4 1-2 2 1 8 5 5 6 1 2 0 2zM468 745l-5-3-1-2-1-2 6 4 2 2-1 1zM298 755l-5-1-6-4-4-6-1-3 4 0 7 5 5 6 0 2 0 1zM350 757l-4-1-5-2-4-6-1-2 4-1 5 5 5 4 0 3zM120 759l-2-1-4-2-2-6 2 0 4 3 2 3 0 3zM160 782l-4-1-4-3-7-8-1-4-4-10 0-6 2 1 2 3 3 6 1 6 6 5 5 5 2 4-1 2zM176 765l-4-1-6-4-5-6-1-4 4 0 8 5 5 7-1 3zM402 760l-4-1-5-3-3-4 0-2 4 0 4 4 3 4 1 2zM228 769l-5-3-7-4-3-6-1-3 6 1 7 6 5 6 0 2-2 1zM452 762l-6-3-1-3-1-1 3 1 3 2 3 2-1 2zM282 771l-4 0-7-5-4-4-1-5 4 0 6 5 5 6 1 2 0 1zM334 774l-4 0-6-4-4-6-1-2 3-1 6 4 5 5 1 4zM384 776l-2-1-5-3-3-4 0-2 2 0 6 4 3 4-1 2zM104 776l-4-2 0-7 4 5 1 2-1 2zM214 785l-2 0-4-1-6-4-6-6 0-5 2 0 2 1 8 4 5 6 1 4 0 1zM436 778l-4-2-4-4 2-1 2 1 4 6zM266 788l-4-1-7-3-5-6-1-4 3-1 7 5 6 6 1 4zM108 795l0-1-2-6 0-9 2-2 1 9-1 9zM316 790l-4-1-6-4-3-5-1-2 1 0 5 0 5 4 4 6 0 2-1 0zM148 815l-2 0-2-4-4-13-6-4-4-4-3-4 1-3 2 0 4 2 6 4 4 5 1 2-1 2 4 12 0 5zM368 793l-8-5-3-4 0-2 3 1 5 3 4 4-1 2 0 1zM196 802l-5-2-7-4-5-6 0-4 1-1 4 1 8 6 5 6 1 2-2 2zM420 794l-4-1-4-5 3 0 3 4 2 2zM248 805l-6-2-6-5-4-6 0-2 2-1 4 1 7 6 4 6 0 2-1 1zM300 807l-4-2-6-3-4-6 0-2 4 1 7 5 4 4-1 2 0 1zM128 815l-2 0-2-1-8-4-5-8-1-4 2 0 4 1 6 5 6 6 0 5zM352 808l-4 0-3-2-3-4-1-2 1-1 5 3 4 4 1 2zM180 819l-5-1-7-6-6-6 0-2 0-2 2-1 4 1 8 6 5 6 1 4-2 1zM232 821l-4-1-7-4-5-6 0-4 4 0 7 4 5 6 1 2-1 3zM400 809l-2-1-2-3 4 1 1 2-1 1zM282 823l-4-2-4-3-4-4 0-4 4 1 6 5 4 4 0 2-2 1zM108 841l-2-11-6-4 0-10 7 6 5 6 0 4-3 0-1 9zM334 823l-2 0-3-1-3-4-1-2 3 0 2 2 4 5zM200 854l-4 0-5-4-9-9-11-3-5-3-4 0-6-3-9-8-2-4 0-2 3-1 8 5 7 6 3 6 4 0 5 0 7 4 4 0 4 2 9 8 1 4 0 2zM232 841l-4 0-4 0-14-5-9-8-2-2 0-4 1-1 6 2 5 5 5 6 11 2 3 2 2 3zM278 841l-8 0-8-3-7-6-1-4 4 0 8 6 9 4 3 2 0 1zM148 862l-2 0-2-2-4-10-10-9-7-3-3-4 2-1 6 1 2-1 2 1 6 2 6 5 4 5 2 4-1 2-2 0 1 6 0 4zM324 841l-4 0-7-1-6-4-2-2 3 0 9 2 6 2 1 2 0 1zM370 841l-4 0-7-1-6-4-2-2 4 0 8 2 6 2 1 3zM416 841l-4 0-6-1-7-4-1-2 4 0 8 2 6 2 1 2-1 1zM462 841l-4 0-6-1-6-4-2-2 4 0 8 2 6 2 1 2-1 1zM510 841l-4 0-8-1-6-4-2-2 4 0 8 2 6 2 2 3zM556 841l-4 0-7-1-7-4-1-2 3 0 9 2 6 2 1 2 0 1zM602 841l-2 0-8-1-7-4-2-2 3-1 6 2 8 3 2 3zM648 841l-4 0-7-1-6-4-2-2 4 0 8 2 6 2 1 3zM694 841l-4 0-6-1-7-4-1-2 4 0 8 2 6 2 1 2-1 1zM742 841l-4 0-8-1-6-4-2-2 4-1 8 2 6 3 2 3zM248 854l-2-1-4-3-4-4 0-2 2 0 5 4 4 4-1 2zM132 869l-6-2-7-5-6-6-1-6 2-1 2 1 10 6 6 8 1 2-1 3zM184 871l-6-1-8-6-5-6 0-2 1-2 5 0 8 6 5 8 1 2-1 1zM232 870l-4-1-4-3-2-4 0-2 4 1 4 4 2 3 0 2zM116 884l-9 0-1-2-6-6 0-10 8 4 4 4 4 6 1 4-1 0zM168 884l-11 0-7-9-10-1 8-2 2-2 4 0 8 6 5 6 1 2zM204 875l-10 0-8-1 3-2 8 0 7 2 0 1zM250 875l-8 0-9-1 3-2 8 0 6 2 0 1zM296 875l-8 0-9-1 3-2 8 0 6 2 0 1zM342 875l-8 0-8-1 2-2 8 0 7 2-1 1zM390 875l-10 0-8-1 2-2 8 0 7 2 1 1zM436 875l-10 0-8-1 3-2 7 0 7 2 1 1zM482 875l-10 0-7-1 2-2 9 0 6 2 0 1zM528 875l-8 0-9-1 3-2 8 0 6 2 0 1zM574 875l-8 0-9-1 3-2 8 0 6 2 0 1zM620 875l-8 0-8-1 2-2 8 0 7 2-1 1zM668 875l-10 0-8-1 3-2 7 0 7 2 1 1zM714 875l-10 0-8-1 3-2 8 0 7 2 0 1zM746 875l-3-1 3-2 0 3zM216 884l-8 0-3-4-1-4 2 0 4 2 6 6z"/>
<path fill="#4490cb" fill-opacity="0.5" fill-rule="evenodd" d="M232 640l-3-2 2 0 1 2zM284 644l-2-2-1-2 3 2 1 2-1 0zM338 647l-2-1-2-2 2 0 2 3zM216 657l-4-3 0-1 3 1 1 2 0 1zM270 661l-4-1-2-4 2 0 1 2 3 3zM322 664l-4-2 0-2 3 2 1 2zM200 674l-4-2-1-2 1-1 4 3 0 2zM254 678l-4-2-3-4 1 0 3 2 3 2 0 2zM306 681l-5-3-1-2 5 2 1 2 0 1zM358 684l-3-2-1-2 3 2 1 2zM184 691l-4-3-1-2 1 0 3 2 1 3zM238 695l-4-1-3-2-1-4 3 0 4 4 1 2 0 1zM290 698l-2 0-2-2-3-2 0-2 5 2 2 4zM342 701l-4-2-1-3 1 0 2 2 2 2 0 1zM166 706l-2-1 0-1 2 2zM222 712l-7-4-2-2 0-2 3 1 4 3 2 2 0 2zM274 715l-2 0-3-3-3-2 0-2 2 0 4 2 3 4-1 1zM326 718l-3-2-3-4 4 1 2 5zM206 729l-2 0-4-3-4-4 0-2 7 2 2 4 1 3zM258 732l-2 0-4-2-2-4-1-2 3 0 4 2 3 4-1 2zM310 735l-2 0-2-2-4-5 2 0 4 2 2 2 0 3zM362 737l-3-1-1-3 2 1 2 3zM190 746l-2 0-5-4-3-4 0-2 2 0 4 3 4 3 0 4zM242 749l-2 0-5-3-3-4 0-2 2-1 5 3 4 4 0 2-1 1zM294 752l-2 0-4-3-2-3 0-2 2 0 4 2 2 4 0 2zM346 754l-5-2-1-2 0-1 4 2 2 3zM174 763l-4-1-4-4-2-2-1-4 3 0 5 4 3 4 0 3zM226 766l-2 0-5-4-4-4 0-2 3-1 5 3 4 6 0 2-1 0zM278 769l-2-1-4-2-3-4-1-2 3 0 4 2 4 4-1 3zM330 771l-6-3-1-4 5 3 2 3 0 1zM158 779l-4 0-4-3-3-4-1-3 4 0 5 3 3 4 0 2 0 1zM210 783l-4-1-4-4-4-4 0-2 4 0 5 4 4 4 0 2-1 1zM262 786l-4-2-4-4-2-2 0-2 4 0 4 4 3 4-1 1 0 1zM314 787l-2 0-4-3-1-2-1-1 6 2 1 3 1 1zM142 796l-4 0-4-4-4-4 0-3 2 0 6 3 4 6 0 2zM194 800l-4-1-4-4-5-5 0-2 3-1 7 5 4 4 1 2-2 2zM246 802l-2 0-5-4-4-4-1-2 1 0 3 0 5 4 3 4 0 2zM296 803l-4-2-2-3 2-1 2 2 3 3-1 1zM126 813l-4 0-4-4-5-5-1-4 4 1 5 3 5 6 0 3zM178 817l-4-1-6-4-4-6 0-2 4 0 6 4 5 6 1 2-2 1zM230 819l-4-2-5-3-3-4 0-2 4 1 5 3 3 4 0 3zM280 819l-4-1-2-4 2 0 2 1 2 4zM110 830l-2 0-8-5 0-8 8 7 3 4-1 2zM162 834l-4-2-6-4-4-4-1-4 1-1 4 1 7 4 4 6 1 2-2 2zM214 835l-4-1-5-4-4-4 1-2 3 0 5 4 4 4 0 3zM146 851l-4-2-7-5-4-4-1-4 2-1 2 0 8 5 6 8 0 2-2 1zM198 852l-4-1-5-3-4-6-1-2 4 0 5 4 4 4 1 4zM132 867l-4 0-8-5-5-6-2-2 0-2 5-1 6 5 6 6 2 5zM182 869l-6-1-5-4-4-6 0-2 5 0 6 4 4 6 0 2 0 1zM114 884l-3 0-3-2-8-6 0-9 6 3 6 6 3 4 1 2-2 2zM166 884l-7 0-1-1-7-7-1-2 0-2 4 0 5 2 5 6 2 4zM212 883l-3-3 3 2 0 1z"/>
<path fill="#4282c5" fill-opacity="0.5" fill-rule="evenodd" d="M222 762l-2-2 0-1 2 1 0 2zM152 775l0-2 1 1-1 1zM208 780l-4-2-3-4 1 0 4 2 2 2 0 2zM138 793l-3-1-2-2 1-2 3 2 1 3zM192 797l-6-3-2-4 4 1 3 3 1 2 0 1zM124 811l-3-1-4-2-2-4 1-1 6 3 2 3 0 2zM176 814l-2 0-4-2-3-4 0-2 3 0 3 2 3 4 0 2zM224 814l-1-2 2 0 0 2-1 0zM108 828l-4-1-4-4 0-5 6 6 2 2 0 2zM160 832l-3-2-4-2-3-4 0-3 2 0 6 4 3 3 0 2-1 2zM210 831l-2-1-2-2 4 3zM144 849l-4-2-5-3-3-4 0-3 4 1 6 4 4 4 0 2-2 1zM194 849l-4-3-2-2 0-1 4 1 2 4 0 1zM130 865l-4 0-6-3-4-6 0-3 3 1 5 2 5 6 1 3zM178 867l-5-3-3-6 2 0 4 2 3 4 1 2-2 1zM114 882l-2 0-2 0-7-4-3-5 0-4 4 1 5 4 4 4 1 4zM164 884l-3 0-4-4-3-2-2-4 2 0 6 2 3 4 1 2 0 2z"/>
<path fill="#3876c1" fill-opacity="0.5" fill-rule="evenodd" d="M156 827l-2-1 0-1 2 1 0 1zM156 828l0-1 0 1zM142 846l-2 0-2-2-2-2-1-2 5 2 2 4zM126 863l-2 0-3-3-3-2 0-2 2 0 4 2 2 2 0 3zM110 880l-2 0-4-3-3-3 0-2 3-1 4 3 3 4-1 2z"/></g></g>
<rect x="97.6" y="234" width="650.2" height="651.2" fill="none" stroke="#1a1a1a" stroke-width="2.9"/>
<rect x="770.5" y="235.5" width="30.6" height="648.7" fill="url(#gcb)" stroke="#444" stroke-width="1"/>
<path d="M793 316.6H801M793 397.7H801M793 478.8H801M793 559.9H801M793 640.9H801M793 722.0H801M793 803.1H801" stroke="#444" stroke-width="1"/>
<line x1="1343.6" y1="5.4" x2="1343.6" y2="397.8" stroke="#1a1a1a" stroke-width="3.6"/>
<defs><clipPath id="cc"><rect x="953.4" y="7.3" width="779.6" height="388.6"/></clipPath></defs><g clip-path="url(#cc)"><path d="M1039.1 398.3L1040.1 396.8 1036.5 394.8 1021.8 393.2 1018.9 393.5 1015.9 395.1 1015.0 396.8 1015.8 398.3M1090.2 398.3L1091.1 396.8 1088.8 395.4 1086.6 394.8 1079.2 394.5 1071.9 396.6 1066.0 394.4 1063.0 394.1 1059.0 395.4 1058.1 396.8 1059.5 398.3M1069.6 398.3L1071.9 397.2 1074.3 398.3M1122.4 398.3L1127.2 396.8 1126.1 395.4 1121.9 394.4 1108.7 393.8 1101.6 395.4 1100.7 396.8 1103.6 398.3M1151.4 398.3L1152.8 396.8 1151.4 395.4 1148.1 393.9 1144.0 393.3 1141.0 393.6 1137.2 395.4 1135.8 396.8 1137.0 398.3M1216.7 398.3L1218.4 396.8 1218.1 393.9 1219.9 390.9 1218.2 389.5 1214.6 388.7 1210.2 389.2 1206.7 390.9 1202.8 391.7 1189.6 391.7 1176.3 393.2 1171.9 394.8 1166.0 394.4 1163.0 395.4 1161.8 396.8 1163.8 398.3M1236.5 398.3L1238.5 396.8 1234.3 395.4 1230.8 394.8 1227.0 395.4 1225.4 396.8 1228.1 398.3M1311.3 398.3L1312.6 396.8 1312.0 395.4 1310.2 394.4 1307.3 394.2 1301.4 395.9 1288.2 392.2 1279.3 393.0 1273.5 391.4 1269.0 392.3 1257.3 391.7 1252.9 392.0 1247.0 393.7 1241.2 396.8 1242.8 398.3M1299.6 398.3L1301.4 397.4 1304.7 398.3M1356.1 398.3L1356.9 396.8 1356.0 395.4 1354.4 394.4 1343.7 392.4 1342.6 390.9 1342.7 388.0 1342.0 385.0 1339.8 382.1 1338.2 381.5 1336.4 382.1 1333.9 385.0 1333.3 388.0 1333.9 390.9 1333.4 392.4 1325.0 394.5 1323.9 395.4 1323.6 396.8 1324.9 398.3M1527.2 398.3L1529.9 396.8 1529.3 395.4 1526.9 393.9 1523.6 393.1 1513.3 392.8 1495.7 396.1 1485.4 394.2 1476.3 390.9 1475.1 388.4 1473.9 383.6 1475.2 374.7 1473.1 358.5 1475.1 342.4 1476.6 337.8 1478.8 336.4 1488.3 333.6 1497.1 333.0 1503.0 333.4 1507.4 335.6 1510.4 336.2 1516.3 336.0 1525.1 334.1 1533.9 333.8 1536.9 334.3 1541.3 336.3 1548.6 337.0 1557.5 336.6 1566.3 333.7 1575.1 333.4 1582.5 334.5 1589.8 333.1 1597.2 333.4 1600.1 332.2 1602.0 330.5 1603.8 327.5 1603.7 324.6 1601.7 321.6 1600.1 320.5 1594.2 319.0 1591.3 319.0 1587.9 320.2 1583.9 320.6 1575.1 319.0 1570.7 319.8 1561.9 319.2 1556.0 320.5 1548.6 317.8 1544.2 317.4 1539.8 318.1 1536.0 320.2 1533.9 320.6 1525.3 320.2 1516.3 318.5 1506.0 318.4 1500.1 321.3 1492.7 322.3 1489.8 321.5 1485.4 318.5 1478.0 317.4 1475.7 315.7 1474.5 312.8 1473.9 298.0 1471.9 289.2 1471.8 284.8 1472.6 281.8 1473.6 280.3 1476.5 278.7 1485.4 279.6 1488.3 278.6 1491.3 274.4 1492.6 270.0 1491.2 267.1 1488.3 265.9 1485.4 265.8 1479.1 261.2 1473.5 253.8 1472.6 250.8 1473.6 250.3 1475.8 250.8 1478.0 253.7 1480.1 255.3 1488.3 258.7 1492.7 259.9 1494.0 262.6 1494.9 268.5 1500.1 275.8 1502.1 280.3 1506.0 292.1 1506.8 298.0 1511.8 306.9 1514.8 309.2 1516.6 308.4 1517.5 305.4 1516.6 299.5 1516.3 292.1 1514.2 280.3 1514.0 275.9 1514.8 274.8 1519.2 274.5 1525.1 276.6 1529.5 277.2 1539.8 276.6 1544.5 274.4 1544.4 273.0 1536.9 269.3 1531.3 268.5 1542.7 267.2 1544.2 267.2 1547.6 268.5 1549.2 270.0 1549.2 271.5 1548.0 273.0 1548.7 274.4 1553.0 276.2 1567.8 277.2 1576.6 276.4 1578.3 275.9 1579.6 274.4 1577.8 271.5 1573.6 268.1 1566.3 264.9 1558.7 262.6 1554.5 260.3 1547.2 254.9 1532.4 246.9 1523.6 244.2 1515.5 243.5 1509.5 240.5 1509.2 236.1 1507.6 233.2 1499.7 227.3 1496.6 218.4 1493.1 212.5 1492.7 210.1 1492.7 199.6 1494.2 197.9 1495.7 199.2 1500.1 205.6 1504.5 209.0 1506.0 203.9 1506.5 200.7 1506.4 196.3 1504.1 188.9 1502.3 174.2 1498.6 167.3 1497.1 166.2 1494.2 167.3 1491.2 166.9 1488.3 164.8 1486.9 162.4 1487.1 160.9 1488.0 159.4 1491.2 158.4 1494.1 159.4 1498.6 162.6 1504.2 156.5 1505.0 155.0 1504.5 153.5 1495.7 148.2 1492.6 144.7 1489.8 142.7 1480.2 140.3 1475.1 138.0 1473.6 139.4 1472.8 143.2 1474.1 160.9 1473.4 168.3 1472.1 171.3 1469.2 171.3 1467.7 172.7 1467.2 175.7 1468.4 181.5 1472.1 191.5 1474.2 199.2 1474.2 202.2 1472.4 209.6 1472.0 221.4 1472.5 224.3 1475.1 226.8 1476.5 227.1 1479.5 226.6 1480.5 227.3 1483.0 231.7 1482.4 232.7 1480.9 232.5 1464.8 226.6 1454.5 226.9 1447.1 225.0 1438.3 226.3 1436.8 227.1 1436.2 228.7 1436.4 230.2 1437.6 231.7 1445.6 234.2 1452.3 240.5 1463.5 246.4 1464.8 247.8 1461.8 250.6 1458.9 256.7 1456.2 259.7 1453.0 262.7 1448.6 264.8 1445.6 265.2 1438.3 264.6 1430.9 266.5 1425.0 267.1 1423.6 266.9 1420.6 265.3 1418.1 262.6 1416.5 259.7 1416.6 255.3 1418.9 249.4 1419.7 243.5 1419.9 239.1 1418.5 228.7 1420.2 215.5 1419.8 211.0 1418.3 205.1 1418.7 197.8 1416.7 191.9 1416.5 188.9 1418.6 180.1 1417.4 175.7 1417.3 172.7 1420.0 163.9 1420.4 159.4 1419.4 143.2 1417.3 140.3 1413.3 139.0 1408.8 140.1 1406.5 141.7 1405.6 143.2 1405.1 150.6 1403.0 158.0 1402.1 163.9 1402.1 169.8 1404.6 177.1 1404.7 184.5 1406.7 193.3 1405.9 196.6 1402.9 200.7 1402.1 203.7 1404.6 214.0 1404.9 219.9 1404.1 227.3 1404.9 233.2 1403.2 242.0 1403.4 250.8 1401.5 260.1 1398.8 262.6 1389.7 265.9 1385.3 266.5 1377.9 266.0 1370.6 263.1 1354.4 264.7 1347.0 263.5 1344.1 264.8 1342.1 268.5 1341.6 271.5 1342.0 274.4 1343.3 275.9 1345.6 277.0 1355.8 278.9 1361.7 280.9 1366.2 281.5 1377.9 280.9 1385.3 278.5 1388.2 278.5 1392.6 280.9 1398.5 282.7 1400.0 284.0 1400.9 286.2 1401.6 290.7 1401.7 299.5 1405.2 306.9 1406.1 312.8 1405.9 314.3 1404.4 316.2 1398.5 322.0 1397.1 322.9 1389.7 321.2 1380.9 321.8 1367.6 318.6 1363.2 318.5 1354.4 320.3 1345.6 321.3 1342.9 323.1 1341.4 326.0 1341.2 329.0 1341.8 331.9 1344.1 334.6 1345.6 335.2 1351.4 335.1 1360.3 336.0 1369.1 335.6 1376.5 334.4 1389.7 334.2 1400.0 337.3 1403.0 339.3 1404.4 341.4 1405.2 345.2 1403.3 355.5 1404.5 362.9 1403.7 370.3 1409.4 380.6 1407.1 385.0 1405.9 390.9 1404.1 392.4 1401.5 392.9 1394.1 392.4 1388.2 393.2 1377.9 393.3 1373.6 395.4 1372.4 396.8 1373.4 398.3M1438.9 398.3L1439.2 396.8 1438.2 395.4 1433.9 392.5 1430.9 391.8 1422.1 391.9 1418.5 390.9 1412.6 382.1 1412.2 380.6 1412.9 379.1 1418.7 371.8 1419.4 368.8 1416.4 360.0 1417.3 351.1 1415.5 345.2 1415.5 342.3 1417.8 336.4 1419.1 334.9 1422.1 333.4 1432.1 333.4 1439.7 335.8 1450.0 334.7 1454.5 336.3 1456.9 339.3 1458.4 346.7 1457.9 376.2 1459.2 383.6 1459.1 389.5 1458.6 390.9 1457.0 392.4 1450.0 394.1 1447.7 395.4 1446.5 396.8 1446.9 398.3M1489.4 398.3L1495.7 397.5 1499.3 398.3M1542.8 398.3L1546.8 396.8 1539.8 395.2 1538.0 395.4 1534.7 396.8 1538.9 398.3M1625.8 398.3L1629.4 396.8 1626.6 395.4 1617.8 393.6 1610.4 393.2 1600.1 393.6 1592.8 392.9 1582.5 395.2 1573.6 393.3 1567.8 392.8 1560.4 393.4 1551.1 396.8 1554.0 398.3M1651.3 398.3L1656.3 396.8 1654.6 395.3 1644.3 394.2 1637.3 395.4 1634.6 396.8 1639.1 398.3M1687.6 398.3L1689.0 396.8 1688.3 395.4 1684.0 394.1 1681.1 394.4 1678.4 395.4 1677.4 396.8 1679.6 398.3M1273.5 376.7L1272.5 377.7 1272.4 379.1 1273.5 384.3 1274.9 387.1 1276.4 385.3 1276.7 383.6 1276.4 381.9 1273.5 376.7M1366.2 351.0L1364.7 350.5 1361.7 350.7 1359.0 352.6 1357.4 355.5 1357.7 360.0 1361.7 365.9 1364.0 371.8 1366.2 374.7 1370.6 377.2 1373.5 377.4 1377.1 368.8 1377.5 365.9 1375.0 361.4 1372.0 358.1 1368.3 352.6 1366.2 351.0M1272.0 352.5L1270.5 352.7 1269.0 353.8 1268.3 355.5 1268.3 361.4 1266.9 365.9 1268.0 370.3 1272.0 374.8 1273.2 370.3 1274.1 362.9 1276.0 357.0 1274.9 354.1 1272.0 352.5M1520.7 350.6L1519.2 350.9 1517.7 352.8 1517.8 355.5 1519.2 357.0 1520.7 357.1 1522.1 356.3 1523.2 354.1 1522.1 351.4 1520.7 350.6M1551.6 345.9L1548.6 345.7 1547.5 346.7 1547.0 348.2 1547.2 349.6 1548.6 351.3 1551.6 351.7 1553.0 350.2 1553.2 348.2 1551.6 345.9M1276.4 321.1L1273.5 320.6 1267.6 321.4 1263.2 320.8 1261.9 321.6 1261.3 323.1 1262.2 324.6 1266.1 327.1 1270.5 332.8 1273.5 333.2 1276.4 332.1 1277.9 330.7 1279.2 327.5 1279.1 324.6 1278.5 323.1 1276.4 321.1M1194.0 329.0L1193.0 330.5 1194.0 330.9 1194.7 330.5 1194.0 329.0M1223.4 322.9L1219.0 322.6 1216.1 323.3 1213.9 324.6 1213.1 326.0 1213.5 327.5 1217.5 329.4 1223.4 329.0 1227.1 326.0 1226.9 324.6 1223.4 322.9M1307.3 327.3L1305.8 326.1 1303.5 327.5 1304.3 329.0 1305.8 329.0 1307.3 327.3M1648.7 318.6L1645.7 318.8 1643.1 321.6 1642.4 326.0 1642.8 328.1 1644.3 329.6 1645.7 329.3 1647.2 328.2 1650.3 323.1 1650.8 321.6 1650.6 320.2 1648.7 318.6M1326.4 322.7L1325.4 324.6 1326.4 327.5 1327.9 326.4 1328.1 324.6 1326.4 322.7M1452.5 278.9L1455.9 280.2 1458.9 282.9 1460.2 284.8 1461.0 287.7 1460.4 292.1 1457.1 302.5 1458.2 311.3 1456.7 315.7 1455.3 317.2 1452.2 318.7 1442.7 320.3 1437.6 320.2 1429.4 318.4 1423.6 318.6 1420.6 317.6 1416.7 312.8 1415.3 308.4 1416.3 305.4 1419.8 299.5 1420.0 295.1 1418.2 287.7 1420.4 283.3 1422.1 281.7 1426.5 279.9 1435.3 281.0 1444.1 278.9 1452.5 278.9M1439.7 292.6L1436.8 292.8 1434.4 295.1 1433.4 298.0 1433.6 301.0 1434.5 302.5 1436.8 304.3 1439.7 305.7 1442.7 305.8 1444.8 303.9 1445.3 301.0 1442.1 295.1 1439.7 292.6M1569.2 289.4L1567.8 289.6 1567.0 290.7 1566.9 292.1 1567.8 293.2 1569.2 293.0 1569.9 292.1 1570.1 290.7 1569.2 289.4M1539.8 281.7L1538.3 282.2 1537.1 284.8 1538.2 287.7 1539.8 288.5 1541.6 287.7 1542.5 284.8 1541.3 282.4 1539.8 281.7M1277.9 241.8L1276.4 241.5 1273.5 242.7 1270.5 246.5 1269.8 249.4 1270.0 256.7 1268.7 264.1 1268.7 268.5 1270.2 277.4 1271.5 280.3 1274.9 284.5 1276.4 284.2 1276.8 283.3 1278.0 277.4 1277.7 270.0 1275.8 259.7 1275.7 256.7 1279.3 252.3 1280.4 249.4 1279.6 245.0 1277.9 241.8M1598.7 277.0L1595.7 276.0 1594.2 276.2 1591.7 277.4 1591.2 278.9 1592.1 280.3 1594.2 281.8 1598.7 282.4 1600.4 281.8 1600.8 280.3 1598.7 277.0M1199.9 250.4L1198.4 250.3 1196.9 251.3 1196.3 252.3 1196.4 253.8 1198.4 256.2 1201.4 257.9 1202.1 261.2 1203.9 264.1 1217.5 278.5 1219.0 279.2 1221.0 278.9 1222.3 277.4 1222.0 275.9 1213.9 262.6 1208.7 258.0 1203.0 255.3 1202.0 252.3 1199.9 250.4M1179.3 272.8L1177.8 273.4 1177.0 274.4 1176.9 275.9 1177.8 277.2 1179.3 277.9 1180.8 277.4 1181.7 275.9 1181.6 274.4 1179.3 272.8M1332.3 275.8L1327.9 274.7 1324.1 275.9 1327.9 276.6 1332.3 275.8M1513.1 262.6L1519.2 265.1 1527.1 267.1 1526.6 268.0 1525.1 268.4 1514.8 269.0 1513.3 267.6 1511.4 262.6 1511.8 262.1 1513.1 262.6M1585.4 247.7L1582.5 247.6 1580.4 249.4 1580.0 252.3 1580.7 255.3 1583.6 259.7 1588.4 264.3 1591.3 266.3 1594.2 266.6 1595.3 265.6 1595.7 262.6 1593.9 256.7 1590.1 250.8 1588.4 249.2 1585.4 247.7M1704.6 254.8L1701.7 253.8 1700.2 254.0 1698.7 254.7 1697.1 256.7 1696.8 258.2 1697.3 259.7 1698.7 261.8 1700.2 262.9 1703.1 263.1 1708.6 259.7 1709.0 258.2 1704.6 254.8M1192.5 245.9L1191.1 245.4 1190.7 246.4 1191.1 246.9 1192.5 246.7 1192.5 245.9M1575.1 236.1L1570.7 235.4 1563.3 236.3 1557.5 235.9 1550.1 237.2 1542.7 236.2 1537.6 237.6 1535.5 239.1 1536.9 239.7 1541.3 239.8 1550.1 239.6 1556.0 241.0 1564.8 239.9 1572.2 240.5 1576.4 239.1 1577.0 237.6 1575.1 236.1M1619.3 237.3L1614.8 236.6 1609.0 237.4 1600.1 236.4 1595.3 237.6 1593.3 239.1 1596.6 240.5 1600.1 241.1 1614.8 241.1 1621.9 239.1 1620.4 237.6 1619.3 237.3M1663.4 235.9L1647.2 235.1 1643.9 236.1 1642.4 237.6 1642.3 239.1 1644.3 240.7 1647.2 241.4 1663.4 241.3 1665.5 240.5 1666.3 239.1 1665.8 237.6 1663.4 235.9M1617.8 205.1L1617.4 206.6 1617.8 207.2 1619.3 206.8 1619.3 206.0 1617.8 205.1M1482.9 168.3L1484.2 174.2 1487.0 181.5 1486.9 184.5 1485.8 188.9 1485.9 196.3 1485.4 198.6 1483.9 195.1 1482.9 190.4 1479.3 184.5 1478.8 181.5 1479.1 178.6 1482.4 167.5 1482.9 168.3M1579.5 169.5L1578.1 169.6 1576.2 171.2 1576.4 174.2 1578.1 175.6 1579.5 175.6 1581.0 174.5 1581.7 172.7 1581.0 170.4 1579.5 169.5M1594.2 156.2L1592.6 158.0 1592.8 159.7 1594.2 160.6 1595.7 159.6 1596.1 158.0 1594.2 156.2M1604.5 142.3L1602.8 143.2 1603.1 145.1 1604.5 145.7 1605.7 144.7 1605.8 143.2 1604.5 142.3M1619.3 111.9L1616.3 111.5 1614.8 112.0 1612.8 113.7 1609.8 121.1 1609.5 124.0 1611.9 129.2 1614.8 132.1 1617.8 132.8 1622.2 133.0 1625.1 131.6 1626.5 129.9 1627.6 127.0 1627.4 122.6 1625.1 116.3 1622.2 113.4 1619.3 111.9M1422.1 95.8L1420.6 95.6 1417.7 96.5 1415.0 99.0 1414.3 100.5 1414.1 101.9 1415.1 104.9 1419.1 108.7 1420.6 108.7 1422.1 107.5 1424.7 101.9 1424.8 99.0 1423.6 96.8 1422.1 95.8M1653.1 90.6L1652.7 91.6 1653.1 91.9 1653.1 90.6M1494.2 74.8L1492.7 74.9 1489.8 76.5 1487.4 79.8 1487.1 81.3 1487.5 82.8 1489.6 84.2 1492.7 85.0 1495.7 84.9 1497.1 84.1 1498.0 82.8 1497.6 78.3 1495.7 75.5 1494.2 74.8M1529.5 69.4L1528.0 68.9 1526.6 69.4 1525.3 71.0 1525.3 73.9 1526.6 75.4 1528.0 75.7 1530.4 73.9 1530.6 71.0 1529.5 69.4M1492.7 51.4L1491.2 50.5 1489.8 50.6 1488.4 51.8 1487.7 53.3 1487.8 54.7 1489.8 57.0 1491.2 57.1 1492.7 56.2 1493.5 54.7 1493.6 53.3 1492.7 51.4M1480.9 22.0L1478.9 23.8 1479.5 26.1 1480.9 27.0 1482.4 26.3 1483.0 25.3 1482.4 22.8 1480.9 22.0" fill="none" stroke="#2b33ff" stroke-width="1.25" stroke-linejoin="round"/>
<path d="M1023.8 398.3L1025.2 396.8 1021.8 395.6 1019.1 396.8 1020.1 398.3M1144.4 398.3L1146.4 396.8 1144.0 395.8 1141.1 396.8 1143.0 398.3M1214.0 398.3L1214.3 396.8 1213.5 395.4 1210.2 393.3 1192.5 392.8 1176.3 394.3 1173.8 395.4 1172.4 396.8 1172.5 398.3M1293.2 398.3L1293.7 396.8 1292.2 395.4 1288.2 393.6 1279.3 394.0 1273.5 393.2 1255.8 393.0 1251.0 393.9 1248.3 395.4 1247.1 396.8 1247.7 398.3M1350.4 398.3L1352.0 396.8 1345.6 394.5 1339.7 393.3 1338.2 393.6 1333.4 396.8 1335.3 397.5 1335.7 398.3M1382.5 398.3L1385.2 396.8 1380.9 395.6 1378.4 396.8 1380.7 398.3M1437.3 398.3L1437.3 396.8 1436.4 395.4 1433.9 393.6 1430.9 393.0 1422.1 393.1 1417.7 392.5 1411.8 389.4 1407.7 392.4 1404.4 393.4 1392.6 394.0 1390.0 395.4 1388.6 396.8 1389.5 398.3M1483.7 398.3L1483.9 396.8 1482.4 395.1 1479.5 393.7 1474.0 392.4 1471.8 390.9 1470.2 386.5 1469.8 382.1 1471.8 374.7 1470.8 360.0 1471.0 349.6 1472.7 337.8 1473.5 336.4 1478.0 332.4 1484.9 330.5 1487.6 329.0 1488.9 327.5 1488.5 326.0 1485.4 322.5 1482.4 321.0 1476.5 320.0 1473.3 317.2 1471.0 314.3 1470.3 298.0 1468.1 290.7 1467.8 287.7 1470.4 281.8 1473.6 277.5 1476.5 276.0 1483.9 276.7 1486.8 276.1 1488.7 274.4 1489.8 271.5 1489.5 270.0 1488.3 268.7 1485.4 268.1 1484.0 265.6 1479.9 262.6 1477.0 259.7 1470.6 251.0 1469.2 247.3 1477.6 249.4 1480.9 252.8 1483.9 254.9 1494.2 259.0 1497.2 268.5 1502.4 277.4 1506.0 286.1 1511.8 293.9 1512.6 292.1 1512.8 287.7 1511.7 270.0 1511.2 267.1 1507.4 258.2 1522.1 263.4 1531.0 264.9 1541.3 264.6 1544.2 265.2 1549.5 267.1 1564.8 275.1 1567.8 275.3 1573.6 274.4 1575.6 273.0 1574.9 271.5 1570.6 268.5 1552.5 262.6 1550.1 261.4 1547.2 258.2 1541.3 255.2 1533.1 249.4 1529.5 247.9 1515.1 245.0 1507.4 241.2 1505.3 236.1 1498.6 229.4 1494.6 218.4 1491.3 212.5 1490.9 203.7 1489.8 198.6 1488.3 197.8 1486.6 200.7 1485.4 201.6 1481.9 196.3 1479.5 190.0 1476.5 187.3 1475.4 188.9 1475.4 190.4 1477.1 200.7 1477.4 208.1 1478.3 214.0 1478.0 216.2 1476.5 216.2 1475.2 221.4 1476.5 223.7 1478.0 223.7 1479.5 222.3 1480.9 223.8 1484.5 231.7 1484.8 233.2 1484.1 234.6 1479.5 233.8 1463.3 228.8 1458.9 228.9 1451.2 230.2 1449.6 231.7 1449.9 233.2 1451.9 236.1 1455.0 239.1 1464.8 245.2 1465.8 246.4 1464.8 249.3 1461.8 254.2 1456.9 259.7 1450.0 265.6 1448.6 268.1 1445.6 268.4 1438.3 267.7 1426.5 269.5 1422.1 267.4 1415.9 261.2 1414.9 259.7 1414.0 256.7 1414.4 253.8 1416.3 247.9 1416.8 242.0 1415.4 222.8 1416.4 214.0 1414.8 206.6 1415.7 197.8 1414.0 191.9 1413.8 188.9 1414.9 183.0 1414.4 175.7 1417.5 160.9 1416.7 156.5 1413.3 146.8 1411.8 144.4 1410.3 144.7 1406.3 155.0 1404.1 166.8 1404.5 169.8 1407.1 177.1 1407.4 184.5 1409.6 191.9 1409.3 194.8 1406.7 203.7 1408.0 221.4 1406.9 227.3 1406.6 234.6 1405.5 242.0 1405.7 250.8 1404.3 261.2 1401.6 264.1 1400.0 265.0 1391.2 268.1 1386.8 269.0 1379.4 268.7 1370.6 266.9 1354.4 268.3 1347.0 267.8 1345.2 270.0 1345.4 273.0 1348.5 274.8 1367.6 277.3 1379.4 277.1 1386.8 275.5 1394.1 277.1 1398.6 277.4 1401.5 279.4 1404.0 283.3 1404.0 298.0 1407.4 304.1 1408.8 305.8 1410.3 306.6 1411.8 305.8 1414.7 302.4 1417.0 298.0 1416.8 295.1 1414.6 289.2 1414.8 284.8 1422.1 277.6 1426.5 276.1 1435.3 277.4 1442.7 275.9 1454.5 276.1 1457.4 277.8 1462.0 281.8 1464.4 284.8 1465.4 287.7 1465.1 290.7 1461.2 301.0 1461.1 303.9 1462.5 309.8 1462.2 312.8 1460.5 315.7 1455.9 320.2 1451.5 321.8 1441.2 322.9 1436.8 322.8 1429.4 321.6 1423.6 322.5 1420.6 321.5 1419.1 320.2 1414.7 315.7 1410.3 310.0 1408.8 310.4 1405.9 315.2 1401.6 320.2 1395.6 324.8 1392.6 325.4 1379.4 326.2 1375.0 325.4 1366.2 322.2 1361.7 322.0 1347.0 323.9 1345.6 325.0 1344.7 327.5 1345.6 329.8 1347.0 330.7 1358.8 331.6 1369.1 331.0 1377.9 329.2 1389.7 330.3 1401.5 335.4 1404.4 337.8 1410.3 344.7 1416.4 336.4 1419.4 333.4 1423.6 330.5 1432.4 330.5 1439.7 332.2 1448.6 331.0 1454.5 331.9 1460.3 337.8 1460.6 339.3 1461.1 346.7 1460.9 374.7 1462.3 389.5 1461.1 392.4 1459.2 393.9 1451.5 395.7 1449.9 396.8 1450.2 398.3M1518.8 398.3L1522.0 396.8 1520.4 395.4 1516.3 394.9 1513.1 395.4 1511.8 396.8 1515.2 398.3M1573.4 398.3L1574.4 396.8 1572.6 395.4 1567.8 394.6 1562.8 395.4 1561.1 396.8 1562.3 398.3M1339.7 384.3L1338.2 383.7 1336.7 384.5 1335.7 386.5 1335.9 389.5 1338.2 391.5 1339.7 390.7 1340.9 388.0 1340.8 386.5 1339.7 384.3M1411.8 349.3L1410.3 348.8 1408.7 351.1 1408.2 354.1 1408.2 361.4 1407.2 367.3 1407.7 371.8 1408.8 373.5 1410.3 374.4 1411.8 374.4 1413.3 373.5 1414.7 371.8 1415.9 368.8 1415.6 365.9 1413.5 360.0 1413.0 352.6 1411.8 349.3M1363.2 355.5L1361.7 356.2 1361.0 358.5 1361.5 360.0 1362.9 361.4 1364.7 361.9 1365.3 361.4 1365.0 357.0 1363.2 355.5M1550.1 321.6L1547.2 320.5 1544.2 320.5 1538.3 323.3 1535.4 324.0 1519.2 320.9 1514.8 320.8 1506.0 322.3 1494.9 326.0 1493.1 327.5 1494.3 329.0 1495.7 329.4 1504.5 330.0 1513.3 332.9 1517.7 332.9 1536.9 330.2 1541.3 331.3 1545.7 333.7 1550.1 334.5 1556.0 333.6 1561.9 330.7 1569.2 330.5 1573.6 329.6 1582.5 331.9 1597.2 331.5 1600.1 329.9 1601.5 327.5 1601.2 324.6 1599.9 323.1 1597.2 322.0 1589.8 322.0 1573.6 323.6 1564.8 322.1 1561.9 322.7 1557.5 325.1 1554.5 324.4 1550.1 321.6M1439.7 299.5L1439.1 299.5 1439.7 299.5M1273.5 264.1L1272.0 263.9 1271.1 268.5 1272.0 274.4 1273.5 277.3 1274.9 277.2 1275.5 273.0 1274.9 267.8 1273.5 264.1M1533.9 271.5L1528.0 270.5 1523.9 271.5 1524.3 273.0 1526.2 274.4 1531.0 275.1 1534.5 274.4 1535.3 273.0 1533.9 271.5M1207.2 258.9L1205.8 258.6 1204.3 259.5 1204.3 261.8 1208.7 266.3 1211.7 268.1 1212.8 267.1 1211.9 264.1 1208.5 259.7 1207.2 258.9M1585.4 248.9L1583.9 248.6 1581.9 249.4 1581.0 252.3 1581.7 255.3 1583.4 258.2 1586.9 262.1 1589.8 264.3 1592.8 265.0 1593.8 264.1 1594.2 262.6 1593.3 258.2 1589.7 252.3 1585.4 248.9M1703.1 256.2L1701.7 255.9 1699.6 256.7 1698.9 258.2 1700.2 260.3 1701.7 260.9 1703.1 260.7 1704.7 259.7 1705.4 258.2 1703.1 256.2M1492.7 172.6L1489.8 171.3 1488.3 171.7 1487.9 172.7 1488.0 175.7 1490.1 183.0 1490.4 188.9 1491.2 190.6 1497.1 192.7 1498.3 190.4 1499.4 184.5 1499.4 177.1 1498.6 175.3 1497.1 174.0 1492.7 172.6M1486.8 143.1L1483.9 142.3 1479.5 142.2 1478.0 142.3 1476.1 143.2 1475.2 146.2 1475.6 153.5 1476.5 157.3 1478.0 159.1 1483.9 158.5 1488.3 156.1 1490.8 153.5 1491.1 149.1 1490.4 146.2 1489.2 144.7 1486.8 143.1M1619.3 114.9L1616.3 114.9 1614.8 115.8 1613.2 118.1 1611.9 122.6 1612.4 125.5 1614.6 128.5 1616.3 129.6 1619.3 130.2 1622.2 129.6 1623.7 128.6 1624.7 127.0 1625.1 124.0 1624.7 121.1 1623.5 118.1 1622.2 116.6 1619.3 114.9M1491.2 52.4L1489.8 52.6 1489.3 53.3 1489.8 55.0 1491.6 54.7 1491.9 53.3 1491.2 52.4" fill="none" stroke="#44b4f8" stroke-width="1.25" stroke-linejoin="round"/>
<path d="M1212.4 398.3L1211.7 396.0 1208.7 394.5 1192.5 394.1 1176.3 395.3 1174.1 396.8 1173.9 398.3M1290.9 398.3L1290.8 396.8 1289.6 395.5 1286.7 394.6 1257.3 394.2 1254.3 394.4 1252.0 395.4 1250.8 396.8 1250.8 398.3M1345.9 398.3L1345.6 396.7 1344.1 395.9 1341.1 395.7 1338.8 396.8 1338.8 398.3M1435.9 398.3L1435.7 396.8 1434.5 395.4 1432.4 394.4 1420.6 394.2 1411.8 393.2 1403.0 394.7 1394.1 394.9 1391.6 396.8 1391.5 398.3M1481.6 398.3L1481.5 396.8 1479.5 395.2 1466.2 393.2 1463.3 393.9 1460.9 395.4 1459.8 396.8 1460.1 398.3M1466.2 309.4L1464.8 312.5 1462.2 315.7 1455.9 321.9 1450.6 326.0 1449.7 327.5 1454.4 330.5 1459.2 334.9 1463.3 340.0 1466.2 345.2 1467.4 343.7 1467.7 342.3 1473.4 334.9 1478.0 330.6 1482.7 327.5 1480.9 325.1 1476.5 321.9 1470.2 315.7 1466.2 309.4M1410.3 311.4L1408.8 312.3 1402.7 320.2 1399.4 323.1 1394.8 326.0 1393.7 327.5 1404.1 336.4 1408.8 341.9 1410.3 342.7 1413.3 338.5 1418.1 333.4 1422.1 330.1 1426.3 327.5 1425.5 326.0 1421.1 323.1 1416.4 318.7 1410.3 311.4M1519.2 323.1L1514.8 323.3 1511.8 324.4 1509.9 326.0 1510.0 327.5 1513.3 329.9 1517.7 330.7 1525.1 329.6 1529.1 327.5 1528.7 326.0 1525.9 324.6 1519.2 323.1M1595.7 324.2L1589.8 323.9 1583.9 324.4 1580.2 326.0 1579.9 327.5 1581.4 329.0 1583.9 329.9 1595.7 329.6 1597.4 329.0 1598.8 327.5 1598.7 326.0 1595.7 324.2M1410.3 294.1L1409.2 295.1 1409.0 296.6 1410.3 298.3 1411.9 296.6 1410.3 294.1M1410.3 255.0L1404.4 263.0 1394.0 271.5 1394.8 273.0 1399.3 275.9 1404.0 280.3 1410.3 288.7 1411.8 287.5 1416.1 281.8 1426.2 273.0 1427.0 271.5 1422.3 268.5 1418.9 265.6 1414.7 260.9 1411.8 256.2 1410.3 255.0M1467.7 246.5L1466.2 247.8 1464.1 252.3 1460.8 256.7 1451.3 265.6 1450.5 267.1 1457.6 273.0 1463.8 280.3 1466.2 284.0 1467.7 285.0 1473.6 276.1 1478.0 271.5 1483.6 267.1 1482.5 265.6 1478.0 262.1 1474.6 258.2 1470.5 252.3 1467.7 246.5M1480.9 202.1L1480.2 203.7 1479.9 206.6 1481.8 219.9 1486.8 234.7 1485.4 236.3 1483.9 236.4 1461.8 231.3 1457.4 232.4 1456.4 233.2 1456.2 234.6 1458.5 237.6 1466.2 243.1 1479.5 248.0 1481.5 249.4 1484.0 252.3 1488.3 255.0 1494.2 256.3 1496.7 261.2 1499.2 268.5 1507.4 282.2 1508.9 283.1 1509.7 280.3 1509.2 270.0 1505.3 256.7 1506.0 256.2 1520.7 260.4 1529.5 261.7 1536.6 261.2 1538.9 259.7 1538.5 258.2 1535.4 254.8 1531.0 251.8 1514.8 246.5 1504.5 242.0 1502.7 237.6 1498.4 233.2 1493.3 219.9 1488.2 211.0 1487.9 209.6 1483.9 203.4 1482.4 202.2 1480.9 202.1M1566.3 269.7L1563.8 270.0 1564.7 271.5 1566.3 272.1 1569.3 271.5 1567.7 270.0 1566.3 269.7M1585.4 250.3L1583.9 250.1 1582.5 251.2 1582.2 252.3 1582.8 255.3 1586.9 260.9 1589.8 262.9 1591.3 263.2 1592.2 262.6 1592.7 261.2 1592.1 258.2 1589.6 253.8 1585.4 250.3M1411.8 228.6L1410.3 228.8 1409.5 230.2 1408.3 236.1 1408.5 243.5 1410.3 247.2 1411.8 246.7 1412.6 245.0 1413.8 239.1 1413.3 231.7 1411.8 228.6M1411.8 155.7L1410.3 155.5 1408.8 157.1 1406.7 165.3 1406.8 168.3 1407.6 171.2 1408.8 173.5 1410.3 174.8 1411.8 174.1 1413.3 171.2 1414.4 165.3 1413.9 159.4 1411.8 155.7M1486.8 144.6L1482.4 143.6 1479.5 144.3 1478.0 145.5 1477.1 147.6 1477.1 150.6 1478.1 153.5 1479.5 155.2 1480.9 155.9 1483.9 156.0 1486.8 154.7 1488.3 153.2 1489.4 150.6 1489.3 147.6 1486.8 144.6M1620.7 119.4L1619.3 118.4 1617.8 118.2 1615.6 119.6 1614.6 122.6 1614.8 124.1 1616.3 126.0 1619.3 126.7 1621.2 125.5 1622.0 122.6 1620.7 119.4" fill="none" stroke="#cdef3a" stroke-width="1.25" stroke-linejoin="round"/>
<path d="M1211.3 398.3L1211.1 396.8 1208.7 395.4 1192.5 394.8 1177.8 395.9 1175.4 396.8 1174.9 398.3M1289.9 398.3L1289.6 396.8 1286.7 395.5 1260.2 395.0 1254.3 395.3 1252.3 396.8 1252.1 398.3M1434.9 398.3L1434.7 396.8 1432.4 395.2 1411.8 394.3 1403.0 395.5 1394.1 395.9 1392.8 396.8 1392.5 398.3M1480.0 398.3L1479.6 396.8 1478.0 396.1 1466.2 394.9 1463.3 395.5 1461.7 396.8 1461.7 398.3M1466.2 311.1L1463.3 315.8 1455.9 323.1 1452.0 326.0 1451.3 327.5 1455.8 330.5 1460.3 334.8 1463.8 339.3 1466.2 343.8 1468.7 339.3 1472.2 334.9 1476.8 330.5 1481.2 327.5 1480.5 326.0 1470.4 317.2 1467.7 313.9 1466.2 311.1M1410.3 312.7L1408.8 313.6 1403.0 321.1 1396.1 326.0 1395.0 327.5 1405.3 336.4 1408.8 340.6 1410.3 341.3 1417.7 332.8 1424.9 327.5 1424.0 326.0 1416.2 319.7 1410.3 312.7M1519.2 324.6L1514.8 325.4 1513.8 326.0 1513.7 327.5 1516.3 329.0 1519.2 329.2 1522.1 328.7 1524.5 327.5 1524.2 326.0 1519.2 324.6M1592.8 325.7L1585.4 325.8 1584.5 326.0 1583.7 327.5 1585.4 328.3 1588.4 328.7 1594.7 327.5 1594.1 326.0 1592.8 325.7M1410.3 256.5L1404.4 264.1 1395.4 271.5 1396.3 273.0 1403.7 278.9 1410.3 287.2 1411.8 286.1 1416.2 280.6 1424.8 273.0 1425.6 271.5 1422.1 269.3 1417.8 265.6 1411.8 257.7 1410.3 256.5M1467.7 248.2L1466.2 249.6 1464.1 253.8 1461.8 256.9 1452.4 265.6 1451.7 267.1 1458.7 273.0 1466.2 282.5 1467.7 283.5 1473.6 274.8 1478.2 270.0 1482.1 267.1 1473.5 258.2 1470.3 253.8 1467.7 248.2M1483.9 207.9L1482.5 209.6 1483.1 218.4 1487.9 236.1 1485.4 237.8 1464.8 234.0 1461.8 234.6 1461.7 236.1 1462.7 237.6 1465.9 240.5 1469.2 242.5 1482.7 247.9 1484.8 250.8 1488.3 253.4 1491.2 254.5 1494.2 254.7 1497.4 259.7 1500.8 268.5 1503.0 271.7 1506.0 274.0 1507.2 271.5 1507.2 268.5 1504.0 256.7 1503.7 255.3 1504.5 254.6 1523.6 259.2 1529.5 259.5 1533.0 258.2 1533.0 256.7 1532.0 255.3 1529.5 253.5 1503.0 242.5 1501.3 239.1 1497.6 234.6 1491.1 218.4 1483.9 207.9M1586.9 252.2L1585.4 251.4 1583.9 251.5 1583.3 252.3 1583.6 255.3 1585.3 258.2 1588.4 261.1 1589.8 261.8 1591.3 261.3 1591.6 259.7 1590.6 256.7 1586.9 252.2M1410.3 235.9L1410.3 237.8 1410.7 236.1 1410.3 235.9M1410.3 160.6L1408.8 163.2 1408.4 166.8 1408.8 169.1 1410.3 171.0 1412.0 169.8 1412.8 165.3 1411.8 161.0 1410.3 160.6M1483.9 144.5L1480.9 144.9 1479.2 146.2 1478.4 147.6 1478.8 152.1 1480.9 154.2 1482.4 154.7 1485.4 154.3 1486.4 153.5 1488.4 150.6 1488.2 147.6 1487.4 146.2 1483.9 144.5" fill="none" stroke="#ffa31f" stroke-width="1.25" stroke-linejoin="round"/>
<path d="M1210.5 398.3L1210.0 396.8 1208.7 396.2 1192.5 395.5 1177.8 396.6 1177.0 396.8 1176.0 398.3M1288.9 398.3L1288.4 396.8 1286.7 396.2 1261.7 395.7 1254.3 396.2 1253.4 396.8 1253.0 398.3M1434.2 398.3L1433.8 396.8 1430.9 395.6 1411.8 395.0 1403.0 396.2 1395.6 396.3 1394.0 396.8 1393.5 398.3M1477.3 398.3L1472.2 396.8 1466.2 396.2 1463.6 396.8 1463.5 398.3M1466.2 312.6L1463.3 317.0 1453.4 326.0 1452.7 327.5 1457.2 330.5 1460.3 333.5 1463.8 337.8 1466.2 342.4 1468.8 337.8 1472.1 333.7 1475.5 330.5 1479.8 327.5 1479.1 326.0 1469.3 317.2 1466.2 312.6M1410.3 314.0L1408.8 315.0 1403.6 321.6 1397.5 326.0 1396.3 327.5 1405.9 335.8 1408.8 339.3 1410.3 340.0 1416.2 333.1 1423.5 327.5 1422.6 326.0 1415.5 320.2 1410.3 314.0M1410.3 257.8L1405.5 264.1 1396.6 271.5 1397.6 273.0 1404.9 278.9 1410.3 285.8 1411.8 284.8 1416.2 279.4 1423.5 273.0 1424.3 271.5 1417.7 266.5 1411.8 259.0 1410.3 257.8M1467.7 250.1L1466.2 251.5 1461.8 258.2 1453.6 265.6 1452.8 267.1 1458.9 272.0 1466.2 281.1 1467.7 281.9 1473.6 273.5 1480.6 267.1 1472.3 258.2 1467.7 250.1M1486.8 215.0L1485.4 214.6 1484.6 218.4 1485.3 222.8 1489.2 236.1 1488.3 237.5 1486.8 238.8 1485.4 238.8 1469.2 236.4 1466.9 237.6 1467.6 239.1 1472.0 242.0 1483.9 247.4 1488.3 252.0 1491.2 253.2 1494.9 253.8 1498.7 259.7 1501.5 266.9 1503.0 268.8 1504.5 269.4 1505.3 267.1 1502.8 256.7 1502.4 253.8 1503.0 253.3 1522.1 257.4 1525.1 257.5 1528.1 256.7 1527.9 255.3 1523.4 252.3 1506.3 245.0 1501.5 243.5 1500.1 240.0 1496.9 236.1 1495.1 230.2 1491.2 221.2 1489.8 218.4 1486.8 215.0M1586.9 253.1L1585.4 252.4 1584.1 253.8 1584.4 255.3 1586.9 259.1 1588.4 260.2 1589.8 260.6 1590.5 259.7 1589.9 256.7 1586.9 253.1M1485.4 145.5L1482.4 145.3 1480.5 146.2 1479.4 147.6 1479.3 150.6 1480.9 153.0 1483.9 153.8 1486.8 152.1 1487.6 150.6 1487.5 147.6 1485.4 145.5" fill="none" stroke="#ff3414" stroke-width="1.25" stroke-linejoin="round"/>
<path d="M1209.0 398.3L1206.9 396.8 1192.5 396.3 1184.4 396.8 1178.8 398.3M1287.2 398.3L1285.2 397.3 1279.3 397.8 1273.1 396.8 1261.7 396.5 1255.8 396.7 1254.3 398.3M1433.0 398.3L1432.4 396.9 1430.9 396.5 1411.8 396.0 1405.3 396.8 1401.5 397.9 1395.5 398.3M1466.2 314.8L1463.3 318.8 1455.5 326.0 1454.9 327.5 1458.9 330.2 1461.8 333.1 1464.8 337.1 1466.2 340.2 1470.6 333.4 1477.7 327.5 1477.1 326.0 1469.0 318.7 1466.2 314.8M1410.3 315.9L1408.8 316.9 1404.4 322.4 1398.1 327.5 1405.9 334.2 1408.8 337.5 1410.3 338.2 1415.7 331.9 1421.5 327.5 1420.7 326.0 1415.3 321.6 1410.3 315.9M1411.8 260.8L1410.3 259.7 1405.9 265.3 1398.4 271.5 1399.4 273.0 1405.9 278.2 1410.3 283.8 1421.7 273.0 1422.3 271.5 1416.6 267.1 1411.8 260.8M1467.7 252.8L1466.2 254.0 1462.2 259.7 1455.2 265.6 1454.5 267.1 1460.0 271.5 1466.2 279.1 1467.7 279.8 1472.4 273.0 1478.5 267.1 1471.8 259.7 1467.7 252.8M1586.9 254.5L1585.4 255.3 1586.9 257.7 1588.4 258.7 1588.9 258.2 1588.7 256.7 1586.9 254.5M1488.3 220.7L1487.6 221.4 1487.7 224.3 1490.9 237.6 1486.8 240.3 1480.9 240.0 1476.5 240.5 1477.7 242.0 1485.4 246.4 1487.5 249.4 1489.8 251.1 1492.7 251.8 1495.7 251.7 1498.6 256.1 1500.1 257.0 1500.7 252.3 1501.5 251.7 1508.9 253.2 1516.3 253.0 1516.7 252.3 1509.8 247.9 1499.6 243.5 1498.2 240.5 1496.0 237.6 1492.7 228.1 1489.8 222.4 1488.3 220.7M1483.9 146.0L1482.4 146.2 1480.9 147.1 1480.1 149.1 1480.9 151.5 1482.4 152.6 1485.4 152.2 1486.7 150.6 1486.9 149.1 1486.5 147.6 1483.9 146.0" fill="none" stroke="#8c0a0a" stroke-width="1.25" stroke-linejoin="round"/>
<path d="M1416.1 398.3L1411.8 397.7 1409.7 398.3M1466.2 317.3L1458.1 326.0 1457.6 327.5 1463.1 331.9 1466.2 337.1 1469.7 331.9 1475.1 327.5 1474.5 326.0 1468.3 320.2 1466.2 317.3M1410.3 318.3L1408.8 319.3 1405.8 323.1 1400.4 327.5 1408.8 335.1 1410.3 335.8 1413.5 331.9 1419.0 327.5 1418.2 326.0 1414.7 323.1 1410.3 318.3M1410.3 262.2L1407.4 265.9 1400.6 271.5 1401.6 273.0 1407.1 277.4 1410.3 281.3 1411.8 280.5 1419.4 273.0 1420.0 271.5 1416.1 268.5 1410.3 262.2M1467.7 256.1L1466.2 257.1 1461.8 262.3 1457.4 265.6 1456.7 267.1 1460.6 270.0 1466.2 276.7 1467.7 277.3 1471.7 271.5 1475.9 267.1 1470.8 261.2 1467.7 256.1M1494.2 239.7L1491.2 239.9 1488.3 242.4 1485.4 242.8 1484.8 243.5 1486.8 245.0 1488.7 247.9 1491.2 249.7 1494.2 249.8 1497.1 248.9 1504.5 250.8 1508.0 250.8 1508.1 249.4 1506.0 247.9 1498.6 245.7 1497.8 245.0 1496.8 242.0 1494.2 239.7M1483.9 147.0L1481.9 147.6 1481.2 149.1 1482.4 151.3 1483.9 151.6 1485.4 150.8 1485.9 149.1 1485.3 147.6 1483.9 147.0" fill="none" stroke="#840707" stroke-width="1.25" stroke-linejoin="round"/>
<path d="M1410.3 321.1L1403.0 327.5 1410.3 333.0 1412.5 330.5 1416.4 327.5 1415.6 326.0 1410.3 321.1M1466.2 319.9L1461.2 326.0 1460.9 327.5 1464.5 330.5 1466.2 333.3 1468.4 330.5 1472.3 327.5 1471.9 326.0 1466.2 319.9M1410.3 265.0L1407.4 268.2 1402.9 271.5 1410.3 278.7 1411.8 278.0 1416.8 273.0 1417.4 271.5 1410.3 265.0M1467.7 259.6L1460.1 265.6 1459.2 267.1 1462.8 270.0 1466.2 274.1 1467.7 274.6 1473.3 267.1 1467.7 259.6M1492.7 241.8L1491.2 242.2 1490.0 243.5 1489.6 245.0 1490.1 246.4 1492.7 248.0 1494.2 247.6 1495.3 246.4 1495.6 245.0 1494.2 242.3 1492.7 241.8M1483.9 148.2L1482.3 149.1 1483.9 150.5 1484.7 149.1 1483.9 148.2" fill="none" stroke="#7c0505" stroke-width="1.25" stroke-linejoin="round"/>
<path d="M1410.3 324.5L1407.0 327.5 1410.3 329.6 1413.0 327.5 1410.3 324.5M1466.2 322.9L1464.6 326.0 1464.7 327.5 1466.2 329.0 1468.9 327.5 1468.7 326.0 1466.2 322.9M1410.3 267.9L1405.6 271.5 1410.3 276.1 1411.8 275.4 1414.1 273.0 1414.6 271.5 1410.3 267.9M1467.7 263.2L1466.2 263.5 1463.2 265.6 1462.1 267.1 1466.2 271.4 1467.7 271.8 1470.7 267.1 1467.7 263.2" fill="none" stroke="#760303" stroke-width="1.25" stroke-linejoin="round"/></g>
<path d="M1049.3 397.8v-16.0M1049.3 5.4v16.0M1147.4 397.8v-16.0M1147.4 5.4v16.0M1245.5 397.8v-16.0M1245.5 5.4v16.0M1441.7 397.8v-16.0M1441.7 5.4v16.0M1539.8 397.8v-16.0M1539.8 5.4v16.0M1637.9 397.8v-16.0M1637.9 5.4v16.0" stroke="#1a1a1a" stroke-width="3.2" fill="none"/>
<path d="M1343.6 300.0h17.0M1343.6 201.7h17.0M1343.6 103.4h17.0" stroke="#1a1a1a" stroke-width="3.2" fill="none"/>
<rect x="951.5" y="5.4" width="783.4" height="392.4" fill="none" stroke="#1a1a1a" stroke-width="3.8"/>
<defs><clipPath id="cd"><rect x="944.8" y="489" width="1792.4" height="393.5"/></clipPath></defs><g clip-path="url(#cd)"><path d="M1497.4 884.1L1497.0 882.9 1495.5 881.6 1488.8 878.5 1477.6 877.2 1468.9 876.9 1464.1 875.4 1464.2 874.2 1466.5 870.5 1468.5 864.3 1469.4 858.1 1469.1 846.9 1471.4 833.3 1473.9 828.3 1477.6 824.8 1480.1 823.6 1493.8 820.5 1548.5 818.0 1554.4 817.1 1553.0 815.9 1548.5 815.2 1487.6 812.3 1480.0 809.7 1473.3 803.5 1471.6 801.0 1469.6 789.9 1469.0 781.2 1466.4 773.2 1465.2 771.7 1462.7 770.4 1460.2 770.8 1459.0 771.8 1456.7 776.2 1454.7 782.4 1453.9 789.9 1451.7 794.8 1451.4 797.3 1450.2 799.9 1448.4 799.8 1448.0 798.5 1448.6 794.8 1447.8 794.0 1439.1 790.0 1435.3 789.1 1426.6 790.1 1424.1 788.8 1421.6 785.6 1420.8 781.2 1421.6 776.1 1424.1 772.0 1428.1 770.0 1432.6 768.8 1440.3 767.3 1446.5 767.2 1450.2 766.5 1453.9 763.8 1455.7 760.1 1454.0 757.4 1450.2 755.1 1435.0 752.7 1425.4 750.2 1420.8 746.5 1416.9 741.5 1414.9 732.8 1412.3 677.0 1411.7 672.8 1410.5 671.4 1409.6 677.0 1406.7 736.8 1405.5 741.8 1401.7 746.4 1393.8 751.4 1389.3 752.9 1371.9 755.1 1368.2 757.1 1365.2 760.1 1365.3 761.3 1366.9 763.2 1371.9 765.8 1393.0 769.6 1396.6 771.3 1398.1 773.7 1400.5 781.2 1400.5 783.7 1399.3 787.4 1396.8 788.8 1390.5 790.1 1388.1 789.8 1384.3 787.4 1381.8 786.6 1375.6 787.3 1370.6 789.1 1364.4 782.6 1361.4 784.9 1358.2 788.8 1352.0 789.3 1347.8 792.3 1347.2 793.6 1347.5 794.8 1351.3 798.5 1352.0 799.8 1351.7 801.0 1350.8 801.7 1347.0 801.4 1343.3 802.4 1340.8 802.4 1337.3 801.0 1335.2 799.8 1334.2 798.5 1335.1 797.3 1340.8 793.7 1344.2 792.3 1344.3 789.9 1342.5 784.9 1338.4 779.9 1338.2 777.5 1339.2 773.7 1338.6 772.5 1332.1 765.6 1329.7 766.3 1329.1 768.8 1332.1 772.0 1332.6 773.7 1332.4 777.5 1330.0 782.4 1334.0 786.1 1335.3 788.6 1333.3 797.3 1330.8 795.5 1329.9 793.6 1329.2 783.7 1328.3 782.4 1325.4 781.2 1324.5 779.9 1324.6 778.2 1328.0 773.7 1328.2 770.0 1327.5 768.8 1320.9 762.9 1317.2 762.5 1309.7 766.0 1304.7 765.5 1299.8 768.9 1296.0 769.2 1287.3 771.8 1285.0 773.7 1284.4 777.5 1289.8 783.7 1291.0 784.3 1292.3 784.2 1299.8 780.6 1300.5 779.9 1300.8 775.0 1301.9 772.5 1306.0 770.7 1307.2 771.1 1307.7 772.5 1307.6 778.7 1305.4 782.4 1303.7 787.4 1301.0 789.1 1293.5 790.8 1288.6 793.2 1286.1 800.9 1284.8 802.4 1283.6 802.9 1280.5 802.3 1279.7 801.0 1279.0 794.8 1277.4 793.7 1276.1 794.1 1273.6 798.1 1273.2 799.8 1273.6 801.3 1276.4 803.5 1276.9 804.7 1277.4 811.0 1276.1 810.9 1271.0 807.2 1268.7 806.2 1262.4 807.9 1257.5 805.3 1253.7 807.1 1251.7 809.7 1251.0 813.4 1252.6 819.6 1252.5 823.3 1254.5 828.3 1254.7 832.0 1254.1 833.3 1252.5 834.2 1251.2 833.9 1247.5 830.4 1243.8 829.1 1242.5 829.4 1240.9 834.5 1241.9 839.5 1236.8 845.7 1235.3 851.9 1231.3 852.0 1228.9 853.1 1225.5 855.6 1224.8 856.8 1225.1 859.3 1227.4 861.8 1227.6 863.0 1226.9 864.3 1221.4 867.6 1218.9 868.0 1216.4 867.5 1215.2 868.1 1214.0 870.5 1213.8 874.2 1212.9 875.4 1210.4 876.7 1205.2 878.0 1195.3 878.0 1190.3 878.6 1184.1 881.3 1182.8 882.9 1182.5 884.1M1450.6 833.3L1451.8 837.0 1451.8 841.9 1454.5 849.4 1454.1 855.6 1455.0 868.0 1456.5 871.0 1460.5 874.2 1461.1 875.4 1457.7 876.4 1451.5 875.8 1448.2 874.2 1447.2 872.9 1447.6 866.7 1450.7 861.8 1450.4 860.5 1447.8 856.9 1440.3 852.7 1438.7 850.6 1439.9 843.2 1438.8 839.5 1439.1 837.3 1440.3 837.3 1441.5 838.2 1442.5 840.7 1446.5 841.8 1448.1 840.7 1445.2 837.0 1445.4 835.7 1449.0 832.6 1450.6 833.3M1344.8 828.3L1347.0 830.0 1349.5 834.5 1352.1 837.0 1352.7 838.2 1352.0 840.1 1347.0 845.7 1347.7 850.6 1345.8 855.6 1344.1 858.1 1342.0 859.0 1340.8 857.5 1339.1 850.6 1339.6 847.9 1342.6 843.2 1340.0 839.5 1339.4 837.0 1339.7 835.7 1342.3 832.0 1343.3 828.7 1344.8 828.3M1434.4 830.8L1436.0 832.0 1436.5 834.5 1434.1 835.1 1431.7 834.5 1431.2 833.3 1431.7 832.0 1434.4 830.8M1312.4 787.4L1313.4 789.9 1313.1 792.3 1311.0 795.1 1308.5 796.0 1307.2 795.2 1306.3 793.6 1306.0 789.9 1307.2 788.2 1309.7 786.9 1311.0 786.7 1312.4 787.4M1304.7 757.4L1301.5 757.6 1300.0 760.1 1301.4 761.3 1304.7 762.1 1306.2 760.1 1306.0 758.6 1304.7 757.4M1332.1 753.7L1330.5 753.9 1329.7 755.1 1330.7 757.6 1332.1 758.3 1333.3 757.6 1333.6 756.4 1333.3 754.9 1332.1 753.7M1492.4 884.1L1491.3 882.3 1488.8 881.0 1477.6 878.8 1452.7 878.6 1439.1 876.7 1432.8 876.9 1426.0 874.2 1424.3 870.5 1425.4 867.8 1427.9 865.5 1436.5 861.8 1433.4 859.3 1430.4 855.6 1425.4 853.8 1421.5 845.7 1420.9 839.5 1421.8 833.3 1420.2 828.3 1420.5 825.8 1421.5 824.6 1424.1 823.9 1436.6 824.4 1442.8 826.7 1446.5 826.1 1449.0 826.3 1452.7 828.4 1454.1 830.8 1455.4 837.0 1455.5 843.2 1456.8 849.4 1456.4 855.6 1457.9 866.7 1459.0 869.4 1461.4 870.7 1462.7 870.6 1463.9 869.7 1467.0 863.0 1467.8 856.8 1467.3 846.9 1469.2 833.3 1471.4 827.6 1475.1 823.3 1478.9 821.8 1495.0 819.3 1543.5 817.9 1551.6 817.1 1549.2 815.9 1544.8 815.4 1488.3 813.4 1477.1 810.9 1472.6 806.8 1470.1 803.5 1467.6 789.9 1467.5 782.4 1465.1 776.2 1462.7 773.8 1460.2 775.0 1457.1 779.9 1456.2 783.7 1456.2 789.9 1455.1 797.3 1453.9 801.0 1451.5 804.1 1447.8 805.5 1441.5 805.0 1432.8 806.7 1422.9 805.9 1420.2 804.7 1419.4 803.5 1419.0 801.0 1420.3 791.1 1418.5 782.4 1419.5 776.2 1421.6 770.8 1424.1 768.8 1431.6 767.0 1440.3 765.5 1447.9 765.1 1450.4 763.8 1452.2 761.3 1452.5 760.1 1450.8 757.6 1447.8 756.4 1425.1 752.7 1419.2 749.1 1416.7 746.1 1415.4 742.4 1413.9 732.8 1412.1 680.7 1411.7 676.9 1410.5 674.4 1407.7 735.3 1406.9 741.5 1405.5 745.5 1403.0 749.2 1396.0 752.7 1390.5 754.4 1373.1 757.0 1370.6 758.7 1369.6 760.1 1369.8 761.3 1370.6 762.4 1373.1 763.9 1386.8 767.0 1395.5 768.1 1398.0 769.1 1400.6 771.3 1403.1 777.5 1403.8 781.2 1402.0 791.1 1398.9 798.5 1398.8 802.3 1398.0 804.0 1396.8 804.4 1391.8 803.2 1386.8 804.4 1375.6 802.5 1368.2 795.4 1364.4 787.5 1361.9 792.2 1357.7 796.1 1354.7 802.3 1352.0 804.4 1343.3 805.6 1335.8 804.1 1330.8 805.4 1329.9 804.7 1329.3 798.5 1327.6 793.6 1326.9 787.4 1321.9 781.2 1321.7 772.5 1320.9 770.0 1318.4 766.9 1315.9 766.5 1313.4 768.0 1312.3 770.0 1312.5 771.3 1315.9 774.9 1316.3 776.2 1315.6 782.4 1316.2 787.4 1315.9 791.1 1315.3 793.6 1312.4 798.5 1312.0 803.5 1311.0 804.7 1306.0 805.8 1302.5 808.5 1299.8 809.7 1298.5 811.4 1297.3 815.7 1291.0 818.8 1290.1 818.4 1290.0 817.1 1291.6 814.7 1291.4 809.7 1293.7 806.0 1291.0 803.8 1289.8 803.7 1288.6 805.3 1288.2 808.5 1284.2 812.2 1281.5 815.9 1278.6 816.7 1273.6 816.1 1272.6 817.1 1271.1 820.9 1268.7 823.1 1266.2 823.1 1261.2 819.5 1260.0 820.3 1258.7 828.6 1260.0 830.1 1261.2 830.1 1264.9 828.6 1267.4 829.1 1268.0 830.8 1266.1 834.5 1263.7 837.1 1262.4 837.6 1257.5 836.8 1252.5 839.2 1251.0 840.7 1248.8 846.2 1247.5 847.1 1243.8 845.6 1242.5 845.7 1241.3 846.8 1240.1 849.3 1238.9 854.3 1234.9 859.3 1233.8 863.5 1227.1 868.0 1224.6 870.5 1225.1 872.5 1227.6 873.5 1235.1 869.5 1243.8 868.6 1245.0 866.9 1246.3 861.6 1247.5 860.8 1250.0 860.8 1252.5 861.8 1255.0 866.8 1255.8 874.2 1255.1 876.7 1251.2 877.5 1242.5 876.8 1232.6 877.8 1226.4 877.1 1215.2 878.1 1205.2 879.9 1195.3 879.5 1189.1 881.4 1187.4 882.9 1187.0 884.1M1341.1 871.7L1341.4 874.2 1340.8 874.8 1339.6 874.8 1338.4 872.9 1338.9 871.7 1339.6 871.3 1341.1 871.7M1347.9 823.3L1353.5 825.8 1355.7 829.8 1359.5 832.5 1360.6 834.5 1362.5 843.2 1361.9 846.1 1359.7 849.4 1361.4 854.3 1361.3 855.6 1359.5 858.3 1353.2 859.7 1345.8 864.4 1343.3 864.8 1337.1 861.8 1336.5 860.5 1336.0 855.6 1332.1 852.0 1330.8 849.9 1330.9 839.5 1332.3 830.8 1333.3 828.8 1336.6 825.8 1338.4 823.3 1342.0 822.2 1347.9 823.3M1382.1 825.8L1382.7 827.1 1382.0 828.3 1377.6 833.3 1375.6 840.0 1373.2 844.4 1373.5 845.7 1378.1 849.9 1389.3 855.2 1391.8 855.9 1392.3 856.8 1388.1 857.4 1383.1 856.2 1379.4 856.4 1375.6 855.5 1369.4 856.6 1366.9 856.4 1365.7 855.7 1364.9 854.3 1364.6 851.9 1365.8 840.7 1366.9 836.5 1368.3 834.5 1372.6 830.8 1374.0 827.1 1375.5 825.8 1379.4 825.1 1382.1 825.8M1260.0 813.2L1257.5 812.4 1256.2 813.4 1257.5 815.8 1258.7 816.7 1260.0 816.8 1260.5 814.7 1260.0 813.2M1297.3 793.6L1294.8 793.5 1292.1 794.8 1290.7 797.3 1291.0 798.8 1293.5 799.1 1296.0 797.8 1298.0 794.8 1297.3 793.6M1296.0 774.3L1293.5 774.0 1291.2 775.0 1290.7 776.2 1291.1 777.5 1292.4 778.7 1295.0 778.7 1296.5 777.5 1296.9 776.2 1296.0 774.3M1482.3 884.1L1481.4 882.9 1479.2 881.6 1476.4 880.9 1467.7 881.5 1457.7 880.8 1450.2 881.0 1437.8 879.9 1425.4 880.1 1421.6 879.5 1419.2 878.0 1418.1 875.4 1420.0 868.0 1422.9 864.1 1427.7 861.8 1427.5 860.5 1424.1 858.9 1421.6 856.5 1416.9 845.7 1416.0 839.5 1416.3 833.3 1415.7 828.3 1416.4 824.6 1418.0 822.1 1421.6 820.3 1435.3 820.7 1447.8 822.4 1450.4 823.3 1454.0 825.8 1456.2 829.5 1457.8 837.0 1459.0 848.1 1458.7 855.6 1459.3 859.3 1460.7 863.0 1461.4 864.2 1462.7 864.4 1464.0 863.0 1465.3 859.3 1465.4 845.7 1467.7 830.9 1470.2 825.2 1473.0 822.1 1478.9 820.2 1495.0 818.3 1546.2 817.1 1541.2 815.9 1511.2 815.5 1490.0 814.6 1480.6 813.4 1475.4 812.2 1471.4 809.2 1467.9 803.5 1465.4 789.9 1465.4 783.7 1463.9 780.1 1462.7 778.6 1461.4 778.5 1460.2 779.5 1459.0 781.7 1458.4 784.9 1458.4 791.1 1457.2 798.5 1455.2 804.1 1452.7 807.0 1447.8 808.8 1440.3 809.0 1432.8 810.0 1421.6 809.3 1419.2 808.6 1417.4 807.2 1415.7 804.7 1415.3 802.3 1416.9 791.1 1415.8 782.4 1416.7 777.5 1419.3 770.0 1420.4 768.4 1422.9 766.8 1445.3 762.7 1447.8 761.3 1448.0 760.1 1446.3 758.9 1444.0 758.2 1424.1 754.6 1417.9 751.3 1415.4 747.7 1412.8 732.8 1411.7 691.3 1410.5 680.7 1408.8 735.3 1408.0 741.9 1405.5 750.0 1403.0 752.4 1399.5 753.9 1390.5 756.4 1381.3 757.6 1376.7 758.9 1374.6 760.1 1375.0 761.3 1380.6 763.5 1398.0 766.6 1400.5 767.7 1403.0 770.0 1406.0 777.5 1406.6 781.2 1404.9 792.3 1405.4 802.3 1404.5 804.7 1402.3 807.2 1400.5 808.5 1398.0 809.1 1391.8 808.5 1386.8 808.8 1375.6 806.5 1371.9 804.9 1369.4 802.9 1366.9 799.8 1364.4 795.0 1363.2 797.8 1360.7 801.2 1354.5 806.0 1343.3 809.8 1339.6 810.4 1334.6 809.5 1329.6 811.8 1328.4 811.5 1327.1 810.2 1325.8 807.2 1325.6 804.7 1326.7 798.5 1324.4 789.9 1323.4 788.2 1322.1 787.7 1320.9 788.1 1319.6 789.9 1317.9 796.1 1315.9 799.4 1314.7 808.5 1313.8 809.7 1312.2 810.8 1309.7 811.0 1307.6 812.2 1304.7 817.4 1302.6 819.6 1296.5 820.9 1289.1 825.8 1289.9 827.1 1293.7 829.5 1293.1 833.3 1293.8 838.2 1293.5 839.8 1286.1 842.3 1284.6 841.9 1283.2 840.7 1282.8 838.2 1285.6 833.3 1285.3 828.3 1287.2 825.8 1286.7 823.3 1284.8 821.5 1283.4 822.1 1282.6 827.1 1277.4 834.2 1276.1 834.1 1273.6 830.5 1271.6 835.7 1265.8 841.9 1262.4 843.7 1257.5 843.8 1254.5 845.7 1255.1 846.9 1258.1 849.4 1259.0 851.9 1258.8 856.8 1257.5 860.1 1257.0 863.0 1258.4 869.2 1259.2 876.7 1257.5 879.1 1255.0 879.8 1245.0 880.3 1237.6 879.7 1226.4 880.5 1216.4 880.3 1204.0 883.0 1196.5 882.2 1194.5 882.9 1193.7 884.1M1338.6 814.7L1342.0 818.0 1348.3 819.1 1359.7 823.3 1362.1 825.8 1364.4 831.9 1368.5 824.6 1370.6 823.1 1374.4 821.8 1394.3 818.8 1400.5 820.0 1403.8 822.1 1405.4 824.6 1405.9 828.3 1403.0 836.4 1401.7 837.6 1395.5 832.2 1393.0 831.2 1389.3 830.8 1385.6 832.1 1383.1 834.3 1381.5 837.0 1381.2 839.5 1381.6 841.9 1383.6 845.7 1385.6 847.4 1389.3 848.6 1393.0 847.7 1400.5 842.0 1401.7 842.0 1402.5 850.6 1401.7 854.0 1398.8 858.1 1393.9 861.8 1398.0 865.3 1399.7 869.2 1402.2 872.9 1403.1 875.4 1402.2 877.9 1398.0 879.6 1395.5 879.2 1393.7 877.9 1393.0 875.4 1393.8 869.2 1385.6 863.8 1381.8 862.1 1366.9 860.2 1364.4 859.3 1363.2 857.6 1360.7 860.8 1354.5 863.8 1349.6 868.0 1347.3 869.2 1348.3 870.5 1348.3 871.7 1347.8 875.4 1346.7 877.9 1344.5 879.0 1340.8 879.2 1338.3 878.8 1335.8 877.6 1334.7 875.4 1334.5 871.7 1335.1 868.0 1336.2 866.7 1333.3 865.1 1331.6 863.0 1329.0 849.4 1329.1 838.2 1331.1 820.9 1330.1 819.6 1329.9 818.4 1330.8 816.0 1332.1 815.4 1337.1 814.1 1338.6 814.7M1304.0 823.3L1311.0 825.2 1311.9 827.1 1311.0 828.9 1308.0 830.8 1306.2 833.3 1312.2 835.5 1314.0 838.2 1314.2 841.9 1313.4 846.2 1312.2 848.7 1311.0 849.4 1307.2 849.0 1302.2 847.5 1297.3 848.5 1295.8 846.9 1295.1 843.2 1295.4 841.9 1301.0 841.0 1305.3 834.5 1305.0 833.3 1296.2 829.5 1294.9 828.3 1295.2 827.1 1298.5 822.6 1301.0 822.2 1304.0 823.3M1333.7 884.1L1333.6 882.9 1329.6 880.2 1328.5 877.9 1331.1 866.7 1329.7 865.5 1328.8 863.0 1327.4 851.9 1327.3 839.5 1328.2 829.5 1327.4 823.3 1327.8 820.9 1325.6 812.2 1323.4 809.2 1322.1 808.4 1320.9 808.5 1317.2 811.2 1315.9 810.8 1311.0 819.2 1307.8 820.9 1312.2 822.7 1313.4 824.1 1314.4 827.1 1314.3 832.0 1315.7 838.2 1315.8 841.9 1315.0 851.9 1313.1 858.1 1311.0 859.7 1308.5 860.0 1296.0 858.9 1289.8 856.9 1284.8 859.7 1281.0 859.3 1274.9 855.8 1274.9 851.9 1276.1 850.2 1282.3 847.2 1283.7 845.7 1275.2 841.9 1273.6 839.3 1272.4 842.0 1271.2 843.1 1265.2 845.7 1266.2 848.0 1267.4 849.2 1272.0 851.9 1272.5 854.3 1271.6 855.6 1268.5 856.8 1262.4 866.3 1261.8 869.2 1262.1 871.7 1264.8 877.9 1264.6 879.1 1259.2 882.9 1258.9 884.1M1388.8 884.1L1389.6 882.9 1386.8 879.2 1386.6 877.9 1387.0 872.9 1386.1 869.2 1380.6 866.1 1366.1 863.0 1363.2 861.0 1361.4 863.0 1351.9 869.2 1353.0 871.7 1353.2 876.7 1350.4 882.9 1351.0 884.1M1418.3 884.1L1418.2 882.9 1414.0 877.9 1413.8 875.4 1417.9 865.8 1420.2 863.0 1422.0 861.8 1416.8 854.3 1414.2 848.0 1411.7 839.3 1410.5 837.3 1408.3 843.2 1406.0 853.1 1403.9 856.8 1399.9 860.5 1399.4 861.8 1402.9 865.5 1408.0 876.7 1407.2 879.1 1403.8 882.9 1403.9 884.1M1462.7 792.4L1461.4 793.0 1457.9 804.7 1455.2 808.6 1450.2 811.4 1442.2 813.4 1436.5 815.9 1437.1 817.1 1450.2 820.1 1455.2 823.3 1457.7 827.1 1461.4 841.6 1462.7 842.4 1466.2 828.3 1467.8 824.6 1469.7 822.1 1475.1 819.4 1488.7 817.1 1486.8 815.9 1475.1 813.8 1469.9 810.9 1466.0 804.7 1462.7 792.4M1390.5 837.5L1388.4 838.2 1388.1 839.5 1389.3 841.1 1390.5 841.2 1392.0 839.5 1391.8 838.2 1390.5 837.5M1364.4 800.8L1361.9 804.6 1359.5 806.5 1353.2 809.4 1345.6 812.2 1351.0 815.9 1360.7 820.5 1363.2 822.6 1364.4 824.5 1368.6 820.9 1377.6 817.1 1386.6 812.2 1376.9 809.8 1370.6 807.3 1367.3 804.7 1364.4 800.8M1411.7 807.7L1410.5 807.3 1408.0 808.1 1403.1 812.2 1402.6 813.4 1402.6 814.7 1404.2 817.1 1410.5 822.3 1411.7 822.1 1414.2 820.4 1417.9 817.1 1418.5 815.9 1418.4 814.7 1416.9 812.2 1411.7 807.7M1410.5 735.9L1408.0 748.1 1405.5 753.2 1403.0 755.0 1399.6 756.4 1385.7 760.1 1386.3 761.3 1400.5 765.0 1403.0 766.6 1405.0 768.8 1408.0 774.5 1409.7 779.9 1409.9 783.7 1409.1 789.9 1410.5 795.3 1411.7 794.2 1412.3 791.1 1411.9 783.7 1412.4 779.9 1415.3 772.5 1417.9 767.6 1421.6 764.9 1435.2 761.3 1436.1 760.1 1424.1 757.0 1416.7 753.2 1414.2 749.1 1411.7 736.9 1410.5 735.9M1324.0 884.1L1325.0 882.9 1327.1 869.4 1328.4 866.7 1327.0 864.3 1325.7 856.8 1326.4 830.8 1325.5 823.3 1325.9 820.9 1324.3 814.7 1322.1 812.2 1320.9 812.2 1317.2 814.4 1315.9 813.7 1313.6 819.6 1312.5 820.9 1315.0 824.6 1317.3 837.0 1317.1 853.1 1316.5 858.1 1315.5 860.5 1313.4 862.0 1309.7 862.8 1302.2 862.1 1296.0 862.3 1291.0 861.5 1283.6 862.6 1276.1 861.5 1273.6 860.2 1269.9 861.9 1268.2 864.3 1266.8 868.0 1266.5 871.7 1267.9 874.2 1277.4 882.0 1288.6 883.8 1298.4 884.1M1308.0 884.1L1312.2 883.4 1315.5 884.1M1363.2 863.2L1360.8 865.5 1354.8 869.2 1355.8 870.5 1359.3 880.4 1360.7 882.0 1363.2 883.9 1365.7 882.7 1375.6 881.3 1379.4 879.4 1381.8 876.9 1383.2 872.9 1381.4 869.2 1376.9 867.6 1365.7 864.9 1363.2 863.2M1411.7 849.4L1410.5 848.6 1408.0 854.7 1402.6 861.8 1405.5 864.8 1410.5 873.7 1411.7 872.9 1416.4 864.3 1419.0 861.8 1418.6 860.5 1414.7 855.6 1411.7 849.4M1273.6 842.8L1272.4 844.6 1270.4 845.7 1273.6 849.9 1274.9 847.7 1277.5 845.7 1274.9 844.5 1273.6 842.8M1462.7 801.1L1461.4 801.7 1459.0 807.2 1456.5 810.2 1451.5 814.1 1447.6 815.9 1447.6 817.1 1452.7 818.9 1456.7 822.1 1459.3 825.8 1461.4 831.7 1462.7 832.6 1465.1 825.8 1467.4 822.1 1471.4 819.4 1478.3 817.1 1477.3 815.9 1470.7 813.4 1467.7 810.9 1464.5 806.0 1462.7 801.1M1364.4 804.3L1363.2 806.2 1360.2 808.5 1351.2 812.2 1360.7 817.8 1364.4 821.5 1368.2 818.4 1378.3 812.2 1374.1 810.9 1368.9 808.5 1364.4 804.3M1411.7 814.1L1410.5 813.6 1409.9 814.7 1410.5 816.0 1411.9 815.9 1411.7 814.1M1411.7 745.0L1410.5 744.1 1408.2 751.4 1405.5 755.4 1401.7 757.6 1395.4 760.1 1396.3 761.3 1401.7 763.6 1405.3 766.3 1408.2 770.0 1410.5 774.6 1411.7 774.0 1414.6 768.8 1417.8 765.1 1421.6 762.8 1426.0 761.3 1426.9 760.1 1420.4 757.6 1415.4 754.2 1413.2 750.2 1411.7 745.0M1322.1 816.6L1320.9 816.2 1317.2 817.7 1315.9 816.7 1314.2 820.9 1315.9 824.7 1317.2 824.4 1318.4 825.8 1319.2 828.3 1318.5 845.7 1319.5 854.3 1317.2 861.8 1314.7 863.7 1309.7 864.7 1273.6 864.7 1272.0 866.7 1271.5 869.2 1272.1 871.7 1273.6 873.7 1279.9 877.6 1291.0 880.8 1304.7 881.9 1314.7 878.7 1317.2 880.2 1318.4 882.1 1320.9 880.6 1323.4 876.4 1325.1 869.2 1326.4 866.7 1325.0 864.3 1323.0 858.1 1324.5 845.7 1324.4 832.0 1323.4 824.6 1324.2 820.9 1322.1 816.6M1363.2 865.0L1361.4 866.7 1357.3 869.2 1363.2 879.7 1364.4 878.7 1373.1 877.5 1376.9 875.7 1378.3 874.2 1378.1 872.0 1376.0 869.2 1365.7 866.6 1363.2 865.0M1410.5 853.9L1405.1 861.8 1407.5 864.3 1410.5 869.2 1411.7 868.6 1414.1 864.3 1416.6 861.8 1416.3 860.5 1411.7 854.3 1410.5 853.9M1273.6 845.1L1273.2 845.7 1273.6 846.8 1274.1 845.7 1273.6 845.1M1462.7 806.0L1461.4 806.4 1457.7 811.3 1452.8 815.9 1452.6 817.1 1457.7 820.9 1461.4 826.5 1462.7 827.2 1464.6 823.3 1466.8 820.9 1473.5 817.1 1473.0 815.9 1467.0 812.2 1462.7 806.0M1364.4 806.7L1361.2 809.7 1355.5 812.2 1360.7 815.3 1364.4 819.2 1371.4 813.4 1373.8 812.2 1368.2 809.8 1364.4 806.7M1411.7 749.9L1410.5 749.2 1406.7 756.1 1404.2 758.1 1400.4 760.1 1401.1 761.3 1406.7 765.5 1410.5 770.5 1411.7 770.0 1415.6 765.1 1420.8 761.3 1421.5 760.1 1415.4 756.2 1411.7 749.9M1319.7 863.0L1318.4 861.9 1315.9 864.7 1309.7 866.2 1303.5 866.1 1297.3 867.1 1292.3 866.9 1279.9 867.8 1277.6 869.2 1277.4 870.5 1278.0 871.7 1279.9 873.4 1291.0 877.9 1304.7 879.2 1307.2 878.7 1312.2 876.1 1314.7 875.7 1317.2 876.5 1318.4 877.7 1322.1 874.2 1323.8 868.0 1324.8 866.7 1322.1 864.0 1319.7 863.0M1363.2 866.4L1359.4 869.2 1360.5 870.5 1363.2 876.6 1364.4 875.5 1369.0 874.2 1370.5 872.9 1370.3 870.5 1370.9 869.2 1365.7 867.9 1363.2 866.4M1410.5 856.8L1407.4 860.5 1407.0 861.8 1410.5 866.1 1411.7 865.5 1414.7 861.8 1414.4 860.5 1411.7 857.2 1410.5 856.8M1322.1 840.4L1321.2 841.9 1321.3 843.2 1322.1 844.2 1322.1 840.4M1462.7 808.6L1461.4 809.0 1455.2 815.9 1455.1 817.1 1458.1 819.6 1461.4 823.6 1462.7 824.1 1465.2 820.8 1470.7 817.1 1470.3 815.9 1466.4 813.2 1462.7 808.6M1315.9 819.5L1315.3 820.9 1315.9 822.5 1317.2 821.9 1320.9 822.2 1322.1 820.9 1320.9 820.1 1317.2 820.2 1315.9 819.5M1365.7 809.4L1364.4 808.5 1361.9 810.7 1358.6 812.2 1361.0 813.4 1364.4 817.2 1368.4 813.4 1370.8 812.2 1367.7 810.9 1365.7 809.4M1410.5 752.2L1406.8 757.6 1403.4 760.1 1403.8 761.3 1406.8 763.8 1410.5 768.0 1411.7 767.5 1418.1 761.3 1418.6 760.1 1415.4 757.8 1411.7 752.7 1410.5 752.2M1304.7 868.8L1302.2 868.7 1291.0 870.0 1288.6 871.7 1288.6 872.9 1289.6 874.2 1292.3 875.4 1304.9 876.7 1307.7 875.4 1309.6 872.9 1309.4 871.7 1308.1 870.5 1304.7 868.8M1318.4 863.8L1316.7 865.5 1312.9 866.7 1313.8 868.0 1313.3 870.5 1313.9 871.7 1318.4 875.2 1320.2 872.9 1322.1 868.0 1323.2 866.7 1318.4 863.8M1363.2 867.7L1361.2 869.2 1363.2 873.8 1365.2 870.5 1366.9 869.2 1363.2 867.7M1410.5 858.9L1408.7 861.8 1410.5 863.8 1411.7 863.3 1413.1 861.8 1411.7 859.3 1410.5 858.9M1462.7 810.5L1461.4 810.8 1456.9 815.9 1456.7 817.1 1461.4 821.7 1462.7 822.1 1465.1 819.6 1468.7 817.1 1468.3 815.9 1462.7 810.5M1365.7 810.8L1364.4 809.9 1360.9 812.2 1363.0 813.4 1364.4 815.3 1368.4 812.2 1365.7 810.8M1411.7 754.6L1410.5 754.2 1408.0 757.7 1405.4 760.1 1405.7 761.3 1410.5 766.2 1411.7 765.8 1416.2 761.3 1416.6 760.1 1411.7 754.6M1318.4 865.2L1315.9 866.7 1316.9 868.0 1318.4 872.6 1320.0 868.0 1321.3 866.7 1318.4 865.2M1363.2 868.8L1362.7 869.2 1363.2 870.4 1364.0 869.2 1363.2 868.8M1410.5 860.5L1410.1 861.8 1410.5 862.2 1411.7 861.8 1410.5 860.5M1462.7 812.0L1461.4 812.3 1458.3 815.9 1458.1 817.1 1461.4 820.3 1462.7 820.7 1467.1 817.1 1466.8 815.9 1462.7 812.0M1365.7 811.7L1364.4 811.1 1362.8 812.2 1364.4 813.6 1366.5 812.2 1365.7 811.7M1411.7 756.2L1410.5 755.9 1406.8 760.1 1407.1 761.3 1410.5 764.7 1411.7 764.4 1414.8 761.3 1415.1 760.1 1411.7 756.2M1318.4 866.1L1317.5 866.7 1318.4 869.3 1319.5 866.7 1318.4 866.1M1462.7 813.1L1461.4 813.5 1459.3 815.9 1459.1 817.1 1461.4 819.4 1462.7 819.7 1465.9 817.1 1465.6 815.9 1462.7 813.1M1364.4 812.0L1364.4 812.4 1364.9 812.2 1364.4 812.0M1411.7 757.4L1410.5 757.0 1407.9 760.1 1408.2 761.3 1410.5 763.6 1411.7 763.3 1413.7 761.3 1414.1 760.1 1411.7 757.4" fill="none" stroke="#ff2a2a" stroke-opacity="0.9" stroke-width="1.15"/><path d="M1318.4 869.2L1318.4 648.5M1365.7 869.2L1365.7 631.1M1102.0 859.8L1597.0 859.8M1271.1 837.0L1271.1 767.5M1209.0 837.0L1271.1 837.0M1319.9 869.2L1319.9 665.9M1367.2 869.2L1367.2 646.0M1112.0 861.8L1589.5 861.8" fill="none" stroke="#ff3030" stroke-opacity="0.9" stroke-width="1.5" stroke-dasharray="1.2 1.4"/><path d="M1342.0 487.3L1339.4 487.3 1339.1 519.5 1339.6 534.4 1339.1 570.4 1339.7 587.7 1339.1 602.6 1339.0 665.9 1337.7 684.5 1337.7 698.1 1336.3 709.3 1336.4 727.9 1335.4 745.2 1335.7 782.4 1336.4 799.8 1336.1 810.9 1337.1 834.5 1334.8 868.0 1333.8 871.7 1332.1 874.2 1328.4 876.5 1324.6 877.0 1304.7 876.5 1255.0 877.5 1226.4 876.5 1202.7 877.4 1190.3 877.0 1133.1 878.4 1120.7 877.7 1112.0 878.3 1095.8 877.9 1065.9 878.4 1006.2 877.8 975.1 878.6 945.3 878.6 942.8 878.7 942.8 884.1 1739.0 884.1 1738.8 879.2 1732.6 878.7 1696.5 878.5 1682.8 877.8 1648.0 878.6 1620.6 878.1 1592.0 878.4 1575.9 877.7 1563.4 878.4 1523.6 878.2 1503.7 877.2 1495.0 877.7 1476.4 876.9 1398.0 877.3 1379.4 876.4 1358.2 876.9 1352.0 876.0 1349.0 874.2 1347.3 871.7 1346.6 869.2 1344.4 837.0 1345.1 799.8 1346.4 773.7 1345.5 755.1 1346.1 737.8 1345.7 724.1 1344.5 714.2 1344.9 704.3 1344.1 696.9 1342.3 638.6 1342.8 628.7 1342.1 586.5 1342.4 499.7 1342.0 487.3M1456.5 725.1L1454.0 724.2 1453.2 725.4 1453.3 727.9 1455.2 730.3 1456.5 731.1 1459.0 731.0 1460.3 729.1 1459.7 727.9 1456.5 725.1" fill="#3b2cf6" fill-opacity="0.85" fill-rule="evenodd"/><path d="M1334.1 487.3L1334.6 510.9 1334.1 520.8 1335.2 534.4 1334.1 543.1 1334.0 555.5 1334.8 561.7 1334.2 570.4 1335.1 586.5 1334.2 597.7 1335.1 621.2 1333.6 644.8 1334.6 666.7 1333.3 670.3 1332.1 672.2 1325.4 678.3 1324.1 684.5 1320.1 688.2 1319.6 689.4 1320.3 690.7 1325.6 694.4 1326.9 696.9 1326.5 698.1 1319.7 699.2 1315.9 698.8 1308.5 703.3 1306.6 706.8 1305.5 710.5 1306.3 713.0 1309.7 715.5 1309.5 720.4 1308.5 722.6 1303.5 725.1 1302.1 730.3 1302.7 731.6 1306.0 734.6 1309.7 730.8 1312.2 730.1 1313.4 730.4 1314.6 732.8 1313.3 739.0 1314.7 740.7 1317.3 741.5 1318.6 742.7 1316.9 747.7 1317.6 752.7 1319.5 755.1 1323.4 756.8 1324.9 758.9 1324.6 762.3 1323.4 763.4 1319.7 762.0 1317.2 762.6 1313.8 765.1 1311.9 768.8 1312.4 771.3 1315.9 775.5 1317.2 782.0 1319.2 784.9 1319.6 791.1 1321.3 797.3 1322.9 799.8 1327.1 802.9 1328.6 806.0 1328.4 810.4 1326.6 814.7 1326.8 815.9 1329.6 820.4 1329.6 825.8 1331.6 833.3 1331.2 846.9 1330.8 850.2 1329.1 854.3 1326.0 868.0 1325.0 869.2 1323.4 869.3 1320.2 868.0 1312.2 863.2 1302.2 860.4 1296.0 859.7 1291.0 857.9 1288.6 859.1 1285.9 863.0 1283.6 864.6 1276.1 866.2 1271.2 868.4 1262.4 867.8 1260.0 868.4 1256.6 870.5 1254.0 870.5 1249.3 868.0 1247.5 866.0 1246.4 861.8 1247.4 856.8 1246.9 855.6 1243.8 853.2 1241.3 852.5 1236.3 854.9 1235.1 854.7 1231.3 852.7 1223.9 852.9 1221.7 851.9 1219.9 849.4 1217.7 847.7 1211.5 846.9 1207.7 847.5 1199.0 852.0 1192.8 851.7 1189.1 852.5 1186.9 854.3 1184.1 858.6 1177.9 858.6 1174.1 860.5 1171.0 866.7 1167.7 869.2 1165.0 870.5 1155.5 872.0 1152.7 871.7 1148.0 870.0 1136.8 869.7 1119.4 870.0 1109.5 871.5 1094.5 870.2 1085.8 871.5 1072.1 870.8 1064.7 872.2 1058.5 871.0 1047.3 870.8 1039.8 872.2 1028.6 870.1 1019.4 871.7 1006.2 869.8 998.8 870.0 991.3 871.8 983.8 869.8 965.2 871.7 959.0 871.0 951.5 872.8 947.8 872.0 942.8 871.9M1738.8 872.4L1730.1 871.5 1720.1 872.6 1713.9 870.8 1706.5 871.6 1702.7 870.8 1690.3 870.5 1681.6 869.1 1676.6 869.7 1664.2 872.6 1656.7 870.0 1649.2 871.1 1643.0 869.6 1636.8 870.4 1629.3 869.7 1618.2 871.0 1604.5 870.7 1599.5 871.5 1594.5 870.6 1585.8 871.4 1579.6 870.6 1568.4 870.3 1560.9 872.0 1552.2 869.9 1544.8 870.6 1534.8 870.5 1527.4 869.0 1522.4 869.8 1505.0 864.0 1497.5 864.4 1494.3 861.8 1492.5 861.2 1486.3 862.5 1483.8 861.1 1480.1 857.5 1476.4 857.2 1471.4 855.2 1461.4 852.8 1454.0 855.4 1450.2 855.7 1440.3 858.2 1437.5 861.8 1436.8 866.7 1435.3 867.4 1429.1 867.1 1422.9 869.1 1420.4 869.2 1411.7 868.2 1404.2 864.5 1401.7 863.9 1396.8 864.8 1391.8 864.9 1388.1 863.1 1383.8 858.1 1375.6 857.0 1373.1 857.4 1369.7 859.3 1368.5 860.5 1366.2 865.5 1364.4 867.0 1361.9 867.8 1358.2 868.0 1355.7 869.5 1354.5 869.1 1354.1 868.0 1355.0 865.5 1354.9 864.3 1352.0 853.0 1349.4 837.0 1351.5 828.3 1351.1 819.6 1352.0 817.7 1357.9 812.2 1358.3 809.7 1356.7 806.0 1355.7 805.4 1353.2 805.8 1352.0 805.0 1351.0 801.0 1352.0 798.6 1353.2 797.9 1355.1 798.5 1357.0 800.1 1358.2 799.3 1359.5 796.7 1359.5 793.6 1355.7 787.6 1356.6 783.7 1355.9 779.9 1357.0 778.0 1359.5 777.3 1360.7 776.2 1361.6 771.3 1360.7 768.8 1357.0 768.8 1355.5 767.5 1354.3 765.1 1354.6 763.8 1355.7 762.5 1358.2 762.1 1360.5 763.8 1361.9 767.4 1364.4 765.9 1366.1 763.8 1367.3 757.6 1370.4 755.1 1370.4 753.9 1368.5 751.4 1368.6 747.7 1367.5 742.7 1367.9 741.5 1371.7 737.8 1372.5 731.6 1371.7 727.9 1368.2 725.4 1367.3 724.1 1367.7 720.4 1367.0 715.5 1368.1 710.5 1366.9 709.3 1364.4 709.2 1362.3 710.5 1362.0 719.2 1360.7 721.6 1358.2 722.1 1356.9 721.7 1356.3 720.4 1358.1 715.5 1358.5 711.7 1357.7 710.5 1354.0 708.0 1353.7 705.5 1354.5 704.1 1359.0 700.6 1360.7 698.5 1363.2 700.6 1364.6 700.6 1365.0 699.3 1364.4 697.9 1363.2 696.9 1360.7 697.5 1360.2 695.6 1364.4 692.9 1365.2 690.7 1360.7 686.9 1357.0 682.3 1350.8 679.5 1349.5 678.0 1348.1 673.3 1348.2 660.9 1347.3 647.3 1347.6 631.1 1346.8 621.2 1346.8 610.1 1347.7 601.4 1347.0 585.3 1347.2 561.7 1346.4 551.8 1347.4 539.4 1346.8 508.4 1347.6 499.7 1346.6 493.5 1346.9 487.3M1400.5 826.9L1398.0 826.3 1395.5 827.0 1389.7 830.8 1386.4 834.5 1385.7 837.0 1386.1 839.5 1387.7 843.2 1389.3 845.1 1390.5 845.5 1394.3 845.0 1396.8 845.4 1400.5 847.8 1401.7 848.0 1405.5 846.5 1408.0 844.3 1409.4 839.5 1409.5 835.7 1408.8 833.3 1405.5 829.5 1400.5 826.9M1461.4 622.4L1460.2 623.7 1459.3 626.2 1459.4 637.3 1459.0 638.2 1456.5 638.0 1455.2 640.0 1454.2 643.5 1454.4 646.0 1456.8 651.0 1458.4 660.9 1460.9 670.8 1465.2 680.6 1469.8 695.6 1480.1 713.4 1483.1 722.9 1482.4 724.1 1480.1 724.4 1465.2 723.1 1462.7 722.0 1460.2 719.1 1457.5 713.0 1446.9 694.4 1440.3 686.7 1437.8 685.5 1436.6 686.0 1435.7 689.4 1437.2 696.9 1439.9 705.5 1445.3 716.0 1446.4 720.4 1445.3 723.1 1439.2 726.6 1438.5 727.9 1439.1 729.1 1441.5 731.1 1449.0 734.1 1451.5 736.0 1454.0 740.3 1455.7 745.2 1454.7 746.5 1444.0 746.2 1431.6 748.3 1429.2 750.2 1428.7 751.4 1429.3 753.9 1430.3 755.1 1434.1 757.2 1446.5 760.7 1460.2 760.9 1462.7 761.8 1464.1 765.1 1462.8 771.3 1463.6 783.7 1464.6 786.1 1467.3 789.9 1468.9 793.9 1471.4 795.2 1473.9 794.1 1475.5 789.9 1476.7 779.9 1476.2 770.0 1476.4 768.7 1477.6 767.0 1483.8 767.5 1488.8 771.8 1502.5 777.3 1508.7 780.6 1516.2 782.4 1527.4 786.4 1531.1 786.8 1539.8 786.0 1540.4 784.9 1539.9 783.7 1533.6 777.8 1523.6 772.5 1518.7 770.8 1513.7 766.8 1505.0 763.8 1500.1 761.3 1500.0 760.1 1501.2 759.5 1503.5 755.1 1504.0 745.2 1505.0 743.7 1514.9 746.7 1541.0 758.3 1562.2 766.2 1565.9 766.8 1569.7 766.3 1574.6 768.6 1578.4 769.5 1582.6 768.8 1583.8 767.5 1583.1 766.3 1573.6 757.6 1568.4 756.5 1563.4 753.3 1554.7 750.2 1541.0 743.2 1503.7 731.1 1498.3 727.9 1494.5 724.1 1493.6 722.9 1482.1 685.7 1476.4 676.3 1473.9 670.6 1470.8 659.7 1465.7 648.5 1465.2 644.8 1463.9 645.9 1462.7 645.6 1462.3 644.8 1462.0 643.5 1462.7 642.9 1465.2 644.8 1465.3 643.5 1468.0 638.6 1468.2 636.1 1466.5 627.4 1465.0 624.9 1461.4 622.4M1361.9 782.1L1360.7 781.9 1358.7 783.7 1359.0 784.9 1360.2 786.1 1361.9 786.9 1363.2 786.2 1363.5 784.9 1363.2 783.6 1361.9 782.1M1325.0 776.2L1326.7 777.5 1327.1 781.4 1325.9 783.9 1323.4 783.9 1321.8 782.4 1321.9 778.7 1323.4 776.6 1325.0 776.2M1651.7 768.5L1648.0 767.7 1645.6 768.8 1646.8 770.7 1649.2 772.1 1655.5 772.3 1656.2 771.3 1651.7 768.5M1592.0 757.2L1588.3 756.9 1586.9 757.6 1586.7 758.9 1588.3 760.9 1590.8 762.5 1599.5 765.6 1607.0 765.4 1608.6 765.1 1609.4 763.8 1607.5 761.3 1603.2 758.9 1600.7 758.1 1594.5 757.9 1592.0 757.2M1483.6 737.8L1486.1 739.0 1487.0 740.3 1492.2 752.7 1500.0 760.1 1499.9 761.3 1495.0 761.3 1487.6 757.5 1479.1 756.4 1476.4 754.5 1469.8 747.7 1467.4 740.3 1467.7 737.4 1477.6 736.8 1483.6 737.8M1579.6 756.3L1579.0 756.4 1578.6 757.6 1579.9 757.6 1579.6 756.3M1697.8 745.0L1691.5 745.0 1690.3 745.4 1689.6 746.5 1691.5 748.3 1697.8 749.1 1700.2 747.8 1700.4 746.5 1697.8 745.0M1611.9 730.0L1607.0 729.2 1604.5 730.2 1604.2 731.6 1607.0 734.6 1611.9 736.1 1635.6 738.4 1643.0 740.1 1646.8 739.5 1648.8 737.8 1648.4 736.5 1646.6 735.3 1641.8 733.6 1633.1 733.4 1624.4 731.5 1616.9 731.9 1611.9 730.0M1593.3 729.1L1590.2 729.1 1591.3 730.3 1593.8 730.3 1593.3 729.1M1381.8 721.5L1374.4 721.8 1372.3 722.9 1372.0 724.1 1373.1 725.8 1379.4 727.4 1381.8 727.4 1383.1 726.5 1383.6 724.1 1381.8 721.5M1322.2 717.9L1323.4 718.5 1324.4 720.4 1323.4 723.6 1322.1 722.7 1321.5 720.4 1322.2 717.9M1487.6 576.7L1486.2 577.8 1485.6 586.5 1486.1 591.5 1488.2 598.9 1488.2 606.3 1490.5 613.8 1492.7 624.9 1495.0 631.0 1496.3 632.3 1496.9 628.7 1496.3 622.5 1496.8 617.5 1494.9 611.3 1495.7 603.9 1495.0 601.3 1492.4 596.4 1492.2 590.2 1489.8 584.0 1488.8 577.8 1487.6 576.7M1475.1 558.6L1473.9 558.7 1472.6 560.2 1472.0 564.2 1473.9 571.6 1475.1 573.5 1476.4 573.8 1477.6 572.1 1478.0 570.4 1478.4 564.2 1477.1 560.5 1475.1 558.6M1477.6 514.6L1476.0 517.1 1476.1 519.5 1477.6 523.3 1478.9 524.7 1480.1 524.9 1481.8 522.0 1481.7 518.3 1480.1 515.4 1478.9 514.6 1477.6 514.6M1334.9 487.3L1334.8 520.8 1335.9 534.4 1334.8 543.1 1334.8 555.5 1335.5 562.9 1334.9 571.6 1335.9 586.5 1334.9 597.7 1335.8 621.2 1334.3 644.8 1335.0 667.1 1334.6 670.1 1332.1 676.7 1330.8 678.8 1328.3 680.7 1326.4 688.2 1327.1 690.7 1330.8 695.7 1331.7 699.3 1331.1 701.8 1329.6 703.6 1328.4 703.9 1324.6 701.7 1323.3 701.8 1321.2 703.1 1319.4 708.0 1315.9 712.0 1313.1 720.4 1313.4 721.8 1314.7 722.9 1315.9 722.9 1317.2 721.9 1317.8 717.9 1320.5 713.0 1321.5 709.3 1323.4 708.1 1325.9 708.2 1326.5 710.5 1325.2 714.2 1325.3 715.5 1327.5 720.4 1327.3 725.4 1328.4 730.3 1327.1 732.0 1322.1 731.2 1320.9 731.5 1319.6 732.8 1318.6 735.3 1319.2 737.8 1321.7 740.3 1322.9 742.7 1320.0 747.7 1320.2 750.2 1321.0 751.4 1325.9 754.5 1327.1 757.1 1327.7 760.1 1327.4 771.3 1328.7 777.5 1330.0 793.6 1329.6 796.7 1328.7 798.5 1330.0 806.0 1329.2 814.7 1331.0 819.6 1331.2 825.8 1332.6 833.3 1331.8 849.4 1329.9 855.6 1327.7 868.0 1326.3 870.5 1323.4 870.9 1313.4 866.3 1308.5 866.6 1304.7 864.3 1302.2 863.7 1300.8 864.3 1299.6 866.7 1297.3 867.9 1294.9 866.7 1292.9 863.0 1291.0 862.5 1289.8 863.5 1287.8 866.7 1286.1 868.0 1281.1 868.5 1276.1 870.7 1272.4 871.0 1263.7 869.8 1256.7 871.7 1253.7 871.6 1248.2 869.2 1246.3 867.5 1244.8 864.3 1243.9 858.1 1242.5 856.5 1241.3 856.1 1235.1 857.1 1228.9 855.1 1221.4 856.1 1218.9 854.6 1216.6 850.6 1213.9 850.1 1211.5 851.1 1209.0 854.3 1204.0 855.1 1202.7 856.5 1201.5 860.1 1200.3 861.2 1199.0 861.5 1197.0 860.5 1194.0 855.6 1192.8 855.2 1191.1 855.6 1189.1 858.1 1187.8 863.6 1184.1 866.4 1181.6 869.3 1179.1 869.8 1171.7 869.8 1164.4 871.7 1155.5 872.9 1145.5 871.3 1129.4 871.6 1120.7 871.1 1110.7 872.6 1100.8 872.2 1094.5 871.4 1085.8 872.4 1072.1 872.1 1065.9 873.1 1057.2 872.1 1047.3 872.1 1041.1 873.1 1036.1 873.0 1028.6 871.5 1018.7 872.5 1007.5 871.1 998.8 871.2 991.3 872.6 983.8 871.1 975.1 872.6 963.9 872.9 959.0 872.2 951.5 873.6 942.8 872.9M1738.8 873.4L1731.3 872.7 1720.1 873.3 1713.9 872.0 1707.7 872.6 1691.5 872.0 1681.6 870.4 1664.2 873.5 1655.5 871.4 1649.2 872.6 1643.0 871.5 1636.8 871.8 1630.6 871.0 1624.4 872.0 1604.5 871.9 1599.5 872.5 1569.7 871.5 1560.9 873.0 1552.2 871.5 1524.9 872.2 1503.7 867.1 1496.3 867.5 1491.3 866.8 1486.3 866.9 1481.3 863.1 1480.1 862.8 1476.0 865.5 1472.6 865.8 1470.9 864.3 1470.7 859.3 1469.9 858.1 1466.7 856.8 1462.7 856.2 1460.2 856.7 1459.2 858.1 1460.3 863.0 1459.0 864.1 1455.2 863.3 1452.6 860.5 1450.2 859.0 1446.5 859.2 1444.0 860.5 1443.3 861.8 1443.9 865.5 1440.2 868.0 1435.3 869.7 1429.1 869.1 1421.6 870.6 1412.9 870.8 1403.0 866.7 1398.0 867.9 1393.0 867.7 1389.3 868.5 1388.0 868.0 1381.8 861.9 1380.6 862.0 1379.1 863.0 1378.8 866.7 1375.3 869.2 1366.9 869.5 1355.7 871.3 1353.3 870.5 1352.3 868.0 1352.4 859.3 1350.8 852.4 1348.7 837.0 1350.0 827.1 1349.6 819.6 1350.8 815.5 1352.9 810.9 1350.5 804.7 1350.1 801.0 1350.8 798.3 1352.0 796.5 1354.8 794.8 1355.4 793.6 1353.6 787.4 1354.2 777.5 1356.1 772.5 1353.2 766.4 1353.1 763.8 1354.5 761.3 1358.9 757.6 1359.2 756.4 1358.9 752.7 1356.0 747.7 1355.8 745.2 1356.3 744.0 1358.0 742.7 1361.9 741.5 1368.2 736.7 1368.9 734.1 1368.5 731.6 1367.3 729.1 1363.7 725.4 1361.9 724.5 1358.2 725.2 1356.0 726.6 1355.7 730.3 1354.5 730.8 1354.2 730.3 1354.4 725.4 1353.0 719.2 1353.4 714.2 1352.0 709.8 1351.8 706.8 1352.2 704.3 1355.0 699.3 1353.9 691.9 1354.3 688.2 1353.8 686.9 1350.8 685.5 1349.5 683.7 1347.4 673.3 1347.7 660.9 1346.6 648.5 1346.9 631.1 1346.2 621.2 1346.2 610.1 1346.9 601.4 1346.5 560.5 1345.7 551.8 1346.6 539.4 1346.2 508.4 1346.8 499.7 1345.9 492.3 1346.3 487.3M1399.3 828.2L1395.5 828.8 1391.8 831.5 1388.1 835.7 1387.9 838.2 1390.5 842.5 1403.0 845.2 1405.5 843.9 1407.0 841.9 1407.8 838.2 1407.6 834.5 1406.1 832.0 1404.2 830.4 1399.3 828.2M1461.4 649.6L1459.9 649.7 1458.9 653.5 1459.8 662.1 1461.1 668.3 1468.9 688.4 1470.6 695.6 1475.1 702.6 1480.8 713.0 1484.8 721.7 1485.0 724.1 1483.4 725.4 1481.3 725.6 1466.1 724.1 1462.1 722.9 1460.2 720.8 1457.1 714.2 1446.5 695.8 1441.5 690.9 1439.1 689.5 1437.8 690.6 1437.7 691.9 1438.5 696.9 1441.1 705.5 1447.0 719.2 1446.5 723.0 1442.1 727.9 1442.1 729.1 1444.0 731.0 1450.2 733.8 1452.1 735.3 1454.0 737.9 1457.4 746.5 1456.5 747.9 1445.3 747.0 1434.1 748.8 1431.6 750.2 1430.9 751.4 1431.6 754.0 1435.8 756.4 1446.5 759.7 1450.2 760.2 1460.2 759.8 1463.5 761.3 1464.8 765.1 1463.6 772.5 1464.6 783.7 1465.7 786.1 1470.2 791.9 1471.4 792.5 1473.1 791.1 1474.5 787.4 1475.6 781.2 1475.3 768.8 1476.2 766.3 1477.6 765.7 1481.3 765.7 1483.8 766.3 1490.0 771.5 1510.0 780.0 1529.8 785.5 1533.7 784.9 1535.6 783.7 1535.7 782.4 1534.2 779.9 1532.3 778.3 1523.6 773.4 1517.9 771.3 1512.4 767.0 1501.2 763.3 1493.8 761.6 1487.6 758.6 1481.3 757.8 1477.5 756.4 1468.4 747.7 1465.8 739.0 1465.6 737.8 1466.4 736.2 1478.9 736.0 1485.1 736.9 1487.2 737.8 1492.4 751.4 1495.0 754.6 1498.8 757.3 1500.0 757.5 1501.2 756.8 1502.7 753.9 1503.1 747.7 1502.4 742.7 1502.8 741.5 1503.7 741.3 1510.0 744.4 1516.2 746.3 1541.0 757.3 1562.2 765.1 1564.7 765.6 1570.9 764.2 1573.4 764.8 1575.9 766.4 1578.3 766.3 1577.9 765.1 1574.6 762.7 1572.1 759.9 1567.2 757.6 1562.2 753.9 1555.1 751.4 1544.8 745.8 1539.8 743.7 1532.3 741.1 1503.7 732.9 1492.3 724.1 1490.9 721.7 1488.7 709.3 1480.6 684.5 1476.4 677.5 1472.6 669.4 1468.9 658.1 1465.2 652.4 1461.4 649.6M1593.3 758.8L1589.9 758.9 1590.1 760.1 1594.0 762.6 1598.3 764.3 1602.0 764.6 1605.2 763.8 1605.6 762.6 1603.1 760.1 1599.5 759.1 1593.3 758.8M1629.3 733.8L1623.1 732.9 1618.5 734.1 1620.6 735.5 1629.3 736.5 1635.6 736.7 1641.8 738.6 1645.2 737.8 1645.0 736.5 1641.8 734.8 1634.3 735.3 1629.3 733.8M1610.7 731.4L1608.2 731.1 1607.3 731.6 1607.6 732.8 1610.7 734.3 1613.5 734.1 1613.4 732.8 1610.7 731.4M1457.7 642.9L1456.5 643.3 1456.2 644.8 1457.7 646.5 1458.6 644.8 1457.7 642.9M1463.9 625.8L1462.7 625.1 1461.4 625.5 1460.5 628.7 1461.4 637.1 1462.7 639.4 1463.9 640.1 1465.2 640.1 1466.4 638.7 1467.0 636.1 1466.3 629.9 1465.3 627.4 1463.9 625.8M1493.8 613.8L1492.6 615.0 1493.8 618.4 1495.0 617.6 1495.1 616.3 1493.8 613.8M1491.3 598.9L1490.0 599.6 1489.4 606.3 1490.0 608.7 1492.5 611.3 1494.3 607.6 1494.6 603.9 1493.8 601.5 1491.3 598.9M1488.8 586.0L1487.6 586.1 1487.4 590.2 1488.8 594.1 1490.0 595.8 1490.6 590.2 1488.8 586.0M1475.1 560.1L1473.9 560.4 1473.1 561.7 1472.8 564.2 1474.0 569.1 1475.1 571.2 1476.4 571.3 1477.4 567.9 1477.5 564.2 1476.8 561.7 1475.1 560.1M1480.1 517.0L1478.9 516.1 1477.2 517.1 1477.1 519.5 1478.9 523.0 1480.1 523.1 1481.0 520.8 1480.1 517.0M1335.6 487.3L1335.4 520.8 1336.3 534.4 1335.5 543.1 1336.0 562.9 1335.5 570.4 1336.3 586.5 1335.7 597.7 1336.2 620.0 1335.9 636.1 1335.0 644.8 1335.7 665.9 1332.6 682.0 1332.8 700.6 1330.2 706.8 1328.5 714.2 1330.4 730.3 1328.6 736.5 1328.5 744.0 1327.2 748.9 1329.4 761.3 1329.3 767.5 1331.3 793.6 1330.7 813.4 1332.3 819.6 1333.4 834.5 1332.3 850.6 1331.0 855.6 1329.3 866.7 1328.4 869.7 1327.1 871.4 1325.9 872.1 1323.4 872.1 1314.7 868.9 1308.5 870.8 1303.5 869.0 1298.5 870.2 1291.0 869.5 1286.1 871.2 1274.9 872.4 1263.7 871.5 1256.2 872.8 1253.7 872.8 1245.9 870.5 1243.7 869.2 1241.9 861.8 1241.3 860.3 1240.1 859.5 1237.6 859.7 1232.6 861.2 1226.4 861.3 1223.9 863.2 1221.4 863.6 1220.2 863.0 1217.4 859.3 1215.2 858.0 1212.0 859.3 1209.0 863.1 1195.3 865.5 1191.8 868.0 1187.8 868.9 1182.8 871.3 1169.2 871.9 1155.5 873.7 1140.6 872.7 1130.6 873.3 1120.7 872.1 1110.7 873.6 1094.5 872.5 1085.8 873.2 1072.1 873.2 1065.9 874.0 1058.5 873.1 1036.1 874.0 1028.6 872.8 1014.9 873.3 1007.5 872.3 998.8 872.4 991.3 873.5 982.6 872.6 975.1 873.9 957.7 873.4 951.5 874.4 942.8 873.8M1738.8 874.4L1732.6 873.8 1720.1 874.1 1712.7 873.1 1696.5 873.5 1690.3 873.0 1681.6 871.4 1664.2 874.3 1655.5 872.9 1648.0 873.8 1631.8 872.6 1625.6 873.3 1605.7 873.0 1599.5 873.5 1569.7 872.6 1560.9 873.9 1547.3 873.1 1529.8 873.8 1522.4 873.3 1508.7 870.5 1502.5 871.3 1485.1 870.7 1478.9 868.7 1468.9 870.0 1461.4 868.1 1450.2 863.7 1447.1 868.0 1445.3 869.1 1435.3 871.4 1427.9 870.8 1422.5 871.7 1412.9 872.3 1409.6 871.7 1403.0 869.1 1399.3 870.8 1394.3 870.7 1389.3 871.8 1380.6 869.7 1373.1 871.4 1366.9 871.4 1357.0 872.5 1353.1 871.7 1351.9 870.5 1351.2 868.0 1351.3 859.3 1349.5 850.6 1348.0 837.0 1348.8 827.1 1348.7 819.6 1350.4 810.9 1349.3 801.0 1352.1 792.3 1351.8 787.4 1353.2 772.5 1351.9 763.8 1354.8 757.6 1355.1 755.1 1353.2 749.0 1352.8 745.2 1353.8 737.8 1351.6 731.6 1352.1 724.1 1350.2 713.0 1351.2 700.6 1348.3 687.2 1347.0 675.8 1346.9 659.7 1345.9 648.5 1346.3 631.1 1345.6 610.1 1346.3 602.6 1345.3 551.8 1346.0 527.0 1345.6 507.1 1346.2 499.7 1345.4 493.5 1345.7 487.3M1400.5 830.4L1396.8 830.3 1394.3 831.8 1391.6 834.5 1390.5 837.0 1390.6 838.2 1392.4 840.7 1395.5 842.1 1400.5 842.8 1403.0 842.2 1404.7 840.7 1405.7 838.2 1405.6 834.5 1403.5 832.0 1400.5 830.4M1442.8 694.1L1441.5 693.6 1440.3 694.1 1440.1 696.9 1442.2 705.5 1447.1 716.7 1447.9 720.4 1447.5 722.9 1444.7 727.9 1444.7 729.1 1445.6 730.3 1451.5 733.5 1454.5 736.5 1459.6 747.7 1459.5 748.9 1457.7 749.7 1450.2 748.1 1442.8 748.2 1435.1 750.2 1433.7 751.4 1433.7 752.7 1434.7 753.9 1437.8 755.7 1446.5 758.8 1451.5 759.4 1460.2 758.7 1463.9 760.3 1465.6 763.8 1464.4 772.5 1465.7 783.7 1467.0 786.1 1470.2 789.1 1471.4 789.3 1472.6 788.3 1474.1 784.9 1474.7 781.2 1474.4 767.5 1475.6 765.1 1477.6 764.3 1481.3 764.3 1483.8 765.0 1491.3 771.0 1508.7 778.7 1528.6 783.8 1531.6 783.7 1533.0 782.4 1532.1 779.9 1530.5 778.7 1523.6 774.4 1517.4 771.9 1511.2 767.2 1494.2 762.6 1487.6 759.9 1480.1 758.6 1476.4 756.8 1466.9 747.7 1464.3 737.8 1464.2 736.5 1465.2 735.2 1478.9 735.0 1487.6 736.2 1489.0 737.8 1490.6 745.2 1493.3 751.4 1496.3 754.5 1498.8 755.8 1500.7 755.1 1501.9 752.7 1502.2 747.7 1501.0 740.3 1501.2 738.9 1502.5 737.7 1503.7 738.1 1506.2 740.8 1509.0 742.7 1542.3 757.0 1562.2 764.0 1564.7 764.2 1567.9 762.6 1568.4 761.3 1567.8 760.1 1562.2 755.1 1553.5 751.6 1542.3 745.5 1532.3 742.0 1510.0 735.8 1503.7 735.6 1498.8 730.9 1490.0 724.6 1488.8 724.1 1487.6 724.5 1485.1 726.2 1482.6 726.7 1462.6 724.1 1459.7 721.7 1449.8 703.1 1445.7 696.9 1442.8 694.1M1600.7 761.2L1598.3 760.9 1596.6 761.3 1598.1 762.6 1599.5 762.9 1601.4 762.6 1600.7 761.2M1462.7 653.2L1461.4 653.2 1460.8 654.7 1461.6 665.9 1470.2 689.2 1471.4 695.5 1475.1 700.9 1483.8 716.7 1486.3 719.7 1487.6 719.9 1488.1 717.9 1487.9 710.5 1480.7 686.9 1471.4 668.4 1468.2 659.7 1465.2 655.3 1462.7 653.2M1463.9 628.4L1462.7 628.2 1462.1 631.1 1462.7 636.1 1463.9 637.5 1465.2 636.9 1465.6 634.9 1465.2 630.9 1463.9 628.4M1492.5 603.8L1491.3 603.9 1491.3 606.2 1492.6 606.3 1492.5 603.8M1475.1 561.7L1473.9 562.9 1473.9 564.2 1475.1 567.8 1476.4 565.9 1476.5 564.2 1475.1 561.7M1478.9 519.0L1478.9 519.9 1478.9 519.0M1738.8 875.5L1720.1 875.1 1712.7 874.4 1696.5 874.9 1682.8 873.1 1664.2 875.2 1655.5 874.3 1648.0 875.0 1634.3 874.3 1590.8 874.6 1577.1 873.9 1559.7 875.0 1544.8 874.4 1529.8 875.0 1523.6 874.7 1510.0 872.8 1493.8 873.5 1477.6 872.1 1461.4 872.1 1459.3 871.7 1455.2 869.7 1452.7 869.4 1444.0 872.2 1435.3 873.0 1427.9 872.5 1412.9 873.7 1404.2 872.5 1399.3 873.2 1388.1 873.4 1380.6 871.8 1373.1 872.9 1357.0 873.7 1354.5 873.4 1352.0 872.3 1350.6 870.5 1350.1 868.0 1349.9 859.3 1347.2 837.0 1347.7 819.6 1348.9 808.5 1348.3 801.0 1350.6 783.7 1351.3 772.5 1350.5 763.8 1351.9 756.4 1350.6 745.2 1351.1 737.8 1349.8 730.3 1350.4 722.9 1348.5 714.2 1349.2 703.1 1346.9 685.7 1345.2 648.5 1345.5 631.1 1345.0 610.1 1345.5 602.6 1344.7 551.8 1345.2 528.2 1345.0 487.3M1336.4 487.3L1336.2 519.5 1337.0 534.4 1336.2 543.1 1336.7 561.7 1336.3 570.4 1337.0 586.5 1336.4 598.9 1336.6 636.1 1335.9 644.8 1336.3 665.9 1334.3 683.2 1334.2 699.3 1332.0 708.0 1331.3 714.2 1332.1 729.1 1331.1 735.3 1330.2 750.2 1332.5 789.9 1332.7 801.0 1332.2 812.2 1333.4 818.4 1334.3 833.3 1333.3 849.8 1331.3 864.3 1330.0 869.2 1328.4 872.1 1327.1 873.0 1324.6 873.5 1315.9 872.1 1309.7 872.8 1303.5 871.9 1298.5 872.3 1292.3 872.0 1284.8 873.2 1274.9 873.7 1263.7 873.2 1253.7 874.0 1237.7 871.7 1235.3 870.5 1233.8 867.9 1231.3 866.5 1220.2 868.7 1213.9 867.7 1206.5 869.3 1203.0 871.7 1200.0 872.9 1196.5 873.0 1190.3 872.0 1184.1 873.2 1167.9 873.6 1155.5 874.7 1144.3 874.4 1131.8 874.8 1120.7 873.6 1110.7 874.7 1094.5 873.9 1065.9 875.0 1058.5 874.3 1034.8 875.0 1027.4 874.2 1014.9 874.5 1007.5 873.7 990.1 874.6 982.6 874.3 975.1 875.1 957.7 874.6 951.5 875.4 942.8 875.0M1400.5 834.0L1398.0 833.3 1395.5 834.4 1394.3 836.4 1394.5 838.2 1395.7 839.5 1398.0 840.2 1401.0 839.5 1402.2 837.0 1401.7 835.3 1400.5 834.0M1466.4 750.0L1463.9 749.0 1460.3 751.4 1459.0 751.6 1451.5 749.5 1444.0 749.3 1439.1 750.9 1438.1 751.4 1437.6 752.7 1438.3 753.9 1440.3 755.3 1447.8 757.9 1452.7 758.2 1460.2 757.0 1462.7 757.7 1465.2 759.5 1466.4 761.3 1466.9 763.8 1465.5 772.5 1466.9 782.4 1467.8 784.9 1470.2 786.8 1471.4 786.6 1472.6 785.1 1473.5 782.4 1473.1 765.1 1473.9 763.2 1475.1 762.2 1478.0 761.3 1477.8 760.1 1466.4 750.0M1490.0 762.3L1486.3 762.0 1485.1 762.6 1488.8 767.7 1495.0 771.4 1510.0 777.9 1523.6 781.1 1526.5 781.2 1527.9 779.9 1524.0 776.2 1517.4 773.1 1511.2 768.5 1490.0 762.3M1516.2 738.8L1510.0 737.8 1508.4 739.0 1510.6 741.5 1520.3 746.5 1542.3 755.9 1552.2 759.4 1560.9 761.7 1563.4 762.0 1564.7 761.3 1564.1 758.9 1561.4 756.4 1553.5 752.8 1544.8 747.8 1532.3 743.1 1516.2 738.8M1444.0 698.8L1443.0 700.6 1443.4 704.3 1448.7 719.2 1448.6 722.9 1447.3 727.9 1447.8 729.1 1456.2 736.5 1459.8 744.0 1461.4 745.9 1462.7 746.6 1464.0 745.2 1464.0 742.7 1462.4 736.5 1463.9 734.1 1466.4 733.6 1486.3 733.8 1488.8 734.8 1490.2 736.5 1491.8 745.2 1494.6 751.4 1497.5 753.7 1498.8 753.9 1500.0 753.3 1501.1 750.2 1501.0 746.5 1499.5 740.3 1499.5 735.3 1497.1 731.6 1492.5 728.3 1490.0 727.3 1482.6 728.2 1475.1 726.7 1463.9 725.5 1461.4 724.5 1458.4 721.7 1447.8 702.4 1444.0 698.8M1465.2 659.2L1463.9 658.9 1462.8 660.9 1463.1 665.9 1468.4 682.0 1471.4 689.4 1472.4 694.4 1481.3 709.8 1483.8 712.9 1485.1 713.5 1486.2 711.7 1486.1 709.3 1479.4 686.9 1470.7 669.6 1467.7 662.2 1465.2 659.2M1738.8 876.7L1712.7 875.8 1696.5 876.2 1682.8 874.9 1664.2 876.3 1655.5 875.7 1648.0 876.2 1635.6 875.7 1592.0 875.9 1575.9 875.3 1560.9 876.2 1539.8 875.7 1531.1 876.2 1510.0 874.7 1495.0 875.2 1477.6 874.3 1460.2 874.5 1451.5 873.7 1434.1 874.5 1426.6 874.2 1412.9 875.1 1405.5 874.5 1388.1 874.7 1380.6 873.6 1357.0 874.8 1353.2 874.3 1350.9 872.9 1349.3 870.5 1348.8 868.0 1348.7 860.5 1346.3 837.0 1347.5 808.5 1347.3 801.0 1349.4 773.7 1349.0 765.1 1349.4 757.6 1348.8 744.0 1349.2 737.8 1348.3 730.3 1348.8 722.9 1347.1 714.2 1347.6 704.3 1345.7 684.5 1344.3 648.5 1344.2 487.3M1337.4 487.3L1337.2 519.5 1337.7 534.4 1337.2 543.1 1337.2 570.4 1337.7 586.5 1337.4 636.1 1336.9 644.8 1337.2 665.9 1335.6 683.2 1335.3 699.3 1333.5 710.5 1333.2 719.2 1333.7 727.9 1332.7 735.3 1332.2 750.2 1334.1 799.8 1333.7 812.2 1334.6 818.4 1335.2 833.3 1334.3 849.4 1332.7 864.3 1331.6 869.2 1329.6 872.9 1327.1 874.4 1324.6 874.7 1303.5 873.8 1253.7 875.3 1235.1 874.0 1226.4 872.4 1220.2 873.2 1212.7 873.2 1200.3 874.8 1190.3 874.2 1155.5 875.9 1131.8 876.1 1120.7 875.1 1112.0 875.9 1095.8 875.3 1065.9 876.2 1057.2 875.7 1033.6 876.2 1027.4 875.5 1013.7 875.8 1006.2 875.2 975.1 876.4 957.7 875.9 951.5 876.5 942.8 876.3M1470.2 765.9L1468.9 766.0 1467.7 768.2 1466.8 772.5 1468.8 782.4 1470.2 783.8 1471.4 783.1 1472.1 779.9 1471.8 771.3 1470.2 765.9M1493.8 765.0L1490.3 765.1 1490.4 766.3 1493.3 768.8 1506.2 775.2 1511.2 776.7 1520.3 777.5 1510.0 769.4 1493.8 765.0M1467.7 753.6L1465.2 752.8 1463.5 753.9 1463.8 755.1 1465.0 756.4 1468.9 758.4 1469.5 756.4 1467.7 753.6M1524.9 742.6L1519.9 741.8 1518.3 742.7 1523.5 746.5 1542.3 754.5 1553.5 757.8 1557.2 758.1 1558.1 757.6 1544.8 749.3 1532.3 744.5 1524.9 742.6M1452.7 751.3L1445.3 750.8 1442.7 751.4 1441.5 752.7 1441.9 753.9 1443.8 755.1 1449.0 756.7 1454.0 756.6 1457.0 755.1 1457.2 753.9 1455.9 752.7 1452.7 751.3M1491.3 731.5L1491.2 732.8 1492.6 736.5 1492.7 742.7 1493.8 747.0 1496.3 751.1 1497.5 751.7 1498.8 751.4 1499.8 748.9 1499.7 746.5 1496.5 735.3 1494.6 732.8 1491.3 731.5M1447.8 707.2L1447.1 708.0 1447.3 709.3 1450.0 719.2 1449.6 727.9 1451.5 730.3 1456.5 734.6 1459.0 735.8 1463.9 732.4 1473.9 732.2 1478.1 731.6 1479.7 730.3 1477.9 729.1 1475.1 728.3 1463.9 726.7 1460.2 725.0 1457.0 721.7 1447.8 707.2M1466.4 666.4L1468.1 677.0 1474.4 694.4 1478.9 702.2 1481.3 705.3 1482.5 704.3 1482.2 701.8 1477.9 686.9 1472.6 675.6 1466.4 666.4M1738.8 877.9L1711.4 877.1 1696.5 877.4 1682.8 876.4 1648.0 877.4 1620.6 876.9 1592.0 877.2 1575.9 876.5 1558.5 877.3 1524.9 877.2 1510.0 876.2 1495.0 876.6 1476.4 875.7 1426.6 875.6 1411.7 876.3 1388.1 875.9 1379.4 875.2 1358.2 875.9 1353.2 875.4 1349.5 873.2 1348.1 870.5 1347.7 868.0 1345.4 837.0 1346.2 799.8 1347.9 773.7 1347.2 753.9 1347.6 737.8 1346.9 730.3 1347.2 722.9 1345.8 714.2 1346.2 704.3 1344.7 684.5 1343.5 648.5 1343.3 487.3M1338.3 487.3L1338.1 519.5 1338.6 534.4 1338.1 541.9 1338.0 570.4 1338.6 587.7 1338.1 600.1 1338.0 665.9 1336.7 683.2 1336.4 699.3 1335.0 709.3 1335.1 727.9 1334.2 735.3 1333.9 747.7 1334.4 782.4 1335.3 799.8 1334.9 810.9 1335.7 818.4 1336.2 833.3 1335.3 850.6 1333.8 865.5 1332.8 870.5 1330.8 873.6 1328.4 875.3 1324.6 875.9 1304.7 875.3 1255.0 876.5 1226.4 875.0 1201.5 876.2 1190.3 875.7 1133.1 877.3 1120.7 876.5 1112.0 877.1 1095.8 876.7 1065.9 877.3 1013.7 877.1 1006.2 876.6 975.1 877.5 957.7 877.2 942.8 877.6M1506.2 769.8L1501.7 770.0 1504.4 772.5 1507.5 774.1 1511.2 774.6 1512.2 773.7 1510.0 771.3 1506.2 769.8M1451.5 753.4L1449.0 753.2 1448.0 753.9 1451.5 754.5 1452.4 753.9 1451.5 753.4M1543.5 751.1L1541.0 750.6 1540.7 751.4 1543.2 752.7 1545.4 752.7 1543.5 751.1M1496.3 742.2L1495.0 742.1 1495.0 745.2 1496.3 747.9 1497.5 748.1 1497.7 745.2 1496.3 742.2M1531.1 746.4L1529.6 746.5 1530.9 747.7 1532.3 748.1 1533.6 748.4 1534.5 747.7 1531.1 746.4M1454.0 720.3L1452.7 719.4 1452.2 720.4 1451.2 726.6 1452.2 729.1 1455.2 732.0 1457.7 733.2 1459.0 733.1 1465.2 729.1 1462.7 728.1 1459.0 725.4 1454.0 720.3M1471.4 678.0L1471.4 681.5 1473.9 686.1 1474.7 685.7 1473.9 682.0 1471.4 678.0M1738.8 879.3L1709.0 878.3 1696.5 878.6 1682.8 877.9 1648.0 878.7 1620.6 878.1 1592.0 878.5 1575.9 877.8 1563.4 878.5 1523.6 878.3 1503.7 877.3 1495.0 877.8 1476.4 877.0 1398.0 877.3 1379.4 876.5 1358.2 876.9 1352.0 876.1 1348.9 874.2 1347.2 871.7 1346.5 869.2 1344.3 837.0 1345.0 799.8 1346.3 773.7 1345.4 755.1 1346.0 737.8 1345.6 724.1 1344.4 714.2 1344.8 704.3 1344.1 696.9 1342.2 638.6 1342.7 628.7 1342.0 586.5 1342.1 487.3M1339.5 487.3L1339.2 519.5 1339.8 534.4 1339.2 541.9 1339.1 570.4 1339.9 587.7 1339.2 602.6 1339.1 665.9 1337.7 684.5 1337.7 698.1 1336.4 709.3 1336.5 727.9 1335.7 735.3 1335.5 747.7 1335.8 783.7 1336.5 799.8 1336.2 810.9 1337.1 834.5 1334.9 868.0 1333.9 871.7 1332.2 874.2 1328.4 876.6 1324.6 877.0 1304.7 876.6 1255.0 877.5 1226.4 876.6 1202.7 877.5 1190.3 877.1 1133.1 878.4 1120.7 877.8 1112.0 878.4 1095.8 878.0 1065.9 878.5 1006.2 877.9 942.8 878.8M1456.5 725.2L1454.0 724.5 1453.2 726.6 1453.4 727.9 1456.5 730.9 1459.0 730.8 1460.1 729.1 1459.5 727.9 1456.5 725.2M1738.8 880.9L1731.3 880.1 1682.8 879.3 1655.5 879.5 1646.8 880.2 1621.9 879.5 1600.7 879.9 1575.9 879.2 1565.9 879.8 1523.6 879.5 1503.7 878.6 1495.0 879.0 1476.4 878.3 1396.8 878.5 1380.6 877.8 1358.2 878.0 1350.5 876.7 1347.2 874.2 1345.1 869.2 1343.2 838.2 1343.9 814.7 1344.0 778.7 1344.6 773.7 1343.2 755.1 1344.0 747.7 1344.1 736.5 1343.7 722.9 1342.6 715.5 1343.3 705.5 1342.3 696.9 1342.0 679.0 1340.8 671.5 1339.5 678.3 1339.4 696.9 1338.1 708.0 1338.2 727.9 1337.4 746.5 1337.8 755.1 1337.3 783.7 1337.9 799.8 1337.4 809.7 1338.3 834.5 1337.8 850.6 1336.1 870.5 1334.1 874.2 1330.8 876.7 1325.9 878.1 1314.7 878.3 1306.0 877.8 1255.0 878.7 1225.1 878.0 1204.0 878.8 1190.3 878.3 1150.5 879.5 1121.9 879.2 1112.0 879.7 1095.8 879.4 1067.2 879.8 1006.2 879.4 942.8 880.1M1736.3 884.1L1734.7 882.9 1731.3 882.1 1717.7 882.0 1706.5 881.0 1655.5 881.1 1646.8 882.6 1638.2 881.6 1623.1 881.0 1608.2 881.0 1599.5 881.9 1577.1 880.9 1567.2 881.5 1556.0 881.0 1546.0 881.4 1503.7 880.0 1482.6 880.1 1476.4 879.6 1398.0 879.7 1355.7 878.9 1352.0 878.3 1348.3 876.7 1345.5 874.2 1343.9 871.7 1340.8 849.6 1337.8 871.7 1336.0 874.2 1332.1 877.3 1329.6 878.5 1325.9 879.3 1313.4 879.5 1304.7 879.1 1256.2 879.9 1220.2 879.5 1205.2 880.2 1192.8 879.6 1150.5 881.1 1124.4 880.8 1110.7 881.5 1088.3 881.1 1070.9 881.7 1059.7 881.0 1051.0 881.4 1038.6 880.9 981.4 881.3 966.4 882.0 957.7 881.6 951.5 882.4 942.8 881.8M1340.8 841.3L1340.8 847.5 1340.8 841.3M1340.8 801.3L1339.6 803.7 1339.2 808.5 1340.8 832.8 1342.4 814.7 1342.1 804.7 1340.8 801.3M1340.8 781.8L1339.6 786.1 1340.0 792.3 1340.8 795.9 1341.9 791.1 1342.1 787.4 1340.8 781.8M1146.2 884.1L1140.6 883.0 1133.2 884.1M1519.7 884.1L1516.2 883.0 1506.2 882.1 1483.8 882.2 1476.4 881.2 1466.4 881.9 1456.5 881.3 1398.0 881.2 1385.6 880.5 1358.2 880.2 1353.2 879.7 1349.5 878.7 1342.0 873.4 1340.8 873.1 1330.8 879.3 1324.6 880.7 1217.7 881.1 1205.2 882.3 1194.0 881.2 1182.8 881.9 1176.6 883.2 1167.9 882.6 1162.9 883.5 1156.7 883.3 1153.8 884.1M1559.2 884.1L1556.0 883.3 1552.2 884.1M1708.8 884.1L1706.5 883.5 1703.0 884.1" fill="none" stroke="#3a2bff" stroke-opacity="0.8" stroke-width="1"/><path d="M1340.8 489V880" stroke="#8a1010" stroke-width="1.4" stroke-dasharray="4 7"/></g>
<path d="M1042.3 884.4v-17.0M1042.3 487.2v17.0M1141.8 884.4v-17.0M1141.8 487.2v17.0M1241.3 884.4v-17.0M1241.3 487.2v17.0M1440.3 884.4v-17.0M1440.3 487.2v17.0M1539.8 884.4v-17.0M1539.8 487.2v17.0M1639.3 884.4v-17.0M1639.3 487.2v17.0" stroke="#1a1a1a" stroke-width="3.3" fill="none"/>
<path d="M1340.8 784.9h17.5M1340.8 685.7h17.5M1340.8 586.5h17.5" stroke="#1a1a1a" stroke-width="2.2" fill="none"/>
<rect x="942.9" y="487.2" width="795.9" height="397.2" fill="none" stroke="#1a1a1a" stroke-width="3.7"/>
<text x="2.56" y="55.97" font-family="Liberation Serif, Times New Roman, serif" font-size="58.76" font-weight="bold" fill="#000" textLength="41.08" lengthAdjust="spacingAndGlyphs">A</text>
<text x="117.97" y="46.87" font-family="Liberation Sans, Arial, sans-serif" font-size="30.77" font-weight="bold" fill="#000" textLength="150.63" lengthAdjust="spacingAndGlyphs">HYSCORE</text>
<text x="226.46" y="109.71" font-family="Liberation Serif, Times New Roman, serif" font-size="26.65" font-style="italic" fill="#000" textLength="14.91" lengthAdjust="spacingAndGlyphs">π</text>
<text x="242.80" y="109.55" font-family="Liberation Sans, Arial, sans-serif" font-size="23.02" fill="#000" textLength="22.09" lengthAdjust="spacingAndGlyphs">/2</text>
<text x="305.84" y="108.97" font-family="Liberation Serif, Times New Roman, serif" font-size="26.23" font-style="italic" fill="#000" textLength="14.61" lengthAdjust="spacingAndGlyphs">π</text>
<text x="322.08" y="108.77" font-family="Liberation Sans, Arial, sans-serif" font-size="24.65" fill="#000" textLength="22.16" lengthAdjust="spacingAndGlyphs">/2</text>
<text x="552.22" y="109.74" font-family="Liberation Serif, Times New Roman, serif" font-size="26.38" font-style="italic" fill="#000" textLength="15.02" lengthAdjust="spacingAndGlyphs">π</text>
<text x="567.69" y="110.09" font-family="Liberation Sans, Arial, sans-serif" font-size="23.39" fill="#000" textLength="22.09" lengthAdjust="spacingAndGlyphs">/2</text>
<text x="444.86" y="106.89" font-family="Liberation Serif, Times New Roman, serif" font-size="29.73" font-style="italic" fill="#000" textLength="16.05" lengthAdjust="spacingAndGlyphs">π</text>
<text x="617.55" y="111.42" font-family="Liberation Sans, Arial, sans-serif" font-size="23.83" fill="#000" textLength="54.76" lengthAdjust="spacingAndGlyphs">echo</text>
<text x="274.11" y="200.44" font-family="Liberation Serif, Times New Roman, serif" font-size="26.38" font-style="italic" fill="#000" textLength="11.76" lengthAdjust="spacingAndGlyphs">τ</text>
<text x="607.99" y="201.92" font-family="Liberation Serif, Times New Roman, serif" font-size="26.51" font-style="italic" fill="#000" textLength="11.71" lengthAdjust="spacingAndGlyphs">τ</text>
<text x="369.55" y="200.81" font-family="Liberation Sans, Arial, sans-serif" font-size="24.68" font-style="italic" fill="#000" textLength="24.75" lengthAdjust="spacingAndGlyphs">T1</text>
<text x="503.17" y="202.12" font-family="Liberation Sans, Arial, sans-serif" font-size="24.58" font-style="italic" fill="#000" textLength="25.32" lengthAdjust="spacingAndGlyphs">T2</text>
<text x="386.03" y="148.03" font-family="Liberation Sans, Arial, sans-serif" font-size="17.83" fill="#ff1f1f" textLength="27.43" lengthAdjust="spacingAndGlyphs">dT1</text>
<text x="520.41" y="146.06" font-family="Liberation Sans, Arial, sans-serif" font-size="17.18" fill="#ff1f1f" textLength="29.90" lengthAdjust="spacingAndGlyphs">dT2</text>
<text x="2.34" y="301.11" font-family="Liberation Serif, Times New Roman, serif" font-size="56.42" font-weight="bold" fill="#000" textLength="37.64" lengthAdjust="spacingAndGlyphs">B</text>
<text x="134.64" y="316.16" font-family="Liberation Sans, Arial, sans-serif" font-size="33.34" font-weight="bold" fill="#000" textLength="114.19" lengthAdjust="spacingAndGlyphs">Cr[Na]</text>
<text x="57.54" y="253.84" font-family="Liberation Sans, Arial, sans-serif" font-size="30.89" font-weight="bold" fill="#1e1e1e" textLength="31.44" lengthAdjust="spacingAndGlyphs">10</text>
<text x="73.38" y="383.74" font-family="Liberation Sans, Arial, sans-serif" font-size="30.89" font-weight="bold" fill="#1e1e1e" textLength="15.89" lengthAdjust="spacingAndGlyphs">8</text>
<text x="73.18" y="513.64" font-family="Liberation Sans, Arial, sans-serif" font-size="30.89" font-weight="bold" fill="#1e1e1e" textLength="16.28" lengthAdjust="spacingAndGlyphs">6</text>
<text x="73.78" y="644.18" font-family="Liberation Sans, Arial, sans-serif" font-size="29.84" font-weight="bold" fill="#1e1e1e" textLength="14.58" lengthAdjust="spacingAndGlyphs">4</text>
<text x="73.38" y="773.82" font-family="Liberation Sans, Arial, sans-serif" font-size="29.91" font-weight="bold" fill="#1e1e1e" textLength="15.89" lengthAdjust="spacingAndGlyphs">2</text>
<text x="210.86" y="919.37" font-family="Liberation Sans, Arial, sans-serif" font-size="28.97" font-weight="bold" fill="#1e1e1e" textLength="16.78" lengthAdjust="spacingAndGlyphs">2</text>
<text x="341.42" y="919.37" font-family="Liberation Sans, Arial, sans-serif" font-size="28.97" font-weight="bold" fill="#1e1e1e" textLength="14.58" lengthAdjust="spacingAndGlyphs">4</text>
<text x="470.28" y="919.37" font-family="Liberation Sans, Arial, sans-serif" font-size="28.97" font-weight="bold" fill="#1e1e1e" textLength="17.40" lengthAdjust="spacingAndGlyphs">6</text>
<text x="600.14" y="919.37" font-family="Liberation Sans, Arial, sans-serif" font-size="28.97" font-weight="bold" fill="#1e1e1e" textLength="16.70" lengthAdjust="spacingAndGlyphs">8</text>
<text x="722.58" y="919.37" font-family="Liberation Sans, Arial, sans-serif" font-size="28.97" font-weight="bold" fill="#1e1e1e" textLength="31.77" lengthAdjust="spacingAndGlyphs">10</text>
<text x="370.53" y="957.70" font-family="Liberation Sans, Arial, sans-serif" font-size="30.83" font-weight="bold" fill="#1e1e1e" textLength="106.09" lengthAdjust="spacingAndGlyphs">T2 (<tspan font-family="Liberation Serif, serif" font-style="italic" font-weight="normal">μ</tspan>s)</text>
<text transform="translate(44.73 611.80) rotate(-90)" font-family="Liberation Sans, Arial, sans-serif" font-size="30.33" font-weight="bold" fill="#1e1e1e" textLength="104.91" lengthAdjust="spacingAndGlyphs">T1 (<tspan font-family="Liberation Serif, serif" font-style="italic" font-weight="normal">μ</tspan>s)</text>
<text x="808.64" y="260.29" font-family="Liberation Sans, Arial, sans-serif" font-size="31.40" fill="#000" textLength="11.07" lengthAdjust="spacingAndGlyphs">1</text>
<text x="808.90" y="878.69" font-family="Liberation Sans, Arial, sans-serif" font-size="31.40" fill="#000" textLength="17.78" lengthAdjust="spacingAndGlyphs">0</text>
<text x="853.07" y="41.69" font-family="Liberation Serif, Times New Roman, serif" font-size="57.72" font-weight="bold" fill="#000" textLength="43.47" lengthAdjust="spacingAndGlyphs">C</text>
<text x="1000.56" y="74.39" font-family="Liberation Sans, Arial, sans-serif" font-size="28.61" font-weight="bold" fill="#000" textLength="101.04" lengthAdjust="spacingAndGlyphs">Cr[Na]</text>
<text x="937.54" y="435.15" font-family="Liberation Sans, Arial, sans-serif" font-size="29.60" font-weight="bold" fill="#1e1e1e" textLength="25.98" lengthAdjust="spacingAndGlyphs">-8</text>
<text x="1035.14" y="435.15" font-family="Liberation Sans, Arial, sans-serif" font-size="29.60" font-weight="bold" fill="#1e1e1e" textLength="25.98" lengthAdjust="spacingAndGlyphs">-6</text>
<text x="1133.84" y="435.15" font-family="Liberation Sans, Arial, sans-serif" font-size="29.60" font-weight="bold" fill="#1e1e1e" textLength="24.92" lengthAdjust="spacingAndGlyphs">-4</text>
<text x="1231.90" y="435.27" font-family="Liberation Sans, Arial, sans-serif" font-size="29.60" font-weight="bold" fill="#1e1e1e" textLength="25.32" lengthAdjust="spacingAndGlyphs">-2</text>
<text x="1334.46" y="435.27" font-family="Liberation Sans, Arial, sans-serif" font-size="29.60" font-weight="bold" fill="#1e1e1e" textLength="16.03" lengthAdjust="spacingAndGlyphs">0</text>
<text x="1432.38" y="435.27" font-family="Liberation Sans, Arial, sans-serif" font-size="29.60" font-weight="bold" fill="#1e1e1e" textLength="16.71" lengthAdjust="spacingAndGlyphs">2</text>
<text x="1531.50" y="435.27" font-family="Liberation Sans, Arial, sans-serif" font-size="29.60" font-weight="bold" fill="#1e1e1e" textLength="15.09" lengthAdjust="spacingAndGlyphs">4</text>
<text x="1629.12" y="435.27" font-family="Liberation Sans, Arial, sans-serif" font-size="29.60" font-weight="bold" fill="#1e1e1e" textLength="16.03" lengthAdjust="spacingAndGlyphs">6</text>
<text x="1727.14" y="435.27" font-family="Liberation Sans, Arial, sans-serif" font-size="29.60" font-weight="bold" fill="#1e1e1e" textLength="15.79" lengthAdjust="spacingAndGlyphs">8</text>
<text x="1315.55" y="310.83" font-family="Liberation Sans, Arial, sans-serif" font-size="29.51" font-weight="bold" fill="#1e1e1e" textLength="16.98" lengthAdjust="spacingAndGlyphs">2</text>
<text x="1316.05" y="212.53" font-family="Liberation Sans, Arial, sans-serif" font-size="29.51" font-weight="bold" fill="#1e1e1e" textLength="15.15" lengthAdjust="spacingAndGlyphs">4</text>
<text x="1315.25" y="114.23" font-family="Liberation Sans, Arial, sans-serif" font-size="29.51" font-weight="bold" fill="#1e1e1e" textLength="16.38" lengthAdjust="spacingAndGlyphs">6</text>
<text x="1296.60" y="464.99" font-family="Liberation Serif, Times New Roman, serif" font-size="32.15" font-weight="bold" font-style="italic" fill="#111" textLength="18.83" lengthAdjust="spacingAndGlyphs">ϑ</text>
<text x="1319.23" y="471.79" font-family="Liberation Serif, Times New Roman, serif" font-size="25.84" font-weight="bold" font-style="italic" fill="#111" textLength="24.82" lengthAdjust="spacingAndGlyphs">I<tspan font-style="normal">1</tspan></text>
<text x="1351.38" y="464.25" font-family="Liberation Sans, Arial, sans-serif" font-size="29.19" font-weight="bold" fill="#111" textLength="87.27" lengthAdjust="spacingAndGlyphs">(MHz)</text>
<text transform="translate(932.72 283.18) rotate(-90)" font-family="Liberation Serif, Times New Roman, serif" font-size="31.60" font-weight="bold" font-style="italic" fill="#111" textLength="18.18" lengthAdjust="spacingAndGlyphs">ϑ</text>
<text transform="translate(939.54 260.59) rotate(-90)" font-family="Liberation Serif, Times New Roman, serif" font-size="25.27" font-weight="bold" font-style="italic" fill="#111" textLength="23.11" lengthAdjust="spacingAndGlyphs">I<tspan font-style="normal">2</tspan></text>
<text transform="translate(932.41 228.42) rotate(-90)" font-family="Liberation Sans, Arial, sans-serif" font-size="29.23" font-weight="bold" fill="#111" textLength="87.98" lengthAdjust="spacingAndGlyphs">(MHz)</text>
<text x="854.40" y="519.89" font-family="Liberation Serif, Times New Roman, serif" font-size="57.86" font-weight="bold" fill="#000" textLength="42.46" lengthAdjust="spacingAndGlyphs">D</text>
<text x="999.09" y="544.18" font-family="Liberation Sans, Arial, sans-serif" font-size="30.14" font-weight="bold" fill="#000" textLength="164.44" lengthAdjust="spacingAndGlyphs">Simulation</text>
<text x="1025.35" y="588.07" font-family="Liberation Sans, Arial, sans-serif" font-size="21.40" font-weight="bold" fill="#ff2020" textLength="35.33" lengthAdjust="spacingAndGlyphs">133</text>
<text x="1060.80" y="597.64" font-family="Liberation Sans, Arial, sans-serif" font-size="32.45" font-weight="bold" fill="#ff2020" textLength="40.69" lengthAdjust="spacingAndGlyphs">Cs</text>
<text x="1009.08" y="630.54" font-family="Liberation Sans, Arial, sans-serif" font-size="19.13" font-weight="bold" fill="#2020ff" textLength="54.10" lengthAdjust="spacingAndGlyphs">35,37</text>
<text x="1062.90" y="640.93" font-family="Liberation Sans, Arial, sans-serif" font-size="30.63" font-weight="bold" fill="#2020ff" textLength="36.02" lengthAdjust="spacingAndGlyphs">Cl</text>
<text x="928.74" y="921.37" font-family="Liberation Sans, Arial, sans-serif" font-size="30.49" font-weight="bold" fill="#1e1e1e" textLength="25.98" lengthAdjust="spacingAndGlyphs">-8</text>
<text x="1027.74" y="921.37" font-family="Liberation Sans, Arial, sans-serif" font-size="30.49" font-weight="bold" fill="#1e1e1e" textLength="25.98" lengthAdjust="spacingAndGlyphs">-6</text>
<text x="1127.84" y="921.37" font-family="Liberation Sans, Arial, sans-serif" font-size="30.49" font-weight="bold" fill="#1e1e1e" textLength="24.92" lengthAdjust="spacingAndGlyphs">-4</text>
<text x="1226.74" y="921.37" font-family="Liberation Sans, Arial, sans-serif" font-size="30.49" font-weight="bold" fill="#1e1e1e" textLength="25.98" lengthAdjust="spacingAndGlyphs">-2</text>
<text x="1331.30" y="921.37" font-family="Liberation Sans, Arial, sans-serif" font-size="30.49" font-weight="bold" fill="#1e1e1e" textLength="16.71" lengthAdjust="spacingAndGlyphs">0</text>
<text x="1430.82" y="921.37" font-family="Liberation Sans, Arial, sans-serif" font-size="30.49" font-weight="bold" fill="#1e1e1e" textLength="16.91" lengthAdjust="spacingAndGlyphs">2</text>
<text x="1531.24" y="921.37" font-family="Liberation Sans, Arial, sans-serif" font-size="30.49" font-weight="bold" fill="#1e1e1e" textLength="15.22" lengthAdjust="spacingAndGlyphs">4</text>
<text x="1629.56" y="921.37" font-family="Liberation Sans, Arial, sans-serif" font-size="30.49" font-weight="bold" fill="#1e1e1e" textLength="16.71" lengthAdjust="spacingAndGlyphs">6</text>
<text x="1729.68" y="921.37" font-family="Liberation Sans, Arial, sans-serif" font-size="30.49" font-weight="bold" fill="#1e1e1e" textLength="15.51" lengthAdjust="spacingAndGlyphs">8</text>
<text x="1314.79" y="795.27" font-family="Liberation Sans, Arial, sans-serif" font-size="30.49" font-weight="bold" fill="#1e1e1e" textLength="16.75" lengthAdjust="spacingAndGlyphs">2</text>
<text x="1314.99" y="696.07" font-family="Liberation Sans, Arial, sans-serif" font-size="30.49" font-weight="bold" fill="#1e1e1e" textLength="15.27" lengthAdjust="spacingAndGlyphs">4</text>
<text x="1314.39" y="596.87" font-family="Liberation Sans, Arial, sans-serif" font-size="30.49" font-weight="bold" fill="#1e1e1e" textLength="16.45" lengthAdjust="spacingAndGlyphs">6</text>
<text x="1296.53" y="947.50" font-family="Liberation Serif, Times New Roman, serif" font-size="31.60" font-weight="bold" font-style="italic" fill="#111" textLength="19.46" lengthAdjust="spacingAndGlyphs">ϑ</text>
<text x="1318.48" y="954.06" font-family="Liberation Serif, Times New Roman, serif" font-size="26.51" font-weight="bold" font-style="italic" fill="#111" textLength="24.19" lengthAdjust="spacingAndGlyphs">I<tspan font-style="normal">1</tspan></text>
<text x="1351.47" y="946.92" font-family="Liberation Sans, Arial, sans-serif" font-size="29.52" font-weight="bold" fill="#111" textLength="87.56" lengthAdjust="spacingAndGlyphs">(MHz)</text>
<text transform="translate(928.94 757.70) rotate(-90)" font-family="Liberation Serif, Times New Roman, serif" font-size="32.59" font-weight="bold" font-style="italic" fill="#111" textLength="18.85" lengthAdjust="spacingAndGlyphs">ϑ</text>
<text transform="translate(935.74 735.82) rotate(-90)" font-family="Liberation Serif, Times New Roman, serif" font-size="25.15" font-weight="bold" font-style="italic" fill="#111" textLength="24.14" lengthAdjust="spacingAndGlyphs">I<tspan font-style="normal">2</tspan></text>
<text transform="translate(928.81 703.42) rotate(-90)" font-family="Liberation Sans, Arial, sans-serif" font-size="28.52" font-weight="bold" fill="#111" textLength="86.90" lengthAdjust="spacingAndGlyphs">(MHz)</text></svg></body></html>
